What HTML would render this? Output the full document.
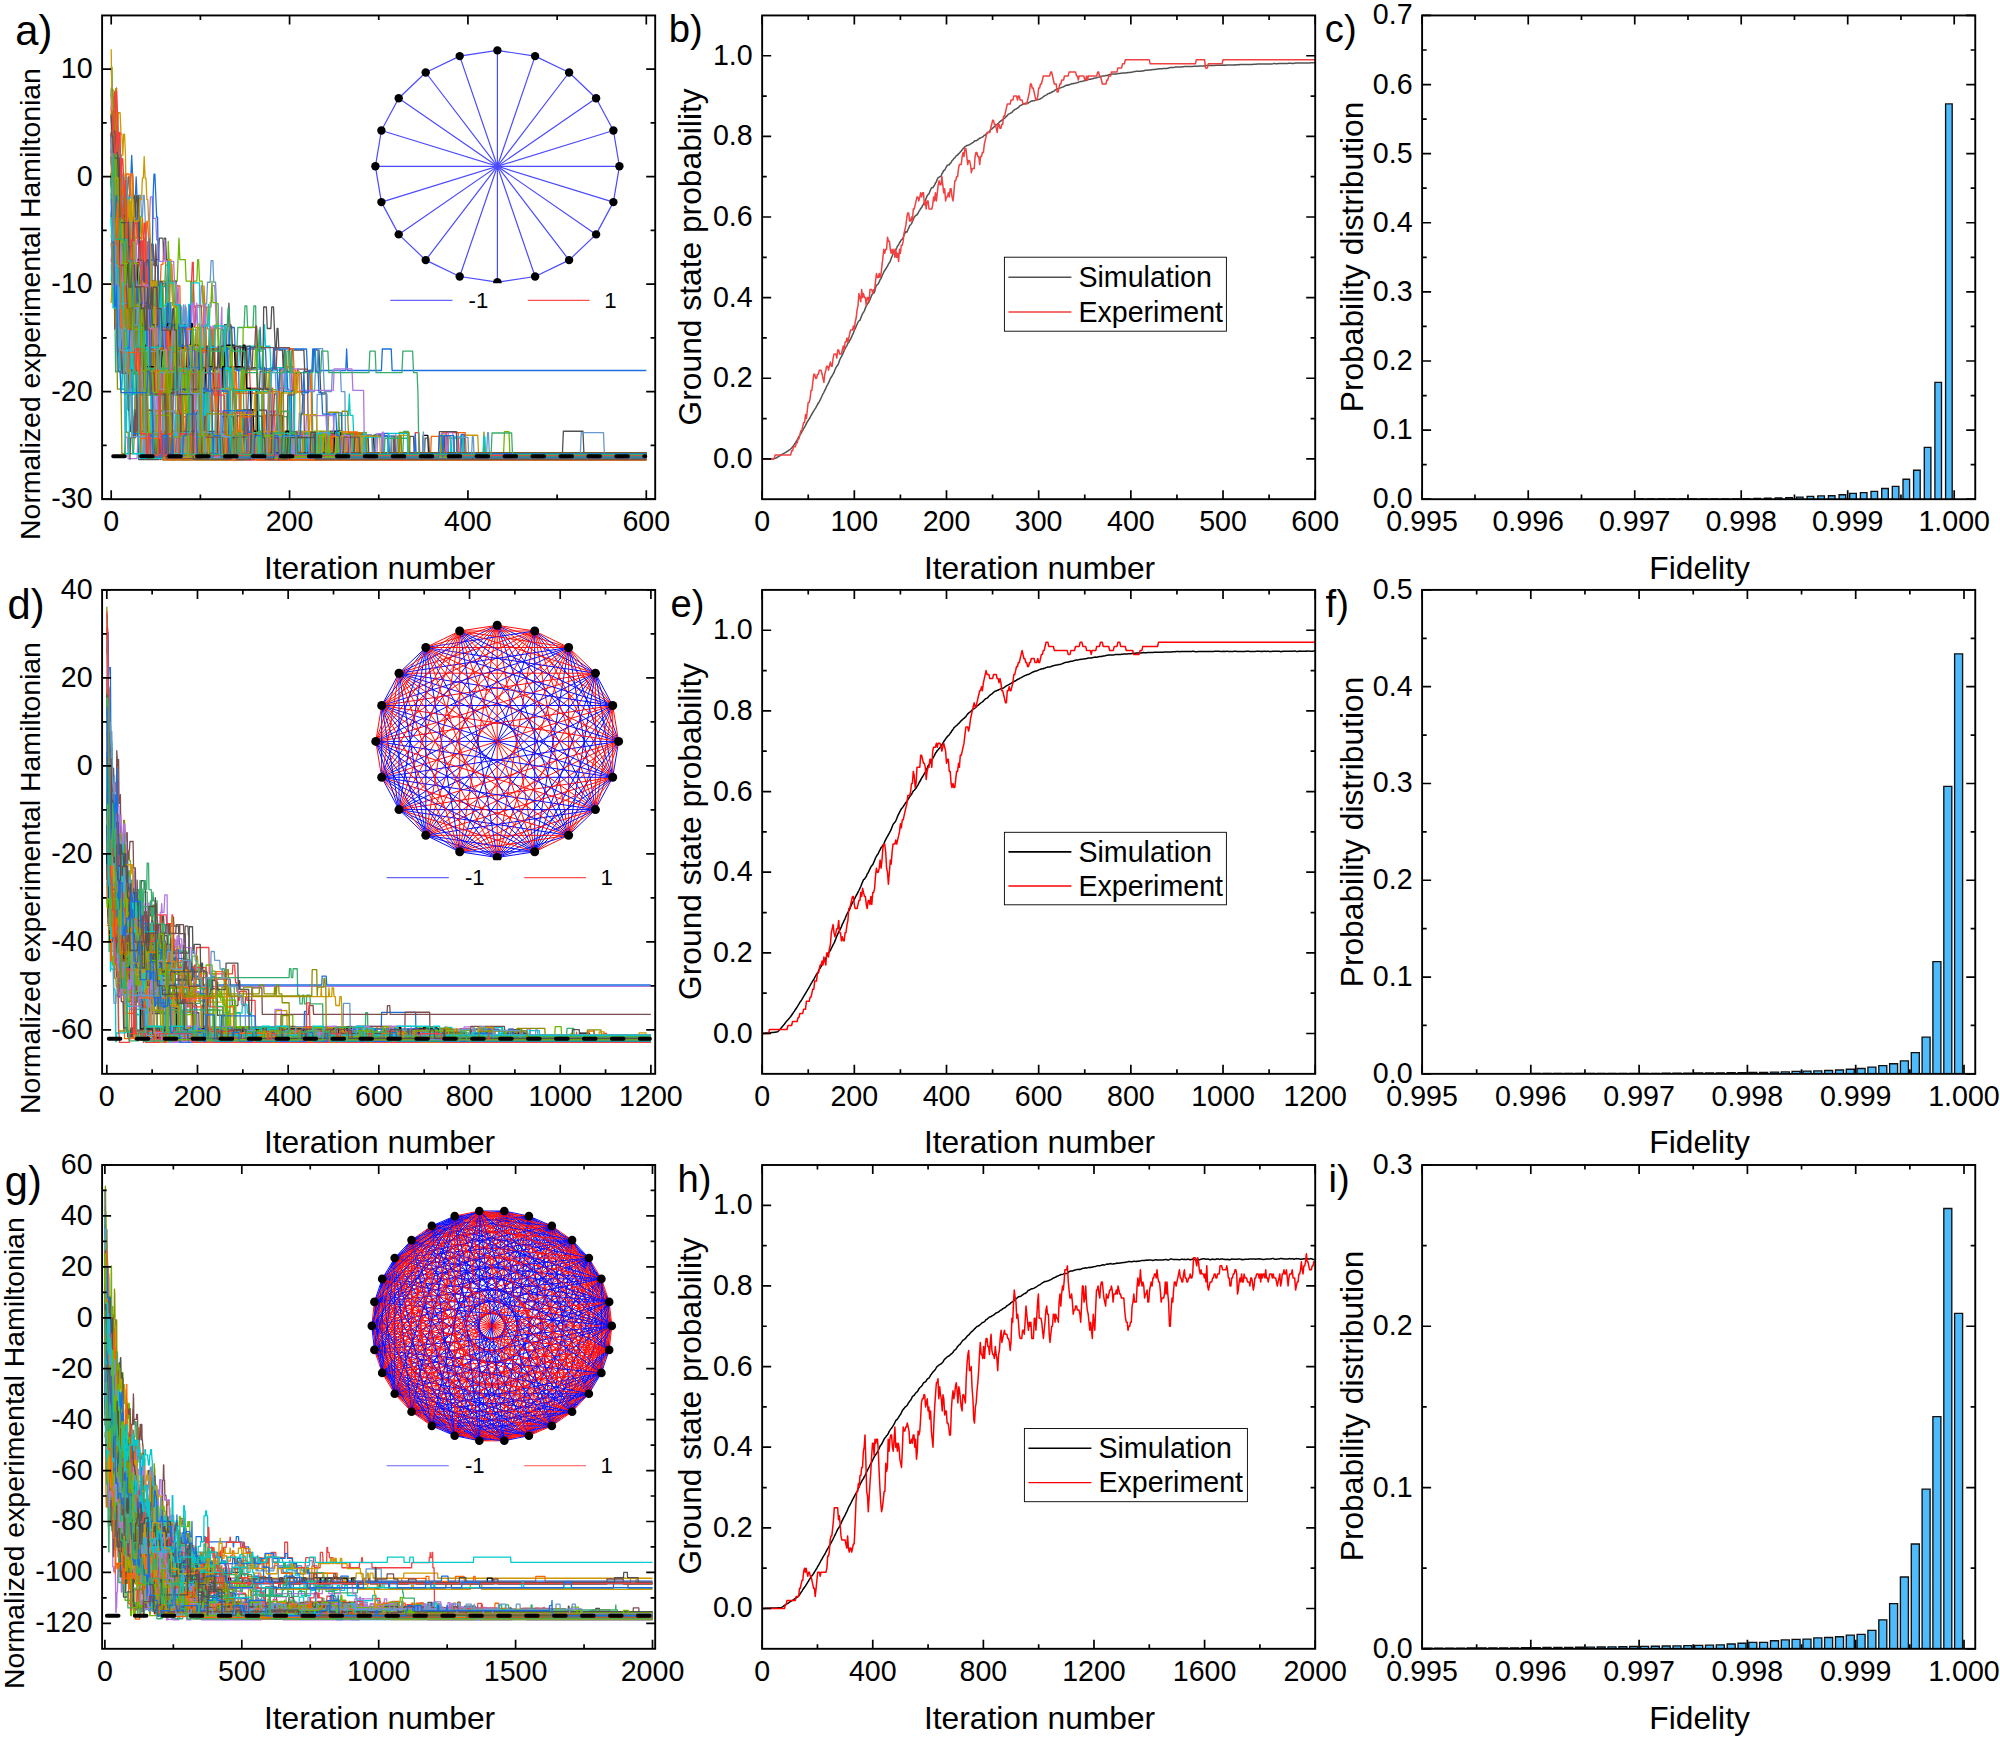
<!DOCTYPE html>
<html><head><meta charset="utf-8"><title>Figure</title>
<style>html,body{margin:0;padding:0;background:#fff}svg{display:block}text{font-family:"Liberation Sans", Arial, sans-serif;fill:#000}</style>
</head><body>
<svg width="2000" height="1739" viewBox="0 0 2000 1739">
<rect width="2000" height="1739" fill="#fff"/>
<clipPath id="cp1"><rect x="102.1" y="15.45" width="553.1" height="483.75"/></clipPath>
<g clip-path="url(#cp1)"><g transform="translate(111.2 176.7) scale(0.89183 -10.75000)" fill="none" stroke-width="1.3" stroke-linejoin="round">
<path vector-effect="non-scaling-stroke" stroke="#515151" d="M0 -3.99h2l1-2h1l1-2h1l1-2h1l1 2h3l1-2h1l1-6h1l1 2h2l1 2h4l1-2h3l1-2h3l1-2h2l1 2h3l1-2 1 2h3l1-2 1 2h1l1-2h2l1-2h1l1 2 1-6h14l1 2h32l1-2h12l1-2h71l1 6h1l1 2h3l1-2h7l1-6h41l1 2h4l1-2h21l1 2h18l1-2h6l1 2h8l1-2h295"/>
<path vector-effect="non-scaling-stroke" stroke="#F14040" d="M0 0.32l1-2h1l1-2 1-6h1l1 2h1l1 2 1 2h4l1 2h1l1 2 1-2 1-2h1l1 2 1-6h2l1 2h5l1 2 1-2h3l1-6h2l1-2h6l1-6h2l1-6h1l1 2h3l1-2 1 2h5l1-2h8l1 2h5l1 2 1-2h24l1-2h17l1 6h13l1 2h21l1-2h25l1-6h6l1 6h6l1 2h8l1-6 1-2h394"/>
<path vector-effect="non-scaling-stroke" stroke="#1A6FDF" d="M0 -4.25h4l1-2 1-2 1-2 1-2h1l1 2h4l1-2 1-2 1 2h3l1-2h3l1 2h8l1-2h1l1-2h3l1-2h4l1-2 1 2h2l1 2 1-2h1l1-6h3l1-2h38l1 2h10l1-2h6l1 2h5l1-2h14l1 2h3l1-2h45l1 2h21l1-2h71l1 2h1l1-2h320"/>
<path vector-effect="non-scaling-stroke" stroke="#37AD6B" d="M0 8.31l1-2 1-2 1 2 1-6 1-6 1-2h1l1-6h4l1 2h2l1-2h6l1-2 1-2h3l1-2h4l1 2h2l1 2 1-2h1l1-6h4l1 2h6l1-2h1l1-2h37l1 2h7l1-2h15l1 2h14l1-2h4l1 2h29l1-2h29l1 2h11l1-2h3l1 2h4l1-2h111l1 2h5l1-2h266"/>
<path vector-effect="non-scaling-stroke" stroke="#B177DE" d="M0 -4.13h3l1-2 1-2 1-6 1 2h5l1-2h3l1-6h40l1 2h7l1 2h5l1 2h1l1 2 1 2 1-2h3l1-2h3l1 2 1-2h5l1 2 1 2 1-2h7l1 2h1l1-2h9l1 2h3l1-2 1-2h5l1 2 1-6h6l1 2h1l1-2h3l1-2h31l1 2h1l1-6h2l1 2h2l1-2 1-2h18l1 2 1-2h114l1 2h9l1-2h276"/>
<path vector-effect="non-scaling-stroke" stroke="#CC9900" d="M0 7.95l1-2 1-2h1l1-2h1l1 2h1l1 2h2l1-2h1l1-2 1 2h1l1-2 1-6 1 2h1l1-2h1l1-2 1 2 1-2 1 2 1-2 1-2h3l1-2h3l1 2h2l1-2 1-2 1-2h1l1 2h2l1-2h1l1 2h1l1-6h1l1-2h10l1 2h10l1-2h1l1-6 1 2h1l1-2h4l1 2 1 6 1-2h2l1-2 1 2h1l1-2h6l1-2h8l1-2h12l1 2h4l1-2h5l1 2h12l1-2h30l1 2h1l1-2h6l1 2h32l1-2h16l1 2h40l1-2h119l1 2h16l1-2h188"/>
<path vector-effect="non-scaling-stroke" stroke="#00CBCC" d="M0 -9.77l1 2h1l1-2h3l1-2h2l1-2 1-6h1l1 2h2l1-6h1l1 6 1 2h5l1-2h27l1 2 1 2h7l1 2h1l1-2h1l1-2h13l1-2 1 2 1-2h26l1 2h2l1-2h31l1 2h7l1-2h2l1 2h9l1-2h4l1 2h1l1 2 1-2h5l1-2h15l1-2h4l1-6h4l1 2h4l1-2h390"/>
<path vector-effect="non-scaling-stroke" stroke="#000000" d="M0 1.94l1-2 1 2h2l1-6h3l1 2 1-2h1l1 2 1-2 1-2h1l1 2 1-2 1-2h1l1 2 1-6h2l1 2h1l1-2 1-2 1 2h1l1-2h2l1 2 1-2 1 2 1-2h7l1 2h3l1 2h7l1-2h1l1-2h3l1-6h15l1 2 1-6h9l1 2h11l1 2h4l1-6h41l1 2h6l1-2h8l1 6 1-6h5l1 2h6l1-2h17l1 2h7l1-2h16l1 2h8l1-2h12l1 2h6l1-2h43l1 2h11l1-2h43l1 2h5l1-2h244"/>
<path vector-effect="non-scaling-stroke" stroke="#8E8E00" d="M0 -3.97h1l1-2 1-2h6l1 2h1l1 2 1-2 1-2 1-6h1l1 2h7l1-2 1-2h5l1 2h3l1-2 1-6h1l1-2h7l1-2h32l1 6h2l1 2h6l1-6h2l1-2h1l1 2h4l1 2h3l1 2h4l1-2h3l1 2h1l1 6 1-6h14l1 2h4l1 2h4l1-2h8l1-2h2l1 2h10l1 2h2l1-2h3l1-6h3l1-2h31l1 2h11l1-2h1l1 2h10l1-2h38l1 2 1-2h328"/>
<path vector-effect="non-scaling-stroke" stroke="#FB6501" d="M0 1.67l1-2h3l1-6 1-2 1-2 1 2 1-2 1-2h11l1-2 1-2h3l1-2h1l1-2h7l1 2h4l1 2h2l1 2 1-2h1l1-2h7l1-2h13l1 2h1l1-2h7l1-6h2l1 2 1 2h7l1-2h2l1-2h51l1 2h28l1-2h30l1 2h17l1-2h33l1 2h6l1-2h334"/>
<path vector-effect="non-scaling-stroke" stroke="#6699CC" d="M0 6.18h1l1-6 1-6 1-6 1-2h1l1-2h1l1-2 1 2 1-2h2l1 2h1l1 2h7l1-2h1l1-2 1 2 1-2h5l1 2h7l1-2h8l1 2h1l1-2h1l1-2h3l1 2h4l1 2h5l1 2h3l1-2 1-2h19l1-2 1 2 1 2h3l1 2h4l1 2h1l1 2h3l1 2h2l1-2h2l1-2h2l1-6h5l1-2h2l1-6h10l1 2h5l1-2h2l1 2h8l1-2h57l1 2h4l1-2h199l1 2h1l1-2h176"/>
<path vector-effect="non-scaling-stroke" stroke="#6FB802" d="M0 6.03h1l1-2 1-2 1-2h2l1 2 1 2 1-2h2l1-2 1-2 1-2h1l1-2 1-6h2l1-2h3l1-2h3l1-2h9l1 2h2l1 2 1-2h6l1-2 1 2h22l1 2h1l1 2 1-2 1 2h1l1-2h5l1-2h1l1-2h1l1-6h7l1-2h22l1 2h15l1 2h4l1 2h4l1-6h47l1 2h12l1-2h29l1 2h27l1-2h10l1 2h2l1-2h321"/>
<path vector-effect="non-scaling-stroke" stroke="#515151" d="M0 -8.12h4l1-2h1l1-2h2l1-2 1-2h1l1 2h1l1 2h3l1 2h4l1-2h3l1 2h6l1-2h1l1 2 1-2h5l1-2h10l1-2 1 2 1-2h2l1 2 1 2h2l1-6 1 2 1 2h2l1-2h2l1-2h9l1 2h5l1-2h2l1 2h10l1-2 1 2h18l1-2h1l1 2 1-2h3l1-2h1l1-6h7l1 2h8l1-2h14l1 6h3l1 2h3l1 6h3l1-2h4l1 2h2l1-2 1-2h1l1 2h1l1-2h4l1-2 1 2h1l1-2h6l1 2h13l1-2h9l1 2h6l1-2 1-2h6l1-6h44l1 2h23l1-2h289"/>
<path vector-effect="non-scaling-stroke" stroke="#F14040" d="M0 6.20l1 2 1-2 1-2 1 2 1-6 1-2 1-2h1l1-2h1l1 2h3l1-6h2l1 2 1 2 1 2 1-2 1-2h1l1-2h1l1-2h3l1 2h2l1-2h5l1 2h5l1-6h5l1 2h9l1 2 1 2h2l1-2h1l1-2h2l1-2h4l1-2h4l1 2 1-2 1 2h2l1-2h2l1-2 1 2h12l1-2h14l1 2h8l1-2h11l1-2h3l1-2h10l1 2h2l1-2 1 2 1-2h24l1 2h2l1-2h14l1-2h4l1 2h19l1-2h114l1 2h4l1-2h254"/>
<path vector-effect="non-scaling-stroke" stroke="#1A6FDF" d="M0 5.86l1-2 1 2 1-2h1l1-2h1l1-2h1l1-2h1l1-2 1-6h1l1 2 1-2h2l1-2h3l1-6h3l1 2 1 2h3l1 2 1-2h1l1 2 1-6h1l1-6h7l1-2h121l1 2 1-2h128l1 2h20l1-2h282"/>
<path vector-effect="non-scaling-stroke" stroke="#37AD6B" d="M0 -2.03h3l1-2 1 2h1l1 2 1-2h2l1-2h2l1-2h2l1-2h3l1-6h3l1-2h1l1-2h10l1-2h1l1-2h8l1-2h5l1-2h25l1 2h5l1-2h3l1 2h7l1-2h10l1 2h8l1-2h5l1 2h3l1 2 1 6h11l1 2h7l1 2h2l1-2h6l1 2h2l1-6h1l1-2h12l1-6h27l1 6h15l1 2h3l1-6h3l1-2h370"/>
<path vector-effect="non-scaling-stroke" stroke="#B177DE" d="M0 5.74h1l1-6 1 2h1l1-2h1l1 2 1 2 1-6 1-6h1l1-2h1l1-2h1l1-2 1-2h5l1-2h9l1 2h1l1-2h2l1-2h4l1 2h8l1-6h2l1-2 1 2h5l1-2h65l1 2h3l1-2h74l1 2h4l1-2h52l1 2h1l1-2h333"/>
<path vector-effect="non-scaling-stroke" stroke="#CC9900" d="M0 3.93l1-2 1-6 1-2h1l1-2h1l1-2h3l1 2h4l1-2h2l1 2h4l1-2 1-2h1l1-2 1 2h5l1 2h1l1 2h1l1-2h3l1-2h1l1-2h2l1-2h5l1 2h1l1-2h1l1-2h3l1-2h5l1-6h49l1 2h8l1-2h27l1 2h10l1-2h13l1 2h13l1-2h5l1 2h23l1-2h100l1 2h9l1-2h266"/>
<path vector-effect="non-scaling-stroke" stroke="#00CBCC" d="M0 -4.21l1 2 1-2h3l1 2 1-6 1-2h1l1 2 1 2 1-2 1 2h2l1-6h6l1-2 1-6h3l1 2h6l1 2h1l1-2h1l1-2h6l1 2 1-6h2l1-2h5l1 2 1-2h12l1 2h18l1-2h44l1 2h10l1-2h39l1 2h5l1 6h9l1-2 1-6h43l1 2h8l1 2h11l1 2 1-2h3l1-2 1-2h327"/>
<path vector-effect="non-scaling-stroke" stroke="#7D4E4E" d="M0 -0.17l1-2 1-2 1 2h1l1-2 1-2h1l1-6h1l1-2h2l1 2h1l1 6 1-2h3l1-2h1l1 2h2l1-2h1l1-2h1l1-2h10l1-2h3l1-2 1 2h5l1-2h3l1-2h7l1-6h3l1 6h8l1-6h28l1 2h8l1-2h70l1 2h18l1-2h15l1 2h8l1-2h371"/>
<path vector-effect="non-scaling-stroke" stroke="#8E8E00" d="M0 2.18l1 2 1-2 1-2 1 2 1-2 1 2 1-2 1-2h2l1-2 1 2 1 2 1-2 1-2h1l1-2 1-6 1-6h3l1-6h3l1 6h5l1-2h2l1-6h29l1 2h31l1-2h38l1 2h4l1-2h111l1 2h4l1 2h6l1-2h20l1-2h313"/>
<path vector-effect="non-scaling-stroke" stroke="#FB6501" d="M0 -0.15l1-2h1l1-2h2l1 2h1l1-2 1-2h1l1-2 1 2h1l1 2 1 2 1-2h4l1-6h5l1-2h5l1 2 1 2 1 2 1-2 1 2h2l1 2h1l1-2 1-2h6l1-2h5l1 2h2l1 2h1l1-2 1-2h1l1-2h1l1 2 1 2h1l1-2 1-2h2l1 2h4l1-6h18l1 2h2l1-2h3l1 6 1-2h2l1-2h2l1-6h8l1 2h1l1-2 1 2h2l1-2h6l1 2h7l1-2h28l1-2h3l1-2 1-2h68l1 2h20l1-2h6l1 2h2l1-2h83l1 2h21l1-2h219"/>
<path vector-effect="non-scaling-stroke" stroke="#6699CC" d="M0 -0.01l1-2 1-2h2l1 2 1-2 1 2 1-2h1l1-2 1 2 1 2h2l1-2h1l1 2h3l1-2 1-2 1-2h1l1-2h1l1-2h1l1 2 1-2h8l1-6h1l1-6h32l1-2h16l1 2 1-2h18l1 2 1-2h1l1 2 1-2h2l1 2h1l1-2h48l1 2h16l1-2h45l1 2h19l1-2h139l1 2h3l1-2h204"/>
<path vector-effect="non-scaling-stroke" stroke="#6FB802" d="M0 0.34l1-2h2l1-6h1l1-2h1l1-6h1l1 6h2l1 2h1l1 2 1-2h3l1 2 1-2h2l1 2h6l1 2 1-2 1 2 1-2 1-6 1-2 1-2 1-2h4l1-2h3l1 2 1 2 1-2h5l1 2h4l1-2 1 2h3l1 2h4l1-2h5l1-2h3l1 2 1 2h2l1-2h1l1-2h3l1 2h7l1-2h16l1-2h3l1 2h7l1-2h5l1-6h62l1 2h3l1-2h27l1 2h17l1-2h13l1 2 1-2h339"/>
<path vector-effect="non-scaling-stroke" stroke="#515151" d="M0 -3.68h2l1 2 1 2 1 2 1-2 1-2h3l1-2h1l1-2h1l1-2h1l1-2 1-6 1-6h1l1-2h1l1 2h1l1-2h1l1 2 1-2h12l1-2h16l1 6h13l1 2h7l1-6h24l1-2h36l1 2h5l1 2h17l1-2h4l1-2h46l1 2 1-2h26l1 2h4l1-2h255l1 2h22l1-2h70"/>
<path vector-effect="non-scaling-stroke" stroke="#F14040" d="M0 0.16h1l1-2h1l1 2 1-2h1l1 2h1l1-6 1-2 1 2h1l1 2 1-2h1l1-2h6l1-2h1l1-2h4l1-2h2l1 2h2l1 2h1l1-2 1-2 1 2h1l1 2h1l1 2 1-2h4l1-2h1l1-2h4l1-6h3l1-2h11l1-2h5l1-2h2l1 2h5l1-2h50l1 2h4l1-2h29l1 2h1l1 2h7l1-2h1l1-2 1 2 1-2h4l1 2h5l1-2h2l1 2h1l1-2h396"/>
<path vector-effect="non-scaling-stroke" stroke="#1A6FDF" d="M0 -9.97h1l1 2h1l1-2h3l1-2h1l1 2 1-2 1 2h4l1 2 1-2h2l1 2 1 2h1l1-2h1l1 2 1-2 1-2 1 2h1l1-6 1 2h2l1 2h2l1-2h1l1-2h2l1 2h2l1 2h6l1-2h4l1-2h1l1-2 1 2h6l1-2 1-2h1l1 2 1 2 1-2h3l1 2h7l1-2h4l1-2h13l1-6h7l1-2h3l1 2h11l1-2h101l1 2h6l1-2h6l1 2h5l1 2h8l1-2h9l1-2h123l1 2h3l1-2h203"/>
<path vector-effect="non-scaling-stroke" stroke="#37AD6B" d="M0 -8.16l1-2h1l1-2h1l1-6h5l1 2h1l1-2h14l1 2h3l1 2 1 2h1l1-2h2l1-2h10l1 2h5l1 2 1-2h2l1-6 1 2h4l1-2h1l1-2h1l1-2h3l1 2h2l1-2h10l1-2 1 2h4l1-2h27l1 2h15l1-2h29l1 2h8l1 2h11l1-2h9l1-2h24l1 2h10l1-2h45l1 2h5l1-2h28l1 2h6l1-2h278"/>
<path vector-effect="non-scaling-stroke" stroke="#B177DE" d="M0 1.76l1-2 1-2h1l1-2 1 2 1 2 1-2h2l1-2h2l1-2h3l1-2 1 2h1l1-6h4l1 2 1-2 1-2 1-6h2l1 2h17l1-2 1 2h8l1-2h15l1 2h26l1-6h2l1-2h22l1 2h5l1 2h5l1-2h8l1-2h41l1 2h6l1-2h402"/>
<path vector-effect="non-scaling-stroke" stroke="#CC9900" d="M0 -1.67h4l1-2 1-6h2l1 2 1-2h2l1-2h4l1-2h8l1 2 1 2 1-2h3l1-2h1l1-2h3l1-6h9l1-2h5l1-2h14l1 2 1-2h31l1 2h12l1-2h91l1 2h6l1-2h385"/>
<path vector-effect="non-scaling-stroke" stroke="#00CBCC" d="M0 -1.99l1-2 1-2 1-2h1l1 6 1-2h1l1 6 1 2 1-6h2l1 2 1-6 1 2h1l1-2h2l1-6 1-2h2l1-2h2l1-2h1l1-2h1l1-6h2l1 2 1-2h14l1 2h26l1-2h33l1 6h9l1 2h2l1-2 1 2h8l1-6h10l1 2h2l1-2h19l1-2 1 6h8l1 2 1-2 1 2h14l1-2 1 2 1-2h8l1-6h5l1 2h12l1-2h375"/>
<path vector-effect="non-scaling-stroke" stroke="#7D4E4E" d="M0 -0.27l1-2h2l1 2 1-2 1-2h1l1-2h3l1 2h2l1-6h2l1 2 1 2 1-2 1-2h3l1-2h2l1-2h3l1 2h2l1 2h1l1-2h3l1 2h2l1 2 1 2h2l1-2h1l1 2 1-2h1l1-6h8l1-2 1-2h1l1-2h3l1-6 1 2h13l1-2h47l1 2h13l1-2h21l1 2h31l1-2h1l1 2h1l1-2h7l1 2 1-2h387"/>
<path vector-effect="non-scaling-stroke" stroke="#8E8E00" d="M0 -1.91l1-2h2l1-2 1 2 1 2h1l1-6h1l1-6h4l1 2 1 2h1l1-2 1-6h1l1-2h3l1 2h2l1-2h1l1 2h1l1 2h3l1 6h1l1 2 1-2 1 2 1-6h4l1 2 1-2h3l1-2h1l1-2h4l1-2h2l1 2 1-2h5l1 2 1-2h3l1 2h9l1-2h14l1 2h7l1 2 1-6h1l1-2h10l1-2h33l1 2h9l1-2h5l1 6h1l1 2h2l1-2h2l1-6h22l1 2h42l1 2h11l1-2h27l1-2h86l1 2h4l1-2h224"/>
<path vector-effect="non-scaling-stroke" stroke="#FB6501" d="M0 -1.81h1l1-2h1l1-2h1l1-2 1 2 1-2h3l1 2h1l1-2h2l1-2 1-2 1-2h4l1-2h1l1-2h5l1-6h6l1-2 1 2 1-2h21l1 2 1-2h23l1 2h1l1 2h2l1 2h16l1-2h21l1 2h6l1-2h11l1-2h4l1-2h33l1 2h4l1-2h83l1 2h5l1-2h85l1 2h26l1-2h202"/>
<path vector-effect="non-scaling-stroke" stroke="#6699CC" d="M0 0.08l1-2h3l1-2 1 2h2l1 2h1l1 2 1-2 1-6h2l1-6h4l1-2h2l1-2h3l1-6h1l1-2h7l1-2h6l1 6h1l1 2 1 6h3l1-2h5l1 2 1-2h2l1-6h5l1 2h2l1 2 1 2h2l1 2h2l1-2h2l1 2 1-2 1 2 1-2h2l1 2 1-2 1-2h1l1-2h2l1-2h27l1 2h1l1 2 1 2h3l1-2h2l1 2 1-2h16l1-2h19l1-6h16l1-2h24l1 2h4l1-2h79l1 2h6l1-2h296"/>
<path vector-effect="non-scaling-stroke" stroke="#6FB802" d="M0 0.29l1-2 1-2h1l1-2 1-2h1l1-6 1 2h4l1-2h1l1 2 1-6h3l1-2h1l1 6h3l1 2h4l1 2h2l1 2h2l1 2h2l1-2h4l1-2h2l1-2h2l1 2 1-2h2l1-2h8l1 2h7l1 2h2l1 2 1 2 1-2h6l1-2h5l1-2h1l1 2h4l1 2h1l1-2h3l1-2h1l1-2h5l1 2h1l1 2 1-2h4l1-2h1l1-6h5l1-6h9l1 2h5l1-2h1l1 2 1-2h9l1 2h5l1-2h278l1 2h5l1-2h153"/>
<path vector-effect="non-scaling-stroke" stroke="#515151" d="M0 7.68l1-2 1-2h2l1-6h1l1 2 1-2 1-6 1-2h1l1-2h1l1-2 1-2h3l1-2 1-2h3l1 2h5l1-6 1-2h22l1 2 1-2 1 2h1l1-2h1l1 2h8l1-2h20l1 2 1 6h6l1 2h3l1-2 1-6h11l1-2h4l1 2h3l1 2h13l1-2h2l1-2h39l1 2h1l1-2h83l1 2h5l1-2h78l1 2h4l1-2h243"/>
<path vector-effect="non-scaling-stroke" stroke="#F14040" d="M0 -7.98l1 2h1l1-2h1l1 2h3l1-2 1 2 1-2h4l1-2h7l1-2h2l1 2h1l1 2h3l1 2h2l1-2h1l1-6h1l1-2h1l1 2h1l1-2h11l1 2h4l1 2 1-2 1-2h3l1-2h2l1-2h5l1 2h5l1 2h3l1 2h2l1 2 1 2 1 2h1l1-6h1l1 2h6l1-2h3l1-2h4l1 2h1l1-2h7l1-2h1l1-6 1 2h33l1-2h7l1-2h41l1 2h7l1-2h33l1 2h6l1-2h343"/>
<path vector-effect="non-scaling-stroke" stroke="#1A6FDF" d="M0 -0.03l1-2 1-6 1 2h4l1-2h1l1 2h1l1-2h1l1 2 1 2h1l1 2h1l1 2h1l1-2 1 2 1 2 1-2 1-2h2l1 2 1-2h1l1-6 1-6 1-2 1-2 1 2h9l1-2h10l1 2h5l1 2h2l1-2 1-2h7l1 2h2l1 2 1-2 1 2h4l1-2h7l1-2h17l1 2h22l1 2h5l1-2 1-2h10l1 2h15l1 2 1-2h5l1-2h7l1 2h37l1-2h5l1 2h6l1-2h30l1 2 1-2h38l1 2h10l1-2h285"/>
<path vector-effect="non-scaling-stroke" stroke="#37AD6B" d="M0 -0.31l1-2h1l1 2 1-6 1 2h1l1-2 1-2h1l1 2 1 2 1 2h4l1 2 1-2 1-2 1 2h2l1-2 1-2h1l1-2 1-6h5l1 2h1l1-6h5l1 6h10l1-6 1-2h22l1 2 1-2h2l1-6 1 2 1-2h45l1 2h9l1-2h19l1 2h4l1-2h1l1 2h9l1-2h14l1 2h1l1 2h5l1-2h3l1-2 1 2h11l1-2h162l1 2h16l1-2h205"/>
<path vector-effect="non-scaling-stroke" stroke="#B177DE" d="M0 -3.90h1l1-2h4l1 2 1-2 1 2 1-2h2l1-2h2l1-2 1 2 1-2h2l1-2 1 2h5l1-2h1l1-6h1l1-2h1l1 2h5l1-6h9l1-2h30l1 2h4l1-2h36l1 2h9l1-2h31l1 2h5l1-2h127l1 2h20l1-2h280"/>
<path vector-effect="non-scaling-stroke" stroke="#CC9900" d="M0 -11.75l1 2 1-2h1l1 2 1-2h2l1-2h8l1-2h11l1-2 1 2 1-2h2l1-2h1l1 2 1-6h3l1 2h1l1-2h18l1-2h16l1 2h17l1 2h14l1 2 1-6h32l1 2 1-2h1l1 2h3l1-2h11l1 2h23l1-2h46l1 2h2l1-2h361"/>
<path vector-effect="non-scaling-stroke" stroke="#00CBCC" d="M0 8.07l1-2h1l1-6h2l1-2 1-2h1l1 2h4l1-2 1 2h1l1 2 1-2 1-2 1 2 1-2h1l1-6 1 2h1l1-2h4l1-2 1-2h4l1-2h1l1 6 1-6h6l1-2 1-2 1 2h2l1 6h1l1-6h9l1-6h10l1-2h19l1 6h2l1 2 1-2 1-6h9l1 6 1 2h6l1-6h14l1-2h86l1 2 1-2h15l1 2 1-2h11l1 2h2l1-2h18l1 2 1-2h327"/>
<path vector-effect="non-scaling-stroke" stroke="#7D4E4E" d="M0 -6.17l1-2h2l1-6 1 2h1l1 2 1 6h2l1-2h2l1-2h1l1 2h2l1-6h3l1 2h3l1-2 1-6 1-6h4l1-2h4l1 2h1l1-2h1l1 2h6l1-2h4l1 2h2l1-2h12l1 2 1-2h14l1 2 1 6h14l1-6h2l1-2h16l1 2h7l1-2 1 2h7l1-2h1l1 2h17l1-2h5l1 2 1-2h29l1 2h21l1-2h97l1 2h1l1-2h281"/>
<path vector-effect="non-scaling-stroke" stroke="#8E8E00" d="M0 -7.76h1l1-2 1-2h1l1-2h1l1-6h4l1-6h3l1 2h3l1-2h5l1 2h8l1 2h26l1-2h4l1-2h19l1 6h2l1-2h3l1-2h10l1-2h24l1 2h13l1-2 1 2h4l1-2h12l1 2h5l1-2h5l1 2h23l1-2h218l1 2 1-2h181"/>
<path vector-effect="non-scaling-stroke" stroke="#FB6501" d="M0 0.01l1-2h1l1 2 1-2 1-2 1-2h1l1-2 1-2h1l1-6 1-2h7l1 2 1 2h1l1-2h7l1 2h1l1-2 1-2h4l1-2h1l1-6h38l1 2 1-2h22l1 2h6l1-2h26l1 2h7l1 6h5l1-6h3l1-2h7l1 2h12l1 6h1l1-2h10l1 2h8l1 2h5l1-2h2l1-2h15l1 2 1-6h14l1-2h360"/>
<path vector-effect="non-scaling-stroke" stroke="#6699CC" d="M0 4.01l1-2 1-2 1-6h4l1-6h5l1 2h2l1 2h1l1-6h1l1 2 1 2h3l1 2 1-2h2l1-2h5l1-2h2l1-2 1 2h1l1 6h2l1-2 1-2 1-6 1-2h5l1 2h4l1-6h2l1-2h1l1 2h6l1-2h12l1 2 1-2h3l1 2h19l1 6h20l1-2h2l1-6h1l1 2h9l1-2h26l1 2h11l1-2h24l1 2h1l1 2h5l1 2h11l1 2h2l1 2h5l1-2 1-2h8l1 2h9l1-2h4l1-6h20l1 2h8l1-2h307"/>
<path vector-effect="non-scaling-stroke" stroke="#6FB802" d="M0 10.18h1l1-6h1l1 2 1 2 1-6 1-6h1l1-2 1-2h1l1-2h7l1 2h1l1-6 1-2h3l1-2h1l1 2h6l1 2h2l1 2h3l1-2h1l1 2h1l1-2h1l1-2 1-2h3l1 6 1 2 1-2h2l1-2h1l1 2h4l1-2 1-2h1l1-2h9l1 2 1-2h6l1 2h7l1-2h16l1 2h3l1 2h3l1-2h3l1-2h1l1 2 1-2h1l1 2h4l1-2h1l1-2h9l1 2h15l1 2h8l1-2h1l1-2h4l1 2 1-2h6l1-6h4l1 2h2l1-2h39l1 2h16l1-2h349"/>
<path vector-effect="non-scaling-stroke" stroke="#515151" d="M0 -0.25l1-2h1l1-2h1l1-2h6l1-6 1-6h5l1 2h1l1 2 1 2 1-2h4l1-2 1-2h1l1-2h9l1-6h4l1 2h4l1-2h79l1 2h9l1 2h7l1-2h3l1-2h43l1 2h24l1-2h13l1 2h3l1-2h360"/>
<path vector-effect="non-scaling-stroke" stroke="#F14040" d="M0 -3.78h1l1-2 1-2h16l1 2 1-2 1-6h6l1-6h33l1 2h2l1 6 1-2 1-6h10l1-6h21l1 2h21l1 2 1-2h5l1-2h142l1 2h3l1-2h98l1 2h13l1-2h210"/>
<path vector-effect="non-scaling-stroke" stroke="#1A6FDF" d="M0 -1.87l1 2 1 2 1-2 1-2 1 2 1-2 1 2 1-2 1-2h1l1-2 1 2 1-6h2l1-2 1-2h2l1 2 1-2h2l1 2 1 2 1-2h3l1-2 1-2 1-2 1 2h2l1 2 1-2h7l1-2h14l1 2 1-2h93l1 2h11l1-2h15l1 2 1-2h2l1-2h1l1 2h8l1-2h4l1-6h17l1 2h3l1-2h1l1 2h7l1-2h70l1 2h5l1-2h288"/>
<path vector-effect="non-scaling-stroke" stroke="#37AD6B" d="M0 2.20h1l1-2h1l1-2 1-2 1 2 1-2 1-2 1-2h1l1 2h1l1-6h5l1-2h5l1-6h11l1-6h8l1 6 1 2 1-2h1l1-6h9l1 2h3l1-2h19l1 2h4l1 2h6l1 6 1-2 1-6h3l1 6h1l1-2h2l1-2 1 2h7l1 2h4l1 2h5l1-2h8l1-2h1l1 2h10l1-6h18l1-2h20l1 2 1 2h10l1-2h3l1-2h395"/>
<path vector-effect="non-scaling-stroke" stroke="#B177DE" d="M0 -2.22l1-6 1-2h1l1 2 1 2 1-6 1-2h1l1 2h2l1-2 1-2 1-2h1l1-6h2l1-2h10l1 2h6l1-2h1l1 6h6l1 2h2l1-6h7l1-2h10l1 2h24l1-2h31l1 2h7l1-2h10l1 2h8l1-2h5l1 2 1-2h7l1 2h1l1-2h46l1 2h1l1 2h22l1-2 1 2h6l1-2 1-2h349"/>
<path vector-effect="non-scaling-stroke" stroke="#CC9900" d="M0 2.21h3l1-2h2l1-2 1-2 1-2 1 2h2l1-2 1 2h3l1-2 1 2h3l1 2 1 2 1-6h1l1-6h3l1-6h2l1-6h7l1-2 1 2h8l1 2h23l1-2h5l1-2h1l1 2h4l1-2h10l1 2 1-2h139l1 2h2l1-2h356"/>
<path vector-effect="non-scaling-stroke" stroke="#00CBCC" d="M0 -0.22l1-2 1-2 1-6h3l1-2h2l1-2h8l1-6h10l1 2h1l1-2h1l1 2h4l1 6 1-6h4l1-6 1 6h11l1 2h1l1-2h6l1 2h1l1-2h15l1-2h19l1-6 1 6 1-6h28l1 2h4l1-2h130l1 2h4l1-2 1 2h25l1-2h76l1 2 1-2h218"/>
<path vector-effect="non-scaling-stroke" stroke="#7D4E4E" d="M0 3.71l1-2 1-6h3l1-6h1l1-6h3l1-2h7l1-2 1-6 1 2h3l1 2 1-2 1 2 1 6 1 6h1l1-6h7l1-2h10l1-2h12l1-6h39l1 2 1 2h1l1-2h3l1-2h50l1 2h7l1-2h27l1 6h7l1 2h7l1-2h2l1-6h383"/>
<path vector-effect="non-scaling-stroke" stroke="#8E8E00" d="M0 2.25l1-6h1l1 2h1l1-6h10l1-2h1l1-2h5l1-2h9l1 2 1-2h4l1 2 1 2 1 2h2l1-6h2l1-6h9l1-2h1l1 2h9l1 6h2l1-6h12l1-6h9l1 2h2l1-2h3l1 2h7l1-2h79l1 2h2l1-2h39l1 2h3l1-2h362"/>
<path vector-effect="non-scaling-stroke" stroke="#FB6501" d="M0 6.25l1-2 1-2 1 2 1 2h1l1 2 1-6h1l1-2h2l1-2h1l1 2 1-2h1l1 2h3l1-2 1 2h2l1-2h1l1-2h1l1-2h5l1 2 1-2h1l1-2h2l1-2h3l1-2h1l1-2h4l1 2h1l1 2h3l1-2 1-2h2l1-6h2l1 2 1-2h16l1-2h15l1 2h12l1-2h3l1 2h2l1-2 1 2 1-6h15l1 2h22l1 2h2l1 2h2l1-2h5l1-2h8l1-2h65l1 2 1-2h2l1 2h25l1-2h323"/>
<path vector-effect="non-scaling-stroke" stroke="#6699CC" d="M0 10.26l1-2 1-2 1-2 1-2 1-2 1-2 1-2h1l1-2 1 2 1-2 1 2 1-6 1-2h1l1 2 1-2h1l1 2 1 2 1 2 1 2h1l1-2 1 2h1l1 2 1-2h1l1 2h3l1-2h1l1 2h1l1-2 1-2 1-2 1-2h1l1 2h3l1-6h4l1 2h3l1 2h5l1-2h5l1-2 1-2h2l1-6 1-2 1-2 1 2h8l1-2h7l1 2h13l1-2h69l1 2h3l1-2h11l1 2h1l1-2h155l1 2 1-2h249"/>
<path vector-effect="non-scaling-stroke" stroke="#6FB802" d="M0 -4.02l1 2 1 2h2l1-2 1 2h2l1-6h1l1 2 1-2h1l1-2 1-6h6l1 2h2l1 2h1l1 2h9l1-2h3l1-2h13l1-2 1-2h9l1 2h1l1-2h9l1-6h3l1 2h10l1 2 1 2 1 2h6l1-2h3l1-2h7l1 2h13l1-2h5l1 2h1l1-2 1-2h10l1 6h15l1-6h5l1-6h25l1 2h6l1-2h29l1 2h3l1-2h363"/>
<path vector-effect="non-scaling-stroke" stroke="#515151" d="M0 3.84l1-2h3l1-2h1l1-6 1 2h1l1 2 1-2h2l1 2 1-2 1-2 1-2 1-6h2l1 2h1l1 6 1-2 1-2h1l1-2h4l1-2h2l1 2h5l1-2h4l1-2h2l1-2h2l1-2h8l1-6h3l1 6h4l1 2h5l1-2h1l1-6h12l1 6 1 2h8l1-6 1-2h45l1 2h1l1-2h12l1 2h3l1-2h35l1 2h20l1-2h4l1 2h3l1-2h8l1 2h1l1-2h28l1 2h11l1-2h49l1 2h4l1-2h33l1 2h3l1-2h222"/>
<path vector-effect="non-scaling-stroke" stroke="#F14040" d="M0 5.65h1l1-2 1 2 1 2 1-2 1-2h1l1-2 1-2 1-2 1-2 1-2h1l1 2 1-2 1 6 1-2 1-6h3l1-2h3l1-2 1 2 1-6h3l1-2 1 2h2l1-2h10l1-2h5l1 2h4l1-6h3l1-2h10l1 2h5l1-2 1 2 1 2h6l1-2h36l1-2h5l1 2h6l1-2h22l1 2h2l1-2h40l1 2h3l1-2h33l1 2h11l1-2h345"/>
<path vector-effect="non-scaling-stroke" stroke="#1A6FDF" d="M0 0.10l1-2 1-6h1l1 2 1-2h2l1-2 1-2 1-2 1 6h1l1-6h5l1 2h1l1-6h2l1-6h17l1-2h1l1 2h1l1-2h13l1 2h5l1 6h1l1-2h2l1 2h1l1-2h1l1 2h3l1-2h8l1-2h10l1 2 1 2h1l1 2h6l1-2h19l1 2h1l1-2h12l1-6h7l1 2h1l1 2h2l1-6h8l1 2h8l1 2h1l1-2h2l1-2h14l1 2h2l1-2h402"/>
<path vector-effect="non-scaling-stroke" stroke="#37AD6B" d="M0 4.15l1-2 1 2 1-6 1-6 1 2h3l1-2h2l1-2h2l1-2 1-2h1l1-2h6l1 2 1 2h2l1-2h6l1-2h4l1 2 1-2h7l1 2h1l1-2h1l1-2h3l1 2h5l1-2h1l1-2h7l1 2h16l1-2h10l1-6h5l1 2h5l1-2h40l1 2 1-2h28l1 2 1 2h13l1-2h3l1-2h13l1 2h33l1-2h348"/>
<path vector-effect="non-scaling-stroke" stroke="#B177DE" d="M0 6.23l1 2 1-6 1-2 1 2 1-2 1-2h2l1-2h1l1-2 1-2 1-2h2l1 2h1l1-6h1l1-2 1 2 1-2 1-2 1 2h4l1 2h1l1-2 1-2h11l1 6h3l1-2h4l1-6h32l1 2h3l1 6h2l1-2h2l1 2 1-2 1-6h2l1-6h1l1 2h4l1-2h195l1 2h1l1-2h71l1 2h5l1-2h216"/>
<path vector-effect="non-scaling-stroke" stroke="#CC9900" d="M0 11.85l1-6 1-2 1-2 1-2h1l1-6h3l1 2 1-2h5l1-2h1l1 2 1-2 1-2 1-2 1-2h1l1-2h4l1-2h1l1-2h1l1-6h72l1 2h4l1-2h55l1 2h10l1-2h1l1 2h1l1-2h47l1 2h14l1-2h23l1 2h10l1-2h319"/>
<path vector-effect="non-scaling-stroke" stroke="#00CBCC" d="M0 -4.20l1-2 1-6h6l1 2h1l1-2h1l1-2h1l1-6h6l1 2h2l1-2h2l1 2h2l1-6 1-2h25l1 2h13l1 2h4l1-2h1l1-2h17l1 2h3l1-2h11l1 2h7l1-2h2l1 2 1-2h7l1 2h11l1-2h37l1 2h4l1-2h41l1 2h1l1-2h19l1 2h1l1-2h130l1 2h9l1-2h22l1 2h1l1-2h180"/>
<path vector-effect="non-scaling-stroke" stroke="#7D4E4E" d="M0 4.10l1-6h1l1-2 1 2 1-2 1-2 1-2h1l1-2h4l1-2h5l1 2h3l1 2h2l1-6h5l1 2h1l1-2 1 2h2l1-2h1l1 2h8l1-2h2l1 2h4l1 2h3l1-2 1-2h2l1-2 1 2h6l1-2 1-2h2l1 2h1l1 2h9l1-2h15l1 2 1-6h19l1 2 1 2h1l1 2h5l1-2h3l1-2h1l1 2h10l1-2h5l1 2h2l1 2h1l1-2h18l1-2h2l1 2h14l1-2h1l1-2h5l1 2h11l1-6h1l1-2h4l1 2 1-2h14l1 2h5l1-2h350"/>
<path vector-effect="non-scaling-stroke" stroke="#8E8E00" d="M0 0.21l1-2 1-2h3l1-2h2l1-2h3l1-2h1l1 2h6l1 2h1l1-6h1l1-2h2l1-2 1 2h1l1 2 1-2h3l1-2h4l1-2h4l1 6h2l1-2 1-2h4l1 2 1-2h6l1-2h4l1-2h5l1-6h1l1 2 1 2h11l1-2h2l1-2h40l1 6h28l1-6h91l1 2h3l1-2h63l1 2h11l1-2h265"/>
<path vector-effect="non-scaling-stroke" stroke="#000000" d="M0 -1.68h4l1-2h12l1-6h6l1 2 1-2h3l1 2 1-2 1-2h1l1-2h1l1-2h2l1-2h10l1 2h4l1-2h1l1 2h1l1-2 1 2h2l1 2h4l1-2h3l1-2 1 2h1l1 2 1-2 1-2h2l1 2h1l1-2h3l1 2h3l1 2h1l1-2h6l1-2 1-2h5l1 2h8l1-2h9l1 2h2l1 2h10l1-2h8l1 2h2l1-2 1-2h4l1-2h2l1-2h2l1-2h32l1 2h3l1-2h50l1 2h6l1-2h342"/>
<path vector-effect="non-scaling-stroke" stroke="#6699CC" d="M0 -2.24h1l1-2 1 2h1l1-2 1-6h3l1-2 1 2 1 2 1 2 1-2 1-6 1 2h2l1-2 1-2h3l1 2h1l1 2h6l1-2 1-2h18l1 2h2l1 2h3l1-2h1l1-2 1 2h6l1-2h7l1-2h2l1 2h9l1 2h4l1-2h7l1-2h6l1-2 1 2h4l1-2 1 2h5l1-6h15l1-2h90l1 6h11l1-6h144l1 2h12l1-2h199"/>
<path vector-effect="non-scaling-stroke" stroke="#6FB802" d="M0 1.99h1l1-6 1-2h1l1-2h2l1 2h1l1-2 1-2h1l1-2h2l1-2 1 2h1l1-2 1 2h10l1-2h16l1 2h9l1 2 1-2h4l1 6 1-2h2l1-2 1-2h2l1-2h2l1-2h2l1 2 1-2 1-2 1-2h6l1-6h35l1 2h11l1-2h95l1 2h8l1-2h359"/>
<path vector-effect="non-scaling-stroke" stroke="#515151" d="M0 0.28h2l1-2 1-2h1l1-2 1 2h1l1-2 1-2h4l1-2h8l1-2 1 2h1l1-2h4l1 2h3l1-2h7l1 2h5l1 2h3l1 2h4l1-2 1 2h1l1-2h1l1-2h9l1-2 1-6h2l1-6h14l1-2h16l1 2h6l1-2h1l1 2 1 2 1 2h6l1 2h7l1-2h3l1-2h17l1 2h5l1-2h10l1-2 1-2h191l1 2h19l1-2h212"/>
<path vector-effect="non-scaling-stroke" stroke="#F14040" d="M0 3.95l1-2 1 2 1 2 1 2 1-2 1 2 1-2 1-2 1-6h1l1-2 1-2 1 2h5l1-2h3l1 2 1-2h2l1-2h5l1 2h1l1-2 1 2 1-2h3l1 2h1l1-6h7l1-6h16l1 2h1l1-2h6l1-2 1-2h3l1-2h8l1-2h2l1 2 1 6h5l1-2 1-6h86l1 2h2l1-2h2l1 2h3l1-2h42l1 2h1l1-2h1l1 2h7l1-2h346"/>
<path vector-effect="non-scaling-stroke" stroke="#1A6FDF" d="M0 -5.94h1l1 2h2l1-2h2l1-6h2l1-2 1-2h8l1 2 1 2h2l1 6h1l1 2h2l1 2h1l1-6h2l1-2h1l1 2 1-2h1l1-6 1 2h1l1 2 1-2 1-2h3l1 2h11l1-2h1l1 2h10l1 2h3l1-2h9l1 2 1-2 1-2h4l1-2h9l1-2h26l1-6h13l1 2h5l1-2h4l1 2h3l1-2h40l1 2h1l1-2h136l1 2 1-2h258"/>
<path vector-effect="non-scaling-stroke" stroke="#37AD6B" d="M0 -0.33l1-2h1l1 2h1l1-2 1-2h2l1-2 1-6h2l1-2h4l1 2h5l1 2 1-2h1l1-6h4l1-2h1l1 2 1 2h1l1-2h1l1-2h18l1-6h85l1 2 1-2h4l1 2h17l1-2h8l1 2 1-2h6l1 2h8l1-2h4l1 2 1-2h26l1 2h1l1-2h77l1 2h25l1-2h267"/>
<path vector-effect="non-scaling-stroke" stroke="#B177DE" d="M0 2.12l1 2 1-6 1-2 1-6 1-2 1 2h3l1-2 1-2h1l1-2 1 2h7l1 2 1 2 1 2h3l1 2 1-2h4l1-2h2l1-2h2l1 2h2l1 6 1 2h2l1-2h3l1-2h2l1-2h5l1 2 1-2h9l1-2h2l1-2 1-2h11l1-2h14l1 2h2l1 2 1-2h5l1-2h1l1 2h1l1-2h4l1-2h1l1-2 1-6h21l1 2h1l1-2h5l1 2h1l1-2h18l1 2 1 2h5l1-2 1-2h1l1 2h6l1 6h3l1-2h5l1 2h8l1-2h38l1 2h20l1-2h12l1-6h85l1 2h5l1-2h224"/>
<path vector-effect="non-scaling-stroke" stroke="#CC9900" d="M0 -5.71l1 2h6l1-2h1l1-2 1 6 1-2h2l1-6h1l1-2 1 2h1l1 2h1l1-2 1 6h3l1-2 1-6h5l1 2h1l1-2h1l1 2h2l1-2h2l1 2h1l1-2 1 2h1l1-2 1 2 1-2h1l1 2h10l1 2h3l1-2 1-2h1l1-6h10l1 2h3l1-2 1 2h4l1-2h2l1 2h1l1 2h2l1-6h3l1 2h5l1-2h3l1 2h6l1-2h14l1 2h1l1-2h1l1-2h5l1-2h1l1-2h23l1 2h15l1-2h27l1 2h8l1-2h12l1 2h2l1-2h14l1 2h5l1-2h338"/>
<path vector-effect="non-scaling-stroke" stroke="#00CBCC" d="M0 -1.77h1l1-6h1l1-2h3l1-6h1l1-2 1-2h4l1-6h4l1 6h2l1-6h15l1 2h1l1-2h74l1 6h10l1 2h4l1-2 1-6h85l1 2h2l1-2h20l1 2h1l1-2h5l1 2h4l1-2h25l1 2h1l1-2h315"/>
<path vector-effect="non-scaling-stroke" stroke="#7D4E4E" d="M0 -7.73h2l1-2h2l1 2h3l1 2h1l1 2h2l1-2 1 2h2l1-2 1-2 1-2 1 2h1l1-2h2l1 2 1-2h1l1-2 1-6h1l1 2h2l1-2 1-2h3l1-2h5l1-2h1l1-2h18l1 2h1l1 6h3l1 2h5l1-2h5l1-2h3l1 2h2l1-6h2l1-2h108l1 2h3l1-2h391"/>
<path vector-effect="non-scaling-stroke" stroke="#8E8E00" d="M0 8.11h2l1-2 1-2 1-2 1-2 1-2 1-2h2l1-2h3l1-6 1-2h8l1 2h5l1-6 1 2h1l1 2 1 2 1-2h1l1-6 1-6h1l1 2h10l1-2 1 2h8l1 6h1l1-6h5l1-2h17l1 2h9l1-2h2l1 2h7l1-2h89l1 2h6l1-2h394"/>
<path vector-effect="non-scaling-stroke" stroke="#FB6501" d="M0 3.82l1-2 1-2 1-2 1-2 1-2 1-2h2l1-2 1 2h2l1-2 1-2h1l1 2h1l1-2 1-2h19l1 2h2l1-2h6l1-6 1 2h4l1 2h1l1 2 1-2 1 2h3l1-2 1 2 1-2h2l1 2 1-2h14l1 2h8l1-2h2l1-2 1 2h8l1 2 1-2h6l1 2h2l1-6 1-6h18l1 2h1l1 6h1l1-2h3l1-6h28l1 2h3l1 2h13l1-2h4l1-2h34l1 2h2l1-2h10l1 2h11l1-2h342"/>
<path vector-effect="non-scaling-stroke" stroke="#6699CC" d="M0 0.19l1-2 1 6 1-2 1-6 1-2 1-6h11l1 2h1l1 2h1l1-6h7l1 2h1l1-6h2l1-2h2l1-6h9l1 2h10l1 2h11l1-2h3l1-2h5l1 2h8l1 6h7l1-6h18l1-2h37l1 2h11l1-2h25l1 2h1l1-2h38l1 2h9l1-2h282l1 2h25l1-2h47"/>
<path vector-effect="non-scaling-stroke" stroke="#6FB802" d="M0 1.80h1l1 2 1-2 1-2 1-2 1-2h1l1-2 1 2h1l1-2h1l1 2 1 2h2l1-2h2l1-6 1-2 1-2 1 2 1-2h12l1-2h2l1-2 1-2 1-6h5l1 2h2l1 2h15l1-2h13l1 6h3l1-6h5l1-2h74l1 2 1-2h2l1 2h10l1-2h15l1 2h6l1-2h49l1 2 1-2h345"/>
<path vector-effect="non-scaling-stroke" stroke="#515151" d="M0 2.23l1 2 1-2h1l1 2 1-2h2l1-2 1-6 1-2h2l1 2h2l1-2 1 2 1 2h1l1-2 1-2h2l1-2 1 6 1 2 1-2 1 2h1l1-2 1 2 1-6h4l1-2h2l1 2h2l1-2 1-2h1l1-2h6l1 2h1l1 2h2l1-6h1l1-2h4l1-2h33l1 2h7l1 2h2l1-2h3l1 2h1l1-2h3l1 2 1-2h1l1 2h3l1 2h4l1 2 1-2h1l1-2h10l1-2h5l1 2h4l1-2h6l1-2h7l1 2 1-2h6l1-6h43l1 2h5l1-2h370"/>
<path vector-effect="non-scaling-stroke" stroke="#F14040" d="M0 5.69l1-6h2l1-2 1-2 1 2 1-2 1-2 1 6h2l1 2h1l1-2 1-2 1-2h3l1-2h5l1 2h3l1-2h1l1-2h1l1-2 1 2 1 2 1 2h1l1-6 1 2 1-2h4l1-2 1 2h3l1-2 1 2 1-2 1-2h8l1-2 1-2h4l1 2h11l1-2h13l1 2h11l1-2h7l1-2h4l1 2h1l1-2h5l1-6h33l1 2 1-2h437"/>
<path vector-effect="non-scaling-stroke" stroke="#1A6FDF" d="M0 -3.77l1 2 1 2 1-2h1l1-2 1 2 1-2h3l1-2h3l1-2h1l1-2h4l1 2 1-2h1l1-2h3l1 2h1l1-2h11l1 6 1-2h2l1 6 1 2h1l1-2 1-2h1l1-6 1-6h3l1 2h4l1 2h1l1-2 1 2 1-2h8l1-2 1 2 1-2h3l1 2h1l1-2h2l1-2h3l1 2h2l1-2h4l1 2 1-2 1-2h8l1 2h1l1-2h1l1-6h7l1 2h3l1 2h27l1-2h2l1-2h443"/>
<path vector-effect="non-scaling-stroke" stroke="#37AD6B" d="M0 1.77l1-2 1-6 1-2h3l1-2h1l1 2 1-2 1-2h1l1-2h1l1-6h2l1 2h7l1 2h10l1 2 1 2h11l1 2h3l1-2h2l1 2h3l1 2h4l1-6h3l1-2h7l1-2h17l1 2h5l1-2h6l1 2 1 2h1l1-2h10l1 2h3l1-2h1l1 2h1l1 2h1l1-2h1l1-2h15l1-2h12l1 2h1l1 2 1-2h3l1-2h23l1 2 1-2 1 2h2l1-2h1l1 2 1-2h23l1 2h2l1-2h5l1 2h7l1-2h45l1 2h6l1-2h29l1 2h11l1-2h4l1-2 1-6h255"/>
<path vector-effect="non-scaling-stroke" stroke="#B177DE" d="M0 -4.09h1l1-6 1 2h1l1-2h4l1 2 1 2 1-2 1-2h6l1 2h1l1 2h4l1-2 1-2h5l1-2h2l1 2h4l1-6h1l1 2h4l1-2h5l1 2h4l1-2h2l1-2h4l1 2 1 2h2l1-2h1l1-2h3l1 2h4l1-2h5l1-2h5l1-6h28l1 2h16l1-2h21l1 2h1l1-2h36l1 2 1-2h1l1 2h16l1-2h36l1 2h8l1-2h332"/>
<path vector-effect="non-scaling-stroke" stroke="#CC9900" d="M0 -0.13l1 2 1-2 1-6 1 6h4l1-2h2l1-2 1-2h2l1-2 1 2 1 2 1 2 1-2 1 2 1-2h2l1 2 1-2h5l1 2h2l1 2h1l1 2 1-2h1l1-2h1l1-2h1l1-2 1-6h4l1-2 1-6h8l1 2 1 2 1-2h3l1-6h4l1-2h15l1 2h5l1-2h16l1 2h14l1-2h3l1 2h1l1 2h9l1-2h3l1 2h15l1 2h26l1-2h1l1 2h15l1 2 1-2h1l1 2h2l1-6 1 2h8l1-2 1 2h7l1-2 1-2h19l1 2h8l1-2h20l1 2h19l1-2h298"/>
<path vector-effect="non-scaling-stroke" stroke="#00CBCC" d="M0 -3.87l1-2 1-2h3l1-2 1 2h1l1-2 1-2h2l1 2 1-6h3l1-2h4l1 2 1-2h2l1 2h3l1 2h3l1-2h6l1-2 1 2h12l1 6 1-2 1-2h2l1 2h1l1 2 1 2h1l1-2h4l1-2h5l1-2h9l1 2h2l1 2h9l1-6h4l1 2h3l1 2 1-2 1-2h5l1 2h10l1-2 1-2h6l1-2h29l1-6h17l1 2h17l1-2h28l1 2h4l1-2h74l1 2h21l1-2h267"/>
<path vector-effect="non-scaling-stroke" stroke="#7D4E4E" d="M0 1.78h1l1-6 1-2h5l1-2 1-2 1 2h5l1-2 1-2h3l1-2 1 2h2l1 2h11l1-2h2l1-2h2l1-6h1l1 2h2l1-2h12l1-6h39l1 2h23l1-2h10l1 2h12l1 2h2l1-2 1-2h25l1 2 1 2h1l1 2h3l1-2h5l1-2h13l1-2h53l1 2h17l1-2h321"/>
<path vector-effect="non-scaling-stroke" stroke="#8E8E00" d="M0 -6.07h1l1-2 1-2h1l1 2h2l1 6 1 2h2l1-2h4l1-6h2l1-6h2l1 6h2l1-2 1-2h5l1-2 1-2h3l1-2h4l1-2h19l1 2h2l1-2 1 2h11l1-2h7l1 2h3l1-2h6l1 2h1l1-6h6l1 2h21l1-2h6l1-2h1l1 2h15l1-2h2l1 2h18l1-2h14l1 6h2l1-6h129l1 2h1l1-2h274"/>
<path vector-effect="non-scaling-stroke" stroke="#FB6501" d="M0 -6.35h5l1 2 1 2 1-6h2l1-6 1 2 1-2 1-2h3l1-2h1l1 2h10l1-2h1l1-6h24l1-2h83l1 2h1l1 2h14l1-2h2l1-2h15l1 2h10l1-2h411"/>
<path vector-effect="non-scaling-stroke" stroke="#6699CC" d="M0 3.83l1-2 1-6 1-2h1l1-2 1-2h2l1-6h1l1 2h1l1-2h3l1-2h1l1-2h2l1 2 1-6h19l1-2h2l1 2h8l1 6 1 2h4l1-2h11l1-2h3l1 2h1l1-2h21l1 2h1l1-6h2l1-2h15l1 2 1 2 1-2h11l1-2h39l1 6h2l1 2h5l1-2h1l1-2 1-2h17l1-2h198l1 2h1l1-2h193"/>
<path vector-effect="non-scaling-stroke" stroke="#6FB802" d="M0 5.94l1-2h1l1-2h1l1-2h2l1-2h1l1-2h1l1-2 1-2h2l1-2 1 2h3l1-2 1 2 1-2 1 2 1 2 1-2h4l1-2 1-2h2l1-6h2l1-2h4l1 2h3l1-2h6l1 2h4l1 2 1-2h3l1-2h3l1 2h4l1 6h1l1-6h4l1 2h2l1-2h1l1-2h2l1 2h1l1 2 1 2h1l1-2h5l1 2 1-2 1-6 1-2h1l1-2h10l1 2h8l1-2h39l1 2h4l1-2h3l1 2h20l1-2h39l1 2h6l1-2h2l1 2 1-2h124l1 2h2l1-2h227"/>
<path vector-effect="non-scaling-stroke" stroke="#515151" d="M0 5.72l1-2h1l1-2h6l1-6h9l1-6h2l1 2h3l1-2h6l1-2h3l1-2h1l1 2 1 2 1-2h2l1 2 1-2 1 2h4l1-2h4l1-2h11l1 2h1l1-2h2l1-6h17l1-6h42l1 2h5l1-2h15l1 2 1 2h11l1-2h2l1-2h9l1 2h4l1-2h6l1 2 1-2h1l1 2h1l1-2 1 2h27l1-2h371"/>
<path vector-effect="non-scaling-stroke" stroke="#F14040" d="M0 6.09h1l1-2h1l1-2h1l1 2h1l1-2 1 2h1l1-6 1-2h1l1 2h3l1-6h3l1 2h1l1-2 1-2 1-6 1-2h1l1 2h2l1-2 1-6h6l1-2h1l1 2h1l1-2h9l1 6h1l1-6 1 2h1l1-2h4l1 2h4l1-2h7l1 2h12l1-2h63l1 2h6l1-2h21l1 2 1-2h416"/>
<path vector-effect="non-scaling-stroke" stroke="#1A6FDF" d="M0 -6.08h3l1-6h1l1 2 1-6 1-2h2l1-2h29l1 2h2l1-2h2l1-6h10l1 2h5l1-2h4l1 2 1-2h10l1 2h3l1 2h10l1-2 1-2h17l1 2h7l1-2h37l1 2h8l1-2h13l1 2h3l1-2h3l1 2h20l1 2h1l1 2 1 2 1-2h4l1 2h4l1 2h1l1-2h3l1-2h3l1-2h15l1-2h3l1-2h110l1 2h3l1-2 1 2h11l1-2h215"/>
<path vector-effect="non-scaling-stroke" stroke="#37AD6B" d="M0 -1.84l1 2h1l1 2 1-6 1-2h4l1 2 1-2h3l1-2 1 2h2l1-2h4l1-2h1l1-6h12l1-2h11l1 2h2l1-2h11l1 2h3l1-2h1l1-2h3l1 2h9l1-2h1l1-6h47l1 6h3l1-6h2l1 2h2l1-2h12l1 2h9l1-2h12l1 2h12l1-2h4l1 2h7l1-2h218l1 2h22l1-2h150"/>
</g></g>
<path d="M113.2 456.2H645.3" stroke="#000" stroke-width="4" stroke-dasharray="11.6 16.35" stroke-linecap="round" fill="none"/>
<clipPath id="cp2"><rect x="102.1" y="589.9" width="553.1" height="483.95"/></clipPath>
<g clip-path="url(#cp2)"><g transform="translate(106.8 765.88) scale(0.45342 -4.39955)" fill="none" stroke-width="1.3" stroke-linejoin="round">
<path vector-effect="non-scaling-stroke" stroke="#515151" d="M0 25.59l1 6 1-6 1-6 1-2h1l1-14h1l1-2h1l1-10h2l1-14h1l1-18 1 6h1l1-6h1l1 2h3l1-14h4l1 6h7l1 6h2l1 2h1l1 10h2l1-2h2l1-6h1l1-2 1 2h1l1-2h12l1 2h1l1-2h6l1 2h1l1-2h4l1-2 1 2h9l1-2h1l1-2h11l1 6h3l1-6 1 2h9l1-2h9l1 2h3l1 2h3l1 2h4l1 2h2l1-2h10l1-2 1-2h1l1-2h6l1 2h1l1 2h1l1 2h6l1-2h1l1-6 1-6h8l1-2h3l1-2h2l1-6h10l1 6h8l1-6h10l1-2h18l1 2h13l1-2h50l1 2h61l1-2h132l1 2h37l1-2h73l1 2h86l1-2h12l1 2h61l1-2h417"/>
<path vector-effect="non-scaling-stroke" stroke="#F14040" d="M0 31.66l1-18 1 2 1-6 1-6 1-2 1-2 1-6h1l1-10 1-6h1l1 2h1l1 6 1-6h2l1-2 1 6h2l1-2h1l1-10h7l1 6h1l1-2h1l1 2h3l1-2h2l1-10h1l1 2 1-2h2l1 2h1l1 2h4l1 2 1 2h3l1 2 1-6 1-6h2l1-6h11l1-6h8l1-6 1 2h3l1-2h7l1 6h20l1-2h1l1 2h2l1-2h27l1-10h11l1-2h26l1 2h9l1-2h111l1 2h2l1-2h74l1 2h7l1-2h37l1 2h69l1-2h33l1 2h8l1-2h51l1 2h41l1-2h111l1 2h15l1-2h62l1 2 1-2h69l1 2 1-2h291"/>
<path vector-effect="non-scaling-stroke" stroke="#1A6FDF" d="M0 6.53h1l1 2 1-6 1-14 1 2 1-10 1 2 1 6 1 6 1-6 1-10h1l1 2 1-6h2l1 6 1 6h1l1-2 1-10 1-6h3l1-2h1l1 2 1 2 1-10 1-10h5l1 2h3l1-2 1 2 1-6h18l1 2 1 2h7l1-2h43l1 2h6l1-2h14l1 2h1l1-2h33l1-2h8l1 2h8l1 2h2l1-6 1-6h27l1 2h1l1-2h26l1 2h15l1-2h59l1 2h27l1-2h45l1 2h30l1-2h181l1 2h2l1-2h21l1 2h8l1-2h551"/>
<path vector-effect="non-scaling-stroke" stroke="#37AD6B" d="M0 -12.69h2l1-6h6l1-2h4l1-2 1 2 1-6 1-2 1 2 1 6h2l1-2 1 2 1-2 1-10h5l1 6h3l1-2 1-2h1l1-2h6l1-2h1l1-10h1l1 2h4l1 2 1 2h3l1-2h18l1 6 1 6h9l1-6 1 2 1-2 1 2h2l1 2 1-2 1 2h3l1 2 1-2h8l1-10h7l1 2h3l1 2h1l1-6 1-2h3l1-2h6l1 2h1l1-2h5l1-6 1 2 1-2h1l1-2 1-6h3l1-2h72l1 2h37l1-2h80l1 2h10l1-2h180l1 2h9l1-2h165l1 2h40l1-2h6l1 2h35l1-2h401"/>
<path vector-effect="non-scaling-stroke" stroke="#B177DE" d="M0 -13.83h1l1-10 1-6h1l1 2h2l1-2h1l1 6h1l1-6h1l1-2 1-2 1 2 1-2h2l1 2h2l1-10h10l1-2 1 6h5l1-2h1l1 6 1-2 1-10h9l1-2h22l1 2h8l1-2h2l1 10 1-10h3l1-2h1l1-2h1l1-2 1 2h1l1-2 1 6h1l1 2 1-2h2l1-2h3l1 2 1 6 1 2h3l1-2h4l1 2 1-2h18l1-6h3l1-2h17l1 2h3l1-6h6l1-6h1l1-2h116l1 2h5l1-2h3l1 2h13l1-2h43l1 2h125l1-2h24l1 2h15l1-2h190l1 2h18l1-2h185l1 2h7l1-2h265"/>
<path vector-effect="non-scaling-stroke" stroke="#CC9900" d="M0 -7.61h2l1 2 1 2 1-14h6l1-6 1-6h3l1-2h3l1-2 1-10 1-2h1l1-6h8l1 6 1 6h5l1-6h1l1 2 1-2h3l1 2h4l1-2h3l1-6h2l1 2 1 2h1l1 2 1-2h2l1-2h11l1-6 1-6h12l1 2h8l1-2h6l1 2h5l1-2h13l1 2 1-2h35l1 2h70l1-2h66l1 2h28l1-2h39l1 6h24l1-6h59l1 2h7l1-2h104l1 2h12l1-2h616"/>
<path vector-effect="non-scaling-stroke" stroke="#00CBCC" d="M0 3.47l1-2 1-10h2l1 10h1l1 2 1-6h1l1 6 1 2 1-2 1-10h1l1-6h2l1-14h2l1 6h1l1-2 1-2h2l1 2h3l1-2h4l1-6 1 2h4l1-10h2l1 2h3l1 2h1l1-6h3l1 2h2l1-18h29l1 2h3l1-2 1-6h11l1 2h16l1-2h7l1 2 1-2h18l1 2h7l1-2h225l1 2 1-2h1l1 2h1l1-2h54l1 2h7l1-2h93l1 2h5l1-2h648"/>
<path vector-effect="non-scaling-stroke" stroke="#000000" d="M0 -8.76l1-2 1-2h3l1-2h1l1-2 1 2 1 10h2l1-10 1-14h3l1-6h1l1-2h1l1 6h2l1-6h3l1 2 1 2h3l1 6h3l1 2h2l1-6 1-14h21l1 6h2l1 2h2l1-2h9l1-6h4l1-10h12l1 2h25l1 2h1l1-2h6l1-10h17l1 2h3l1 6h6l1-6h65l1-2 1 2 1-2h28l1 2h2l1-2h50l1 2h3l1-2h16l1 2h10l1-2h99l1 2h8l1-2h7l1 2h10l1-2h40l1 2h60l1-2h294l1 2h58l1-2h113l1 2h21l1-2h135"/>
<path vector-effect="non-scaling-stroke" stroke="#8E8E00" d="M0 -0.38h1l1-6h1l1-2 1-10h1l1 10 1-2 1-6h1l1-6 1 6h2l1-2h1l1-6h1l1-2h9l1 6h3l1-2h3l1 10h2l1-10h3l1-18h23l1 6h2l1-10h1l1-2h2l1 2h3l1-2h6l1-2h2l1 2h31l1 2h5l1-2h7l1-2h23l1-2h11l1-2h6l1 2h9l1-6h2l1-6h19l1 6h23l1-6h26l1 6h18l1-6h71l1 2h35l1-2h10l1 2h6l1-2h61l1 2h43l1-2h205l1 2 1-2h479"/>
<path vector-effect="non-scaling-stroke" stroke="#FB6501" d="M0 -9.73l1-6h1l1 14h1l1 6 1-6 1-2 1-2h1l1-2 1 2 1-6 1 2 1 2 1-2 1-2h1l1-6 1 6 1-2h1l1-2 1-6 1 2h2l1-6h1l1-6 1-2h5l1-2 1 2h1l1 2 1-2h1l1-2h6l1-2h6l1-2h13l1 6h3l1-2h1l1-6h1l1 2h6l1-2h15l1 2 1-6h6l1 2h7l1-2 1 2h5l1-2 1 2h10l1-6h4l1-6h2l1-6 1 2h12l1-2h11l1 6h22l1-6h250l1 2h17l1-2h738"/>
<path vector-effect="non-scaling-stroke" stroke="#6699CC" d="M0 2.11l1-10 1-2h2l1-2 1 10 1-10h1l1-2h4l1-10h1l1-2h3l1-2 1-10h7l1-6h1l1 6h3l1 2h1l1 2h2l1 2h1l1-2 1 10h7l1-6h2l1-6h7l1 2 1-2h3l1-2 1-6h12l1-6 1-6h27l1-6h9l1 2h25l1-2h9l1 2h25l1-2h23l1 2h27l1-2h23l1 2h39l1-2h143l1 2h21l1-2h51l1 2h32l1-2h90l1 2h40l1-2h68l1 2h15l1-2h434"/>
<path vector-effect="non-scaling-stroke" stroke="#6FB802" d="M0 9.41h1l1-2 1-18h1l1 2 1-2 1 6 1-2h2l1-10h1l1-6h1l1-6 1-2h1l1 2h1l1 2h5l1 6h2l1-6h10l1-2h1l1-2h1l1-2 1-2h9l1-2h6l1-2h3l1 2h1l1-2h3l1-6h2l1-2h8l1-2h29l1-2h9l1 2h17l1-2h5l1 2h3l1-2h9l1 2h6l1-2h38l1 2h1l1-2 1 2h1l1-2h3l1-2 1-2h7l1 2h7l1 2h13l1-2h10l1-2h3l1-6 1-2 1 6h8l1-6h27l1 2h12l1-2h24l1 2h2l1-2h44l1 6h22l1-6h178l1 2h1l1-2h608"/>
<path vector-effect="non-scaling-stroke" stroke="#515151" d="M0 5.89l1-10h2l1-10h1l1 10h3l1-6 1-6 1-2h2l1-10h2l1-2h1l1-10h5l1 6h2l1 2 1 2 1-2 1 2h1l1 2 1 6 1 6h2l1-6h2l1-6h3l1-2h1l1 2h6l1-2h5l1 2h4l1-2h3l1-2h5l1 6h7l1-2h1l1-6h4l1 2h4l1-2h4l1-2h7l1-2h4l1 2h8l1 2h2l1-2h3l1-2h22l1 2h7l1-2h12l1-6 1-2h4l1-2h2l1-2 1-6h19l1-6h123l1 2h4l1-2h58l1 2h18l1-2h20l1 2h4l1-2h21l1 2h8l1-2h14l1 2h15l1-2h111l1 2h3l1-2h36l1 2h2l1-2h195l1 2h20l1-2h328"/>
<path vector-effect="non-scaling-stroke" stroke="#F14040" d="M0 2.29l1-2 1-2 1-2 1 2 1 2h2l1-2 1-2 1-6h1l1-10 1-2 1 6h1l1-2 1 2 1-14h2l1 2h1l1-6h1l1-2 1-6 1 2h11l1 2h1l1-2 1-2h7l1-10h5l1 2h4l1-2h3l1 2h3l1-2h13l1 2h1l1 2h3l1-6h2l1-6h7l1-2h27l1 2h2l1-2h124l1 2h30l1-2h60l1 2h23l1-2h39l1 2h15l1-2h45l1 2h4l1-2h11l1 2h1l1-2h126l1 2h3l1-2h576"/>
<path vector-effect="non-scaling-stroke" stroke="#B177DE" d="M0 -4.13h2l1-2 1 2h1l1-2 1 2h1l1-14h1l1 2h1l1-10h1l1-2h4l1-2h2l1 2h2l1-2h7l1 6h1l1-6h1l1 6h1l1-6h5l1-10h2l1 2h6l1-6 1-2h6l1 2 1-2h14l1 2 1-6h19l1 6h5l1 2h5l1-2h7l1-6h18l1 6h3l1-6h1l1 6h10l1-6h23l1 2h3l1-2h1015"/>
<path vector-effect="non-scaling-stroke" stroke="#37AD6B" d="M0 -9.77l1-2 1-14h1l1-6 1 2 1-6h1l1 6h3l1-6h3l1-2h1l1 2h3l1 2 1 2h7l1-2h1l1-2h4l1-2h5l1 2 1-2 1 6h3l1-6h4l1 2h1l1-6h6l1 2 1-6h5l1-6h3l1 6 1 2h3l1-2h5l1 6 1-2h5l1-2h7l1 6h2l1-6h12l1-2h3l1-6h2l1 6 1-2 1-2h1l1-2 1 2h7l1-2h85l1 2h6l1-2h2l1-2h1l1-6h9l1-2h68l1 2h71l1-2h125l1 2h102l1-2h585"/>
<path vector-effect="non-scaling-stroke" stroke="#B177DE" d="M0 -3.21l1 6 1-6h4l1-2h4l1 2 1-2h1l1-6h1l1 6h5l1 2h2l1-6h1l1-10 1-2 1-2h6l1-2 1-2h6l1-2h3l1-10h7l1 2h4l1 2 1-10h8l1 2h2l1-2h6l1 2h3l1-2h3l1 14h3l1-14 1-2h9l1-2h1l1 2h12l1 6h2l1 2 1-2h1l1-6 1-6h4l1 2h4l1-2h2l1-6 1-2h65l1 2h9l1-2h111l1 2h4l1-2h105l1 2h2l1-2h52l1 2h10l1-2h24l1 2h11l1-2h2l1 2h101l1-2h551"/>
<path vector-effect="non-scaling-stroke" stroke="#CC9900" d="M0 14.31l1-6 1 6h1l1-10 1-14 1 2 1-10h2l1 10h2l1-14h1l1 2 1 2h2l1-14h2l1 6 1-6h6l1-2h4l1-2 1 6h2l1-2h7l1 2h2l1-14h20l1 2h6l1-2h1l1 2h4l1 6h1l1-2 1-6h1l1 2h11l1 2h2l1 2h14l1-6h12l1 6 1-2h1l1-2h13l1 2h3l1-2h2l1 2 1-6h39l1-6h13l1-2h51l1-2h4l1-6h2l1 2h14l1-2h54l1 2h31l1-2h4l1 2h7l1-2h10l1 2 1-2h226l1 2 1-2h287l1 2 1-2h284"/>
<path vector-effect="non-scaling-stroke" stroke="#00CBCC" d="M0 -32.18h4l1-10h1l1 2h1l1-6h14l1-6h18l1-2h2l1-6h1l1-2h2l1 2h30l1-2h1l1 2h4l1-2h9l1 6h29l1-6h25l1 2h6l1-2h8l1 2h16l1-2h22l1 2h4l1-2h46l1 2h3l1-2h76l1 2h7l1-2h81l1 2h27l1-2h95l1 2h37l1-2h335l1 2h22l1-2h118l1 2h1l1-2h124"/>
<path vector-effect="non-scaling-stroke" stroke="#7D4E4E" d="M0 11.47h1l1-10h2l1-10h1l1-10 1 2h2l1 10h1l1-6 1 10 1 2 1-10h1l1-6h1l1 6h1l1 14 1-2h1l1-2 1 2 1-10h2l1 2 1-10 1-2 1-6h3l1-6h4l1-14h9l1-2h1l1 2h4l1 6h6l1 2h7l1-10 1 6h3l1-2 1-2h7l1-2h5l1 2h1l1-2h2l1-2h6l1-2h11l1-2h5l1-2h5l1 2h5l1-2h5l1 2h3l1-2h5l1-6 1-2h117l1 2h6l1-2h17l1 2h4l1-2h18l1 2h19l1-2h19l1 2h4l1-2h39l1 2h8l1-2h156l1 2h14l1-2h29l1 2h17l1-2h40l1 2h2l1-2h22l1 2 1-2h498"/>
<path vector-effect="non-scaling-stroke" stroke="#8E8E00" d="M0 -2.26l1-6 1-2 1-6h1l1-2 1-2h2l1-6h3l1-10h2l1-6 1-6h3l1-2h4l1-10h11l1 10h4l1-10h6l1 6h9l1-6h14l1 6 1 2h16l1-2h5l1 2h1l1 2h6l1-2h2l1-2 1-6h33l1-2h17l1 2h12l1-2h78l1 2h26l1-2h56l1 2h22l1-2h98l1 2h7l1-2h17l1 2h2l1-2h220l1 2h22l1-2h465"/>
<path vector-effect="non-scaling-stroke" stroke="#FB6501" d="M0 -3.98h2l1-14h1l1-2 1-2 1-2h1l1-2h3l1 2h8l1-10h1l1-10h2l1-2 1-2h10l1-14h17l1 2h1l1-2h23l1 6h11l1-6h32l1 2h13l1-2h1l1 2h22l1-2h80l1 2h17l1-2h56l1 2h33l1-2h54l1 2h12l1-2h153l1 2h10l1-2h32l1 2h18l1-2h62l1 2h15l1-2h129l1 2h14l1-2h334"/>
<path vector-effect="non-scaling-stroke" stroke="#6699CC" d="M0 8.67h3l1 2 1-14 1-10 1-6 1 6h1l1-6 1-2 1-2h7l1-14 1 6h1l1-6 1-2h2l1 2h3l1 2h2l1-6h6l1-2h6l1-2h1l1-10h30l1 6 1 2 1-6h3l1-6h6l1 6 1 2h4l1-2h3l1 2h4l1-2 1 2 1-2h19l1-6h30l1-2h36l1 2h4l1-2h2l1 2h7l1-2h8l1 2h18l1-2h1l1 2h48l1-2h171l1 2h8l1-2h725"/>
<path vector-effect="non-scaling-stroke" stroke="#6FB802" d="M0 12.47l1-2 1-2 1-6 1-2 1 2 1-6 1-6 1-2h1l1 2 1-2 1-2 1-2h1l1-2h2l1 2h6l1-2h1l1 2h5l1-6h4l1 2h11l1-2h2l1-18 1 2h2l1-2 1-2h4l1-6h8l1 2h2l1-2h31l1-2h11l1-2h12l1 2h3l1-2h35l1 2h2l1 2 1-6h5l1 2h4l1 2h7l1-2h7l1-2h10l1-2h41l1-6h14l1 2h11l1-2h8l1 2h27l1-2h78l1 2h5l1-2h33l1 2h12l1-2h177l1 2h6l1-2h44l1 2h25l1-2h99l1 2h3l1-2h388"/>
<path vector-effect="non-scaling-stroke" stroke="#515151" d="M0 -4.31l1-26 1-2 1-2h3l1 2 1 6 1 2 1-2 1-6h1l1 6 1-6 1-2h1l1 2h3l1 2h2l1 2h3l1 2h1l1 2h5l1-2 1-6 1-2 1 2h12l1 2h7l1-2h1l1 2h2l1-6h2l1-2 1 2 1-2h2l1 2h2l1 2 1-2h3l1 2h5l1-2h3l1-2h1l1-6 1 2h1l1-14h6l1 2h2l1-2h8l1 2 1-2h27l1 2h4l1-2h2l1-6h79l1 2h4l1-2h135l1 2h9l1-2h120l1 2h63l1-2h41l1 2h17l1-2h266l1 2h24l1-2h280"/>
<path vector-effect="non-scaling-stroke" stroke="#F14040" d="M0 2.72l1-18h2l1-2h3l1-2h2l1-2h1l1-2h1l1 6 1-10h7l1 2h2l1-2h4l1 2h2l1-14h5l1 2h8l1 6h2l1 2h1l1-6h5l1-2h11l1-10h1l1 10 1-10h97l1 2 1-2h17l1 2h2l1-2h1l1 6h27l1-6h51l1 2h4l1-2 1-2h2l1-2h2l1-2h2l1 2h15l1-2h18l1-6h8l1-2h68l1 2h11l1-2h14l1 2h51l1-2h54l1 2h3l1-2h51l1 2h10l1-2h222l1 2h13l1-2h356"/>
<path vector-effect="non-scaling-stroke" stroke="#1A6FDF" d="M0 13.95l1-2 1-6 1-2 1-18h3l1-6 1 2h5l1 10 1-2 1-6h4l1-6h3l1-2h6l1-2 1-10h3l1-6 1 2h2l1 6h3l1-6h7l1-2h1l1 2h2l1 2h1l1-2 1-2h5l1 2h3l1 2h2l1-2 1-10h3l1-6h10l1-6h29l1 2h13l1-2h10l1 2h9l1-2h88l1 2h36l1-2h10l1 2h19l1-2h53l1 2h2l1-2h33l1 2h5l1-2h73l1 2h34l1-2h30l1 2h2l1-2h52l1 6h75l1-6h518"/>
<path vector-effect="non-scaling-stroke" stroke="#37AD6B" d="M0 8.33l1-6 1-14h1l1 2 1-2 1-2h1l1-6h4l1-2 1 6h9l1-2 1-2h4l1-6 1-6h2l1-2h1l1-14h7l1 6 1 2 1 6h6l1 2h3l1-2h1l1-6h7l1-2h2l1 2h6l1-2h45l1-6h12l1 2h9l1 2h3l1-6h7l1-6h9l1-6h10l1 2h27l1-2h12l1 2h5l1-2h240l1 2h6l1-2h103l1 2h11l1-2h424l1 2h15l1-2h169"/>
<path vector-effect="non-scaling-stroke" stroke="#B177DE" d="M0 -16.67h2l1-2h2l1-6h2l1 6 1 2 1-6h2l1 6h2l1 6 1-10h1l1 2 1-2h1l1-2 1-10h11l1 2 1-10h3l1 6h10l1-2h11l1 2 1-2h9l1-6h14l1 2h4l1-2h14l1-2h6l1 2h5l1-2h2l1 2h12l1 2h6l1-2h3l1 2h4l1 2h3l1-2h4l1-2 1-2h5l1-2 1-6h17l1-2h6l1-6h43l1-2h20l1 2h29l1-2h152l1 2h27l1-2h30l1 2 1-2h6l1 2h9l1-2h152l1 2h34l1-2h121l1 2h19l1-2h348"/>
<path vector-effect="non-scaling-stroke" stroke="#CC9900" d="M0 -4.67l1-2 1-6h5l1 2 1-2 1-2h1l1-2h2l1 2 1-10h1l1-2h5l1 10h3l1 2 1-10 1-2h2l1-6h3l1-2h4l1-2 1 2h1l1 2h6l1-2 1-2 1-10h1l1 2h1l1-2h3l1-2h7l1-2h2l1 2h3l1-2h5l1-2h3l1-2h1l1 2 1-2h2l1-6h48l1-2h4l1 2h15l1-2h5l1 2h5l1-2h42l1 2h5l1-2h11l1 2h2l1-2h8l1 2h11l1-2h52l1 2h31l1-2h13l1 2h25l1-2h128l1 2h7l1-2h41l1 2h9l1-2h452l1 2h1l1-2h144l1 2h15l1-2h10"/>
<path vector-effect="non-scaling-stroke" stroke="#00CBCC" d="M0 -26.51l1-2h2l1 2 1-2h1l1 2 1-2 1-2 1-2h2l1 2 1-2h1l1 2 1-6h1l1-6h5l1 2 1-2h12l1-2h2l1 2 1 2h4l1-6 1 10h6l1-2h2l1-6h2l1-10 1-2h14l1 2h1l1 2h15l1 2h11l1-2 1 2h8l1 6 1-2h11l1-10h19l1-6h17l1 2h16l1-2h26l1 2 1 6h13l1-6h1l1-2h48l1 2h40l1-2h190l1 2h1l1-2h302l1 2h7l1-2h376"/>
<path vector-effect="non-scaling-stroke" stroke="#7D4E4E" d="M0 -9.35h1l1-6h4l1-2h1l1-2 1-6 1 2h4l1-2 1-2 1-2 1-6h2l1-6h2l1 6h3l1 6h1l1-6h1l1-2 1-2h14l1 2h2l1-6 1-2h5l1 2 1-10h12l1-2h1l1-6h5l1 2h15l1-2h5l1 2 1-2h128l1 2h8l1-2h76l1 2 1-2h9l1 2h7l1-2h110l1 2h11l1-2h13l1 2h7l1-2h39l1 2h10l1-2h18l1 2h22l1-2h8l1 2 1-2h614"/>
<path vector-effect="non-scaling-stroke" stroke="#8E8E00" d="M0 -5.69h2l1-10h1l1-2h2l1-6h2l1-2h3l1 2h1l1 2h1l1-2h1l1 2 1-18h1l1-2h3l1-6h5l1-2h3l1-2h8l1-2h4l1 6h7l1 2h3l1-2h1l1 2 1-2h1l1-6h10l1-2h2l1-6h8l1 2h10l1-2h41l1 2h8l1-2h2l1 2h36l1-2h20l1 2h11l1-2h34l1 2h19l1-2h5l1 2h55l1-2h24l1 2h48l1-2h68l1 2h23l1-2h124l1 2h1l1-2h94l1 2h25l1-2h441"/>
<path vector-effect="non-scaling-stroke" stroke="#FB6501" d="M0 -11.41h1l1-2h1l1 2h3l1 2 1-2h1l1-14h1l1-2h1l1-2h4l1 2h1l1-2 1 2 1 2 1-2 1-2h1l1 2h1l1-2h3l1 6 1 2h1l1 2h2l1-2 1-2 1-6h3l1-2h1l1-2 1-2h1l1 2 1-2h2l1 2h1l1-2 1 2 1-2h2l1-2h21l1 2h6l1-2h8l1-6h1l1-2h2l1-2 1-2h10l1-2 1-2 1-6h6l1-2h41l1 2h4l1-2h34l1 2h36l1-2h17l1 2h9l1-2h5l1 2h9l1-2h22l1 2h12l1-2h56l1 2h33l1-2h32l1 2h38l1-2h46l1 2h24l1-2h266l1 2h27l1-2h345"/>
<path vector-effect="non-scaling-stroke" stroke="#6699CC" d="M0 8.25h1l1-14 1-10h6l1-10 1-6h1l1 6h1l1-6h14l1-6 1-6h2l1-2h6l1-2h13l1-6h27l1-6h42l1-2h71l1 2h49l1-2h57l1 2h19l1-2h37l1 2h5l1-2h48l1 2h47l1-2h39l1 2h29l1-2h110l1 2h17l1-2h112l1 2h21l1-2h8l1 2h23l1-2h366"/>
<path vector-effect="non-scaling-stroke" stroke="#6FB802" d="M0 -18.16h1l1-6 1-6h1l1-10h1l1-2h7l1 10 1 2h6l1-6h3l1 2h5l1-2h6l1 2 1 2h2l1 2h2l1 6h1l1-2 1-6h5l1 2h2l1 2h2l1-2h2l1 2h6l1-6h1l1-2h14l1-2h2l1 6h9l1-2h6l1-6h9l1 6h1l1-2h1l1-10 1 2h2l1-2h1l1 2 1-2h5l1 2h4l1-2h2l1-2 1-2h2l1-10h12l1-2h6l1 2h24l1-2h20l1 2h34l1-2h9l1 14h4l1-2h2l1-10h45l1-2h31l1 2h16l1-2h13l1 2h10l1-2h72l1 2h4l1-2h20l1 2h10l1-2h1l1 2h5l1-2h39l1 2h26l1-2h6l1 2h4l1-2h94l1 2h5l1-2h94l1 2h24l1-2h395"/>
<path vector-effect="non-scaling-stroke" stroke="#515151" d="M0 -7.97h1l1-6 1-6h3l1-2 1-2h1l1-10 1 2h2l1 2h5l1 6 1 14h2l1-2 1-6 1-6 1 2h4l1 2h7l1-2h5l1 2 1-10h6l1-2h2l1 2 1 2h3l1-14h1l1-6h10l1 6h2l1-10h4l1-2h11l1-2h76l1-6h14l1 2h26l1-2h4l1 2h41l1-2h6l1 2h44l1-2h107l1 2h6l1-2h13l1 2h15l1-2h239l1 2h13l1-2h91l1 2h21l1-2h66l1 2h17l1-2h115l1 2h15l1-2h157"/>
<path vector-effect="non-scaling-stroke" stroke="#F14040" d="M0 20.16l1-14 1-10h2l1-10 1 2 1 2h1l1-2h4l1 2h1l1 6h1l1-2 1 2h1l1-2 1-14 1-14h1l1 2 1-2h1l1-2h4l1-6h15l1 6h4l1-6 1-10h6l1 2 1-2h2l1 2 1-2h20l1 2 1 2h1l1-2h1l1-2 1 6h1l1-6h13l1 2h1l1-2h11l1-2h1l1-6h18l1-2h36l1 2h49l1-2h4l1 2h2l1-2h28l1 2h79l1-2h62l1 2h6l1-2h108l1 2h2l1-2h239l1 2h31l1-2h85l1 2h8l1-2h302"/>
<path vector-effect="non-scaling-stroke" stroke="#000000" d="M0 2.62h3l1 6 1-6 1-10 1-2h1l1 2h1l1-2h1l1-6 1-6h2l1-6 1 2h2l1-10 1 6h3l1-6h3l1 10h2l1-10h2l1-2h7l1 2h2l1-6h1l1 2h2l1-2 1 2h1l1-2 1 2h2l1 6h3l1-6 1 6h1l1-6h3l1-2 1-2 1-2h20l1 2h2l1-10h2l1-6h53l1-2h138l1 2h46l1-2h1l1 2h2l1-2h53l1 2h19l1-2h81l1 2h39l1-2h105l1 2h2l1-2h49l1 2h29l1-2h471"/>
<path vector-effect="non-scaling-stroke" stroke="#37AD6B" d="M0 1.89h1l1-6h1l1-10 1-6h1l1-6 1-2h5l1 2 1 2 1 2 1-2h1l1 2h3l1 2 1 2 1 2h1l1-2 1-6h3l1 6h1l1 2 1-6 1 6h3l1-2 1-10h1l1-6h6l1 2h3l1 6h6l1 2h2l1-6h4l1 2h2l1-2h6l1-2h2l1 6h3l1-2h2l1 6h3l1-6h5l1-2 1-10h12l1 2h9l1 2h5l1-2h1l1 2h9l1-6h35l1-2h9l1-2h4l1-2h62l1 2h4l1-2h142l1 2h3l1-2h3l1 2h9l1-6h4l1-2h5l1 2h3l1-2h4l1 2h7l1-2h27l1-6h2l1-2h26l1 2h22l1-2h40l1 6h4l1-6h2l1 2h12l1-2h249l1 2h50l1-2h307"/>
<path vector-effect="non-scaling-stroke" stroke="#B177DE" d="M0 12.67h1l1-2h1l1-10h1l1-22h3l1-2h5l1 2 1-2h4l1 6 1 6h1l1-2 1-2h1l1-2h3l1-2h3l1-10 1 2 1-2 1-2h2l1 2 1 2h5l1-2 1 2 1-6h1l1 2 1 2 1 2 1-2h3l1 6 1-2 1-6h3l1-2 1-2h2l1-2h3l1 6 1 2 1-2h6l1-6h13l1-2h4l1-2h1l1-2h1l1 10 1-10h1l1 2h7l1 6 1 2h2l1 2 1-2h4l1 2 1 2h5l1-10h2l1-2h10l1 2h2l1-2h4l1 2h9l1-2h3l1 2h1l1-2h14l1-6h3l1-2h3l1-2 1-2h1l1 2h6l1-2h16l1-6h22l1-2h7l1 2h63l1-2h53l1 6h14l1-6h360l1 2h2l1-2h37l1 2h19l1-2h392"/>
<path vector-effect="non-scaling-stroke" stroke="#1A6FDF" d="M0 -3.81h4l1-2 1-10 1-6h2l1-6 1 2 1 2h3l1 2 1-2 1-2h2l1 2 1-2h1l1 2 1 6 1-2 1-10h3l1 10h2l1-6h3l1-6h2l1 10h3l1-6h7l1-6h1l1-6 1 2h4l1-6h7l1-2h25l1 2h3l1 10h1l1 2h4l1-10h2l1-2h5l1 2h8l1-6h10l1-2h16l1 6h6l1-6h15l1 2h3l1-2h5l1 2h9l1-2h35l1 2h8l1-2h234l1 2h9l1-2h715"/>
<path vector-effect="non-scaling-stroke" stroke="#00CBCC" d="M0 -7.44l1 2 1-2 1 2 1-2 1-6 1-6h1l1-2h1l1-2 1-2h6l1 2h3l1 2h1l1-6 1-2h2l1-2 1-10h8l1 2h3l1-2h1l1 2 1-2h21l1 6h8l1-6h6l1 2h1l1-2h1l1-2h3l1-6h6l1-6 1-6h8l1 2h33l1 6h23l1-6h24l1-2 1 2h95l1-2h15l1 2h26l1-2h21l1 2h2l1-2h5l1 2h46l1-2h50l1 2h7l1-2h158l1 2h2l1-2h113l1 2h17l1-2h72l1 2h38l1-2h326"/>
<path vector-effect="non-scaling-stroke" stroke="#7D4E4E" d="M0 2.00h1l1-10h2l1-2 1-10h1l1-14 1 2h5l1-10h5l1-6 1 6h9l1 6h2l1-2h6l1 2h4l1 2h5l1 2h2l1-2h6l1 2h3l1 6 1-10h1l1 2h1l1-6 1-6h2l1 2h5l1 6h2l1-2 1 6h3l1-6h4l1-2h3l1 2h8l1-10h3l1-6h8l1 6h7l1-6h16l1-6h117l1 2h12l1-2h60l1 2h8l1-2h176l1 2h5l1-2h40l1 2h14l1-2h71l1 6h54l1-6h487"/>
<path vector-effect="non-scaling-stroke" stroke="#8E8E00" d="M0 4.33l1-18h2l1-6h1l1-2 1-2h3l1-2h1l1-6 1-2h3l1-6h3l1-2h11l1 2h4l1 2h3l1 2h1l1-2 1-10h39l1 6h9l1 2h2l1 6h2l1 2h4l1-2 1-2 1-6h10l1 2 1-2h5l1-6h17l1 2h3l1 2h5l1-2h4l1-2h6l1-2 1 2h6l1-2h4l1 2h3l1-2h2l1 2h1l1 2h13l1-2 1-2h2l1-2 1 2h23l1-2h2l1-2h1l1-6h16l1-2h85l1 2h46l1-2h126l1 2 1-2h64l1 2h29l1-2h96l1 2h42l1-2h154l1 2h8l1-2 1 2h51l1-2h233"/>
<path vector-effect="non-scaling-stroke" stroke="#FB6501" d="M0 -36.27h4l1 2h1l1-2h8l1 14h1l1-14 1-2h5l1 2 1 2h1l1-2h5l1 2 1 2 1-6 1-18h24l1-6h1l1 2h2l1-2h2l1 2h3l1 6h6l1-6h11l1-2h22l1 2h44l1 6 1 10h7l1-10h3l1-6h18l1-2h116l1 2h9l1-2h29l1 2h16l1-2h365l1 2h17l1-2h14l1 2h10l1-2h285l1 2h12l1-2h124"/>
<path vector-effect="non-scaling-stroke" stroke="#6699CC" d="M0 4.04h1l1-10 1-2h2l1-6 1 2h1l1-10h3l1 2 1 2h2l1 2h2l1-2 1-2h1l1-2h2l1 2 1-2h1l1-2 1-10h6l1-2h11l1-2h7l1-2 1 2h2l1 2h1l1 2 1 6 1-6h2l1-2 1-2h5l1-2h1l1-10h4l1-6h55l1 6h1l1-2h11l1-2h4l1-6h30l1-2h3l1 2h4l1-2h32l1 2h18l1-2h19l1 2h3l1-2h21l1 2h20l1-2h24l1 2h37l1-2h138l1 2h3l1 6h14l1-6h7l1-2h231l1 2h36l1-2h386"/>
<path vector-effect="non-scaling-stroke" stroke="#7D4E4E" d="M0 -2.48l1-6h2l1 6 1-6 1-10 1-6 1-10h2l1-2h2l1 2 1 2h2l1-2h4l1-6 1 2h4l1-2h2l1 2h3l1-2h3l1 2 1-2h8l1-6h8l1 2h4l1 2h5l1-2h4l1 2h4l1-2 1-2 1-2h25l1 2h1l1-2 1 6h4l1 2 1 2h3l1-2h2l1-2h3l1 2h4l1-2h7l1-6h7l1 2h9l1-2h13l1 2h10l1 2h3l1-2h6l1-2h18l1 2h4l1-2h53l1-2 1-2h2l1-2h12l1 2h10l1-2h4l1 2h6l1-2 1-2h5l1 6h22l1-6h102l1 2h9l1-2h162l1 2h5l1-2h575"/>
<path vector-effect="non-scaling-stroke" stroke="#515151" d="M0 -22.68h4l1-2h2l1-6h4l1-2h2l1 2 1-2h7l1 2 1-6h1l1 2 1-2h1l1 6 1 10h1l1-6h1l1-6 1-2h2l1-2 1 6h2l1 2 1 2h3l1-10h1l1-2 1 2h3l1-2h2l1 2 1-2h25l1 2h4l1-2h12l1 2h6l1-2h1l1-10h4l1 2 1-2h70l1 2h14l1-2h7l1-2h12l1 2h7l1-2h9l1-6h19l1-6h75l1 2h39l1-2h10l1 2h27l1-2h221l1 2h7l1-2h90l1 2h49l1-2h33l1 2h18l1-2h357"/>
<path vector-effect="non-scaling-stroke" stroke="#F14040" d="M0 3.22h1l1-6 1-2h1l1-2 1-2 1-6h5l1-6h3l1-2 1 2h1l1-2 1 2h2l1 2h2l1-10 1-10h10l1-10h14l1-6 1-6h101l1-2h16l1 10h3l1-2h3l1 2h4l1-2h36l1 2h4l1-2h27l1-6h8l1-2h85l1 2h8l1-2h92l1 2h37l1-2h4l1 2h8l1-2h588l1 2h7l1-2h97"/>
<path vector-effect="non-scaling-stroke" stroke="#1A6FDF" d="M0 34.34h1l1-6 1 2 1-10 1 2h3l1-18 1-10 1-2h1l1 2 1-2 1-2 1 6 1-10h5l1-2h1l1-6 1 2h2l1 2 1-2 1-2h3l1-2h1l1 2 1 2h1l1-14h2l1-6h11l1-6h1l1 2h5l1-10h2l1 2h4l1-2h2l1 6h8l1-6 1-6h82l1-2h73l1 2h44l1-2h51l1 2h35l1-2h64l1 2h13l1-2h74l1 2h8l1-2h54l1 2 1-2h41l1 2h9l1-2h31l1 2h18l1-2h504"/>
<path vector-effect="non-scaling-stroke" stroke="#37AD6B" d="M0 -0.07l1-2 1-2 1 2h1l1-2h3l1-10 1-6h1l1-2 1 2 1-6 1-2h1l1-6 1-2h4l1 6h6l1-2h4l1 6h4l1 6h1l1-10h1l1-6h7l1-2h9l1 10h1l1-14 1 2h4l1 6 1-2h1l1 10h1l1-6h2l1-6 1-10 1 6h4l1-18h35l1-2h8l1 2h11l1-2h8l1 6h42l1-6h67l1 6h9l1 6h9l1-6h12l1-6h3l1 2h3l1-2h350l1 2h59l1-2h124l1 2h8l1-2h352"/>
<path vector-effect="non-scaling-stroke" stroke="#B177DE" d="M0 -19.32l1-2h9l1 2h6l1-2 1-2 1 2h2l1-2h1l1-6h5l1-6h3l1-6h12l1 6h3l1-6h1l1 6h9l1-6h4l1-6h8l1 2 1 2h3l1 2 1 2h1l1-2 1-2h2l1 2h2l1 2 1-2h1l1-10h7l1-2h5l1 2h22l1-10 1 2h1l1-2h26l1 2h14l1-2h36l1 2h9l1-2h23l1 2h31l1-2h45l1 2h94l1-2h66l1 2h36l1-2h43l1 2h8l1-2 1 2h1l1-2h24l1 2h18l1-2h199l1 2h25l1-2h348"/>
<path vector-effect="non-scaling-stroke" stroke="#CC9900" d="M0 -17.43l1-2h3l1-10h3l1-2h1l1 6h1l1-6h2l1-2 1-6h9l1 2h1l1 2h13l1 2h10l1-2h12l1 2h3l1-10h1l1-2h9l1-6h3l1 2h2l1-6h2l1 2h8l1-2h1l1-6h20l1 2h1l1-2h37l1 2h21l1 6h20l1-6h17l1-2h14l1 2h87l1-2h31l1 2h22l1-2h4l1 2h2l1-2h97l1 2h22l1-2 1 2h6l1-2h2l1 2h10l1-2h212l1 2h5l1-2h64l1 2h3l1-2h377"/>
<path vector-effect="non-scaling-stroke" stroke="#00CBCC" d="M0 19.80h2l1-18 1-14 1-6 1-2h2l1-2h4l1 2 1-2 1 6 1-2 1-2 1-2 1-2 1 6h1l1-10h1l1-2h1l1-6h2l1-2h5l1-2h1l1 2h1l1 2h1l1-2h20l1-2 1-6h5l1-6h17l1-2h32l1-2h4l1-6h18l1 2h42l1-2h38l1 2h18l1-2h35l1 6h16l1 2h10l1-2h9l1-6h2l1 2h13l1-2h58l1 2h55l1-2h250l1 2h8l1-2h488"/>
<path vector-effect="non-scaling-stroke" stroke="#7D4E4E" d="M0 4.81h1l1-2 1-6h1l1-6h1l1-2 1 2h1l1-10h1l1 14h2l1-2 1-6h7l1 2h2l1-10h3l1 2 1-2 1 2h1l1-6h2l1 2h4l1 2 1 6h1l1-6h2l1 2h1l1 2h7l1-6h4l1-10h2l1-2h13l1 2 1-2 1 2h5l1-2h2l1-2h6l1 2h2l1-2h2l1 2h1l1 2 1 2h1l1-2 1-2h1l1-6h13l1-2h10l1-2h2l1 6h1l1-2h5l1-10 1-2h6l1-6h2l1-2h10l1 2h14l1-2h26l1 2h6l1-2h163l1 2h32l1-2h133l1 2h77l1-2h173l1 2h74l1-2h322"/>
<path vector-effect="non-scaling-stroke" stroke="#8E8E00" d="M0 36.16l1-6 1-10h1l1-10 1-14 1-2 1 2 1-2 1-6 1-2h2l1-18h4l1-2h7l1 6 1-10 1 6 1 2 1 2h3l1 10h3l1-2h3l1 2 1-10h2l1-6h4l1-2h2l1 2h2l1 2h2l1-2 1-2h3l1-2h3l1 2h7l1-2h7l1-2h9l1 2 1 2 1-2h4l1-2h2l1-6h6l1-6h4l1 6h3l1 2 1-2h10l1-6h1l1 6 1-6h200l1 2h9l1-2h27l1 2h4l1-2h6l1-2h15l1-6h20l1-2h81l1 2h11l1-2h77l1 2 1-2h114l1 2h60l1-2h50l1 2h23l1-2h352"/>
<path vector-effect="non-scaling-stroke" stroke="#FB6501" d="M0 2.45l1-2 1 6 1-2 1-2 1-10h2l1-2 1-6 1-2h2l1-2h2l1-2 1 2 1 2 1-2 1-2h1l1-2h3l1-2h6l1-2h1l1-6 1-2h6l1-2h9l1-2 1-2h3l1-2h7l1-10h5l1-2h11l1 2 1-2 1 6h12l1-6h26l1 2h8l1-2h23l1-6h35l1 2h4l1-2h85l1 2h3l1-2h52l1 2h16l1-2h70l1 2h21l1-2h389l1 2h10l1-2h346"/>
<path vector-effect="non-scaling-stroke" stroke="#6699CC" d="M0 15.84h1l1 2 1-2 1-2 1-6 1-10h2l1 2 1-6h3l1-10h1l1-2h2l1-6h1l1 2h4l1-10 1-2h2l1-2h4l1-6h4l1 2h5l1-2h3l1 2 1-2 1-6h2l1-2h4l1-6h4l1-6h36l1 2h1l1-2 1 2h14l1-2h24l1 2h26l1 6h3l1-6h15l1-2h69l1 6h1l1-6h8l1 2h9l1-2h11l1 2h11l1-2h52l1 2h20l1-2h24l1 2h8l1-2h76l1 2h10l1-2h60l1 2h13l1-2h73l1 2h5l1-2h198l1 2h30l1-2h28l1 2h10l1-2h272"/>
<path vector-effect="non-scaling-stroke" stroke="#6FB802" d="M0 3.48l1-6 1 6 1-10h1l1 2h4l1-6h1l1-2h1l1-6h2l1-2 1-2 1-2h1l1-2h3l1-2h5l1-2h1l1-2 1-6h1l1-2h1l1 2h1l1-2 1 2h5l1-2h4l1 2h2l1-2h2l1-2 1-2h13l1 2h3l1 2h3l1-6h6l1 2h10l1-2h5l1 2h2l1-2 1-2 1-2 1-2 1 6h3l1 6h2l1-10h42l1-10 1-2h11l1 6h20l1-6h57l1 2h17l1 6h12l1-6h11l1-2h97l1 2h10l1-2h29l1 2h2l1-2h54l1 2h16l1-2h54l1 2h30l1-2h41l1 2h32l1-2h205l1 2h2l1-2h319"/>
<path vector-effect="non-scaling-stroke" stroke="#515151" d="M0 -10.56l1-6 1-10h2l1 2h1l1-6h6l1 2h19l1-2h3l1-2h2l1-2 1-2 1 6 1-6h1l1-6h1l1 2h1l1 6h6l1-6h5l1 2 1-2h2l1-2h15l1 2h2l1 2h4l1-2h14l1-2h16l1 2h2l1 2h7l1-2h7l1-2h39l1 6h7l1-6h2l1 2h13l1-6 1-2h4l1-6 1-6h47l1-2h115l1 2h6l1-2h129l1 2h21l1-2h283l1 2h17l1-2h361"/>
<path vector-effect="non-scaling-stroke" stroke="#F14040" d="M0 1.46h1l1-2 1 6 1-2 1-2 1-6 1-6 1-2 1-10h1l1 2h3l1-14h2l1-2h4l1-2h1l1-2h9l1 2h1l1-6h1l1-6h2l1 6h4l1-6h2l1-2h10l1-2 1 2h11l1-2h11l1-6h18l1-2h10l1 2h2l1-2h2l1 2h20l1-2h61l1 2h17l1-2h18l1 2h22l1-2h9l1 2h2l1-2h87l1 2h11l1-2h110l1 2h23l1-2h6l1 2h12l1-2h502l1 2 1-2h163"/>
<path vector-effect="non-scaling-stroke" stroke="#1A6FDF" d="M0 -1.82l1-6 1-2 1-14 1-6 1-6 1 2h1l1 2 1 6h3l1 6 1-6h2l1-6h5l1-2h1l1-2h1l1 2h2l1-6 1-6h30l1 2 1-2 1 2h6l1 2h3l1 6h2l1 2h2l1-2h6l1-6h5l1-2h3l1 2h1l1-2h2l1 2h3l1 2h7l1-2h8l1 2h1l1 2h1l1-2h1l1-2 1-2h3l1 2h2l1-2h1l1 2h4l1-2h7l1 2h5l1-2h14l1-2h17l1-2h12l1-2h1l1-2h8l1-2h1l1-6h7l1-2h138l1 2h22l1-2h47l1 6h4l1-6h101l1 2h19l1-2h21l1 2h57l1-2h19l1 2h20l1-2h147l1 2h32l1-2h20l1 2h10l1-2h303"/>
<path vector-effect="non-scaling-stroke" stroke="#37AD6B" d="M0 -10.66h2l1-2h2l1 2 1-6 1-6h2l1-6h4l1-6 1-2h2l1 6h5l1-2h1l1 6h4l1-2 1-2h1l1 2h5l1-2h6l1-2h3l1-2h1l1-6h3l1-2h2l1 2h5l1-2h12l1 2 1-2h13l1-2h8l1 6 1-6h15l1 2h1l1-2 1-2h4l1 2h1l1-2h7l1 2h2l1-2h12l1 2h7l1-2h2l1-6h2l1 2h6l1-2h18l1 6h9l1-2 1-2h14l1 2 1-6 1 6h3l1-2h1l1 2h1l1 2h7l1-2h1l1-6h14l1-6h26l1-2h28l1 2h32l1-2h30l1 2h4l1-2h51l1 2h19l1-2h37l1 2h7l1-2h700"/>
<path vector-effect="non-scaling-stroke" stroke="#B177DE" d="M0 17.18l1-10 1-14 1-14h1l1-2 1 2h2l1 2 1-2h8l1-2h4l1-6 1 2 1 2h1l1-2h2l1-6 1 6 1-2h3l1-2 1-6 1 2h2l1-2 1 2h5l1-6h4l1-2 1 2h3l1-10 1-2h3l1-2h1l1 2h7l1 2 1 2h3l1 2h5l1-2h7l1-6h3l1-6h7l1-2h138l1 2 1-2h10l1 2h11l1-2h8l1 2h7l1-2h48l1 2h81l1-2h6l1 2h93l1-2h71l1 2h36l1-2h574"/>
<path vector-effect="non-scaling-stroke" stroke="#CC9900" d="M0 -13.43l1 2 1 10 1-6h4l1-6 1-2 1-2h1l1-2 1-2 1-2 1-2 1-6h6l1 2 1-2h8l1-6 1 2h3l1-2 1-2h7l1 2h3l1-2 1 6h1l1-6h2l1-2h5l1-6h17l1 6h3l1-2h5l1 2 1-6h6l1-14h23l1 10h2l1-2h14l1-6h5l1 6 1 2 1-10h4l1 2h5l1-2h9l1 2h2l1-2h59l1 2h23l1-2h115l1 2h22l1-2h15l1 2h33l1-2h50l1 2h18l1-2h98l1 2h27l1-2h175l1 2h32l1-2h348"/>
<path vector-effect="non-scaling-stroke" stroke="#00CBCC" d="M0 5.32h1l1-2 1-10h1l1-2 1-18 1-6 1-14 1 2h5l1-6h3l1-2 1-10h1l1 2h20l1 6 1 2h2l1-2h25l1-6h7l1-2h8l1 2h22l1-2h27l1 2h19l1-2h51l1 2h40l1-2h78l1 2h2l1-2h2l1 2h6l1-2h112l1 2h22l1-2h58l1 2h45l1-2h14l1 2h4l1-2h32l1 2 1-2h25l1 2h23l1-2h113l1 2h16l1-2h4l1 2h7l1-2h28l1 2h3l1-2h332"/>
<path vector-effect="non-scaling-stroke" stroke="#7D4E4E" d="M0 -6.08l1-2h4l1-2h1l1-2 1-14 1 10h1l1-2h1l1 6h3l1 2 1-6 1-10h1l1-10h3l1-10 1 6h6l1-6h2l1 2h2l1-6 1 2h1l1 2 1 2h5l1-6h7l1 2h2l1-2h4l1-10h12l1-2h11l1 2h76l1-2h125l1 2h7l1-2h50l1 2h40l1-2h78l1 2h1l1-2h18l1 2h23l1-2h118l1 2h13l1-2h549"/>
<path vector-effect="non-scaling-stroke" stroke="#8E8E00" d="M0 3.98l1-6 1-6 1-14h1l1-2 1 6h2l1-6 1 6 1 2 1-10h4l1-2h2l1-2h1l1-6h6l1 6h2l1 2h2l1-2h2l1 2 1-2h3l1-6h9l1-2h23l1 2h1l1-2 1 2h2l1-6h3l1 2h5l1-2h3l1 6h1l1-6h1l1-2h3l1 2h2l1-6h2l1-2 1-6h20l1-6h3l1 2h5l1 6h27l1-6h5l1-2h65l1 2h52l1-2h19l1 2h18l1-2h1l1 2h1l1-2h55l1 2h47l1-2h15l1 2h23l1-2h17l1 2h8l1-2h59l1 2h17l1-2h38l1 2h7l1-2h424l1 2h30l1-2h109"/>
<path vector-effect="non-scaling-stroke" stroke="#000000" d="M0 -19.80l1-6h1l1-10h2l1-2 1-2h12l1-2 1 2h1l1 2 1-2h1l1 2h4l1-2 1-2h5l1-2h11l1-2h24l1-14h27l1-2h14l1 2h8l1-2h35l1 2h8l1-2h37l1 2h5l1-2h71l1 2h5l1-2h2l1 2h2l1-2h28l1 2h19l1-2h31l1 2h52l1-2h74l1 2h1l1-2h12l1 2h7l1-2h156l1 2h43l1-2h467"/>
<path vector-effect="non-scaling-stroke" stroke="#6699CC" d="M0 0.01l1-2h1l1-10h2l1-14h2l1 2h2l1-2 1 2 1-6 1-22 1-2h4l1 2h1l1 2h3l1-2h6l1 6 1-6h5l1-2 1 2h3l1 2h2l1-2h41l1 6h16l1-2h1l1-2h7l1 2h4l1-2 1-6h10l1-6h18l1 2h9l1-2h3l1 2h8l1-2h29l1 2h52l1-2h4l1 2h8l1-2h16l1 2h2l1-2h24l1 2h7l1-2h139l1 2h12l1-2h183l1 2h1l1-2h279l1 2h4l1-2h249"/>
<path vector-effect="non-scaling-stroke" stroke="#6FB802" d="M0 6.74h1l1-14h2l1-2 1-14 1-14 1 2h1l1-6 1-2h1l1-2 1 2h3l1-2h6l1-6 1 2h15l1 2h2l1-6h5l1 2h11l1-2h2l1 2h5l1 2h1l1 2h6l1-2h5l1-2 1-2 1 2 1 2h14l1-2 1 6h6l1-2h1l1-2h2l1 2 1 2 1-2h11l1 2h13l1-2 1-2h2l1 2h11l1 2h6l1 2h1l1-2h2l1-2h4l1-2h1l1 2h2l1 2h4l1 2h11l1-2h3l1-2h13l1 2h13l1-2h7l1-2h4l1-2h4l1-2h33l1-6h42l1-2h9l1 2h9l1-2h37l1 2h18l1-2h116l1 2h4l1-2h82l1 2h29l1-2h348l1 2h13l1-2h197"/>
<path vector-effect="non-scaling-stroke" stroke="#515151" d="M0 8.43l1-6h1l1-10h1l1-6 1-2h1l1-2 1-10 1 6h1l1-18h1l1 6h4l1-6h1l1-2 1-2h6l1 6h1l1-10 1-6h4l1-6h8l1-2h6l1 2 1-2h2l1 2h5l1 6h3l1 2h9l1-2h2l1-6h22l1-2h7l1 2h23l1-2h5l1 2h30l1-2h113l1 2h17l1-2h48l1 2h13l1-2h3l1 2h13l1-2h91l1 2h4l1-2h200l1 2 1-2h516"/>
<path vector-effect="non-scaling-stroke" stroke="#F14040" d="M0 -1.87l1-2h2l1-10 1-10h1l1-2h1l1-2h2l1-2h1l1 6h2l1-2h1l1-2 1-6h4l1 2h1l1-2h7l1 2h3l1-2h2l1 2h2l1-6h2l1 2 1-2h3l1 2h19l1-2h2l1-2h29l1 6h12l1-2 1 2h11l1-2h6l1-2 1 2h3l1 2h1l1-2h1l1-6h6l1-2h2l1-2h61l1-14h28l1-2h169l1 2h2l1-2h6l1 2h11l1 6h6l1-6h23l1-2h728"/>
<path vector-effect="non-scaling-stroke" stroke="#1A6FDF" d="M0 4.20h1l1-14h1l1-2h1l1-2 1 6 1 2h1l1 2 1-6 1 2h1l1-2h2l1-2h1l1-2 1-26h7l1-6h19l1 2h3l1-2h7l1 6h2l1-6h7l1 2h3l1-2h17l1 2h2l1-2h7l1 2h9l1-2h4l1 2 1 2h2l1-2h3l1-2h3l1-14h16l1-2h53l1 2h3l1-2h9l1 2h8l1-2h56l1 2h12l1-2h67l1 2h26l1-2h276l1 2h17l1-2h38l1 2h4l1-2h471"/>
<path vector-effect="non-scaling-stroke" stroke="#37AD6B" d="M0 6.01l1-10h1l1 6h1l1-6h1l1-2 1-2h1l1-2h1l1-6h1l1-6h3l1-2h3l1-2h3l1-2h5l1 2h1l1-2h5l1-6h2l1 2h9l1 6h1l1-6h9l1-2h2l1 2h2l1-2h1l1 2h3l1 2 1 2 1-6h1l1 2h17l1-2h2l1 2 1-2h1l1-2 1 2 1-2h17l1-2h11l1-10h2l1-6h66l1 2h11l1-10h29l1 2h22l1-2h81l1 2h25l1-2h235l1 2h17l1-2h2l1 2h9l1-2h27l1 2h2l1-2h28l1 2h23l1-2h469"/>
<path vector-effect="non-scaling-stroke" stroke="#B177DE" d="M0 12.79l1-10h1l1-6h2l1-2h1l1-14h2l1-2h2l1 2h2l1 2h2l1 2 1 2h2l1 2h1l1-2 1-2h1l1 2h1l1 2 1-2 1-2h1l1-2 1-2 1 6 1-2h1l1 2 1-2 1-2h1l1-6 1-6h12l1-2h1l1-2h6l1-2h1l1-6h8l1 2h2l1-6h13l1 2h1l1-2h8l1-6h1l1 2 1-2h5l1 2h4l1-2 1-2 1-2h22l1-6h25l1 2h28l1-2h48l1 2h22l1-2h120l1 2h3l1-2h84l1 2h26l1-2h43l1 2h25l1-2h44l1 2h5l1-2h1l1 2h39l1-2h528"/>
<path vector-effect="non-scaling-stroke" stroke="#CC9900" d="M0 15.54h3l1-2 1-10 1-10 1-2h2l1-14h2l1-2h3l1-2h4l1-2h4l1 2h2l1 6h4l1-2h2l1-2h4l1 2h9l1-2h1l1 2h2l1-10h1l1 2h3l1-14h2l1-2h6l1 2 1-2h4l1-2h2l1 2h1l1-2h4l1-2h1l1 2h3l1-2 1 2h20l1 2h22l1 2h2l1 10 1-10h5l1-2h32l1-2 1-2h5l1-2h281l1 2 1-2h15l1 2 1-2h5l1 2h3l1-2h3l1-2h8l1 2h3l1-2 1-6h15l1-2h25l1 2h15l1-2h508l1 2h11l1-2h102"/>
<path vector-effect="non-scaling-stroke" stroke="#00CBCC" d="M0 10.32h1l1-2h1l1 6 1-6 1-10 1-14 1-6h1l1-6h1l1-6h3l1 2 1 2h14l1 6h2l1 6 1-6 1-14h7l1-2h2l1 2h4l1-2h9l1 10h2l1-10h4l1 2h2l1 2h6l1-6h1l1 2h1l1 2h13l1 2h1l1-2h8l1-2h1l1-2 1-6h7l1-6h9l1-2 1-6h22l1 2h10l1-2h19l1 2h5l1-2h42l1 2h11l1-2h60l1 2h33l1-2h12l1 2h23l1-2h36l1 2h1l1-2h160l1 2h8l1-2h282l1 2 1-2h328"/>
<path vector-effect="non-scaling-stroke" stroke="#7D4E4E" d="M0 -15.91l1 2h1l1 10 1-10 1-10h7l1-2h2l1 2h2l1 2h2l1-2h1l1 6h1l1-6 1 6h3l1-14h1l1-2 1 6 1-2h3l1-2h1l1-2h4l1 2h11l1 2 1 2 1-10 1-6h4l1-2h5l1 2h12l1-2 1 2h3l1-6h4l1 2 1-2h1l1-2 1-2h34l1 2h19l1-2h2l1 2h5l1-2h3l1 2h1l1-2h2l1 2 1-2h16l1-6h3l1-2h44l1 2h8l1-2h93l1 2h5l1-2h25l1 2h161l1-2h127l1 2h1l1-2h5l1 2h41l1-2h486"/>
<path vector-effect="non-scaling-stroke" stroke="#8E8E00" d="M0 15.22l1-2h3l1-10 1-10h1l1-14h1l1-6 1 2h3l1-14h2l1 2h8l1-2 1 2h4l1-6h7l1-6h3l1 2h12l1 2h2l1 6 1-2 1-2h1l1 2h6l1-2h2l1 6 1-2h3l1-2h3l1-2h5l1-6h6l1-2h11l1 6h3l1-6 1-2h2l1-2h7l1-6h1l1-2h5l1 2h3l1 6h11l1 2h5l1-2h2l1-6h65l1-2h33l1 2h53l1-2h40l1 2h10l1-2h19l1 6h18l1-6 1 2h38l1-2h13l1 2h6l1-2h13l1 2 1-2h156l1 2h27l1-2h93l1 2 1-2h14l1 2h9l1-2h239l1 2h2l1-2h173"/>
<path vector-effect="non-scaling-stroke" stroke="#FB6501" d="M0 -22.35h1l1-10h1l1-6h4l1-6h1l1 6 1 22h3l1 2h1l1 2h1l1-14h1l1-6h2l1 10 1-6h2l1-2h1l1-10 1 2 1 2h1l1-6h3l1 2h4l1 6 1-6 1-2h4l1 2h1l1 2h3l1 2h5l1-6h14l1 2h2l1 2h2l1-2h1l1 2 1-2h4l1-2h17l1 2 1-2 1-2h10l1-2h10l1 2 1 2h1l1-2h5l1-2 1 2 1-6h35l1-2h11l1-2 1 2h1l1 6h6l1-2h3l1 2h1l1-2h1l1-2h8l1-6h6l1-6h3l1 2h25l1-2h4l1 2h21l1-2h130l1 2h17l1-2h218l1 2h2l1-2h20l1 2h6l1-2h517"/>
<path vector-effect="non-scaling-stroke" stroke="#6699CC" d="M0 28.73h1l1-6 1-30 1 10 1 2 1-2 1-2h2l1-14 1-10h2l1 2 1-6 1 6h1l1 2 1-2 1 2 1 2h1l1 2 1-2h1l1-6h3l1-2 1 2h2l1-2h1l1-6h2l1 2 1 6 1-2h1l1-2h6l1 2h1l1-2h3l1-2h3l1-6 1-2h1l1-6h3l1 2h7l1-14h10l1-6h229l1 2h61l1-2h38l1 2h14l1-2h22l1 2h6l1-2h15l1 2h2l1-2h60l1 2h26l1-2h253l1 2h10l1-2h366"/>
<path vector-effect="non-scaling-stroke" stroke="#6FB802" d="M0 14.48l1 2 1-10h2l1-6h1l1-10 1-10h3l1-6h2l1 2h1l1-6 1 2h3l1-2 1-2h1l1-2h2l1-6h4l1-6h14l1 10h2l1-6h1l1-6h6l1-2h2l1 2 1-2h5l1 6h1l1-2h27l1-10h18l1-6h103l1 6h11l1-6h24l1 2h3l1-2h23l1 2h9l1-2h6l1 2h6l1-2h78l1 2h3l1-2h61l1 2h19l1-2h723"/>
<path vector-effect="non-scaling-stroke" stroke="#515151" d="M0 15.17l1 2 1-2h1l1 2 1-14h4l1 2 1-22 1-2h6l1 2h1l1-2 1 6h3l1-6 1-2 1-2h3l1-2h2l1 2h2l1 2 1-2h6l1-6 1 2 1-6h1l1 2 1-2 1 6h1l1-6 1-2h3l1 2 1-2 1 6h4l1-2h3l1-10h1l1-2 1 2h5l1-2h2l1-2h13l1 2h3l1-2h2l1 2h4l1-2h13l1-2h5l1 2h14l1-2h26l1 6 1-6h13l1 2h2l1-2h20l1 2h2l1-2h9l1-6h5l1 2h4l1 2h7l1-2h1l1 2 1-2h18l1 6h26l1-6h1l1 2h1l1-2h19l1-10h8l1-2h154l1 2h94l1-2h4l1 2h27l1-2h6l1 2h14l1-2h572"/>
<path vector-effect="non-scaling-stroke" stroke="#F14040" d="M0 -0.35l1-6 1-10h2l1 2 1-2h4l1-2h1l1-2h4l1 2 1 6 1-2h2l1-10 1-2 1 6h2l1-2h3l1-10h9l1-14h19l1-14h13l1-2h33l1 2h14l1-2h5l1 2h40l1-2h12l1 2 1-2h10l1 2h13l1-2h16l1 2h55l1-2h57l1 2h44l1-2h95l1 2h3l1-2h36l1 2h12l1-2h78l1 2h29l1-2h35l1 2h46l1-2h471"/>
<path vector-effect="non-scaling-stroke" stroke="#1A6FDF" d="M0 3.17l1-10 1-10 1-10h7l1-2h12l1-10 1 2h1l1-2h5l1 2 1-2h5l1 2h4l1 2h6l1-2 1 6 1 2h1l1-2h7l1 2 1-2h9l1-6h11l1-10h6l1 2 1-2h2l1-2h1l1 2h6l1-2h9l1-2 1-2h6l1-2h4l1 2h2l1-2h25l1-6h1l1-2h54l1 2h27l1-2h8l1 6h74l1-6h56l1 2h3l1-2h86l1 2h4l1-2h128l1 2h13l1-2h187l1 2h37l1-2h350"/>
<path vector-effect="non-scaling-stroke" stroke="#37AD6B" d="M0 0.56l1-10h1l1-10h2l1-6 1-6h2l1-2h4l1-2h2l1-6h1l1-2h3l1 6h6l1-6 1-2h11l1 2h6l1-2h10l1-6h2l1-10h18l1 2h39l1-2h12l1 6h19l1-6h9l1 6h82l1-6h2l1 2h30l1-2h35l1 2h56l1-2h126l1 2h59l1-2h141l1 2h16l1-2h477"/>
<path vector-effect="non-scaling-stroke" stroke="#B177DE" d="M0 5.34h1l1-14h1l1 6 1-6h1l1-6h1l1-6h2l1-18h6l1-6h4l1 2h1l1-10h5l1 2h3l1 6h3l1-6h4l1-2h1l1 2 1 2h1l1-2h2l1 2h2l1 10 1-10 1-6h12l1 2h18l1-2h6l1 6h1l1-2h4l1-10h16l1-2h10l1 2h34l1-2h9l1 2h6l1-2h18l1 2h31l1-2h28l1 2h4l1-2h30l1 2h10l1-2h43l1 2h5l1-2h107l1 2h7l1-2h158l1 2h2l1-2h561"/>
<path vector-effect="non-scaling-stroke" stroke="#CC9900" d="M0 15.25h1l1-18 1-2 1-2 1-6h2l1-6 1-6h2l1-2h1l1-2 1 6 1-6 1 2h1l1 2h1l1-6h6l1-2h9l1-6h5l1 10 1 2 1-2 1-2h4l1-2 1-6h2l1-6h10l1 2h2l1-2h11l1 2h3l1 2 1-2h1l1-2h2l1-2h3l1 2h7l1-10 1-6h1l1-2h27l1 10 1-2h9l1 2h2l1-2h10l1-6h52l1-2h14l1 2h13l1-2h83l1 2h25l1-2h17l1 2h35l1-2h208l1 2h39l1-2h545"/>
<path vector-effect="non-scaling-stroke" stroke="#00CBCC" d="M0 0.82l1-6h1l1-18 1-2 1-2h1l1-10h1l1-2h2l1 14 1-2h7l1 2h4l1 2h3l1-2h3l1-14 1 6h2l1-6h2l1 2h4l1 6h9l1-2 1 2h1l1-6h1l1-2h1l1 2h1l1-2h2l1-2h8l1-10h2l1 2 1 2h4l1-6h3l1-6h32l1-2h19l1 2h30l1-2h18l1 2h2l1-2h145l1 2h17l1-2h12l1 2h27l1-2h52l1 2h24l1-2h71l1 2h17l1-2h70l1 2h71l1-2h8l1 2h13l1-2h465"/>
<path vector-effect="non-scaling-stroke" stroke="#7D4E4E" d="M0 1.91l1-2h2l1-6h1l1-14 1 6h1l1-6 1-2 1-6h7l1-10 1-2h1l1 2 1-2h7l1-2 1 2h1l1 2 1-2h1l1-2h3l1 6h3l1-6 1 2h1l1 2h13l1-2h5l1 2 1-2h8l1 6h2l1-6h13l1 2h13l1 2h9l1-2h6l1-2 1 2h3l1 2h4l1-2 1 2h1l1-2h21l1 2h8l1-2 1-2h2l1-6h1l1 2h3l1-6h42l1-10 1-2h16l1 2h1l1-2h8l1 2h2l1-2h12l1 2h28l1-2h89l1 2h12l1-2h81l1 2h5l1-2h44l1 2h7l1-2h659"/>
<path vector-effect="non-scaling-stroke" stroke="#8E8E00" d="M0 1.69h1l1-10 1 6 1 6 1-14 1-6h1l1 2 1-2 1-6 1-14 1 6h2l1-2h2l1 6 1-10h3l1 2h2l1-2h2l1-6h3l1-6h5l1-2h3l1 10h6l1-2h2l1 2h4l1-2h8l1 2 1 2h6l1-2h1l1-2h6l1-2h1l1-2h5l1 2h5l1-2h26l1 6h4l1-6h4l1-6h10l1 2h22l1-2h84l1 2h6l1 2h3l1 2h3l1-6h32l1 2h19l1-2h47l1 2h2l1-2h79l1 6h10l1-6 1 2h13l1 2h2l1-2h1l1-10h5l1-2h67l1 2h27l1-2h235l1 2h104l1-2h273"/>
<path vector-effect="non-scaling-stroke" stroke="#FB6501" d="M0 17.23h2l1-2 1-18h2l1-14 1 2 1-2h1l1-10 1-2 1-10h1l1 2h2l1 2 1-2 1-2 1 2 1 2h3l1-6 1-2h3l1 6 1 6h2l1 2h2l1-2h8l1 2 1-2h2l1-6h2l1 2h10l1-2h3l1-2h6l1-14h10l1 2h1l1-2h71l1 2h4l1-2h74l1 6h17l1-2h4l1-6h15l1-6h83l1-2h58l1 2h20l1-2h162l1 2h10l1-2h582"/>
<path vector-effect="non-scaling-stroke" stroke="#6699CC" d="M0 7.81l1 2h2l1-2 1 10 1-10h1l1 2 1-2 1-6 1 6 1-6 1-6h1l1-2 1 2 1 2 1-6 1-6 1-10h2l1-2h4l1-6h1l1-6h26l1-14h13l1 2h5l1-2h34l1 6h1l1 2h11l1-2h2l1 2h4l1 2h6l1-2h1l1-2h24l1 2h13l1-2h2l1 2h2l1 2h6l1-2h2l1-2h4l1-2h5l1-2h9l1 2h10l1 6h7l1-2h11l1-2h4l1-2h13l1-2h20l1-2h6l1-2h8l1-6h21l1-2h65l1 2h5l1-2h161l1 2h7l1-2h127l1 2h6l1-2h147l1 2h58l1-2h288"/>
<path vector-effect="non-scaling-stroke" stroke="#6FB802" d="M0 -30.23l1-2 1 2h3l1-2h4l1 2 1-2 1 2h12l1-6h4l1 6h4l1-2h3l1 2h2l1 2h1l1-2 1-6h5l1 2h1l1-2h3l1 2 1-2h6l1-2h4l1-6h13l1 2h6l1-2h16l1-2h2l1 6h3l1 2h9l1-6h3l1-6h2l1-10h7l1-2h48l1 2h4l1-2h1l1 2h20l1-2h22l1 10h14l1-2h7l1-6 1-2h61l1 2h2l1-2h15l1 2h3l1-2h9l1 2h22l1-2h173l1 2h18l1-2h10l1 2 1-2h90l1 2h86l1-2h434"/>
<path vector-effect="non-scaling-stroke" stroke="#515151" d="M0 16.04h1l1-10 1-10 1 2h1l1 6 1-14h1l1 2h4l1-2 1-6 1-6h1l1 2h2l1 2 1-6h1l1-2h2l1-2 1 2h2l1 6 1 2 1-2h3l1-2h2l1 2h2l1-6h1l1-2 1-2h3l1-2 1-10h17l1 2h8l1-6h5l1 6h1l1 2h1l1-2 1-2h3l1 10h13l1 2 1-6 1-10h1l1-2 1-2h10l1-2h14l1 2h15l1-2h1l1-2h14l1-6h7l1-2h100l1 2h27l1-2h122l1 2h6l1-2h186l1 2h23l1-2h63l1 2h9l1-2h20l1 2h1l1-2h454"/>
<path vector-effect="non-scaling-stroke" stroke="#F14040" d="M0 35.16l1-6 1 2 1-14h1l1-14h1l1-14 1-14h1l1-2h2l1-6h4l1-10 1-2h2l1-2h3l1-14h1l1-2h22l1 2h7l1 6h3l1-6h17l1-2 1 2h3l1-2h17l1 2 1-2h10l1 2h9l1-2h4l1 2h57l1-2h9l1 2h1l1-2h154l1 2 1-2h6l1 2h7l1-2h118l1 2h15l1-2h2l1 2h5l1-2h61l1 2h6l1-2h105l1 2h47l1-2h102l1 2 1-2h357"/>
<path vector-effect="non-scaling-stroke" stroke="#1A6FDF" d="M0 11.40l1 2 1-22h1l1 6 1-2 1-2h1l1-10 1 2h6l1 6 1-6 1 2 1 6 1-2h1l1-2 1 10 1-14 1-2 1-14h1l1-2 1 6h5l1-6 1-6h2l1 2 1-2h1l1 2h1l1 2h6l1-2h1l1 6 1-2h1l1-2 1 2 1-2 1-6h1l1-2h1l1-2h5l1 2h1l1 2h1l1 2 1-10h13l1 2h6l1-2h1l1 6 1-2h4l1-2 1-6h1l1-2h1l1 2h4l1-2h1l1 2h4l1-2h14l1 2h2l1-2h2l1-6h72l1-2h4l1 6h18l1-6h38l1 2h14l1-2h29l1 2h7l1-2h110l1 2h13l1-2h31l1 2h5l1-2h135l1 2h9l1-2h561"/>
<path vector-effect="non-scaling-stroke" stroke="#37AD6B" d="M0 15.51l1-2 1 2 1-2 1-10 1-10 1-6 1-10h3l1 6 1-2 1 10 1-2h1l1-10h1l1 6h1l1-14 1 2 1-6h1l1 2h1l1-2 1-2 1-10h1l1-6h5l1 2 1-2h2l1 6 1-6h3l1-10h3l1-2h21l1 2h8l1-2h47l1 2h9l1-2h10l1 2h44l1-2 1 2h4l1-2h9l1 2h10l1-2h4l1 2h4l1-2h77l1 2h16l1-2h56l1 2h17l1-2h23l1 2h20l1-2h30l1 2h14l1-2h37l1 2 1-2h28l1 2h6l1-2h21l1 2h28l1-2h161l1 2h13l1-2h406"/>
</g></g>
<path d="M108.8 1038.65H649.9" stroke="#000" stroke-width="4" stroke-dasharray="11.6 16.35" stroke-linecap="round" fill="none"/>
<clipPath id="cp3"><rect x="102.1" y="1165" width="553.1" height="483.8"/></clipPath>
<g clip-path="url(#cp3)"><g transform="translate(104.9 1317.78) scale(0.27380 -2.54632)" fill="none" stroke-width="1.3" stroke-linejoin="round">
<path vector-effect="non-scaling-stroke" stroke="#515151" d="M0 15.59l1-2h2l1-10 1-2h1l1 6 1 2 1-2 1-6h2l1-14 1-10h1l1-6h3l1 2 1-2 1-6 1 2h1l1-2h1l1 2h1l1 2 1 6 1 2 1-2 1-2 1-6h3l1 6h1l1-2h1l1-10h2l1 2h1l1 2 1-6 1-10h1l1-2h5l1 2h1l1 6h1l1-2 1-2h1l1-2 1 2h5l1 6 1-2 1-2 1-2h5l1-6h2l1 6 1-18h3l1-14h1l1-2h3l1 6h3l1 6h2l1-2h2l1-14 1 6h14l1-6 1-2h6l1-10 1 6h11l1-6 1-6h10l1 2 1-6 1 2 1 2h4l1 10h17l1 2h5l1 2h2l1-6h5l1 6h5l1-2h5l1-2 1-2 1 2h6l1-2h7l1 2h1l1 2h4l1-2h8l1 2 1-2h16l1 2h10l1-14h8l1 2h6l1 2h4l1-2h3l1 2 1-2h3l1 2h7l1-2h2l1 10h5l1-10h19l1-6h8l1-2 1 2h7l1-2h16l1-6h19l1 2h2l1 2h6l1-2h87l1 2h11l1 2h6l1-6h62l1 6h1l1-6h16l1 6h13l1-2h11l1-2h2l1-2h24l1 2h8l1-2h435l1 2h14l1-2h113l1 6h4l1-6h778"/>
<path vector-effect="non-scaling-stroke" stroke="#F14040" d="M0 -1.89l1-6h1l1-2 1-10 1 6h2l1-2 1 2 1-2h1l1-14 1 6h1l1-6h2l1-2h1l1 2h1l1-10 1-10h4l1 6h1l1-6h4l1-14 1-6 1-18 1 2 1 2h8l1-10 1 6h2l1 2h1l1 2h2l1-6h5l1-2h1l1 2 1 6h2l1-2 1 6 1 10h3l1 2h2l1-14h3l1-6 1-10 1-2h1l1 6h15l1-6h15l1 10h20l1 2 1-14h7l1 2h9l1 6h7l1-2h6l1 2 1 2h1l1 2h25l1 2h2l1-2h1l1-2h1l1-2h1l1 2 1-10 1 2h5l1-2h10l1-2h18l1-10h7l1-2h13l1 2h1l1-2h7l1 2h25l1-2h20l1 2h50l1-2h1l1 2h19l1-2h15l1 2h16l1-2h32l1 2h6l1-2h1l1 2h3l1-2h1l1 2h7l1-2h23l1 2h2l1-2h8l1 2h25l1-2h14l1 2h4l1-2h40l1 2h2l1-2h16l1 2 1-2h83l1 2h2l1-2h40l1 2h27l1-2h4l1 2h7l1-2h26l1 2h3l1-2h16l1-2h1149"/>
<path vector-effect="non-scaling-stroke" stroke="#1A6FDF" d="M0 0.02l1-14 1-2 1-14 1-6h2l1 6h1l1 2 1-2h2l1-14 1-2h2l1-6 1 6 1 6h2l1-2 1-6h1l1-10h3l1 10h2l1 2h1l1-6h2l1 6h3l1 14 1-6h1l1 2 1-6h1l1 2h1l1-6h4l1-22h1l1 2h3l1 2h1l1-2 1 2 1 2 1 2h1l1-2h3l1-10h5l1-2h3l1 6h3l1-2 1-6h9l1 2h7l1-2h2l1 2h1l1 2h1l1-2 1-2h1l1-2h8l1-2h5l1 6h1l1 2 1 10 1-10h1l1-2 1 2h1l1-2 1-6 1 2 1-2h4l1 6 1-10h11l1 6h6l1-6 1-10h31l1 2h2l1 2h1l1-2h1l1-2h6l1 2h3l1 2 1 2h2l1-6h5l1-2h14l1-2h42l1 2 1-2 1 2h2l1 2h3l1-2h2l1-2h10l1 6h1l1-2h3l1 2h4l1-2h6l1 2h6l1 6h19l1-2h9l1 2h3l1-2h8l1 2h1l1-2h90l1-2h1l1 2h8l1 2h8l1-2h12l1-2h23l1-2h1l1-2h8l1-2h5l1 2h1l1-2h47l1 2h5l1-2h1l1 2h10l1-2h19l1-2h18l1-2h33l1-2h3l1-10h13l1-2h35l1 2h8l1-2h1l1 2h16l1-2h26l1 2h1l1-2h71l1 2h4l1-2h6l1 2h6l1-2h27l1 2h1l1-2h142l1 2h9l1-2h120l1 2h2l1-2h27l1-2h778"/>
<path vector-effect="non-scaling-stroke" stroke="#37AD6B" d="M0 29.28l1-22h1l1-14 1 2h1l1-2 1-10h1l1 14 1 2 1-2h1l1 2h2l1-18h1l1-18 1-2h5l1 2h1l1-2h1l1-18 1 6 1-6h2l1 6 1 10h1l1 2 1-30 1-18h6l1 10h16l1-6h1l1-6 1 2h3l1 2h1l1-6 1 2h1l1-10h22l1-6 1-2h30l1-6h3l1-2h4l1 2h1l1-2h3l1 2h4l1-2 1 2h5l1-2h23l1 2h1l1 2 1 2h4l1 2h1l1-2h13l1-6h12l1 2h3l1 2h9l1 6h1l1 2h6l1 2h14l1-6h2l1 2h6l1-2h27l1-10h63l1 6h26l1-6h41l1 2h10l1 2h3l1 2h8l1 2h8l1-2h2l1 2h54l1-2h16l1-2h10l1-2h1l1 2h2l1 6 1-6h3l1-2h79l1 2h69l1-2h4l1 2h7l1-2h13l1-2h48l1 2h11l1-2h440l1 2h1l1-2h763"/>
<path vector-effect="non-scaling-stroke" stroke="#B177DE" d="M0 23.62h1l1-6 1-2h2l1-6 1-10h2l1-6h5l1-14 1-2h1l1 2 1-2 1-10h1l1 2 1-2h1l1-22h1l1-6h2l1-6h1l1 10h2l1 2 1-2 1-26h3l1 2 1-2h1l1-2h7l1 2h2l1-2h1l1-6 1 2h5l1 2h6l1-2h4l1 2h4l1-2h9l1 6h1l1-2 1-2h4l1-2h6l1-2h9l1-6h19l1 10 1 2h2l1 2h10l1 2h13l1-6h2l1-2h2l1-14h3l1-2h8l1-10h11l1-2h37l1 2h8l1-2h16l1 2h5l1-2h19l1 10h34l1-2h1l1 2h5l1 6 1-14 1-2h49l1 2h6l1-2h24l1 2h20l1-2h10l1 2h2l1 2h1l1-6h64l1 6h21l1-6h209l1 2h11l1 2h6l1-2h39l1 2h24l1 2h3l1 2h12l1-2h63l1 2h83l1-2h23l1 2h8l1-2h6l1-6h258l1 2h19l1-2h684"/>
<path vector-effect="non-scaling-stroke" stroke="#CC9900" d="M0 14.77l1-6 1-14 1-10 1 2h1l1 2 1 2 1-22 1 10 1-6h2l1 2 1-10 1-6 1 6 1-6 1-10 1-2h1l1 6h3l1 6h1l1-6 1 10 1-6h5l1 6h1l1-2h1l1 2 1-10 1-10 1-2 1 2h2l1 2h3l1 6h2l1-10h6l1 22 1-2 1 2 1-6h3l1-10h2l1-2 1 6h2l1 2 1-10 1 6h3l1 2h4l1 2 1 2h2l1-6h4l1 6h1l1 2 1-10h6l1 2 1-6 1-2 1 2h7l1 6h3l1 2h3l1 6 1-10 1-2 1 2h3l1-2h1l1 2 1-2 1 2h6l1-2h5l1-10h5l1-2h10l1 2h2l1-2h8l1-2 1-2h7l1 6 1-18h13l1 2h4l1 6h9l1-6 1-2 1-6h1l1-2 1 2h2l1 6h3l1-6h3l1-2h5l1-10h6l1-2h3l1 2h4l1-6h11l1 2h3l1-10 1 2h3l1-2h7l1 2h25l1-2h10l1 2h7l1-2h4l1 2h3l1-2h1l1 2h5l1-2h19l1-2h4l1 2h11l1-2h5l1 2h14l1-2h148l1 2h9l1-2h295l1 2h4l1 2h13l1-2h21l1-2h1102"/>
<path vector-effect="non-scaling-stroke" stroke="#00CBCC" d="M0 -27.07h1l1-2h3l1-2h1l1-14h1l1 2h4l1-2 1 2 1 2 1-2h2l1-2 1-2 1 2h3l1 6h1l1 2 1-2h1l1 2 1 6h1l1 2 1-6 1 2h2l1-2 1-2h5l1-10 1 10h1l1-18 1-2h1l1 6 1 2 1-2h7l1-2h8l1-6h4l1-6h5l1-10h3l1-6 1 2h1l1-6h14l1 2h10l1 10 1-2h6l1-6h6l1-2h5l1 6h1l1-2h3l1-2h2l1 2h4l1 2h11l1-2 1-6h30l1 2h1l1-2h1l1-2h20l1 2h4l1-6h4l1-2h12l1 2h6l1-10h8l1-2h9l1-2h4l1-2h18l1-2h17l1 6 1 2h14l1-2 1-6h73l1 2h14l1-2h63l1 6h9l1 2 1 6 1 2h12l1-2h1l1-6h3l1-2h14l1-2h3l1-2h1l1-2h21l1 2h13l1-2h9l1 2h5l1-2h24l1 6h3l1-6h34l1 2h3l1 2h5l1 2h2l1 2 1 2 1-2 1 2 1 2h4l1-2h4l1 2h3l1-2h15l1-2h15l1-6h5l1-2h33l1 2h17l1 2h16l1 2h11l1-2h16l1 2h2l1-2h2l1-2h26l1 2h7l1-2h18l1 2h5l1 2h3l1-6h34l1-2h56l1 2h12l1-2h13l1-2h20l1-2h27l1-2h8l1 2h86l1-2h68l1 2h11l1-2h34l1 2h76l1-2h657"/>
<path vector-effect="non-scaling-stroke" stroke="#000000" d="M0 -8.16h2l1 2h2l1-18h1l1-2 1 2h1l1-6 1-10h1l1 2h2l1 2h1l1-6 1-2h1l1-18 1 6h3l1-2h1l1-2h1l1-14h6l1 10 1 2h1l1-2 1 10h2l1-10 1-2 1-6h1l1 2h2l1-6h1l1 2h4l1-2h2l1 6h7l1 14 1-14 1-6h2l1-2 1-2h1l1 2h1l1 6h1l1 2 1 2h1l1-2 1 6h4l1-2h4l1-2h1l1-2h3l1-6h3l1 2h4l1 2h9l1-14 1-6h10l1 2h10l1-10h26l1 2h1l1 6h4l1-6h2l1-18h22l1 2h25l1-2 1 6h26l1 6 1-6h1l1-2h4l1 2h39l1-2h16l1-6h134l1 2h10l1-2h399l1 2h33l1-2h150l1 2h28l1-2h3l1 2h10l1-2h42l1 2h40l1 2h8l1-2h32l1 2h7l1-2h12l1-2h429l1 2 1-2h324"/>
<path vector-effect="non-scaling-stroke" stroke="#8E8E00" d="M0 -2.20l1-6h1l1 2 1-2 1-10 1 2 1 10h1l1-2h1l1-6 1-6 1 2h1l1-6 1-14 1 26h2l1-10 1-22h1l1-2 1-2h1l1-2h4l1-2h2l1 2h2l1 2h1l1-2h1l1 2h1l1-2 1-6h3l1-10 1 2h3l1-2h1l1 2h12l1-6h6l1-6h1l1-6 1-6h9l1-6h11l1-6h1l1 6h7l1 2h7l1-2h4l1 14 1-2 1 6h4l1-6 1-6 1-2h2l1 18h2l1-2h1l1 2h2l1-2h10l1-2h1l1-10h5l1-2h4l1-2 1 2 1-2h11l1 2h1l1-2h5l1-2h8l1-14 1-6h9l1 18h1l1 2h5l1-14h11l1 6h2l1-2h3l1-6h20l1 6h9l1 2 1-2h9l1 10h5l1-10 1-6h33l1-6h2l1 2h3l1-2h1l1 2h14l1-2h3l1 2 1-2h45l1 2h39l1-2h1l1 2 1-2 1-2h685l1 2h28l1-2h175l1 2h15l1-2h244l1 2h92l1-2h317"/>
<path vector-effect="non-scaling-stroke" stroke="#FB6501" d="M0 31.69h2l1-6 1-2 1-10h1l1-18 1-6h2l1-2 1 10h1l1 2 1-6 1 2 1-2h1l1 6h2l1-2 1-2h1l1-22h1l1 2 1-6 1-10 1-2 1-10h3l1 2h1l1 2h3l1 2h1l1 2h1l1-2h6l1-10h1l1 2h6l1-30 1-10 1-10h8l1 10h6l1-10h4l1 2h2l1-10h23l1-6h16l1 6h3l1 6 1-2h4l1 2h4l1 2h2l1 2h10l1-2h5l1-10 1-2h2l1 2h1l1 2h12l1 2h1l1-6h16l1 2 1-2h6l1 2 1-2 1 2h22l1-2h2l1 10h15l1 6h8l1-6h2l1-2h22l1 2h16l1-2h10l1 2h9l1-10h5l1 2h3l1-2h61l1 2 1 2h51l1 2h3l1-2h7l1-2h21l1-2h8l1 2h8l1-2h7l1 2h2l1-2h16l1 2h59l1-2h31l1 2h8l1-2h99l1 2h4l1-2h94l1 2h1l1-2h49l1 2h8l1-2h27l1 2h4l1-2h25l1 2h24l1-2 1 2h3l1-2h9l1 2h4l1-2h8l1 2h10l1-2h30l1 2 1-2h440l1 2h8l1-2h28l1-2h472"/>
<path vector-effect="non-scaling-stroke" stroke="#6699CC" d="M0 36.63l1-6 1 2h1l1 2 1-2h1l1 2h1l1-10 1-6 1-10 1-10h1l1 2 1-18 1 2 1-2h1l1-2h2l1 6h2l1-22h13l1-14h9l1-2 1 6 1 6h1l1 2 1-2h1l1 2h4l1-6h4l1-6 1-6h24l1 6h2l1 2 1-6h1l1-2h1l1 2h1l1 2h4l1 2h7l1-10 1 2h1l1-2h1l1-26h25l1-6h2l1-6h22l1-2h12l1 6h14l1-2h5l1 6h5l1-2h3l1 2h5l1-2h1l1-2h3l1-6h4l1 2h7l1 6h8l1 10h4l1-10h8l1-2 1 2 1-2h20l1-2 1 2h10l1-2h4l1-2h7l1 10h1l1-10h4l1-2h14l1 2h1l1 2h6l1 2h6l1-2h9l1-2h11l1-2h22l1 2h2l1 6h2l1-2h27l1-2h7l1-2h1l1 2h1l1-2 1-2h32l1 2h21l1 2h22l1-2h31l1-2h4l1 6h1l1-6h14l1 2h1l1-2h41l1 2h55l1 2h2l1-2h7l1-2h18l1 2h14l1-2h18l1 2h9l1 2h9l1-2h16l1-2 1-6h54l1-10h45l1 2 1-2h154l1 2h12l1-2h28l1 2h8l1 2h5l1-6h111l1 2h12l1 2h9l1-2h46l1 2h4l1-2h58l1 2h14l1-2h21l1-2h627"/>
<path vector-effect="non-scaling-stroke" stroke="#6FB802" d="M0 -46.94l1 2h1l1-6 1 2 1-10 1-6h1l1 6 1 6h2l1-18h1l1 2h4l1-10h3l1 2 1 2 1 2 1-10h2l1 6h1l1 6h3l1-14h2l1-2 1-2h3l1 2h3l1 6h1l1-6h2l1-10h4l1-2h13l1-2 1 2 1-6 1-6h19l1-6h3l1 2 1 2h1l1 2h3l1-6h4l1 10h5l1 2 1 2h15l1-2h12l1 6h1l1-6h12l1-6h2l1-6h26l1 2h5l1 2h2l1-2 1 2h4l1 2h1l1-2h1l1-2h50l1 2h40l1-2h20l1 2h5l1-2h1l1 2h9l1-2h14l1 2h9l1-2h10l1 2h3l1-2h26l1 2h24l1-2h39l1 2h11l1-2h1l1 2h13l1-2h25l1 2h16l1-2h35l1 2h11l1-2h9l1-2h53l1 6h2l1-2h5l1-2h23l1 2h19l1-2h24l1 2h9l1-2h14l1-2h22l1 2h22l1-2h38l1 6h17l1 2h3l1-2h14l1-6h1119"/>
<path vector-effect="non-scaling-stroke" stroke="#515151" d="M0 4.76l1-10h5l1 6h2l1 10h1l1-10 1-2 1-2 1-6h1l1-2 1-2h4l1 2h1l1-14h4l1 6h1l1-10h1l1-2 1-6 1-10h2l1-10h3l1-2 1 10h2l1-2h1l1 6h3l1-18 1-10h2l1-6 1-2 1 6 1 2h2l1-2 1 2 1-2h1l1 2h1l1-14h12l1-6h5l1-2h10l1-6h5l1 6h3l1-6h3l1-2h9l1-2h2l1-2 1 2h2l1-10h12l1 2h5l1 6h18l1 6h2l1-6h2l1-6 1-2h4l1 2h2l1 2h10l1-6h3l1 6h11l1-6h3l1 6 1 2h1l1-2h14l1-6h86l1 6h1l1-2h11l1-2h2l1-2h22l1 2h11l1-2h48l1 2h1l1 2h10l1-2h26l1-2h71l1 2h4l1 2h20l1-2h3l1 2h24l1-2h29l1 2 1-2h13l1 2h29l1-2h7l1-2h82l1 2h6l1 2 1-2h24l1 2h14l1-2h82l1 2h2l1-2h34l1 2h4l1-2h30l1 2h2l1-2h15l1-2h12l1 2h18l1-2h241l1 2h12l1 2h7l1-2h41l1 2h38l1-2h339l1 2h2l1-2h16l1-2h287"/>
<path vector-effect="non-scaling-stroke" stroke="#F14040" d="M0 23.30l1 2h1l1-2 1-10 1 18 1-2 1-14 1 2 1-6h1l1-2 1 10 1-2h1l1-22 1-34 1-2h1l1 2h1l1-2h1l1-18 1-6 1-2h6l1 2 1 14 1-6h2l1-6h5l1-10h2l1-2h2l1 2 1-2h1l1 2h2l1-10 1 2h1l1-2h1l1 2h1l1-10h3l1-6h19l1 6 1-6 1-2h4l1-6 1-10h2l1 2h13l1-2h4l1 2 1 6h4l1-6h2l1 6h16l1 2h7l1 6h1l1-6h3l1-2h23l1 18h8l1-10h11l1-14 1-2h7l1 2h27l1 6 1 2h1l1-10h10l1 2h4l1-2h13l1 2h13l1-2h16l1 6h17l1-6h1l1 2h7l1-2 1 2h6l1-2h97l1 2h1l1-2h35l1 2h40l1-2 1 2h3l1-2h2l1 2h10l1-2h37l1 2h6l1-2h92l1 2h6l1-2h24l1 2h2l1-2h76l1 2h10l1-2h33l1 2h12l1-2h12l1 2h4l1-2h23l1 2h18l1-2h2l1 2h46l1-2h35l1 2h10l1-2h38l1 2h13l1-2h49l1 2h21l1-2h13l1 2h5l1-2h229l1 2h3l1-2h11l1-2h388l1 2h63l1-2h156"/>
<path vector-effect="non-scaling-stroke" stroke="#1A6FDF" d="M0 -42.19l1 2 1 2 1 6 1 2 1-2 1-2 1-2 1-2 1 6 1-2h1l1 26h3l1-26 1 2h3l1-2 1 6h1l1-18h1l1 10 1-18h2l1 10 1-10h4l1 2h1l1 2h4l1 2h1l1 2h2l1-2h1l1-6h1l1-18h3l1 2h1l1-2 1-2h12l1 2h5l1-2h10l1 2h6l1 2h5l1 2 1-2 1-2h2l1 6 1-14h3l1-2h3l1 2h2l1 6 1-6h4l1-14h14l1-10h2l1-2h9l1 2h5l1 10h5l1 2h6l1-2h3l1-10h11l1-10h16l1 2h2l1-2h40l1 2h3l1-2h28l1 2h5l1-2h27l1 10h16l1-2 1 2h1l1-2h29l1-2h22l1 2h7l1 6h1l1-2h1l1-2h3l1 2h3l1-10h9l1-2h1l1-2h58l1 2h11l1-2h79l1 2h21l1 2h19l1-2h4l1-2h551l1 2h21l1 2h8l1-2h4l1-2h191l1 2h63l1-2h537"/>
<path vector-effect="non-scaling-stroke" stroke="#37AD6B" d="M0 2.55h2l1 10 1-30h1l1-10 1-6h1l1-10 1-2 1 10 1 2h2l1-2 1-2h1l1 10 1-2 1-6h2l1-10 1-14 1-2h2l1-2h1l1-2h5l1-14h1l1 2 1 2h6l1 6h12l1 2h2l1 2 1 10 1 2h7l1-22h4l1-10h8l1-10h1l1-2h6l1 6h1l1-6h4l1 2h4l1-2h2l1 2 1-6h12l1 10h8l1-2h2l1-6h4l1-2h18l1 2 1-6h15l1-2h21l1 2h10l1-2h5l1 2h9l1 2h5l1-2h40l1 2h11l1-2h49l1-2h68l1 2h1l1 2h19l1 2h2l1 2h6l1-2h3l1-6h15l1-6h35l1 2h3l1-2h11l1 2h1l1-2h14l1 2h40l1-2h69l1 2h17l1-2h84l1 2h18l1-2h35l1 2h14l1-2h36l1 2h2l1-2h4l1 2h10l1-2h6l1-2h23l1 2h22l1-2h1081"/>
<path vector-effect="non-scaling-stroke" stroke="#B177DE" d="M0 20.27h3l1-22 1-18h1l1-2h3l1-10 1-6h1l1-18 1 10 1-2h4l1-18 1-2h1l1-2h1l1-14h2l1-14h2l1-2 1 2h1l1-2h3l1-6 1-10h1l1 2h1l1 6h2l1 10h1l1-2h2l1 2h7l1-10h3l1 6h4l1-2h7l1 18 1 14h2l1-6 1 2h5l1-2h7l1-6h8l1-2h9l1-10h3l1-2h12l1 2h6l1 2h2l1 2 1 2 1 2h25l1 2h8l1-2h4l1-6h2l1 2h8l1-2h10l1 6 1 6h3l1-2 1-2h1l1-2h3l1 2h8l1-2h4l1-2h7l1-6h9l1-6h2l1 2h32l1-2h7l1-2 1-2h19l1-6h18l1 2h32l1-6h214l1 2h8l1-2h22l1 2h11l1-2h23l1 2h7l1-2h16l1 2h10l1-2h275l1 2h29l1-2h385l1 2h15l1-2h84l1 2h2l1-2h118l1 2h4l1-2h40l1-2h352"/>
<path vector-effect="non-scaling-stroke" stroke="#CC9900" d="M0 -6.49h1l1-2 1-10h1l1-14h1l1 6 1 6h1l1-2 1 2h2l1 2h1l1-2h1l1-10 1 6h4l1-14h1l1 2 1-2 1-6 1-2h1l1 6 1-2h1l1-6 1-14h1l1-6h3l1 2h7l1 2 1-2 1-10h3l1 2h5l1-10 1-2h4l1 6h6l1 14 1-2h1l1-2h1l1-6h9l1-10h3l1 2h5l1-2h10l1-6h20l1 2h4l1 2h11l1-6h2l1 2h9l1 6h5l1-6h3l1-2h6l1-10h5l1 10 1 2 1-2h2l1-2h1l1 10h4l1 2h6l1 2h2l1 2h1l1-2h4l1-10h5l1-2 1 2 1-2h23l1-6h1l1-10h1l1-6h49l1 2h2l1 2h1l1 2h15l1-6h95l1 2h3l1 2h15l1 2h14l1-6h57l1 6h15l1 6h14l1-2h9l1 2 1-6h12l1-6h285l1 2h13l1-2h1136"/>
<path vector-effect="non-scaling-stroke" stroke="#FB6501" d="M0 -20.33l1-18 1-6 1-10 1-14 1-6h1l1 2h1l1 2 1-2 1-2h6l1 2 1-2 1 2 1 10h2l1-2h3l1-2 1-6h5l1-2h8l1 2h2l1 2h3l1 2 1-10h1l1 2h5l1-2h1l1 2 1-2h1l1 6 1 6 1 2h1l1-2h2l1-2 1 2h1l1 2h4l1 6 1-10h13l1-6h2l1 2h8l1 2h5l1-6h1l1-2h1l1 2h2l1-10h5l1 2h4l1 2h7l1-2 1-6h3l1-6 1 2h4l1 2h1l1 6h2l1 2h4l1-10 1-2h10l1-2h7l1 2h18l1-2h30l1 2h3l1 2h2l1-2h1l1-2h15l1-2h10l1-2h2l1 2h18l1 6h2l1-6h12l1-2h4l1 6h17l1 2h17l1-2h4l1-6h2l1 10h15l1 6h8l1-6h14l1 2h6l1-6 1-6h21l1-2h50l1 2h5l1 2h4l1 2h9l1 2h10l1-2h56l1 2h12l1 2h2l1-2h20l1-2h20l1 2h9l1-2h13l1-2h36l1-2h21l1-2h21l1 2h20l1 2h101l1-2h12l1-2h221l1 2h88l1-2h746l1 2h20l1-2h59"/>
<path vector-effect="non-scaling-stroke" stroke="#7D4E4E" d="M0 -17.70l1-18 1 2h6l1 2 1 2 1 2 1-14 1-2 1 2 1-10h4l1-6 1-10 1-10h1l1 18 1 10h5l1 6 1-6 1 6h4l1-2h1l1 2h1l1-6 1-6h1l1 2h3l1 2h4l1-2h1l1 6h7l1 10h1l1-10h1l1 2h3l1 2h2l1 2h1l1 2 1-6 1-6h2l1-2 1-2h2l1 2 1 2h3l1-6 1-10 1-10h4l1 6h2l1 2h7l1 10 1 6 1-6h1l1-2h2l1 10h1l1-14 1-10h2l1 2 1-14 1-2h1l1-2 1 2 1-2h8l1 14h6l1-14h5l1-6h3l1-6h6l1-6h13l1 6 1 2h5l1-2h12l1 2 1-2h3l1 2h3l1-2h4l1-6h14l1-6h5l1 2h5l1 6h2l1 6h6l1-2h24l1-6h4l1-2 1 2h8l1-2h3l1-2h1l1-2h6l1 2h1l1-2h2l1 2 1-2h21l1 2h33l1-2h5l1 6h12l1-2h3l1-2h9l1 2h14l1-2h35l1-2h54l1 2h16l1-2h2l1-2h341l1 2h33l1 2h1l1-2h26l1 2h29l1-2h156l1 2h17l1-2h60l1 2h15l1-2h41l1 2 1-2h2l1 2h4l1-2h6l1 2h23l1 2h8l1-6h702"/>
<path vector-effect="non-scaling-stroke" stroke="#CC9900" d="M0 -22.69l1-10 1-10 1 2 1 2 1 6 1 2 1-10h3l1-10 1 2h1l1-14h2l1 2h2l1 2 1 6h1l1 2h1l1-18 1-2h1l1-2h5l1-18h2l1 10h12l1 2 1-2h5l1-2h2l1-6h3l1 2h3l1-6h1l1 2h7l1-10h1l1 2 1-2h1l1 2h1l1 6h1l1-6h9l1-2h10l1 2h2l1 6h7l1 2h6l1-2h3l1 2h3l1-10h2l1 6 1-6h17l1 2 1-2h1l1 2h11l1-2h4l1 10h2l1-2h8l1 6 1-2h9l1 2 1 6h1l1-2h29l1-10h10l1-2h4l1 2h2l1-2h1l1 2h7l1 2h1l1-2h3l1-2h4l1-2h13l1 2h9l1-2h3l1 6h4l1-6h2l1 2h6l1-6h18l1 2h5l1-2h3l1 2h2l1 2h45l1-2h10l1-2h73l1 6h3l1-2h23l1 6h24l1-2h2l1-2h7l1-2h37l1 2h7l1 2h10l1-2h1l1-10h12l1-2h112l1 2 1-2h11l1 2h2l1-2h7l1 2h16l1-2h95l1 2h9l1 2h12l1-2h38l1-2h68l1 2 1-2h124l1 2h5l1-2h207l1 2h41l1-2h623"/>
<path vector-effect="non-scaling-stroke" stroke="#FB6501" d="M0 6.61l1 2 1-6 1-2 1-6 1 2h2l1 2 1-6 1-18h2l1 10h3l1-2h1l1-2h4l1-14h1l1 2h2l1-2h1l1-10h1l1-14h3l1 10 1 10h3l1-10 1-2h5l1 2h3l1-6h3l1-6 1-2 1-18h9l1 6h7l1 2h3l1-10h3l1-2h5l1-2h5l1 2 1 2 1 18h4l1-6 1 2h1l1 2 1 2 1-2 1 2h2l1 10h2l1 10h8l1-6h2l1-6 1 2h1l1-2h8l1 2 1-14h1l1-6h1l1-6h2l1 6 1-10h4l1-2h2l1 6h16l1-6h1l1-18h7l1 10h5l1 2h3l1-2h1l1-10h1l1-2h11l1 2h1l1-2h25l1-6h2l1 6h2l1-6h9l1-2h23l1 2h6l1-2h17l1 2h5l1-2h25l1 2h2l1-2 1-2h37l1 6h9l1 2h28l1-2h11l1 2h12l1-6h31l1 2h21l1-2h235l1 2h9l1-2h4l1 2h12l1-2h77l1 2h3l1-2h6l1 2h28l1-2h15l1 2h1l1-2h105l1 2h3l1-2h4l1-2h990"/>
<path vector-effect="non-scaling-stroke" stroke="#6699CC" d="M0 10.31l1-6h2l1 6 1-2h2l1 6 1-18h1l1 2 1-18 1-6 1 2h1l1-10 1-6 1-2h1l1 2h1l1-6h1l1 6h1l1-6 1 6 1 6 1 2h2l1-22 1-6 1 2h5l1-6h6l1-2h2l1 2h2l1-6 1-14h2l1-6h10l1 6 1 6h2l1-2h9l1-6h23l1-6h6l1-6h1l1 2 1 10h1l1-2h12l1 2h2l1-2h2l1-10h17l1-2h12l1-2h15l1-10h11l1-2h4l1-2h11l1 2 1 2h9l1 2h3l1-6h4l1 2h8l1-2h29l1 2h7l1-2h10l1 2h2l1 6h5l1-6h11l1-2h133l1 2h20l1-2h6l1 2h5l1-2h43l1 2h5l1-2h3l1-2h327l1 2h13l1 2h2l1-2h45l1-2h26l1 2h1l1-2h29l1 2h25l1 2 1-2h42l1-2h23l1 2h64l1-2h857"/>
<path vector-effect="non-scaling-stroke" stroke="#6FB802" d="M0 0.37l1 2 1-10h2l1 2h1l1-2h2l1-2 1 6 1-2h1l1 14h1l1-2 1 2 1-6h1l1 6h2l1 10 1 2 1-22h1l1 2 1 2 1 2 1-18 1-6 1-6h2l1-10h3l1 14 1-2 1-10h2l1-2h2l1 2 1-2h4l1-2 1-2 1 14h3l1-2h3l1 6 1-2h1l1 2 1-10h3l1-2h3l1 2h4l1-2h1l1-6h3l1 6h3l1-10 1-2h1l1 10 1-22h1l1-2h8l1-2h4l1 2h3l1 2h1l1-6h3l1-10h16l1-2h4l1-10 1 2h1l1 6h16l1-10h16l1 6h2l1-6h1l1 2h6l1-2h6l1-2h7l1-2h7l1-2h6l1-2h5l1-2h1l1-2h3l1-6h2l1 6h7l1-6h7l1 6h18l1-14h3l1-2h11l1 6h11l1-2h15l1-2 1-2h4l1 2h3l1 6h22l1 2h3l1-2h16l1 2h45l1-2h4l1 2h1l1-2h14l1 2h5l1-2h5l1 2h1l1-6h5l1-6h89l1 2h19l1-2h469l1 6h20l1-2h6l1-2h9l1-2h518l1 2h79l1-2h14l1 2h14l1 2h25l1-2h1l1-2h268"/>
<path vector-effect="non-scaling-stroke" stroke="#515151" d="M0 12.33h1l1-2 1-14 1-10h1l1 2h1l1-2 1-14h1l1-14h2l1 2h1l1-10 1-14h3l1 10h4l1 10 1 2h4l1-2h1l1-6 1-14 1-14h4l1-10h16l1-14h4l1 2h4l1-10h13l1 2h19l1 6h2l1-10h2l1-2h18l1 2h7l1-2h6l1 10 1 6h4l1-6 1 10h2l1-10h3l1 6h9l1-6h14l1-2h9l1-6 1-2h37l1 2h17l1-2h24l1 2h1l1 2h18l1-2 1-2h4l1 2h6l1-2h15l1 2h8l1-2h2l1-2h31l1 2h22l1-2h163l1 6h4l1-2h16l1-2h6l1 2h3l1 6h39l1-6h4l1-2h37l1 2h31l1-2h62l1 2h3l1-2h13l1 2 1-2h2l1 2h5l1-2h16l1 2h14l1-2h16l1 2h1l1-2h53l1 2h17l1-2h12l1-2h155l1 2h9l1-2h905"/>
<path vector-effect="non-scaling-stroke" stroke="#F14040" d="M0 1.29h2l1 2 1 2 1-2 1-10 1-6 1-2 1 10 1-2h1l1-6h2l1 6 1 2 1-2 1-2 1-2 1 2 1 6h2l1-2 1 2 1-6h3l1-6 1 2h1l1-18h1l1-2h1l1 6h3l1 2h2l1-2 1-10h1l1-2 1-10 1-2 1-6h2l1-2 1 6h5l1-6h1l1 6h5l1 6h5l1 2 1-2 1-2 1-10 1-14h1l1-2h4l1-6h1l1 10 1-10h12l1-6h12l1 2h2l1-2h8l1-6h3l1-2h3l1-6h4l1-2 1 2 1-2h1l1-2h23l1-2h1l1-2 1 6h6l1 10h21l1-2h12l1-14h12l1 2h11l1 2h1l1 2h5l1 2h7l1 2h3l1 10h8l1-2h4l1-2h2l1-6 1-14h2l1 6h2l1-6h13l1-2h4l1 2 1-2h7l1 2h21l1-2h2l1 2 1-2h39l1-2h52l1 6h8l1 2h20l1-2h3l1-6h25l1 2h19l1 2h2l1-2h30l1 2h4l1-2h62l1 2h4l1 2h13l1-6h197l1 2h25l1-2h6l1 2h16l1-2h5l1 2h10l1-2h226l1 2h58l1 2h3l1-2h9l1-2h806"/>
<path vector-effect="non-scaling-stroke" stroke="#1A6FDF" d="M0 2.90l1 2 1-6 1 6 1-6h1l1-10 1 6h1l1-2 1 2 1-2 1 10 1-6 1-10 1 2 1-14 1-6 1-6 1-10h1l1 2 1-10h3l1-22h11l1-2h6l1-10h19l1-2h9l1-6 1 2h7l1 2 1 6h1l1-6 1-2 1 18 1 6h2l1-2 1-2h5l1-6 1-14 1 2h6l1 2h20l1 2 1-2h5l1 2h8l1 6h3l1 2h1l1 2h4l1-2h4l1-2h9l1-6h2l1-2h13l1-2h2l1 10h5l1-2 1-2h4l1-2h12l1 2h7l1-6h11l1 2 1-2h1l1 2 1 6h1l1-6h5l1-6h44l1 2h3l1-2h2l1-2 1-2h6l1 2h12l1 2 1-2h11l1-10h17l1-2h10l1 2h49l1-2h47l1-6h45l1 2h2l1 2h4l1-2h7l1 2h37l1 2h23l1-6h16l1 2h18l1 2h2l1-2h19l1-2h288l1 2h14l1-2h29l1 2h27l1-2h763l1 2h15l1-2h213"/>
<path vector-effect="non-scaling-stroke" stroke="#37AD6B" d="M0 -8.07l1-18 1 10 1 2 1 10h1l1 2 1-10h1l1-10h1l1-14h1l1-2 1 2 1-10h1l1-10 1 6h1l1-2h5l1 2h1l1-10h2l1 6h3l1 10 1-2 1 2 1-6 1-6h1l1 6 1-2h2l1-2h1l1 6h2l1 2 1-10h9l1-2h2l1-2h7l1-2h5l1-2h2l1-2h4l1-6 1-10h3l1-6 1 6h3l1 2h3l1-2h3l1-6h5l1-10h6l1 2h6l1-2h1l1 10h1l1-10h2l1-6h6l1 6 1-6h65l1 2h19l1 6h5l1-6h44l1-2h30l1 2h9l1 6h11l1 6h4l1-2h41l1 2h3l1-2h8l1 2h2l1-2h9l1-6h8l1 2h2l1 2h4l1-2h29l1 2h29l1-2h10l1-2h16l1 2h1l1-2h10l1 6h10l1-6h16l1 2h2l1 2h14l1-2h15l1-2h7l1 2h1l1 2h22l1-2h15l1 2h17l1-2h3l1-2h3l1 2h2l1-2h27l1 2h3l1-2h33l1-2h10l1 2h7l1-2h54l1-2 1-2h7l1 2h6l1-2h15l1-2h5l1-2h84l1 2h77l1 2h4l1-2h6l1 2h6l1-2h67l1-2h2l1-2h39l1-6h869"/>
<path vector-effect="non-scaling-stroke" stroke="#B177DE" d="M0 11.40l1 6h2l1 2h2l1-22h2l1-2h2l1-10 1-6h1l1-2h2l1-2 1-14 1 6 1-2h1l1-10 1-14 1-10h2l1 2 1-2h2l1 2h3l1 6 1-6 1 6h2l1-6 1 6h1l1 2h3l1-2 1 2 1 14 1-2 1-2 1-2 1-22 1-6 1-2h1l1 18h5l1-6h4l1 2h1l1-2 1-6h4l1-2h2l1-6h6l1 10h2l1-6h1l1 2h1l1 2h2l1-22 1 2h7l1 14 1-18h9l1 6h2l1 6h3l1-2h9l1 2h5l1-2 1-6h6l1-2h6l1-6h3l1 6h2l1 6h3l1-6h12l1 2h7l1-2h9l1 2h5l1-2h16l1-6h1l1-2h1l1-14h4l1 6 1 2h4l1-2 1-2h9l1-2 1-2h22l1 6h27l1-6h15l1 2h9l1 2h10l1 2h16l1-6h218l1 2h12l1 2h4l1-2h26l1 2h8l1-2h23l1-2h279l1 2h3l1 2h22l1-2h76l1 2h3l1-2h61l1 2h18l1 2 1-2h12l1-2h45l1-2h283l1 2h1l1-2h22l1 2h51l1-2h460"/>
<path vector-effect="non-scaling-stroke" stroke="#CC9900" d="M0 1.70l1-26 1-10 1 18h4l1-2 1-6h1l1-2h2l1 6h3l1-2h1l1-2h1l1 2h1l1-2 1-2h2l1 10 1 2h2l1-6 1 14h1l1 2h1l1-2 1-2 1-10 1-6 1 6 1-14h2l1 2 1 2 1 2 1 2 1-2 1 6 1-2 1 2h5l1-6 1 2h1l1-2 1-6 1 2h2l1 2h1l1 2h2l1-6 1 6 1-2h1l1-6 1-14h7l1-2h1l1-6h1l1 2h3l1 2 1 2h4l1 2 1-2h10l1 2h1l1-2 1-6h2l1-2 1-6h17l1-2h14l1-2h1l1-10h1l1-2h9l1-6h6l1 6h4l1 6 1 2h1l1 2h1l1-2 1 6h5l1-14h1l1-2h7l1 2h1l1-2h3l1-2h5l1-2h6l1-2h14l1 6h1l1 2h6l1-2h2l1-6h3l1 2h3l1-6h19l1 2 1 6h3l1-10 1-2h2l1-6h1l1 2h19l1-2h146l1 2h3l1-2h41l1 2h2l1-2h46l1 2h23l1-2h105l1 2h48l1-2h35l1 2 1-2h33l1 2h16l1-2h104l1 2h21l1-2h17l1 2h4l1-2h5l1 2h10l1-2h111l1 2h123l1-2h784"/>
<path vector-effect="non-scaling-stroke" stroke="#00CBCC" d="M0 40.57l1-22h1l1-18 1-14 1-10 1 2h2l1-6 1 10h1l1 2h1l1-18 1-2h3l1-6h1l1 6h6l1-2 1-6h2l1 2 1-2h1l1 22 1 6 1-2h1l1-6h5l1 10h1l1-26h1l1 2 1-10h1l1-10h1l1 10h3l1-2h1l1 2h4l1 2h1l1 2 1-6h1l1 2 1-2h1l1-2 1-18 1 14h1l1-2 1-10 1-2 1 6 1-2h6l1-2h4l1-2h1l1-2h1l1-6 1-6 1-2 1 2h3l1 6 1 14h3l1-10h1l1 2h4l1 6h3l1-2 1-14 1 2h2l1-6h3l1 2 1 2h4l1 2 1-6h3l1 6h2l1-10h11l1 2h1l1-2 1 2h2l1 2 1 6 1-2h2l1 2h2l1 6h2l1-2h3l1 2 1 2h1l1-10 1 2h8l1 2 1-10h5l1 2h4l1-2h9l1-6h26l1-6h33l1 2h3l1-2h1l1 6h5l1-6h2l1 2h7l1 6h1l1-2h9l1-2h4l1 2h4l1-6h3l1 2h3l1-2h15l1 2h3l1-2h10l1-2h18l1-2h1l1 2h2l1-2h3l1 2h4l1 6h4l1-6h12l1-2h1l1-6h20l1-6h5l1 2h17l1-2h15l1 2h14l1-2h2l1 2h4l1-2h31l1 2h30l1 6h22l1-6h22l1-2h5l1 2h30l1-2h86l1 2h2l1-2h70l1 2h22l1-2h4l1-2h1172"/>
<path vector-effect="non-scaling-stroke" stroke="#7D4E4E" d="M0 7.61l1-10h2l1 6 1-10 1-2 1-14 1-6h1l1-6h1l1 10 1-10h3l1 6h2l1 2 1 2 1-2h8l1-14h4l1-6h2l1-2h7l1-10h5l1-2 1-22h3l1-2h1l1 2h1l1 2h4l1-2h3l1 2h1l1-2 1 2h4l1 2h4l1-2 1-2h3l1 6h2l1 6h1l1 2h2l1-2h6l1-2h2l1-2h1l1-2h1l1-6h2l1 6h5l1 2 1 2 1-6h2l1-2 1-2 1-2h1l1-2h18l1 2h1l1 2h5l1-6h8l1-2h2l1 2h2l1-6h13l1 6 1 2h1l1 2h2l1-2h5l1-10h9l1 6h8l1-2h4l1-2 1-2h6l1 2h3l1-6h11l1 2 1-2h1l1-6h6l1-2h28l1 6h3l1-2h14l1 2h1l1-2 1 6h18l1-2h1l1 2h7l1-6h11l1 2h2l1-2h5l1-2 1 6h4l1-6h12l1-6h3l1-2h1l1-2h36l1 2h2l1-2h1l1 2h56l1-2h2l1 2h17l1-2h4l1 2h4l1-2h4l1 2h8l1-2h84l1 2h9l1-2h3l1 2h11l1-2h69l1 2h40l1-2 1 2h9l1-2h12l1 2h8l1-2h3l1 2h14l1-2h28l1 2 1-2h205l1 2h54l1-2h21l1 2 1-2h49l1 2h17l1-2h3l1 2h13l1-2h14l1-2h786"/>
<path vector-effect="non-scaling-stroke" stroke="#8E8E00" d="M0 -4.45l1-6 1 6h1l1 2 1-6h2l1-6 1-18h1l1 2h2l1 6 1 6h1l1 6 1-2 1-22h1l1-10 1-18h1l1-2h2l1 2 1-2h2l1-2h3l1-2h1l1-2 1 6 1-2 1-2h2l1-6h3l1 6 1-10h1l1 2h3l1-14h3l1 6h3l1 2h3l1 10h3l1-10h7l1-10h7l1 2h4l1-2 1 2 1-2h4l1 6h1l1-10h9l1-6h11l1-2 1-6 1-2 1 2h5l1-2h1l1 2h16l1-2h13l1 2h12l1-2h17l1 2h12l1-2h13l1 2h35l1-2h28l1 2h9l1-2h18l1 2h1l1-2h42l1 2h8l1-2h13l1 2h2l1-2h20l1 2h8l1-2 1 2 1-2h24l1 2h6l1 2h3l1-2h27l1-2h20l1-2h52l1 2h1l1-2h12l1 2h7l1 2 1-2h15l1 2 1-2h20l1 2h12l1-2h21l1 2 1-2h9l1 2h21l1-2h10l1 2h1l1-2h14l1 2h13l1-2h1l1 2h36l1-2h97l1 2h15l1-2h285l1 2h1l1-2h56l1-2h773"/>
<path vector-effect="non-scaling-stroke" stroke="#FB6501" d="M0 20.47l1-2 1 6 1-18 1 18 1-6 1-2 1-22 1-2 1-10 1-18h1l1 10h2l1-6 1-6 1 2 1 2h2l1 2h2l1-10 1 2h2l1-2 1-14h1l1 2h1l1-6 1-6h1l1-2h3l1-6 1-2h7l1 6 1 10h3l1 6h2l1-2h4l1-10h1l1 2 1 2h2l1 2h2l1-2h1l1-6h6l1-6h1l1-6h1l1-2h4l1-2h2l1 2h2l1-2h5l1-6 1 2h4l1-2h1l1 6 1-2h3l1 2 1-2h27l1 2h7l1 2 1-2h9l1-6h11l1 2h8l1 2h2l1-2h13l1 2h4l1 14h6l1-2 1-6h11l1 6h5l1 2h3l1-2 1-6h10l1-14h19l1 2h20l1 2h37l1-6h86l1 2h8l1 2h8l1-2h14l1-2h12l1 2h6l1 2h5l1-2h3l1-2h11l1-2h13l1 2h3l1 2h6l1-2h9l1-6h63l1-2h168l1 6h10l1-6h69l1 2h10l1-2h324l1 2h10l1-2h96l1 2h31l1-2h33l1 2h5l1-2h220l1 2h33l1-2h392"/>
<path vector-effect="non-scaling-stroke" stroke="#6699CC" d="M0 -2.00l1 2 1 2 1-2 1-2 1 14 1-6 1 6h2l1 2 1 6 1-14h1l1 10 1-26 1-10h5l1-14 1-10h1l1-18h1l1-2h7l1-6h3l1-2h6l1-2h6l1-10h3l1-6h5l1-2 1-14h1l1 6 1-2h1l1-2h10l1 2 1 2h1l1 2h11l1 6h13l1-2h5l1 10 1-10h5l1-2 1 2h12l1 2h2l1-2h3l1-10h4l1 10h5l1-2h3l1 14h7l1-14h5l1 2h5l1-2 1-10h1l1 6h10l1-14h4l1 6h10l1-6 1 2h9l1 10h1l1-2h5l1-6h19l1-2h18l1-6h7l1 2h33l1-2h6l1 6h2l1 2h5l1 2h2l1-2h3l1 2h9l1-2h3l1-2h4l1-2h6l1 2h11l1-6 1 2h14l1 2h2l1-2h9l1-2h76l1 2h7l1 2h15l1 2h11l1-2h11l1-2h18l1 10h11l1-2h1l1 2h16l1-10h14l1 2h2l1-2h16l1 2h6l1-2h4l1 2h15l1-2h36l1 2h5l1-2h11l1 2h27l1 2h16l1-6h698l1 2h11l1-2h553"/>
<path vector-effect="non-scaling-stroke" stroke="#6FB802" d="M0 43.44h1l1-2h1l1-6 1-14 1-18h1l1-10 1 6 1-18 1 2 1 6h10l1-14 1-10 1-6 1 18 1-2 1-2h3l1-10h2l1-22h1l1 10h3l1 2 1-10 1 2 1-6h1l1-2 1-14h2l1 2h2l1 14 1-2h6l1 2h1l1-10h1l1-10h2l1 6h4l1 6 1-2h3l1-2h1l1-2h1l1-2h1l1 2 1-6 1 6h1l1 6 1-6h1l1-6h2l1-2h1l1 2h3l1-2h5l1 10h3l1-10 1-10h6l1-2 1 2h1l1-2h1l1 2h12l1-2h14l1 2 1 2 1 2h3l1 2h4l1-2h3l1 2h20l1 2 1 2h7l1 2 1-6h2l1 6 1-6h1l1-2h2l1-2h1l1 2h1l1 10h4l1-6h1l1-2h8l1 2h1l1 6h9l1-10h6l1-10h19l1-6h20l1-10h24l1 2h15l1-2h8l1 2h2l1-2h9l1-2h69l1 2 1-2h16l1 2h44l1 2 1-2h4l1 2h7l1-2h100l1 2h10l1-2h9l1 2h8l1-2 1-2h59l1 2h2l1-2h30l1 2 1 2h17l1-2h2l1-2h317l1 2h43l1-2h20l1 2h11l1 2h22l1-2h83l1-2h754"/>
<path vector-effect="non-scaling-stroke" stroke="#515151" d="M0 2.31l1-2 1 2 1-14 1 2 1 2 1-26h1l1 10 1-10 1-2 1 2h1l1 2 1-10h1l1-6 1 10 1 2h1l1 2 1-2 1-6h1l1 6h1l1-6 1-10 1 10 1-2h1l1-6h2l1 2 1 2 1 18h1l1 2 1 6h4l1-2 1-10h2l1 6h2l1 6 1 2 1-2h1l1 2h1l1 2h1l1-6 1-2h1l1 2h1l1-2h2l1-18h1l1-10 1-6 1 6 1-6h1l1-14 1-6h1l1-2h2l1-6h15l1 2h6l1-2h7l1-2h1l1-2h5l1 2h11l1-6h9l1-10h23l1-2h4l1-2 1-6h12l1-2h2l1 2h58l1-2h19l1 2 1-2 1 2h12l1-2h3l1 2h20l1-2h14l1 10h30l1 6h16l1-6h8l1-2h21l1-6h13l1-2h150l1 2 1-2h13l1 2h5l1-2h16l1-2h190l1 2h22l1-2h61l1 2h1l1-2h131l1 2h77l1-2h53l1 2h6l1-2h693l1 2h34l1-2h119"/>
<path vector-effect="non-scaling-stroke" stroke="#F14040" d="M0 9.82l1 2 1-2h1l1-6 1-10 1-6 1 6 1 10h1l1-10h1l1-2 1 2 1-2 1-2 1-6 1-14 1 2h1l1-2 1-6h6l1-6h10l1 2h5l1 2 1-2 1 2h3l1-10h2l1 6 1-6 1-2h1l1 2 1-2h2l1-2h1l1 2h1l1-2h1l1-6 1 2 1 2 1-2h3l1-2h6l1 6h1l1-2h6l1 10h1l1-2h2l1 2h4l1-2h2l1 2 1-2h1l1-2h3l1-10 1 2 1-18h3l1-2h1l1-2h3l1 10h3l1-10 1-6 1-2h2l1 2 1-2h4l1 6h3l1-2h3l1 2h1l1-2h2l1 6 1-6h27l1-18 1 2h9l1-2h9l1-6 1 6h10l1 6h2l1-10h1l1-2h7l1 2h1l1 2h4l1-2h3l1 2h11l1 2h4l1-2h8l1 2h3l1 2h1l1 2h2l1-6h16l1 2h13l1 2 1-2h3l1 2h2l1-2h33l1 2h23l1-2h16l1 2h5l1-2h21l1 2h1l1 2h3l1-6h1l1-2h4l1 2h5l1-2h3l1-2h16l1-2h9l1-2h25l1 2h23l1-2 1-2h4l1-2h31l1 2h3l1 2h4l1-2h2l1-2h59l1 2h35l1-2h91l1 2h4l1-2 1 2h1l1-2h31l1 2h8l1-2h7l1 2h3l1-2h15l1 2h21l1-2h20l1-2h114l1 6h17l1-6h88l1 2h25l1-2h880"/>
<path vector-effect="non-scaling-stroke" stroke="#000000" d="M0 -4.24l1 2 1-2h1l1 2h2l1-6 1-2 1 2 1-10 1-14 1-6h3l1-14h2l1-2h3l1-2h4l1-6h1l1 6 1-2h1l1-2h5l1 2h1l1-6 1 2h1l1-2 1-2h3l1 2h4l1-6h8l1-6h1l1-2h1l1 14h2l1-10h9l1 6h2l1 2h1l1 10h9l1 6 1-2h1l1-2 1-6h3l1-2h3l1-10h5l1 2 1-2h2l1 6h3l1-2h3l1-10h7l1-6h19l1 2h1l1-2h11l1-2h3l1 2h2l1-6h3l1 2h1l1 2h12l1-2 1-6h1l1-2 1 2 1-10h74l1 2h4l1-2h41l1 2h33l1 2h3l1 2 1-2 1 2h12l1 2 1 2h9l1-6h3l1-2h2l1-2h59l1 2h8l1-2h15l1 2h27l1-2h133l1 2h12l1-2h69l1 2h14l1-2h49l1 2h2l1-2h16l1 2h79l1-2h14l1 2h6l1-2h488l1 2h17l1-2h585"/>
<path vector-effect="non-scaling-stroke" stroke="#37AD6B" d="M0 6.04l1-14 1-10 1-26 1-10 1 10 1 2 1-10 1-2h1l1-18h1l1-10h1l1-10h1l1 14h3l1 14h1l1 6h1l1-2 1-2 1-2h1l1 10h1l1 2h1l1-6h1l1-6h6l1-10 1-6 1-10h7l1-14h14l1 2h3l1-6h13l1-6h15l1 2h13l1-2h4l1-2h2l1 2h7l1-2h2l1 2h10l1-2 1 2h3l1 2h3l1 10h9l1-2h8l1 6h1l1-2h13l1-2 1-2h16l1-6h11l1-6h11l1 2h35l1 2h4l1-2h5l1-2 1 2h37l1-2h3l1 2h13l1-2h3l1 2h3l1-2h18l1 2h4l1-2 1 2 1-2h28l1-2h150l1 2h18l1-2h262l1 2h6l1-2h137l1 2h92l1 2h22l1-2h47l1 2h3l1-2h39l1 2 1-2h151l1 2h9l1-2h7l1-2h150l1 2h10l1-2h479l1 2h3l1-2"/>
<path vector-effect="non-scaling-stroke" stroke="#B177DE" d="M0 -25.88h1l1-2 1-10 1-14h4l1 10 1-6 1 2h2l1 2 1-2h1l1-2 1-2h5l1-6 1 2 1-2 1 2h1l1-6 1-6 1 2h1l1 6 1 6h1l1-2h1l1-2h3l1-6 1 6h2l1 6 1-6h8l1 2 1-2h7l1 2 1 6 1 2 1-2 1-2h2l1-10h1l1 6h2l1-2h3l1-10h2l1 10h1l1 2 1-2h3l1 6h1l1-6h1l1-6 1 2h3l1-2 1 2 1-6h4l1 2h3l1 2 1 2h1l1-2 1-10h8l1 2h1l1-2h3l1 2h1l1-14h2l1-10h9l1 2h24l1-2h5l1 6h11l1-2h3l1-2h3l1-2h2l1 2 1 10h5l1-10h8l1-2h6l1 2 1 6h1l1-18h13l1 14h3l1-14h1l1-10h11l1 2h17l1-2h3l1 6h8l1 6h6l1-6h2l1-2h5l1-2 1 6h10l1-6h2l1-2h4l1 2h2l1 2h14l1 2h25l1-2h46l1-2h19l1-2h21l1 2 1-2h103l1 2h46l1-2h32l1 2h14l1-2h41l1 2h3l1-2h8l1-2h285l1 2h20l1 2 1-2h19l1 2h13l1-2h96l1 2h10l1-2h90l1 2h8l1-2 1-2h42l1 2h127l1-2h566"/>
<path vector-effect="non-scaling-stroke" stroke="#CC9900" d="M0 -14.46l1 2h1l1 6h1l1 2 1-10h2l1-2h1l1 6h1l1-6h1l1-14h3l1-2 1 2h1l1 2 1-6h1l1 2h1l1-10 1 6h1l1-14 1 6h1l1-10 1-6 1 2h2l1-6h1l1-2h2l1-2h4l1-22h4l1 2h1l1-2h3l1-2h1l1-2h3l1 14h4l1 6h6l1-6h13l1-6 1 6h3l1-2h5l1 6 1 2h4l1 2h20l1-2h4l1-2h10l1-10 1-2h3l1-2h9l1-10h9l1 2 1 10h5l1 6h3l1-6 1-2h5l1-2h1l1-2h1l1 2 1-2h3l1-10h1l1 6h9l1 6h2l1-2h2l1 2 1-2 1-10h3l1-2h12l1-6h11l1-2h15l1 2h6l1-2h3l1 2h3l1-2h33l1 2h3l1-2h45l1 2h5l1-2h23l1 2h4l1-2h2l1 2h9l1-2h7l1 2 1-2h101l1 2h13l1-2h1l1 2h15l1-2h4l1 2h6l1-2h26l1 2h3l1 2h6l1-2 1-2h21l1 2h4l1-2h31l1 2h13l1-2h15l1 2h1l1-2h12l1 2h1l1-2h26l1-2h101l1 2h3l1 2h7l1-2h39l1 2h1l1-2h4l1 2h9l1-2h64l1 2h28l1-2h17l1-2h74l1 2h19l1-2h382l1 2h44l1-2h458"/>
<path vector-effect="non-scaling-stroke" stroke="#00CBCC" d="M0 -6.38l1-6 1-2 1 2 1 2 1 6 1-2 1-2 1 6 1-14 1-2 1-6h1l1-6h1l1 6h1l1 6 1 10 1-10 1 2 1-6 1-2 1-10 1 10 1-10 1-18h4l1-18h4l1-2 1 2h1l1 2h3l1-2h1l1-14h6l1-2h3l1 2 1 10h5l1-6h6l1-2h4l1 2h3l1-2h5l1 2h5l1 6h1l1-6h2l1 6h7l1-14h3l1 6h1l1-2h5l1 2 1-6h4l1-6 1 6 1-14h12l1-6h1l1 6h2l1-2h4l1-10h12l1 2h8l1 6 1 2h11l1-10h22l1 10h10l1-10h35l1 2h8l1 6h9l1-6h1l1-2h3l1 2h5l1-2h13l1 2h7l1-2h18l1 2h2l1-2h7l1 2h9l1-2h85l1 2h11l1-2h7l1 2h17l1-2h99l1 2h18l1-2h30l1 2h1l1-2h1l1 2h6l1-2h22l1 2h8l1-2h43l1 2 1-2h12l1-2h711l1 2h47l1-2h520"/>
<path vector-effect="non-scaling-stroke" stroke="#7D4E4E" d="M0 10.09l1-18h1l1-10 1-2 1 10 1-6 1 6h1l1 6 1-2 1 2 1-10 1-6 1-2h1l1 2h1l1-6h3l1-2h1l1-10h3l1 10 1 2 1 2h1l1-6 1 2h1l1 2 1-2 1 2h1l1-2 1-6 1-6h2l1-10h2l1-6h1l1 6h3l1-6h2l1 10h1l1-2 1 2 1 6h2l1-2 1-10h3l1 2h6l1 10h2l1 2h1l1 2 1 2 1-2h3l1-2h2l1 2h2l1-2h1l1-6 1-6 1 2h1l1 6h3l1 6h1l1 6 1-2 1-10h1l1 2h7l1 2h3l1-6 1-6h2l1 2h2l1 2 1 2 1 2h2l1-6 1 6h2l1-6h1l1-2h1l1-6h2l1-18h2l1 2h9l1 6h3l1 6h3l1-14h2l1 2h10l1-2h2l1 2h1l1-2h1l1-2 1 2h1l1-10h11l1-2 1-6h1l1-2 1-2 1-10 1-6h8l1-2h16l1 2h23l1-2h27l1 2h8l1 6h2l1-6 1-2h26l1 2h19l1-2h5l1 2h6l1 6h6l1-6h6l1-2h1l1 2h23l1-2h4l1 2h1l1-2h9l1 2h4l1-2h39l1 2h11l1-2h107l1 2h1l1-2h9l1 2h4l1-2h72l1 2h2l1 2h16l1-6h54l1 2h69l1 2h32l1-2h10l1-2h1071l1 2h20l1-2h49"/>
<path vector-effect="non-scaling-stroke" stroke="#8E8E00" d="M0 0.76l1 10 1-6 1-10h1l1-2h2l1 2h1l1-10 1 2 1-6 1-2 1-10 1-2 1 10h3l1 10 1-2h4l1 2h1l1 2 1-6 1 2h2l1 14 1-14h3l1-6 1-6 1-14 1-18h1l1 18h4l1 10h3l1-6 1 6h3l1-2 1-10 1-6h1l1-2 1-14 1-2h3l1 2 1-2h5l1-6h1l1-2 1 2h1l1 2h5l1 6h4l1-6 1 10h2l1-2h4l1-2 1-10h2l1 2h11l1-2 1 2h12l1 2h16l1-2h3l1 2h2l1-6 1 6h8l1 2h1l1 2h3l1 2 1-2 1 2 1-6 1-2h1l1 6h1l1 2h1l1-2 1 10 1-2h1l1-6 1-18h8l1-10h1l1-2h2l1-6h7l1-2h8l1 6h1l1-6h9l1-6h52l1 2h4l1 6h30l1-2h3l1 6h16l1-2h8l1-2h4l1-2h5l1-2h4l1-2h2l1-10h56l1 2 1 2h1l1-2h15l1 2h70l1-2h2l1 2h5l1-2h12l1 2h1l1-2h7l1 2h2l1-2h4l1-2h273l1 2h56l1-2h1117"/>
<path vector-effect="non-scaling-stroke" stroke="#FB6501" d="M0 -8.12l1-10h1l1 2 1 2h1l1-2 1 2 1-2 1-10h3l1 6h1l1 6 1-10 1-2 1 14h1l1-2h2l1 6h1l1-14 1 2 1-6h1l1-2h3l1-2h1l1-10h2l1 18 1 2h1l1-6h1l1 2h1l1-10h1l1 6h2l1-2h1l1-6h2l1-2 1-18 1 6 1-2h2l1-2h2l1 2h8l1 6h1l1 10 1-2h1l1 2h1l1 10 1-14h2l1-6h3l1-6 1-14h4l1 10h1l1 10 1 2h5l1-2h2l1-6 1-10h2l1 2h1l1-2h2l1-10h3l1-10h4l1 14 1-2h2l1-10h1l1-2 1 2h3l1-10h1l1 2h1l1-2h1l1-2h6l1-2 1 2h3l1-2h8l1-18h10l1-2h1l1 14 1-14h2l1 2h10l1-2h6l1 2 1-2h9l1 2h46l1-2 1 2h2l1-2h24l1 2h11l1-2h36l1 10h6l1 10h7l1 2h1l1-2h4l1-10h6l1 6h6l1-6h5l1-10h43l1 2h11l1-2h194l1 2h42l1-2h10l1 2h1l1-2h22l1 2h21l1-2 1 2h16l1-2h58l1 2h31l1-2h85l1 2h1l1-2h7l1 2h10l1-2h71l1 2h20l1-2h17l1 2h9l1-2h27l1 2h5l1-2h21l1 2h6l1-2h8l1 2h28l1-2h51l1 2 1-2h54l1 2h7l1-2h143l1 2h12l1-2h48l1-2h513"/>
<path vector-effect="non-scaling-stroke" stroke="#6699CC" d="M0 -1.71l1-14 1 6 1 2 1 18 1 6 1 2h1l1-6 1-22h2l1-10 1-2 1-2h1l1-2h2l1-2h1l1-14h2l1-6h2l1-2 1-6h4l1-2 1-6h6l1-6 1 6h2l1-6h6l1-2 1 6h1l1-6 1 6 1-6h7l1-10h8l1 6h1l1-10h5l1-2h3l1-2h1l1 2h1l1-2h5l1 6h9l1 2h10l1-2h1l1 2h1l1-2h8l1 2h2l1-2h18l1 2h1l1-2h2l1-2h14l1 2h3l1 2h2l1 2h6l1 14 1-2h1l1 2 1-2h2l1-10h2l1-6h6l1-2h3l1 10h4l1-2 1-6h5l1 6h4l1-2h6l1-2h2l1-6h2l1-2h8l1 2h10l1-10h3l1 2h3l1-2h4l1 2 1-10h2l1-6h7l1-2h7l1 6h12l1-6h24l1 2h6l1-2h9l1 2h17l1-2h7l1 2h2l1-2h22l1 2h5l1 2h1l1-6h12l1 2h17l1-2h6l1 2h1l1 2h10l1-2h37l1-2h156l1 2h4l1-2h63l1 2h12l1 2h8l1 2h6l1-6h22l1 2h18l1-2h139l1 6h2l1-2h24l1-2h8l1-2h23l1 2h26l1-2h149l1 2h6l1-2h127l1 2h59l1-2h636"/>
<path vector-effect="non-scaling-stroke" stroke="#6FB802" d="M0 19.65l1 2 1-6 1-10 1-18 1-10h1l1-2 1 6h1l1-2h2l1 2h1l1 2 1-6h1l1 2 1-10h1l1 6 1-2 1-2h8l1-10 1-2h2l1 6h1l1 6h1l1-6 1 6 1 2 1 10 1-6 1-2h1l1 6h4l1-2h2l1-22h3l1 6 1-2 1-14h4l1-18 1 2h1l1-6h8l1-6h1l1-10h3l1 6h3l1 2h1l1-2 1 2h4l1-2h3l1-6h5l1 6h1l1 2h14l1 10h1l1-6h1l1 2h4l1 2 1-10 1-2h1l1 2h2l1-2h4l1 6h1l1 2 1-2h4l1-2 1-6h4l1 2h2l1 2h3l1 2h1l1 14h7l1-6h3l1-2h6l1 2h1l1 6 1 2 1-2h1l1-6 1-2 1-6 1-2h4l1 2h2l1 6h1l1-6 1-6h9l1 2h1l1-2h8l1 2h8l1-2h1l1-6 1 2h9l1 2h1l1-6h9l1 2h7l1-6h4l1-6h13l1-6h13l1-2h22l1-2h1l1 2h10l1-2h14l1 2h1l1-2 1-2h14l1 2h32l1 2h3l1-2h1l1 2h4l1-2h23l1 2 1-2h74l1 2h5l1-2h10l1 2 1-2h8l1 2h10l1-2 1-2h35l1 2h6l1 2h2l1-2h36l1 2h25l1-2h9l1-2h90l1 2h50l1-2h986l1 2h164l1-2h33"/>
<path vector-effect="non-scaling-stroke" stroke="#515151" d="M0 24.19l1-6h1l1 2 1-6 1-2 1-2 1-14h1l1-22h1l1-10 1-2h1l1 6 1 6h2l1-10h3l1 2h2l1 2 1-2 1 18h1l1-6h1l1 2 1-2h1l1-2 1 14 1 2h1l1 2 1 2 1-14 1-6 1-14 1-14 1-6h1l1-14h1l1-6h11l1-14 1 2h3l1 2 1-10h9l1-10 1 6h4l1-2h5l1 6h5l1 2h1l1-2 1 2h5l1-2h2l1-6h4l1 2h6l1 10h1l1-2h11l1-2h2l1-6h4l1-2h8l1 6h7l1-6h7l1-2 1-6h10l1-2h11l1-2h10l1 2h12l1 2 1-2h1l1-2h59l1 10h7l1-10h7l1 6h2l1 2h21l1-2h10l1 2h33l1-2h44l1 2h17l1-2h2l1 2h13l1 2h10l1-2h14l1-2h6l1-6h9l1 2h58l1 2h7l1-2h3l1 2h8l1-2h47l1-2h34l1 2h9l1-2h89l1 2h14l1-2h32l1 2h8l1-2h163l1 2h67l1-2h123l1 2h18l1 2h14l1-2h46l1-2h758"/>
<path vector-effect="non-scaling-stroke" stroke="#F14040" d="M0 0.64l1-14 1-2 1-2 1-10 1-2h2l1 2h1l1-6 1 6 1-6h3l1 6 1-10 1 6 1 2 1-6h1l1-2 1 2h1l1 10h1l1 6h1l1 2h2l1 2h3l1-2h1l1-6h2l1-6 1 6 1-2 1-6h2l1 10 1-2 1-10h2l1-6 1-10h3l1-2 1 2h2l1-2 1 2h2l1 2 1-2 1-2 1-2h1l1 2h2l1 2 1-10h4l1-14h2l1 10h2l1-14h4l1 14h2l1-2h1l1-18h2l1 18h4l1-6 1-6 1-2h9l1 2h1l1 2h6l1 6h7l1 10h3l1-6h1l1-14 1-6h1l1-2h9l1-2h1l1-6h11l1 2 1-2 1 2h3l1 2h6l1-6h28l1 2h4l1 2h4l1-2h12l1 6h4l1-2h8l1 6h12l1 2h8l1-2h7l1 6h9l1-2h3l1 2 1-2h5l1-6h3l1-2h2l1-6 1-2 1 2h7l1-2h26l1-6h1l1 2h8l1-2h1l1 2h7l1-2h15l1 6 1-6h18l1 2h9l1 2h4l1 2 1-2h14l1 2 1-10h1l1 2h9l1-2h10l1 2h24l1-2h25l1 2h29l1-2h4l1-6h21l1-2h8l1 2h6l1-2h6l1 2 1-2h12l1-2h125l1 2h14l1 2h10l1-2h1l1-2h25l1 6h34l1 2h16l1-2h12l1-6h75l1 6h24l1-2h3l1-2h19l1 2 1-2h8l1-2h537l1 2h5l1-2h480"/>
<path vector-effect="non-scaling-stroke" stroke="#1A6FDF" d="M0 -33.07l1 2 1 2h1l1-6 1-2 1-10 1-10 1 6 1-2h1l1-2h1l1-10h1l1 2 1-2h2l1 2h1l1 2 1 22h2l1-2h3l1 6 1-2 1-2 1-2h1l1 18 1 2h1l1-2h7l1-14 1-2h2l1-6h1l1 6h5l1-2h2l1 10h1l1 2 1-2 1-18h1l1-6h1l1 2 1-2 1 2h8l1-2h4l1 2h3l1-6 1-6 1 14 1-14h2l1 2h1l1-2h1l1 6 1 2h1l1-6 1 6h1l1 2h1l1-6 1-2h5l1 2h1l1-2h1l1-6h8l1-2h3l1 2h1l1-2h4l1-6 1 6 1-18 1-6h8l1-6h11l1-14h3l1 2h3l1 6h16l1-6h4l1-2h19l1 2h12l1-2h34l1 2 1-2h2l1 6h3l1-2h6l1-2 1-2h2l1 2h12l1-2h18l1 2 1-2h5l1 2h1l1 2h26l1-2h25l1-2h34l1 2h9l1-2h27l1 2h4l1-2h99l1 2h8l1-2h9l1 2h1l1-2h2l1 2h23l1-2h3l1 2h22l1-2h66l1 2h13l1-2h81l1 2h24l1 2h20l1-6h5l1 6h1l1-6h1158"/>
<path vector-effect="non-scaling-stroke" stroke="#37AD6B" d="M0 -4.20l1 2 1 10h2l1 2 1-10 1-22h2l1-14h1l1-6h2l1-18h3l1-10 1-6h6l1-2h13l1-2h2l1 10 1 2h3l1 6 1 10 1 2h3l1-6 1 2 1-10h1l1 2h2l1-2h6l1-14h3l1-6h10l1-2h8l1-14h3l1-6h27l1 6h13l1-6h2l1 6h8l1 2h3l1-2h4l1 2 1-2h2l1 2h1l1-10h4l1 2h2l1 2h7l1-2h3l1-2h3l1-10h14l1 6h2l1-6h1l1 2h2l1 2h7l1-2h23l1-2h39l1 6h5l1-2h2l1-2h2l1 2h6l1-2h29l1 2h5l1-2h5l1-2h5l1 6h13l1-6h2l1 2h6l1 2h21l1-2h4l1-2h12l1 2h2l1 2h3l1-2 1 2h1l1-2h19l1 2h24l1-2h10l1 2 1-2h35l1 2h11l1-2h7l1 2h5l1-2h24l1 2h27l1-2h6l1 2h6l1-2h17l1 2 1-2h5l1 2h28l1-2h18l1 2h2l1-2h6l1 2 1-2h32l1 2h1l1-2h42l1 2h12l1-2h5l1 6h7l1-6h9l1 2h10l1-2h208l1 2h3l1-2h15l1-2h270l1 2h10l1-2h667"/>
<path vector-effect="non-scaling-stroke" stroke="#B177DE" d="M0 3.67l1 2 1-2 1-14 1-6h1l1 14 1-6 1-10 1 2 1 6 1-2 1 6 1-18 1-10h1l1-22 1 2h3l1-6 1-6h1l1 2 1-2h3l1-2 1-2h5l1-6h7l1 6h1l1 2h10l1 6h1l1 2h5l1 2h1l1 2h1l1-2h3l1 2h2l1 2h3l1-6 1 2 1-6h2l1-2h1l1-2 1-10 1-6h2l1 2 1-10h3l1 6h1l1 2h4l1-2h6l1 2h5l1-2h7l1-14h1l1-2h5l1 2h3l1-2h5l1-10 1-2h11l1 6h1l1 2 1 2h2l1-2 1 2 1-2h21l1 2h10l1 6h8l1 2h9l1-10h6l1 2h8l1-2 1 2h10l1-2h15l1 2h6l1-2h38l1 2h1l1-2h5l1 2h12l1 2h5l1 2h8l1-2h4l1-2h26l1 2h48l1-6h30l1 2 1 2h7l1 2h10l1-6h25l1 2h60l1 6h1l1-2 1-2h21l1 2h14l1 2h2l1-6h18l1-2h171l1 2h22l1-2h41l1 2h6l1 2h36l1-2h1l1-2h10l1-2h27l1-2h4l1-2h2l1 2h1l1-2h127l1 2h8l1-2h6l1-2h149l1 2h8l1 2h2l1-2h5l1-2h733"/>
<path vector-effect="non-scaling-stroke" stroke="#CC9900" d="M0 -19.71l1-6h4l1 2h2l1-2 1 10h1l1-2 1 2 1-2h1l1-2h1l1-2 1-10h1l1 6 1 2h2l1 2h1l1 2h1l1 2 1-6h1l1 2 1-10h2l1 18 1 10h1l1 2 1-6 1-10 1-2h1l1-14h1l1-14 1-10h1l1-6h3l1-6h2l1-10h4l1-6h6l1 2h2l1-6h1l1-10h2l1 10h6l1-2h1l1 2h1l1-2h11l1 2h1l1-2h1l1-6 1-2h21l1 2h3l1 6h3l1-6h2l1-10h19l1-6h25l1 10h23l1 2h5l1 6 1 2h1l1-2h8l1-6h2l1-2h2l1 2h3l1-6h1l1 2h13l1-2h8l1-6h6l1-2h24l1 2h14l1-2h22l1 2h28l1-2h18l1 2h23l1-2h56l1 2h3l1-2h93l1 2h25l1-2h40l1 2h4l1-2h9l1 2h1l1 2h22l1-2h8l1-2h30l1 2h2l1-2h22l1-2h1270"/>
<path vector-effect="non-scaling-stroke" stroke="#00CBCC" d="M0 -37.74h2l1 2h1l1-6h2l1 2h5l1 2h2l1-18 1 6h2l1 2 1-2h1l1-2 1 2h1l1 2h5l1 6 1 2h1l1-10 1 6h1l1-2 1-10 1-10h4l1-2h3l1 2h1l1-2 1-6h2l1-6 1-2 1 2h1l1 2h4l1-2h2l1 6 1 6h9l1-6 1 10h8l1-2h2l1 2h5l1-10 1 2h5l1-2h11l1 2h14l1-2h3l1 2 1-10h3l1-2h9l1 6h9l1-2h3l1 6h8l1 2h2l1-10h11l1-6h21l1 6 1 2h4l1-2 1-6h10l1-2h17l1-6h3l1-2h2l1 2h3l1-2h22l1 2h2l1-2h4l1-6h6l1-10 1 2h24l1 6h3l1 2 1-2h12l1 2 1-2h14l1-6h22l1-2h35l1 2h5l1-2h25l1 2h6l1 6h11l1-6 1-2h8l1 2h12l1-2h38l1-2h60l1 2h3l1-2h116l1 6h16l1-6h26l1 2h16l1-2h22l1 2h10l1-2h80l1 2h8l1-2h1105"/>
<path vector-effect="non-scaling-stroke" stroke="#7D4E4E" d="M0 -13.76l1 2 1-22 1-2 1-6 1 6 1 2h1l1 6 1-2 1-18h1l1-2h2l1 2h1l1-18h2l1 10h1l1 10h1l1 6h1l1-2h3l1-14h1l1-6 1 2h2l1-2h1l1 2h1l1-2h8l1-10 1-10h3l1-6h3l1 2h8l1-10h1l1 2 1 6h2l1 2h1l1 2 1 6 1-10h14l1 10 1-2h2l1-2h2l1-2h1l1-6h6l1 2h3l1-2h12l1-14h1l1 14 1 2h4l1-10h2l1-2h2l1-6h10l1 10h5l1 6h6l1-2h10l1-2h3l1-2h2l1 6 1 6h2l1 2h2l1 2h14l1 2h7l1 14h2l1 6h1l1-6h2l1-6h4l1-2h2l1-10h3l1-2h5l1-2h1l1-14h16l1 2h5l1-2h8l1 2h8l1-2h1l1 2h18l1-2h2l1-6h2l1-2h13l1-2h15l1 2h4l1 2h1l1-2h10l1-2h8l1-2h9l1-2h2l1-2h15l1 2h18l1-2h5l1-2h36l1 6h68l1 2 1-2h11l1-6h60l1 2h20l1 2h1l1-2h85l1 2h30l1-2h46l1 2h4l1-2h67l1 2h11l1 2h25l1-2 1 2 1-6h159l1 2h1l1-2h111l1 2h19l1-2h300l1 2h7l1-2h247l1 2h19l1-2h231"/>
<path vector-effect="non-scaling-stroke" stroke="#8E8E00" d="M0 7.21l1-2 1-14 1 2h1l1-6h2l1 2h1l1 6 1-6 1 6 1 2h2l1-6 1-2h1l1 2h1l1-6h2l1 6 1-10h2l1-2 1-2 1 2h1l1 22h2l1 10 1-2 1-10h2l1-2 1 2 1-2 1 2 1-22h2l1-2 1-14h3l1-26h2l1-2h2l1 2h5l1 6 1 2 1-10 1 6 1-6h6l1-2h1l1 2h4l1-2h3l1-2 1-6 1-6h2l1 2h13l1 2h1l1 2h5l1-6h4l1 6h2l1 2h6l1-2 1-10h4l1-2h13l1 2 1-2h1l1 2h5l1-2h27l1 2h10l1-2h4l1 6 1 6h5l1-6h2l1 2h3l1-2 1-2h8l1 2h10l1 2 1 6 1-6h6l1-2h9l1-14 1 6h16l1 10h1l1 2h15l1-2h2l1-2h3l1-2h3l1-2h2l1 2h5l1-10h1l1-6h17l1-6h6l1 2 1-2h3l1 2h14l1 2h6l1 6h7l1 2 1-6h8l1-2h17l1 2h3l1-6h64l1-10h26l1 2h21l1-2h15l1 2h2l1 2h3l1-2h61l1-2h73l1 2h13l1 2h37l1-2h10l1 2h11l1-2h9l1 2h5l1-2h6l1 2h10l1-2h9l1 2h16l1-2h49l1 2h51l1-2h15l1 2 1-2h1l1-2h58l1 2h4l1-2h26l1 2h2l1 2h13l1-2h10l1 2h8l1-2h54l1 2h2l1-2h46l1-2h832"/>
<path vector-effect="non-scaling-stroke" stroke="#FB6501" d="M0 0.66l1-6 1 2 1-2h1l1 2h2l1-2h2l1-6h1l1-22 1-10 1-2h1l1-10 1-10h1l1 2h1l1 6h2l1-6 1-6h2l1 2h2l1-2h3l1-2 1-6h6l1 2h2l1 10h10l1 2 1 2h3l1 6h5l1-2 1-2 1-6h1l1-10h3l1 2h5l1 18 1 2h2l1-2h1l1 2 1-6h1l1 2h2l1-2 1-2h4l1 2h2l1 2h2l1 6 1-2 1-2 1-6 1-2h1l1-2h2l1-2h3l1 2h4l1-2h2l1-2h3l1-6 1 2 1-2h19l1 2 1 2h11l1 6 1 6h1l1-6h1l1-2h1l1-6h1l1-6h2l1-6h2l1-2 1-2 1 2 1-6 1 2h4l1-6h5l1 18 1-10h4l1-14h2l1 2h2l1-6h2l1-2h7l1-2h1l1-6h18l1 2h6l1-2h55l1 6h16l1-2h10l1-2h10l1-2h6l1 6h30l1-6h92l1 2h2l1 2h2l1-2 1 2h89l1 2h9l1-2h4l1-2h12l1-2h82l1 2h17l1 2h33l1-2h14l1-2h68l1 2h13l1-2h216l1 6h26l1-6h924"/>
<path vector-effect="non-scaling-stroke" stroke="#6699CC" d="M0 -10.62l1 10 1 6 1-6 1 2 1 2h1l1-14 1 6 1 2 1-6h1l1-2h1l1-2h1l1-2h1l1-14 1-6h1l1 2h1l1-10h1l1-6 1 2 1 2h1l1 6h2l1-2h8l1 2 1 10h2l1-6 1-14h1l1 6h2l1-14 1 6 1 2h1l1-14h1l1 6h1l1-18h6l1 18 1-2 1 2 1-6h1l1-14h1l1 14h3l1 2h3l1-2h1l1-6h8l1-6 1-2 1-2h10l1 6 1 2 1-10h8l1-10h2l1 2h17l1-2h5l1 2h4l1 14 1 2h4l1 6h6l1 2h1l1-10h4l1-2 1-10h3l1 2h1l1 2h1l1-6h5l1-2h2l1 2h3l1-2h22l1-2 1 10h5l1-10h8l1 2h7l1-2 1 6 1 2 1-2h2l1 2h2l1 2h2l1-6h1l1-2h6l1-2h8l1 2h4l1 2h2l1-2h2l1 2h5l1-10h16l1 2h5l1-2h25l1 2h9l1-2h7l1-6h95l1 6h17l1 2h26l1-2h6l1-6h99l1 6h13l1 6h3l1-2h16l1-10h319l1 6h55l1-6h990"/>
<path vector-effect="non-scaling-stroke" stroke="#6FB802" d="M0 19.97l1-18h1l1 2 1-6 1-2h2l1-10 1 2 1-10 1-2 1 2h1l1-2h3l1-6 1-6h1l1 2h1l1 2h2l1-2 1-6h2l1-2 1-2 1 10h2l1 6h2l1-2h1l1-2h1l1-2 1 2h1l1-2h2l1 6 1 2 1-6h2l1 2h3l1-14h1l1 2 1 6 1-10 1-2h1l1 2 1-2 1 2 1-2h2l1-2h3l1-6h1l1-2h2l1-2h4l1-6 1-2h3l1-2h9l1-6 1-6h19l1 6 1-6h2l1 2h19l1-2h14l1 2h4l1 10h2l1 2 1 2h6l1-6h11l1-6h5l1 6h2l1-6h11l1 6 1-6h2l1 2 1 2h3l1-2h3l1-6h5l1 2 1-2h8l1-2 1-10h12l1 6h20l1 10h3l1-2h3l1-2h22l1 2h1l1-2 1 2h4l1-10 1-6h2l1-2h32l1-2h8l1 2h17l1 6h4l1-6h42l1-2h4l1-10h14l1-2h1l1-6h17l1 6h31l1-6h34l1 6h13l1-6h104l1 2h3l1 2h6l1-2h6l1 2h7l1-2 1 2h10l1-2h95l1 2h2l1-2h6l1 2h8l1-2h17l1 2h42l1-2h79l1 2h11l1-2h48l1-2h238l1 2h72l1-2h88l1 2h25l1-2h569"/>
<path vector-effect="non-scaling-stroke" stroke="#515151" d="M0 9.91l1-2 1-6h2l1-14 1-6 1 6h1l1-6h1l1-2 1-10h1l1-10h1l1 10 1-10 1-10 1 2 1 18 1-10h3l1 2 1-6 1 10 1 6 1-6h1l1-2h1l1-6 1-10h2l1-2h2l1-30h4l1-2 1 2 1-6h7l1 2h8l1 2h7l1 2h5l1-6h1l1 2 1 14h1l1-14h7l1-6 1 2h7l1 2h2l1 2h8l1-6h5l1 6 1 2 1 2h1l1-2h4l1 6h3l1 6h10l1 2h2l1-6h6l1 2 1 2 1-10h2l1-2 1 6 1 2 1 2h1l1-6h2l1 6h2l1 2h2l1 6 1 2 1 2h9l1 2 1-18h2l1-2h6l1-2h10l1 2h8l1-6h11l1-2h5l1 6h3l1-6h4l1-6h5l1 2 1 2h3l1 2 1-2h7l1-2h4l1-6h6l1 2h6l1-2h7l1 2h16l1 2h3l1-2h4l1 2h7l1 2h8l1-2h1l1-2 1-6h1l1-2h2l1 2h16l1 2h1l1-10h12l1-2h1l1-2h5l1 2 1-2h10l1 2h3l1-2h34l1 2 1-2h19l1 2h37l1-2h69l1 2h6l1-2h4l1 2h12l1-2h14l1 2 1-2h35l1 2h1l1-2h46l1 2h4l1-2h114l1 2h3l1-2h23l1 2h11l1-2h4l1 2h5l1-2h12l1 2h16l1-2h10l1 2h3l1-2h59l1 2h3l1-2h5l1 2h4l1-2h70l1 2h3l1-2h81l1 2h1l1-2h109l1 2h8l1-2h29l1 2h4l1-2h60l1 2h12l1-2h113l1 2h8l1-2h42l1 2h73l1-2h189l1 2h13l1-2h9l1-2h183"/>
<path vector-effect="non-scaling-stroke" stroke="#F14040" d="M0 -10.16l1-2 1 2h1l1-6 1-2 1-18 1-6h2l1-10h2l1-2 1 2h2l1 6h5l1 10h1l1-2 1 6h1l1 6h4l1-10h2l1 2 1-2 1-2 1 2h2l1-10h3l1-6h1l1 14h4l1-14h2l1-2h1l1 2h2l1-2h5l1 6 1-14h1l1-6h7l1 2 1-6 1-2h6l1 6 1-2h15l1 2 1-14h14l1 10h14l1-10h2l1-2h8l1-2h7l1 2h4l1-6h2l1-6h11l1 2h9l1 2h1l1-2h3l1 2h14l1 6h9l1-2 1-6h13l1 2h4l1-2h27l1 2h12l1-2h34l1 2h8l1-2h54l1 2h18l1 2 1-2h4l1-2h9l1 2h4l1-2h3l1 2h2l1-2h1l1 2h2l1 2h3l1-2h2l1 2h8l1 2h12l1 2h1l1-2h36l1-2h9l1 2h3l1-2h5l1-2h19l1-2h35l1-2h6l1-2h11l1 2h6l1 2h8l1 2h17l1-2h31l1 6h10l1-6h16l1-2h12l1-2h33l1 2h1l1 2h28l1-2h1l1-2h21l1 6h8l1-2 1-2h13l1 6h2l1-2h5l1-2h13l1-2h31l1-2h26l1 2h2l1-2h33l1 2h7l1 2h2l1-2h34l1-2h144l1 2h63l1 2h2l1 2 1-2h5l1 2h2l1-6h4l1-6 1-10h157l1 2h14l1-2h14l1-2h125l1 2h41l1-2h20l1 2h52l1-2h366"/>
<path vector-effect="non-scaling-stroke" stroke="#1A6FDF" d="M0 49.86l1-18 1-2 1-10h1l1 6 1-18 1-10 1-18h1l1-10 1-6h1l1-14h1l1 10h1l1-2h1l1-2h1l1-14h1l1 6h5l1-2 1-6h2l1-2h1l1 2h2l1 14h1l1 2h2l1-2 1-6 1-2 1-2 1 10h1l1-6h6l1-10h1l1 10h1l1 6h2l1-6h1l1-6h1l1-6h2l1 2h2l1-2h9l1-6h1l1-14h1l1 6h2l1 2h6l1-6h1l1 2h2l1-14h6l1 2h2l1 18 1 2 1-2 1 14h3l1-2 1-14h3l1 2h3l1-6h5l1-6 1 6h3l1 2h3l1-10h6l1 6h2l1-18 1-14 1 2h5l1-2h10l1 2h5l1-2h15l1 2 1-2h5l1 2h4l1-2h11l1 2h6l1-2h4l1 2h7l1-2h3l1 2 1 2h6l1 10h7l1-2h1l1-2h11l1-2h9l1-2h10l1 2h17l1 2h6l1-2h1l1-2h2l1-2h9l1-6h64l1 6h18l1 2h21l1-2h26l1 2h10l1-2h40l1-6h23l1 2h7l1 2h25l1-2h37l1-2h60l1 2h45l1-2h31l1 2h10l1-2h1236"/>
<path vector-effect="non-scaling-stroke" stroke="#37AD6B" d="M0 -6.77l1-6 1 2 1 10 1-2 1-18h3l1 2h1l1 2 1-2h2l1 2h1l1-18h1l1 2 1-2 1 2h4l1 2 1-2h1l1-2 1 6 1-14h1l1 2 1-6 1-10h3l1 18h2l1-14h3l1 2 1-10h5l1 6 1 10 1 2 1 2h2l1-6 1 6h2l1-14h3l1 2h1l1-6 1-2h8l1 6h4l1 2 1-2h6l1-2h1l1 6h4l1-2h2l1-2h1l1 2h2l1 6h3l1 6h3l1-2h2l1-10h1l1-2 1-2 1 6h4l1-6 1 2 1-6 1 2h3l1-2 1-2h2l1-14h5l1-2h5l1-2h4l1-2h11l1 2h7l1 6h2l1-6h1l1-2h1l1 2h3l1 2h2l1 2h1l1-6 1-2h1l1 6h2l1-6 1 2h3l1 2 1-2 1-2h5l1-6h1l1-2 1-2 1-2h12l1 2h14l1-6h11l1 6 1-6h7l1 6h7l1-2h2l1 6h6l1-2h3l1-2h19l1-2h5l1-2h7l1-6h9l1-2h9l1-2h17l1-2h9l1 2h12l1-2h26l1-6h49l1 2h7l1-2h47l1 2h18l1-2h45l1 2h33l1 2h39l1-2h28l1 2h8l1-2h51l1 2h10l1-2h3l1 2h22l1-2h13l1 2h23l1-2h45l1 2h22l1-2h28l1 2h8l1-2h101l1 2h5l1-2h39l1 2 1-2h69l1 2h7l1-2h289l1 2h7l1-2h12l1 2h11l1-2h81l1 2h3l1-2h304l1 2 1-2h5l1-2h127"/>
<path vector-effect="non-scaling-stroke" stroke="#B177DE" d="M0 -15.57h1l1 2 1-6 1-2 1-6 1 2h2l1-2h4l1-2 1-10 1-2h1l1 2 1-6 1-6h1l1 6h2l1-2h2l1-2 1-2h3l1-2h4l1 10 1-2 1-6h11l1-2 1-2 1 6 1 6h1l1-6h4l1 2h2l1-2h2l1-2h1l1 2h5l1-2 1-10h1l1 2h2l1 2h2l1-6 1-10h4l1-6 1 6h1l1-2 1 14h3l1 6h1l1-2h3l1-6h4l1 2h1l1 2 1-2h1l1 10 1-10h4l1 2h2l1-2h6l1 2h4l1-2h3l1 2 1 2h2l1-6h3l1-2h5l1-6h1l1 2h1l1-2h2l1-10h13l1 2h2l1 6h5l1 2 1-2h4l1 2h4l1-2 1 6h1l1-2h1l1 6h5l1-6h11l1-2h17l1-6h1l1-2h3l1 2h3l1-2h4l1 2 1-6h5l1 2h5l1 2 1-6h12l1-6h6l1 6 1-6h3l1-2h5l1 2h1l1-2h2l1-10h4l1-2h11l1-6h16l1-2h62l1 2h1l1-2h35l1 2h24l1-2h35l1 2h4l1-2h5l1 2h1l1-2h33l1 2h6l1-2h1l1 2h7l1-2h6l1 2h2l1-2h44l1 2h2l1 2h43l1-6h126l1 2h6l1-2h104l1 2h13l1 2h4l1-2h130l1 2h5l1-2h141l1 2h27l1-2h7l1-2h56l1 2h19l1-2h687"/>
<path vector-effect="non-scaling-stroke" stroke="#CC9900" d="M0 14.00h2l1-18h1l1-6h1l1 2 1 10h1l1 6h1l1-14 1-14 1 2h1l1 10 1 6 1-14 1-10 1 6 1 2 1-2h2l1-6h5l1-10h5l1 2h4l1-6 1-2 1 2h3l1 10 1-10h2l1-6h2l1-2h4l1 2h2l1-2 1 2h5l1-6h1l1-2h1l1-10 1-2h3l1 10h2l1-10h1l1-6 1 2 1 10h1l1 2h7l1-10h6l1 6h6l1 6h1l1-2 1 2h3l1-2h1l1-10h2l1 6 1-6h5l1-2h4l1 2h12l1 2h2l1 2h1l1 2h2l1 2 1-2 1-2h1l1 2 1-2h3l1-2 1 2h2l1-14h7l1-2 1 6h3l1 6h3l1 2h4l1-6h3l1 2h12l1-6h5l1-2h9l1-10h14l1-10h14l1-2h4l1 6h6l1 2h9l1-2 1 6h13l1-6h8l1-2 1-18h1l1-2h36l1 2h7l1-2h12l1 2h2l1-2h16l1 2h9l1-2h10l1 2h6l1-2h15l1 2h6l1-2h11l1 2h3l1-2h6l1 2h4l1-2h25l1 2h14l1-2h87l1 2h7l1-2h97l1 2h5l1-2h22l1 2h15l1-2h45l1 2h4l1-2h21l1 2h19l1 2h23l1-6h1033l1 2h6l1-2h103"/>
<path vector-effect="non-scaling-stroke" stroke="#00CBCC" d="M0 -1.81l1-18 1-6 1 2 1-6h3l1-2h1l1-10h1l1 6h1l1-6h1l1-2 1-2h2l1-2 1-2 1 6h2l1 6h1l1-6h1l1 2h2l1-6h2l1 2h1l1-2h2l1-2 1-2 1 10 1-2h3l1-6h1l1-2 1-2h1l1-6h2l1 6h5l1-6h10l1-10h14l1 2h1l1-6h16l1 6h1l1-2h23l1 10h5l1 6h2l1-2 1-2h3l1 6h2l1-2h7l1-2h1l1-2h3l1 2 1 2h2l1 2h3l1-2 1-2h1l1-10h7l1-2h2l1-18h12l1 2 1-10h11l1 2h3l1 10h4l1 2 1 2h2l1-2h21l1 10h2l1-10h3l1-2h6l1 2h2l1-2h1l1 2 1-2h6l1-10h2l1 2h5l1 2h5l1 14h2l1-2h2l1-18 1 2h10l1 2h5l1-6h4l1 2h2l1-6h7l1 6 1 2h2l1-2h6l1-2h1l1 6h8l1 2h11l1 10h5l1 2h3l1-2h3l1-6h1l1-6h1l1-2h5l1-6h13l1 2h3l1-6h4l1-6h2l1-2h123l1-6h252l1 2h23l1-2h71l1 2h15l1 2h1l1-2h14l1-2h275l1 2h10l1 2h5l1-2h9l1-2h779"/>
<path vector-effect="non-scaling-stroke" stroke="#7D4E4E" d="M0 -24.13l1-14h1l1 14 1-6 1-14 1 10 1-6 1-2h2l1 6h4l1-6 1-2 1-6h1l1-2h1l1-2h5l1 2h5l1-14 1 6h2l1 6 1 6h1l1 6h1l1-6 1 10 1-10 1-14h2l1-2 1-10h4l1-2h3l1 2h1l1-2h3l1-10h2l1-2h8l1 10h7l1 10h5l1-10h2l1-6h2l1 18h4l1-18h1l1 10h1l1-2 1-6 1 2 1 10h2l1-10 1-10h14l1 6h1l1 2 1 10h12l1-10h1l1-2 1-6 1-2h1l1-2h12l1 6h3l1-6h4l1-10 1-2h7l1 2h13l1 6 1 2 1 2h1l1-6h5l1 2h5l1-2h4l1 2h1l1-2h4l1 2h6l1-2h5l1-6h44l1 2h50l1-2h7l1 2h15l1 2h15l1-2h23l1-2h44l1 2h1l1-2h49l1 2h48l1 2h3l1-2h9l1-2h78l1 2h5l1-2h284l1 2 1-2h77l1 2h34l1-2h205l1 2h19l1-2h591l1 2h52l1-2h89"/>
<path vector-effect="non-scaling-stroke" stroke="#1A6FDF" d="M0 -1.42l1-2h1l1-2 1-2 1-2h4l1-18 1 6 1 10h2l1-2 1 6 1-10 1-14 1-2h2l1-6 1 2h2l1-6 1 2h2l1 2h7l1 2 1-2h2l1 2h5l1-2 1-2 1 6h1l1 6h3l1-2 1-6h2l1-6h1l1-2 1-2 1 10h3l1-10h1l1-2 1-6 1-2h4l1 2h1l1 2 1-10h4l1 2h2l1-2h2l1-2h2l1-2 1-6 1 2h1l1-10h6l1-6h8l1 14 1 6 1 2 1-2h2l1-6h3l1-2h3l1-10h5l1-6h6l1 2h4l1-6h6l1-6h2l1 2 1 2h8l1-2h2l1 6h8l1 2h1l1-2h10l1-2h4l1-2h7l1 2 1 6h3l1 14 1-14h7l1 6h2l1-6h1l1-2h1l1 2h3l1-2h5l1 2h5l1 6h15l1 2 1-2h4l1 6 1-6h1l1-6 1-2h1l1-6h2l1 2h3l1 2h1l1-6h7l1-2h14l1-2h69l1 2h71l1-2h101l1 2h14l1-2h94l1 2h18l1-2h2l1 2h14l1-2h169l1 2h26l1-2h340l1 2h23l1-2h746"/>
<path vector-effect="non-scaling-stroke" stroke="#7D4E4E" d="M0 -22.58h1l1 2h1l1-2h1l1-2 1-2h2l1-2h4l1 6 1-6h1l1-10 1-2 1 2h2l1-14h2l1-2h1l1-6h4l1 6 1 6h3l1-2 1 2h1l1-6 1 2h1l1-14h1l1 2h3l1-6 1-14h1l1-2h7l1 2h1l1-6 1-2h1l1 6h4l1-6h7l1-2h2l1 6h5l1 2 1 2h2l1 2h2l1-2h5l1-2h11l1 6h16l1-2h2l1 6h6l1-2h9l1 2h2l1 2h3l1 2 1-2h2l1 2h3l1-2h1l1 2 1-10h15l1 2h8l1-2h9l1 2h2l1-2h2l1-2h9l1-2h17l1-2h1l1 6h5l1-2h10l1 2h1l1-6 1 6 1 2h2l1-2h1l1-2h1l1-2h3l1 2 1-2h1l1-2h2l1 2h3l1-2h13l1-2h2l1-2h2l1 2h2l1-2h7l1-6h8l1-2 1-2h68l1 2h71l1 2h38l1-2h19l1-2h6l1-2h4l1 2h30l1-2 1 2h86l1-2h63l1 2h45l1 2h10l1-2h4l1-2h29l1 2h1l1-2h13l1 2h10l1 2h7l1-2h24l1-2h72l1 2h7l1-2h11l1 2h6l1-2h26l1 2h34l1 2h23l1-2h15l1-2h37l1 2h27l1-2h282l1 2h15l1-2h397l1 2h59l1-2h106"/>
<path vector-effect="non-scaling-stroke" stroke="#6699CC" d="M0 23.36l1-6 1-2 1-2 1 2 1-6 1 2 1-10h1l1-2h1l1-10 1-30 1 14h1l1 6h2l1 6 1 2 1-10 1-6 1-2h1l1 6 1-2 1 6h2l1 10 1-14h2l1 6h1l1 2 1-2h1l1-6 1-14 1-2 1-2h1l1-6 1-10 1 2h2l1-2h1l1-10h8l1 6 1-10h2l1-2 1-10h1l1 2h2l1 14 1 2h1l1-2h3l1-2 1-6h3l1-2h2l1-2h1l1-2h7l1 10h1l1-6h1l1 10 1-2h2l1-6h2l1 6h1l1-6h4l1 6h6l1 6 1-2h1l1-2h1l1-2h1l1-6h4l1-2 1 6 1-6h6l1-2h2l1-2h3l1 6h1l1 2h2l1 2h1l1 6h8l1 6h2l1 2h4l1-2 1-2h1l1 2h1l1-2h2l1-6h1l1-10h12l1-2h6l1 6h1l1 2 1 2 1-10h1l1-2 1-2h16l1-2h5l1 2 1-2h3l1 2h9l1 2h4l1-6h1l1-2h10l1-6h22l1-10h9l1 2h12l1-2h10l1 2h2l1-2 1 2 1-2h6l1-6h7l1-2h18l1 2h6l1-2h5l1-2h8l1 2 1-2h64l1 2h28l1-2h18l1 2h13l1-2h13l1 6h17l1 2h12l1-2h9l1-6h5l1 2h6l1-2h179l1 2h41l1-2h25l1 2h6l1 2h4l1-2h9l1 2h6l1-2h147l1 2h42l1-2h16l1 2h1l1-2h11l1-2h351l1 2h13l1-2h557"/>
<path vector-effect="non-scaling-stroke" stroke="#6FB802" d="M0 22.60l1 10 1-14 1-26h1l1-2 1 2 1-2 1-14 1-10 1-6h3l1-2 1 2 1-22h2l1-10h3l1 6 1 2h2l1 6h1l1-10 1 6h2l1-6 1-6 1-2h2l1 2h1l1 26h19l1-18h8l1-10 1-2 1-6h1l1-6h11l1-6h4l1-2h1l1 2h2l1-2h7l1 2 1 6h11l1 2h4l1-2h2l1-6 1 6h7l1 14 1 2h2l1-2 1-2h1l1-2 1-2h5l1 2h8l1-14h20l1 10h3l1-6h1l1-14h2l1-2h7l1 2h5l1-2h7l1 2h5l1 6h3l1-6h8l1-10h51l1 2h2l1 2h16l1 2h13l1-2h28l1-2h10l1-2h3l1 2h5l1-2h1l1 2h16l1-2h2l1 2h19l1-2h13l1 2h2l1-2h1l1 2h5l1-2h15l1 2h8l1-2h108l1 2h4l1-2h28l1 2h29l1-2h10l1 2h24l1-2h15l1 2 1-2h1l1-2h287l1 2h6l1-2h198l1 2h3l1-2h819"/>
<path vector-effect="non-scaling-stroke" stroke="#515151" d="M0 -18.02l1 6h2l1 18 1 18h1l1-10 1-2 1-2 1-6h1l1-2h1l1-6h1l1 10h1l1 2h1l1-2 1-10h2l1-2h1l1 6h2l1-18 1-2 1-2 1-2h1l1-2h1l1-14 1-2 1 2 1 6 1-6h3l1-14h3l1-2 1 2h9l1-2 1-2h3l1-2h10l1 2 1 6h1l1-2h6l1 6 1-6h2l1 2h1l1 6 1-6h2l1 2h4l1-2h1l1 2 1-6 1-2h4l1-2h2l1-6h1l1-14h2l1-14h1l1 2h8l1-10h1l1 6 1 6 1 2h3l1-2h4l1 2h1l1 6h2l1-2h5l1 2h1l1 2h1l1-2h5l1-2h3l1-2h2l1 2h11l1 2h4l1-10h4l1-2h5l1 6h13l1 2h1l1 2h1l1 2h4l1-2h1l1-2h3l1 2h3l1 6 1-2h9l1-18 1 2 1-2h3l1 2h3l1 6h8l1-6h2l1-2h2l1 2h8l1-2 1-6h18l1 2 1-2h18l1 2h5l1-2h10l1 10h14l1-2h14l1-6h14l1-2h62l1 6h2l1-2h55l1-2h4l1-2h47l1 2h57l1-2h32l1 2h3l1-2h17l1 2h46l1-2h15l1 2h1l1-2h32l1 2h39l1-2h8l1 2h17l1-2h76l1 2h6l1-2h73l1 6h2l1-6h303l1 2h23l1-2h542l1 2h32l1 2h13l1-2h38l1-2h52"/>
<path vector-effect="non-scaling-stroke" stroke="#F14040" d="M0 -2.01l1-6 1-14 1 10 1-18 1-6 1-2h3l1 2 1 6h1l1-2h1l1 2 1 10h1l1 14h3l1-2h1l1-2 1-14 1 2h2l1 2 1 6 1-10 1-6h3l1-6h1l1-2h2l1-14 1-2h3l1 10h2l1-14h1l1 6h1l1-6h5l1-2h1l1-14h1l1-2 1 6h6l1 2 1-2h3l1 2h3l1-2h7l1 6h2l1 6h2l1 2 1 14 1-14h3l1-14 1 2h6l1-2h8l1 2 1-2 1 2h2l1-2 1-6 1 2h1l1 6h4l1-2h1l1-6h3l1 2h3l1-2h1l1-10h3l1-14h1l1 10h6l1 2h3l1-2h3l1-2h1l1 2 1 2h7l1-2h1l1 2h4l1-6 1 2h5l1-10h34l1-2h39l1 2h1l1 2h1l1-2h7l1-6h50l1 2h54l1-2h23l1 6h8l1-2h3l1-2h13l1 2h2l1-2h27l1 2h1l1-2h15l1 2h5l1 2h17l1-2h1l1 2h13l1-2 1-2h2l1 2h21l1-2h21l1-2h8l1-2h5l1-2h11l1-2h12l1-2h140l1 6h13l1 2h11l1-2h3l1 2h1l1-2h11l1-6h21l1 2h10l1 2h20l1-2h39l1-2h170l1 2h70l1-2h440l1 2h11l1-2h416"/>
<path vector-effect="non-scaling-stroke" stroke="#1A6FDF" d="M0 1.48l1-6 1-6h1l1 6 1-2h1l1-2 1-2 1 6h1l1 2 1-6 1-22h1l1-2 1 2h2l1-2 1 2 1-2 1-6h5l1-6h1l1-6h7l1-2h2l1-2 1 2 1-6h2l1-10h4l1-6 1-2 1 6h3l1-2h4l1 6h8l1-2 1-6h3l1 10h1l1 6 1 2h1l1 2h1l1-2h1l1 6h2l1-6h1l1 2 1-2h1l1-6h3l1-10h25l1-2h5l1 6 1 14h1l1-14 1-10h1l1 2h5l1 2h16l1-18h17l1 2h7l1 2h1l1-2 1 2 1 2 1 2h9l1-6h2l1 2h10l1-2h8l1 2h6l1-2h1l1 2h3l1-2h39l1 2 1 2h5l1 2h6l1 2 1-6h11l1 2h2l1-2h13l1-2h5l1-2h10l1-2h6l1-2h22l1 2h9l1-2h90l1 2h6l1-2h10l1 2h12l1-2h47l1 2h1l1-2h21l1 2h14l1 2h32l1-2h40l1 2h7l1-2h18l1-2h14l1-2 1-2h27l1 2h8l1-2 1 2h4l1-2h3l1-6h21l1-10h4l1 2h13l1-2h27l1 2h3l1-2h23l1-2h23l1 2h29l1-2h1100"/>
<path vector-effect="non-scaling-stroke" stroke="#37AD6B" d="M0 -19.44l1 2 1 2 1-10h1l1-18 1-22 1 2h1l1 2h1l1-10h1l1 2 1-2 1-10h5l1 2 1 6 1-2h1l1-6 1-2h5l1 6 1 14h4l1-18 1-10h1l1 10h1l1 14h5l1-14h8l1-6h8l1-14h2l1 10h4l1 2h4l1 2h6l1-2h5l1-2h11l1 6h6l1 6h4l1 2h5l1-2h1l1 2h10l1 2h3l1-2h9l1-2h2l1 2h1l1-2h2l1-6 1-2h30l1 10 1-10h2l1-6h10l1-2h1l1-2h11l1-2h2l1 2h3l1 2h6l1 2h6l1-2 1 2h6l1-2h16l1 2h2l1-6 1 2 1 14h3l1-6h41l1-10h7l1-2h2l1 2h5l1-6h28l1-2h10l1-2h81l1 6h6l1-2h3l1 2h7l1-2h1l1-2h5l1 6h7l1-2h3l1-2 1-2h7l1 2h37l1-2h22l1-2h103l1 2h13l1-2h24l1 2h23l1-2h5l1 6h32l1-2h11l1-2h1l1 2h23l1-2h30l1-2h4l1-2h15l1-2h3l1-2h14l1-2h1121"/>
<path vector-effect="non-scaling-stroke" stroke="#B177DE" d="M0 -10.41l1-6h1l1-6 1-6h2l1 2h1l1 10 1 6h4l1-2 1 2 1-10 1-2 1 2 1 2 1 2 1 2 1-10 1 2h1l1-6h2l1-10 1-10h1l1-2h7l1 14 1-6 1 6h3l1-6h1l1-2 1-2 1-6 1-14h6l1 2 1-2h5l1 10 1-14h2l1-6 1 2h7l1-6h9l1-2 1-2h1l1-2 1-2h4l1-2h4l1 6h6l1-2h17l1-6 1-2h2l1-10h10l1-6h7l1 6 1 10h4l1-10h10l1-2 1-2h6l1 2h14l1-2 1 2h8l1-6h27l1-2 1-2 1-2h23l1 2h3l1 10h6l1-2h3l1 2h3l1-10h19l1 10h2l1-2h5l1-6h4l1-2h13l1 2h24l1-2h2l1-2h148l1 2h35l1-2h81l1 2h2l1 2h16l1-2h15l1 2h5l1-2h18l1 2h18l1-2h176l1 2h5l1-2h4l1-2h105l1 2h10l1-2h248l1 2h17l1-2h732"/>
<path vector-effect="non-scaling-stroke" stroke="#CC9900" d="M0 1.96h1l1-10 1 10h3l1-10 1-10h3l1-2 1-14 1-10 1 2 1 2 1-6 1 6 1-14h1l1-2 1-6h4l1 10 1 6 1-6h1l1 6h2l1-10h1l1-10h1l1-6h2l1 2h7l1-2h3l1-2 1-2h1l1 6h17l1-2 1-14 1-10h3l1 2h2l1 2h2l1 2 1-6h1l1-2h16l1 2h2l1-2h2l1-6h4l1-2h3l1 6h5l1-6h8l1-2h1l1 2h1l1-2 1 10h1l1 10 1-6h3l1-6h17l1 6h3l1-6h1l1 2h1l1 6h5l1-10h8l1 2h1l1 2h1l1 10h3l1-6h6l1-6h16l1-6h2l1-6h25l1 2h2l1-2h3l1 2 1-2h3l1 2h1l1-2h3l1 2h7l1 6h21l1-6h1l1-2h15l1-6h16l1 6h12l1-6h307l1 2h16l1 2h5l1-2h38l1 2h8l1-2h5l1 2h3l1 2h14l1-6h207l1 2h1l1-2h1040"/>
<path vector-effect="non-scaling-stroke" stroke="#00CBCC" d="M0 10.03l1-2 1-6 1 6 1 2 1-6h1l1-14 1-14h1l1-2 1-6h7l1-22 1 2h1l1-2h1l1 6 1 10h4l1-10 1-2 1-2 1-6 1 2 1 2h3l1 2h3l1-2 1 2h1l1-2 1-14 1 2h1l1-10h5l1-6h5l1 6h2l1 2 1-10h3l1 6h2l1-2h7l1-6h2l1 6h2l1 10h4l1-2h5l1-2h6l1-2h6l1 14 1-2h4l1-6h7l1-2h6l1 2h1l1-2h2l1-14h2l1 6h12l1 10 1-2h5l1-6 1 6h1l1-6h1l1-6h2l1-6h2l1-2h1l1 6h2l1-6h5l1 2h6l1-2h25l1 2h8l1-2 1-6h7l1 6h7l1-2 1 2 1-2h6l1-2h5l1-6 1-2h21l1-2h24l1 2h18l1 2h2l1 2h4l1 2h8l1 2h1l1-2h6l1-2h9l1 2h5l1-2h98l1 2h25l1-2h6l1 2h20l1-2h11l1 2h8l1-2h3l1-2h16l1-2h9l1-2h160l1 2h31l1-2h155l1 2 1-2h280l1 2h2l1-2h317l1 2h6l1-2h470"/>
<path vector-effect="non-scaling-stroke" stroke="#7D4E4E" d="M0 -13.78l1 2 1-2 1 2 1-2h1l1-6 1 2 1 10 1-10 1-2h1l1-38h1l1-2h3l1-14h2l1 2h1l1-10 1 2h6l1-14h1l1 2 1 6h3l1 6h4l1 6 1-14 1-2h1l1 2h2l1-2 1-2h4l1-10 1 2h9l1 6h2l1-6h3l1-2h4l1 2h14l1-2h5l1-10h3l1-2h41l1 2h3l1-2h9l1 2h21l1-2h9l1 2h7l1-2 1 2h5l1-2h3l1 2h1l1-2h14l1 6 1 6 1 2h12l1-2h12l1-6 1 2h32l1-2h10l1-2h19l1 2h9l1 2h9l1 2 1 2h1l1 2h1l1-6h10l1-6h9l1-2h47l1 2h12l1-2h26l1 2h7l1-2h17l1 2h5l1-2h52l1 2h20l1-2h104l1 2 1-2h10l1 2h2l1-2h32l1 2h1l1-2 1 2h9l1-2h7l1 2h3l1-2h20l1 2h10l1-2h4l1 2h12l1-2h10l1 2 1-2h1l1 2h15l1-2h6l1-2h175l1 2h27l1-2h163l1 2h7l1-2h798"/>
<path vector-effect="non-scaling-stroke" stroke="#8E8E00" d="M0 49.73h1l1 2 1-10 1-10 1-2 1-10 1-2 1 2 1-2 1-10 1-6 1-2 1-6 1-10 1-2h2l1 2 1-2h3l1-2h7l1 6h1l1-6h1l1-2h1l1-10h2l1-22h3l1-6h3l1-2h2l1 2h3l1-2h1l1 2h1l1 10h1l1-6h4l1-10 1 2h1l1-2h1l1-10h6l1-2h1l1-2h3l1-2 1 2h5l1 2 1-2h5l1 2h3l1-2h3l1-2h1l1-10 1-2h1l1-2h1l1 2h1l1-6h14l1-6h25l1 14h5l1-6h1l1-2h2l1-6h11l1-2h6l1-6h6l1 6h2l1-6 1-2h1l1 2h26l1-2h3l1 2h5l1-2h25l1 2h13l1-2h11l1 2h3l1 6h5l1 2 1 2h6l1 2h2l1 2h7l1 2h5l1-2h8l1-6h4l1 2h28l1 2h7l1-2h4l1 2h22l1-2h25l1-6h1l1 6h18l1-6h17l1-2h19l1 2h9l1-2h14l1-6h659l1 2h1l1 2h7l1-2h39l1-2h130l1 2h35l1-2h611"/>
<path vector-effect="non-scaling-stroke" stroke="#FB6501" d="M0 20.31l1-10 1 6 1-6 1 2 1 6 1 6 1 2 1-10 1 6 1-2h1l1-18 1 2 1 2h2l1-18 1-10h3l1 6h1l1-14 1 6 1 10h2l1-2 1-2h1l1-2 1 14 1-6h4l1-26 1-10h5l1-10h1l1-2h4l1 2h2l1-18h19l1 2h2l1-18h5l1 6h8l1 2h2l1 2h9l1 10h4l1 2h2l1-18h1l1 6h4l1-6h10l1-2h1l1 2h2l1-6h3l1-6h6l1 6h16l1-2h6l1-2h3l1-2 1-2h1l1-2h4l1 2h7l1-14h7l1 10 1-2h8l1 6h6l1 6 1-6 1-2h11l1-2h4l1-2 1 2h3l1 6h19l1-6h11l1-2h23l1-2h8l1 2 1-2h2l1-6h11l1 10 1-2h5l1-2h4l1-2h7l1-6h61l1 6h3l1-6h107l1 2h4l1 2h6l1-2h3l1-2h12l1 2h2l1-2h1l1 2h3l1-2h181l1 6 1-6h155l1 2h22l1-2h423l1 2h34l1-2h228l1 2h172l1-2h222"/>
<path vector-effect="non-scaling-stroke" stroke="#6699CC" d="M0 34.98h1l1-14 1-22 1-2h1l1-6 1-6 1-14 1-2 1-6h4l1-2h1l1 6h1l1-14 1 2h1l1-2 1 6h1l1-6h1l1-10 1-2h5l1 10h2l1-2h3l1 2 1 2 1-10h6l1-10 1-6h3l1 2h5l1 2 1 2h4l1 2h1l1-2h2l1 10 1 2h1l1-6h1l1-10 1-6h5l1 2h6l1-2 1-2 1 2 1 2h7l1-6h6l1-10 1 2h10l1-10 1 6h3l1-6 1-2h2l1-10h26l1-2h4l1-2h33l1 6h5l1-6h35l1 2h4l1-2h4l1 2h10l1-2h8l1 2h6l1-2h28l1-2h105l1 6h24l1-2 1-2h7l1 2 1-2h10l1-2h55l1 2h19l1-2h34l1 2h20l1-2h22l1 2h34l1-2h317l1 2h57l1 2h3l1-2h57l1 2 1-2h12l1-2h36l1 2h15l1-2h849"/>
<path vector-effect="non-scaling-stroke" stroke="#6FB802" d="M0 -7.81l1-10 1-6h6l1-22 1-2h1l1 6 1-6 1-6 1-6h2l1 10 1-10h3l1-2h3l1 6 1-18h1l1 10h3l1-10 1-2h1l1 10h14l1-14h8l1-2h6l1 14h3l1-14 1-10h7l1-6h2l1-6h5l1-2 1 2h3l1 6h1l1-14h2l1-2h18l1 2h6l1-2h1l1 2h4l1-2h3l1 2h5l1 6 1-6h13l1-2h13l1 2h6l1-2h1l1 2h9l1-2h19l1 10 1 6 1-6 1-2h20l1 2h4l1-2h8l1 2 1 2 1-2h35l1-10h8l1 2h35l1-2h6l1 2h2l1-2h5l1 2h9l1-2 1 2 1-2h16l1 2h27l1-2h35l1 10h39l1-2h5l1 2h10l1-2h8l1 2h3l1-2h22l1-6h30l1-2h42l1 2h4l1-2h69l1 2h6l1-2h74l1 2h12l1-2h13l1 2h21l1-2h7l1 2h21l1-2h56l1 2h6l1-2h132l1 2h8l1-2h3l1 2h5l1-2h11l1 2h6l1 2h7l1-6h913"/>
<path vector-effect="non-scaling-stroke" stroke="#515151" d="M0 4.58l1 2h1l1 2 1-2 1-14 1-14h1l1-6 1-6 1 2 1-2 1-6 1-6h2l1 6h1l1 6 1-2h2l1-2h1l1-2h2l1-2h1l1 2 1 2h1l1 2h2l1 2 1-2 1-2 1-2 1-10 1 2 1 2 1-14h2l1-6 1 10 1-10h5l1-2h6l1 6h1l1-2h1l1 14 1 6 1-6h1l1 2 1-6h2l1 10h1l1-6h3l1-18h1l1-2h3l1-6h10l1-2 1-6h7l1 2h13l1 2h5l1-2h1l1-2h5l1 10h1l1-2h2l1-6h3l1-6h16l1-2h2l1 2 1-2h6l1 2h2l1-2h17l1 2h9l1-2h1l1 2h6l1-2h10l1 6h1l1-6h4l1 2h1l1-2 1 2h1l1-2h2l1-6h2l1-6h23l1 2h1l1-2h6l1 2h2l1 2 1 2h5l1-2h6l1 2h5l1-2h1l1-2h1l1-2h15l1 2h1l1-2h6l1 2h5l1-2h2l1 2h4l1 6 1-6h3l1-10 1-6h8l1 6 1 2h5l1-2h21l1 2h3l1 2h11l1-2h2l1 6h2l1-6h10l1-2h6l1-2h18l1-2h21l1-2h34l1 2h52l1-2h213l1 2h9l1-2h240l1 2h54l1-2h22l1 2h35l1-2h871"/>
<path vector-effect="non-scaling-stroke" stroke="#F14040" d="M0 -20.29h3l1-2h1l1-6 1-2h1l1 2h2l1-6 1-6 1-2 1-14h5l1 2h1l1 2h1l1 2 1 2 1 14 1 2h1l1 2 1-6h7l1 2 1-10 1-6h3l1-2 1 6h3l1-6h1l1-2 1 14h1l1-6 1-6 1-6h2l1-6 1-2 1 18 1-14h2l1 6h1l1-2 1-22h1l1 6h1l1-6h4l1-2h7l1-6h4l1 6h1l1-6h1l1 6h2l1-2 1 2h1l1-10h3l1 10h4l1 2h9l1-2 1 2h17l1 2h4l1 2 1 2 1-10 1-2h14l1 2h1l1-2h3l1 2 1-6 1 6 1-2h4l1 2h1l1-2h6l1-10h42l1 6h1l1-2h3l1 6h7l1-2h1l1 2h2l1-2h5l1-2h4l1 2h1l1-2 1-6h2l1 2h18l1 2h10l1-2h4l1-6h41l1 2h17l1 2h8l1 10h1l1-2h2l1 2 1-2h2l1 6h2l1-2 1-6h12l1-2 1-2h3l1-2h2l1 2 1-2h4l1-2h13l1-6h10l1 6h8l1 2h8l1-2h3l1-6h1545"/>
<path vector-effect="non-scaling-stroke" stroke="#1A6FDF" d="M0 26.03h1l1-18 1-6 1 6 1 2 1-6 1 6 1 10 1-6 1-6 1-2h1l1 2 1-2 1-2 1-2 1 6h1l1-10 1-6h1l1-26 1-6h2l1 14 1-6h1l1-18h3l1-10 1 2h1l1 2 1-2h13l1 2h1l1-6h2l1 2h3l1-6h4l1-2h3l1-2h2l1-2h6l1-2 1 2h1l1-2 1 6 1-6h5l1 6h3l1-14h2l1-6h2l1-2h2l1-2h1l1 2 1-6h2l1 6h4l1 2h4l1 6h4l1-2h13l1 2h3l1 2h2l1-2h10l1 2h5l1-2h7l1 2h6l1 6h3l1 6h3l1-2h3l1-2 1-2 1-6h14l1 2h4l1-2h18l1-2h8l1-2h2l1 2 1-6h11l1 2h1l1-10h3l1 2h8l1 2h11l1-6h13l1 14h14l1-2h6l1 6 1-14h11l1-2 1 6 1-2h1l1-2h6l1-2h9l1 2h1l1-2h50l1 2h21l1-2h14l1-2h1l1-6h12l1-2h82l1 2h39l1 6h19l1-6h15l1-2h46l1 2h10l1-2h5l1 2h19l1 2h18l1-2h20l1-2h182l1 2 1-2h20l1 2h91l1-2 1 2h29l1-2h103l1 2h18l1-2h112l1 2h64l1-2h307l1 2h26l1-2h296"/>
<path vector-effect="non-scaling-stroke" stroke="#37AD6B" d="M0 7.15l1-2 1 6 1-2 1-2 1-30 1-6h1l1-2 1-2h2l1-10h2l1 2h4l1 10 1-2 1 6h2l1-14h1l1-2 1-2h1l1 10 1-6h2l1-10h2l1 2 1 2 1-6 1-6h1l1-2h4l1-2 1-6h2l1-2 1 2h2l1-2h1l1-10h1l1-2h9l1-10h7l1 6 1-2h3l1 14 1 2 1-6h1l1 10 1 10 1 2h5l1-6h2l1-18h6l1-2h4l1 2 1-2h7l1-6h4l1 2 1 2 1-14h12l1-6h11l1 6h9l1 6h15l1-6h2l1 2h2l1 2h2l1-2 1-2h3l1 6h18l1-10h23l1 6h1l1 2h7l1-10h26l1 6h12l1 2h19l1 6 1-6h36l1 2h9l1 2h4l1-2 1 2h2l1-2h1l1 6h5l1-6h1l1 2h8l1 2h1l1-6h1l1-2h19l1 2h16l1-2h11l1-2h44l1-2h8l1 2h10l1 2h4l1-2h34l1-2h1l1-2h8l1-2h1l1-2h60l1 2h5l1-2h30l1 2h2l1 2h10l1 2h6l1-6h4l1-2h19l1-6h6l1 2h8l1-2h18l1 2h19l1-2h135l1 2h24l1-2h25l1 2h20l1-2h55l1 2h26l1-2h960"/>
<path vector-effect="non-scaling-stroke" stroke="#B177DE" d="M0 -14.30l1-18h2l1-6h1l1-6 1 6 1-14h2l1-2h2l1-14h1l1-6 1 2 1 2h1l1 2h6l1-2 1 2h1l1 2h6l1 2 1-2h1l1-6h4l1 6h1l1 2 1 2h1l1-2h1l1-18h5l1 2h5l1-2h2l1-2 1 2h3l1 2h1l1-2h4l1-6h3l1-6 1 2h8l1 6 1-6h2l1 2h3l1-6h4l1-6 1 2 1-2h4l1 2h1l1 2h4l1-6h2l1-2h7l1-6h11l1-2h15l1 6h4l1 6h3l1 2 1-2h1l1-6 1-6h22l1 2h1l1 6h1l1 14h1l1-2h1l1 2h4l1-2 1 6 1 2h4l1 2 1-2h3l1-10h5l1-2 1-2h6l1-2h14l1-10h12l1-2h12l1 2h7l1-2h20l1 2h45l1-2h54l1 2h19l1-2h86l1 2h9l1-2h49l1 2h12l1-2h17l1 2h9l1-2h13l1 2h19l1-2h31l1 2 1-2h3l1 2h5l1-2h41l1 2h16l1-2h89l1 2h19l1-2h13l1 2h8l1-2h27l1 2h4l1-2h53l1 2h12l1-2h19l1 2h10l1-2h26l1 2h16l1-2h108l1 2h3l1-2h95l1 2h14l1-2h4l1-2h95l1 2h33l1-2h281l1 2h40l1-2h261"/>
<path vector-effect="non-scaling-stroke" stroke="#CC9900" d="M0 25.48l1-6 1 2h1l1-14 1-34 1-2 1-14h2l1-2 1-18 1-2h1l1 6 1 6h2l1-6 1 2 1-10h4l1 2 1 10h1l1-2 1 2 1 10h1l1-6 1 2h1l1-10h1l1 2 1 2h2l1-10h8l1 6h1l1-6 1 2 1 10h3l1-10h4l1-14h4l1-2 1-2h1l1-6h18l1 6h5l1-14h1l1 2 1-6h3l1 6h7l1-2h25l1 2 1 6h2l1 2 1-2h1l1 6h3l1-6h1l1-6 1 2h7l1-2h7l1 6h6l1 6h4l1 6h2l1-6h13l1-2h4l1-2h17l1-6h18l1-2h5l1-6h24l1-2h57l1 2h43l1 2h2l1 2h6l1-6h15l1 6h5l1-2h11l1 2h1l1 6h3l1 2 1-2h6l1-6h6l1 2h2l1 2 1-2h16l1 2h1l1-2h28l1 2h11l1-2h34l1-6h5l1 2 1-2h47l1-2h39l1 2h51l1 2h3l1-2h27l1-2h17l1 2 1-2h1l1 2h44l1 2h43l1 2h4l1-2h7l1 2h4l1-2 1 2h2l1-2h13l1 2h5l1-2h18l1-2h48l1-2h9l1-2h4l1-2h10l1-2h24l1-2h2l1-6h8l1 2h21l1-6h5l1 2h19l1-2h312l1 2h12l1-2h629"/>
<path vector-effect="non-scaling-stroke" stroke="#00CBCC" d="M0 -10.39l1-10 1-2 1-22h1l1-2h1l1-10 1 2 1 2h8l1-2h3l1 2 1-2h2l1 6 1 10 1-18h2l1 22 1-6h1l1-2h3l1-6h2l1-10h1l1 14h2l1 6h3l1 10 1-14 1-10 1-2h2l1 2 1-2 1 10h1l1 2h9l1-2h1l1 2 1-10h6l1-6 1-14h3l1-2h10l1 10h9l1-2 1-14 1 6h4l1-2h8l1-10h10l1-6h1l1 2h2l1 2h3l1 2h1l1-2h4l1 2 1-6h8l1-2h3l1-2h1l1-2 1-10h5l1-6h4l1 2h10l1-2h17l1 2h14l1-2h13l1 6h12l1-2h13l1 2h15l1 6 1 2h2l1-2h2l1-10h1l1-2h46l1 2h8l1-2h24l1 2h24l1 2h14l1-6h179l1 2h3l1-2h124l1 2h2l1-2h46l1 2h48l1-2h29l1 2h30l1 2h34l1-2h2l1-2h1085"/>
<path vector-effect="non-scaling-stroke" stroke="#7D4E4E" d="M0 26.55h2l1-6 1-14 1 2 1-6 1-2h1l1-14 1 6h1l1-2 1 14 1 2 1-10 1-14 1 2 1-10 1-2 1-18 1 2 1-2h3l1 2h1l1 10 1 6 1 10h1l1-2 1 2 1-10 1-14h4l1-6 1 6 1-10h1l1 2 1-6h4l1 2 1-2h3l1 2h1l1 10 1-18h1l1-10h2l1-6h1l1 2h4l1-10h5l1-2h7l1-6h2l1 10 1 6 1-2h7l1-2h2l1 2 1-2 1-6 1-2h2l1 2h1l1-2h2l1 6h1l1-6h7l1-2h2l1 10 1-2h5l1-14h4l1 2h1l1-10h1l1-10 1-2 1 6h20l1 2h8l1-2h5l1 2h1l1 6h1l1-10h10l1-2h1l1 2h8l1-2h9l1 2h2l1 2h1l1 2h10l1-6h28l1 2 1-2h6l1 2h1l1-2h4l1 2h9l1-2h1l1 2h2l1-2h8l1 2h2l1-2 1 2h7l1-2h6l1 2h1l1-2h47l1 2h6l1-2h32l1 2h1l1-2h17l1 2h10l1-2h21l1 2h16l1-2h94l1 2h22l1-2h24l1 2h3l1-2h71l1 2h1l1-2h16l1-2h226l1 2h9l1-2h193l1 2h9l1 2h6l1-2h12l1-2h76l1 2h14l1 2h23l1-2h28l1-2h679"/>
<path vector-effect="non-scaling-stroke" stroke="#8E8E00" d="M0 25.30l1-18 1-10h2l1-6h2l1 10 1 2 1-10 1 2 1-2h1l1-10 1-2 1 2 1-10 1 2h1l1-2 1 18 1-6 1 2 1-10 1-2h2l1 6 1-6 1-2h3l1-18h5l1-2h1l1-6h1l1 6h1l1-6h2l1-2h1l1 2 1-14 1-6h2l1 6h4l1-6h3l1 2 1 14h7l1-2h1l1 2 1 2h1l1-2 1-2 1 2 1-2 1 2h2l1-14h3l1 6h3l1-2 1-10 1 6h1l1-2h2l1-2h5l1-2h4l1-2h4l1 2 1-10h1l1-10 1-2h3l1-6h1l1-2h15l1 2h8l1 6h5l1-6h3l1 6 1-6h19l1-2h2l1 2h8l1-2h2l1-6h4l1-2h2l1 2h11l1 6h2l1-2h5l1-2h8l1 2h10l1-2h26l1-6h50l1 2h4l1-2h44l1 2h30l1 2h37l1-2h16l1 2h2l1-2h24l1-2h158l1 2h13l1 2h1l1-2h4l1 2h1l1-2h16l1 2h1l1-2h6l1-2h1303"/>
<path vector-effect="non-scaling-stroke" stroke="#FB6501" d="M0 -6.42l1-14h3l1 6 1-2h1l1 22 1 2 1-2h1l1-14 1 2h1l1-2 1-14 1 2 1 2 1-22h1l1-22 1 14 1-14h2l1-6h5l1-18h5l1-14 1 10 1-6h3l1-2h1l1 2h5l1-2 1 2h11l1 6 1-14h3l1 6 1-2h1l1-2h8l1 2h4l1-6h3l1 6h7l1-2h1l1 2h6l1-2h6l1 10h5l1-10 1-2h18l1-2h8l1 2 1 6h4l1-2h2l1-2h5l1 2h2l1-2h3l1-6h16l1-6h9l1 2h22l1-2h40l1 2h6l1-2h4l1 6h28l1-6h2l1 2h4l1-2h18l1 2h1l1-2h37l1 2h23l1-2h9l1 2h56l1-2h51l1 2h10l1-2h52l1 2h21l1-2h81l1 2h14l1-2h18l1 2h11l1-2h14l1 2h3l1-2h3l1 2h1l1-2h40l1 2h13l1-2h3l1-2h48l1 2h11l1 2h18l1-2h14l1-2h1093"/>
<path vector-effect="non-scaling-stroke" stroke="#6699CC" d="M0 19.58l1 2h2l1-14 1-6 1-6h2l1-2 1 2h2l1 6 1-2h2l1-2 1-14 1-2 1 6 1-6 1 2h3l1 2 1-2 1-2 1-2h2l1-2h1l1 6h3l1-14 1-26h1l1-6 1-6 1-2h3l1 2h3l1 2h1l1 2 1 6h2l1-6 1-6h4l1 2 1-2h14l1-6h4l1-2h5l1 2 1-2 1-2 1 2h1l1 2h1l1-10h2l1 6 1-2h4l1-2h5l1 2h12l1-6h7l1-2 1-2h3l1 2h2l1-2h2l1 6h8l1-6h9l1 2h9l1 2h7l1 2h3l1-6h14l1-2h1l1-2h3l1-2h20l1-6h12l1-6h19l1-6h54l1 2h1l1-2h23l1 2h52l1-2h80l1 6h25l1-6h26l1 2h20l1 2h18l1 2 1-2h2l1-2h31l1 2h4l1-2h4l1 2h1l1-2h14l1 2h14l1-2h13l1 2h1l1-2h46l1 2h16l1-2h47l1 2h49l1-2h53l1 2h2l1-2h8l1 2h17l1-2h265l1 2h5l1-2h5l1 2 1-2h29l1 2h2l1-2h2l1 2h4l1-2h41l1 2h23l1-2h25l1 2h18l1-2h9l1 2 1-2h88l1 2h25l1-2h37l1 2h13l1-2h130l1 2h14l1-2h43l1 2h11l1-2h24l1-2h256"/>
<path vector-effect="non-scaling-stroke" stroke="#6FB802" d="M0 13.08l1 2 1 10 1-14 1-10h2l1 2 1-10 1-6 1-6h2l1-10h2l1-18 1-2 1-2 1 2 1 6 1-6h2l1 10 1 10 1 2 1 14h3l1-18h1l1-6h2l1 6h3l1-10h1l1-2h1l1 6h1l1-2h3l1-2h2l1 6 1-18 1-2h6l1 14h4l1-14 1 14 1-2h2l1-2h1l1-2h1l1 2h2l1-6h1l1 2h7l1 2h1l1-18 1-2h7l1 6 1-10 1-2 1-2h1l1-6h1l1-2h1l1-10 1-2h7l1-10h29l1 6h3l1-6h32l1-10h2l1 6h17l1 6 1-6h1l1-2h8l1-2h6l1-2h17l1 2h18l1 2h10l1 2 1-2h25l1-6h365l1 2h6l1 2h3l1-2h33l1 2h24l1-2h82l1 2h26l1-2h3l1-2h245l1 2h31l1-2h596l1 2h15l1-2h152l1 2h18l1-2h87"/>
<path vector-effect="non-scaling-stroke" stroke="#515151" d="M0 3.19h1l1 2 1-2 1 2 1-2 1-18h1l1-10h1l1 2h1l1 2h6l1-6 1-6h4l1-10 1-6h2l1 2 1-6h1l1-2 1 14h2l1-6h6l1 2 1 6 1 6 1-6 1 2h2l1-14 1-6h5l1-2h1l1 2 1-2h4l1-6 1-2h3l1 2h1l1-10h1l1-10 1 10 1-2h3l1 6h1l1-2 1-2 1-2h1l1 6 1-2h1l1-2h3l1-6 1 2h1l1-6h1l1-2h3l1 2h1l1-2 1 2 1-6h5l1 10h5l1 2h2l1 2 1 2 1-2h2l1-6 1-6h8l1 6 1 2h7l1 2h9l1 2h3l1-14 1-6h1l1-6h1l1-2h12l1-10h10l1 2h15l1 10h3l1-6h94l1 18h4l1 2h3l1-14h23l1 2h6l1-2 1-2h24l1-2h4l1-10h2l1 6h2l1 6h7l1-2h39l1-10h50l1 2h17l1-2h1l1 2 1-2h95l1 2h110l1-2h1293"/>
<path vector-effect="non-scaling-stroke" stroke="#00CBCC" d="M0 -16.03l1-2 1 2h2l1-2h2l1 14 1 10 1-6h4l1-14 1 6h2l1-2 1 2 1-2 1-2h2l1-6 1-10h2l1-14h1l1-2 1 2h3l1-2h1l1 2 1-2 1 2h3l1-2h1l1-6h4l1 2h1l1-2h1l1-2h3l1-2 1 2h4l1 2h1l1 6h2l1 2 1-6 1-2 1-10h2l1 10h1l1 2 1 6h2l1-14h1l1 2h2l1 2 1 2h10l1 6 1-2h3l1-6h2l1 2h2l1 2h2l1-2h2l1 2h3l1-6h1l1 6 1-6h2l1 2h2l1-10 1-2 1 2 1-10h5l1-2 1-2h4l1 10h6l1-2h1l1 2 1-10h2l1-2h1l1 6h2l1-6 1-2h2l1-6h1l1-2h4l1-2h1l1-2h2l1 2h14l1 6h12l1-6h6l1-2h17l1 2h10l1-2h9l1 2h1l1 2h3l1 2 1 2h4l1 2 1-14h11l1 2h40l1 2h2l1-2 1-2 1 2h8l1-2h7l1 2h13l1-2 1 2h7l1-2h2l1 2h10l1 2 1-2h8l1 2h21l1-2h9l1-2h28l1 2h66l1-2h20l1 2h1l1 2h2l1-2h20l1-2h26l1 2h47l1-2h109l1 2h21l1-2h262l1 2h60l1-2h20l1 2h12l1-2h219l1 2h135l1-2h517"/>
<path vector-effect="non-scaling-stroke" stroke="#1A6FDF" d="M0 -25.02h2l1 14 1-2 1-2h1l1 2 1-2 1-2h2l1-10 1-6h1l1-6h3l1 2 1-6 1 6h2l1 14 1-10 1-18h3l1 6h4l1-2 1 2 1-2 1-14 1-2 1-2h1l1 2h1l1-2h3l1-6h1l1 2h8l1-2h1l1-2h1l1 2 1-2h4l1-2 1 2 1 6 1 6h2l1-2h7l1-6h4l1-2h7l1 2 1-10h1l1-6h1l1-10h3l1-2h6l1 2h7l1-2h2l1 6h1l1-10 1 6h10l1-2h3l1-2h1l1-2 1 2 1-2h7l1-2 1-6 1 6h1l1 2 1-2 1 10h3l1-10 1 2 1-2h1l1-6h15l1-2h8l1-6h13l1 2h30l1 2h11l1 6h7l1-6h4l1-2h10l1 2h5l1-2h6l1 2h49l1-2h2l1 2h10l1-2h13l1 2h13l1 2h15l1 2h15l1-2h19l1-6h36l1 2h3l1 2h23l1-2 1 2h8l1-2h3l1 2h1l1-2h1l1-2h12l1 6h61l1-6h197l1 2h25l1 2h7l1-2h2l1 6h12l1-2h15l1 2 1-2h1l1-6h134l1 2h5l1-2h103l1 2h5l1 2h18l1-2h6l1 2h9l1-2h1l1 2h12l1-2h58l1 2h3l1-2h28l1 2h1l1-2h372l1 2h8l1 2 1-6h366"/>
<path vector-effect="non-scaling-stroke" stroke="#37AD6B" d="M0 -2.27h2l1-18 1-2 1-6 1 2 1-18h1l1 2h2l1-2h4l1 10h3l1-2 1-6h2l1-6 1-6 1 6h1l1 6 1-2h1l1 6 1-2 1-6 1 2h2l1 2 1 6h2l1-10h2l1-2h1l1 2h1l1-2 1-2 1-2h2l1-10h2l1-2 1 10 1-2h1l1 6 1-18h5l1-2 1 6h4l1-14h2l1 2 1-10h2l1-2h5l1 10h3l1-2 1 10h3l1-10 1 2 1-2h3l1-14h3l1 6h8l1-6 1-6h3l1 2h1l1-2h2l1 2h1l1-2h4l1 6h5l1-10 1 2h1l1-2h20l1 2h6l1-2h5l1 2h24l1-2h4l1-6h1l1-2h6l1 6h7l1-6h17l1 2h7l1 6h17l1 2h3l1-10h5l1-2h15l1-2h8l1-2h41l1 6h2l1-6h183l1 2h4l1-2h28l1 2h35l1 10h4l1-10h5l1-2h1389"/>
</g></g>
<path d="M106.9 1615.7H651.5" stroke="#000" stroke-width="4" stroke-dasharray="11.6 16.35" stroke-linecap="round" fill="none"/>
<clipPath id="cp4"><rect x="355.4" y="30.4" width="284.0" height="252.8"/></clipPath><g clip-path="url(#cp4)">
<g fill="none" stroke-width="1.2">
<path d="M497.4 50.4L535.1 56.1M497.4 50.4L497.4 282.2M497.4 50.4L459.7 56.1M497.4 50.4" stroke="#4a4aff"/>
<path d="M535.1 56.1L569.1 72.5M535.1 56.1L459.7 276.5M535.1 56.1" stroke="#4a4aff"/>
<path d="M569.1 72.5L596.1 98.2M569.1 72.5L425.7 260.1M569.1 72.5" stroke="#4a4aff"/>
<path d="M596.1 98.2L613.4 130.5M596.1 98.2L398.7 234.4M596.1 98.2" stroke="#4a4aff"/>
<path d="M613.4 130.5L619.4 166.3M613.4 130.5L381.4 202.1M613.4 130.5" stroke="#4a4aff"/>
<path d="M619.4 166.3L613.4 202.1M619.4 166.3L375.4 166.3M619.4 166.3" stroke="#4a4aff"/>
<path d="M613.4 202.1L596.1 234.4M613.4 202.1L381.4 130.5M613.4 202.1" stroke="#4a4aff"/>
<path d="M596.1 234.4L569.1 260.1M596.1 234.4L398.7 98.2M596.1 234.4" stroke="#4a4aff"/>
<path d="M569.1 260.1L535.1 276.5M569.1 260.1L425.7 72.5M569.1 260.1" stroke="#4a4aff"/>
<path d="M535.1 276.5L497.4 282.2M535.1 276.5L459.7 56.1M535.1 276.5" stroke="#4a4aff"/>
<path d="M497.4 282.2L459.7 276.5M497.4 282.2" stroke="#4a4aff"/>
<path d="M459.7 276.5L425.7 260.1M459.7 276.5" stroke="#4a4aff"/>
<path d="M425.7 260.1L398.7 234.4M425.7 260.1" stroke="#4a4aff"/>
<path d="M398.7 234.4L381.4 202.1M398.7 234.4" stroke="#4a4aff"/>
<path d="M381.4 202.1L375.4 166.3M381.4 202.1" stroke="#4a4aff"/>
<path d="M375.4 166.3L381.4 130.5M375.4 166.3" stroke="#4a4aff"/>
<path d="M381.4 130.5L398.7 98.2M381.4 130.5" stroke="#4a4aff"/>
<path d="M398.7 98.2L425.7 72.5M398.7 98.2" stroke="#4a4aff"/>
<path d="M425.7 72.5L459.7 56.1M425.7 72.5" stroke="#4a4aff"/>
</g>
<g fill="#000"><circle cx="497.4" cy="50.4" r="4.2"/><circle cx="535.1" cy="56.1" r="4.2"/><circle cx="569.1" cy="72.5" r="4.2"/><circle cx="596.1" cy="98.2" r="4.2"/><circle cx="613.4" cy="130.5" r="4.2"/><circle cx="619.4" cy="166.3" r="4.2"/><circle cx="613.4" cy="202.1" r="4.2"/><circle cx="596.1" cy="234.4" r="4.2"/><circle cx="569.1" cy="260.1" r="4.2"/><circle cx="535.1" cy="276.5" r="4.2"/><circle cx="497.4" cy="282.2" r="4.2"/><circle cx="459.7" cy="276.5" r="4.2"/><circle cx="425.7" cy="260.1" r="4.2"/><circle cx="398.7" cy="234.4" r="4.2"/><circle cx="381.4" cy="202.1" r="4.2"/><circle cx="375.4" cy="166.3" r="4.2"/><circle cx="381.4" cy="130.5" r="4.2"/><circle cx="398.7" cy="98.2" r="4.2"/><circle cx="425.7" cy="72.5" r="4.2"/><circle cx="459.7" cy="56.1" r="4.2"/></g>
</g>
<path d="M390.3 300.4H452.4" stroke="#6464ff" stroke-width="1.1"/>
<path d="M527.8 300.4H589.6" stroke="#ff5050" stroke-width="1.1"/>
<text x="478.4" y="307.8" font-size="22.2" text-anchor="middle">-1</text>
<text x="610.3" y="307.8" font-size="22.2" text-anchor="middle">1</text>
<clipPath id="cp5"><rect x="355.8" y="605.3" width="282.8" height="254.9"/></clipPath><g clip-path="url(#cp5)">
<g fill="none" stroke-width="1.0">
<path d="M497.2 625.3L534.7 631.0M497.2 625.3L568.6 647.5M497.2 625.3L612.7 705.5M497.2 625.3L618.6 741.4M497.2 625.3L534.7 851.8M497.2 625.3L497.2 857.5M497.2 625.3L459.7 851.8M497.2 625.3L425.8 835.3M497.2 625.3L399.0 809.6M497.2 625.3L375.8 741.4M497.2 625.3L381.7 705.5M497.2 625.3L425.8 647.5M497.2 625.3L459.7 631.0M497.2 625.3" stroke="#ff0c0c"/>
<path d="M497.2 625.3L595.4 673.2M497.2 625.3L612.7 777.3M497.2 625.3L595.4 809.6M497.2 625.3L568.6 835.3M497.2 625.3L381.7 777.3M497.2 625.3L399.0 673.2M497.2 625.3" stroke="#0c0cff"/>
<path d="M534.7 631.0L568.6 647.5M534.7 631.0L612.7 705.5M534.7 631.0L612.7 777.3M534.7 631.0L595.4 809.6M534.7 631.0L568.6 835.3M534.7 631.0L497.2 857.5M534.7 631.0L425.8 835.3M534.7 631.0L399.0 809.6M534.7 631.0L381.7 777.3M534.7 631.0L375.8 741.4M534.7 631.0L381.7 705.5M534.7 631.0L399.0 673.2M534.7 631.0L459.7 631.0M534.7 631.0" stroke="#ff0c0c"/>
<path d="M534.7 631.0L595.4 673.2M534.7 631.0L618.6 741.4M534.7 631.0L534.7 851.8M534.7 631.0L459.7 851.8M534.7 631.0L425.8 647.5M534.7 631.0" stroke="#0c0cff"/>
<path d="M568.6 647.5L595.4 673.2M568.6 647.5L612.7 705.5M568.6 647.5L618.6 741.4M568.6 647.5L568.6 835.3M568.6 647.5L497.2 857.5M568.6 647.5L459.7 851.8M568.6 647.5L399.0 809.6M568.6 647.5L381.7 777.3M568.6 647.5L425.8 647.5M568.6 647.5L459.7 631.0M568.6 647.5" stroke="#ff0c0c"/>
<path d="M568.6 647.5L612.7 777.3M568.6 647.5L595.4 809.6M568.6 647.5L534.7 851.8M568.6 647.5L425.8 835.3M568.6 647.5L375.8 741.4M568.6 647.5L381.7 705.5M568.6 647.5L399.0 673.2M568.6 647.5" stroke="#0c0cff"/>
<path d="M595.4 673.2L595.4 809.6M595.4 673.2L497.2 857.5M595.4 673.2L425.8 835.3M595.4 673.2L375.8 741.4M595.4 673.2L381.7 705.5M595.4 673.2L399.0 673.2M595.4 673.2L459.7 631.0M595.4 673.2" stroke="#ff0c0c"/>
<path d="M595.4 673.2L612.7 705.5M595.4 673.2L618.6 741.4M595.4 673.2L612.7 777.3M595.4 673.2L568.6 835.3M595.4 673.2L534.7 851.8M595.4 673.2L459.7 851.8M595.4 673.2L399.0 809.6M595.4 673.2L381.7 777.3M595.4 673.2L425.8 647.5M595.4 673.2" stroke="#0c0cff"/>
<path d="M612.7 705.5L618.6 741.4M612.7 705.5L612.7 777.3M612.7 705.5L595.4 809.6M612.7 705.5L568.6 835.3M612.7 705.5L459.7 851.8M612.7 705.5L425.8 835.3M612.7 705.5L381.7 777.3M612.7 705.5L375.8 741.4M612.7 705.5" stroke="#ff0c0c"/>
<path d="M612.7 705.5L534.7 851.8M612.7 705.5L497.2 857.5M612.7 705.5L399.0 809.6M612.7 705.5L381.7 705.5M612.7 705.5L399.0 673.2M612.7 705.5L425.8 647.5M612.7 705.5L459.7 631.0M612.7 705.5" stroke="#0c0cff"/>
<path d="M618.6 741.4L595.4 809.6M618.6 741.4L568.6 835.3M618.6 741.4L497.2 857.5M618.6 741.4L459.7 851.8M618.6 741.4L425.8 835.3M618.6 741.4L399.0 809.6M618.6 741.4L381.7 705.5M618.6 741.4L425.8 647.5M618.6 741.4" stroke="#ff0c0c"/>
<path d="M618.6 741.4L612.7 777.3M618.6 741.4L534.7 851.8M618.6 741.4L381.7 777.3M618.6 741.4L375.8 741.4M618.6 741.4L399.0 673.2M618.6 741.4L459.7 631.0M618.6 741.4" stroke="#0c0cff"/>
<path d="M612.7 777.3L568.6 835.3M612.7 777.3L459.7 851.8M612.7 777.3L425.8 835.3M612.7 777.3L399.0 809.6M612.7 777.3L425.8 647.5M612.7 777.3L459.7 631.0M612.7 777.3" stroke="#ff0c0c"/>
<path d="M612.7 777.3L595.4 809.6M612.7 777.3L534.7 851.8M612.7 777.3L497.2 857.5M612.7 777.3L381.7 777.3M612.7 777.3L375.8 741.4M612.7 777.3L381.7 705.5M612.7 777.3L399.0 673.2M612.7 777.3" stroke="#0c0cff"/>
<path d="M595.4 809.6L534.7 851.8M595.4 809.6L459.7 851.8M595.4 809.6L375.8 741.4M595.4 809.6L399.0 673.2M595.4 809.6" stroke="#ff0c0c"/>
<path d="M595.4 809.6L568.6 835.3M595.4 809.6L497.2 857.5M595.4 809.6L425.8 835.3M595.4 809.6L399.0 809.6M595.4 809.6L381.7 777.3M595.4 809.6L381.7 705.5M595.4 809.6L425.8 647.5M595.4 809.6L459.7 631.0M595.4 809.6" stroke="#0c0cff"/>
<path d="M568.6 835.3L534.7 851.8M568.6 835.3L459.7 851.8M568.6 835.3L425.8 835.3M568.6 835.3L381.7 777.3M568.6 835.3L381.7 705.5M568.6 835.3L425.8 647.5M568.6 835.3" stroke="#ff0c0c"/>
<path d="M568.6 835.3L497.2 857.5M568.6 835.3L399.0 809.6M568.6 835.3L375.8 741.4M568.6 835.3L399.0 673.2M568.6 835.3L459.7 631.0M568.6 835.3" stroke="#0c0cff"/>
<path d="M534.7 851.8L399.0 809.6M534.7 851.8L399.0 673.2M534.7 851.8L459.7 631.0M534.7 851.8" stroke="#ff0c0c"/>
<path d="M534.7 851.8L497.2 857.5M534.7 851.8L459.7 851.8M534.7 851.8L425.8 835.3M534.7 851.8L381.7 777.3M534.7 851.8L375.8 741.4M534.7 851.8L381.7 705.5M534.7 851.8L425.8 647.5M534.7 851.8" stroke="#0c0cff"/>
<path d="M497.2 857.5L375.8 741.4M497.2 857.5L399.0 673.2M497.2 857.5L425.8 647.5M497.2 857.5" stroke="#ff0c0c"/>
<path d="M497.2 857.5L459.7 851.8M497.2 857.5L425.8 835.3M497.2 857.5L399.0 809.6M497.2 857.5L381.7 777.3M497.2 857.5L381.7 705.5M497.2 857.5L459.7 631.0M497.2 857.5" stroke="#0c0cff"/>
<path d="M459.7 851.8L381.7 777.3M459.7 851.8L381.7 705.5M459.7 851.8L399.0 673.2M459.7 851.8L459.7 631.0M459.7 851.8" stroke="#ff0c0c"/>
<path d="M459.7 851.8L425.8 835.3M459.7 851.8L399.0 809.6M459.7 851.8L375.8 741.4M459.7 851.8L425.8 647.5M459.7 851.8" stroke="#0c0cff"/>
<path d="M425.8 835.3L381.7 777.3M425.8 835.3L459.7 631.0M425.8 835.3" stroke="#ff0c0c"/>
<path d="M425.8 835.3L399.0 809.6M425.8 835.3L375.8 741.4M425.8 835.3L381.7 705.5M425.8 835.3L399.0 673.2M425.8 835.3L425.8 647.5M425.8 835.3" stroke="#0c0cff"/>
<path d="M399.0 809.6L459.7 631.0M399.0 809.6" stroke="#ff0c0c"/>
<path d="M399.0 809.6L381.7 777.3M399.0 809.6L375.8 741.4M399.0 809.6L381.7 705.5M399.0 809.6L399.0 673.2M399.0 809.6L425.8 647.5M399.0 809.6" stroke="#0c0cff"/>
<path d="M381.7 777.3L375.8 741.4M381.7 777.3L399.0 673.2M381.7 777.3L459.7 631.0M381.7 777.3" stroke="#ff0c0c"/>
<path d="M381.7 777.3L381.7 705.5M381.7 777.3L425.8 647.5M381.7 777.3" stroke="#0c0cff"/>
<path d="M375.8 741.4L381.7 705.5M375.8 741.4L399.0 673.2M375.8 741.4L425.8 647.5M375.8 741.4L459.7 631.0M375.8 741.4" stroke="#ff0c0c"/>
<path d="M381.7 705.5L459.7 631.0M381.7 705.5" stroke="#ff0c0c"/>
<path d="M381.7 705.5L399.0 673.2M381.7 705.5L425.8 647.5M381.7 705.5" stroke="#0c0cff"/>
<path d="M399.0 673.2L459.7 631.0M399.0 673.2" stroke="#ff0c0c"/>
<path d="M399.0 673.2L425.8 647.5M399.0 673.2" stroke="#0c0cff"/>
<path d="M425.8 647.5L459.7 631.0M425.8 647.5" stroke="#ff0c0c"/>
</g>
<g fill="#000"><circle cx="497.2" cy="625.3" r="4.5"/><circle cx="534.7" cy="631.0" r="4.5"/><circle cx="568.6" cy="647.5" r="4.5"/><circle cx="595.4" cy="673.2" r="4.5"/><circle cx="612.7" cy="705.5" r="4.5"/><circle cx="618.6" cy="741.4" r="4.5"/><circle cx="612.7" cy="777.3" r="4.5"/><circle cx="595.4" cy="809.6" r="4.5"/><circle cx="568.6" cy="835.3" r="4.5"/><circle cx="534.7" cy="851.8" r="4.5"/><circle cx="497.2" cy="857.5" r="4.5"/><circle cx="459.7" cy="851.8" r="4.5"/><circle cx="425.8" cy="835.3" r="4.5"/><circle cx="399.0" cy="809.6" r="4.5"/><circle cx="381.7" cy="777.3" r="4.5"/><circle cx="375.8" cy="741.4" r="4.5"/><circle cx="381.7" cy="705.5" r="4.5"/><circle cx="399.0" cy="673.2" r="4.5"/><circle cx="425.8" cy="647.5" r="4.5"/><circle cx="459.7" cy="631.0" r="4.5"/></g>
</g>
<path d="M386.7 877.6H448.8" stroke="#6464ff" stroke-width="1.1"/>
<path d="M524.2 877.6H586.0" stroke="#ff5050" stroke-width="1.1"/>
<text x="474.8" y="885.0" font-size="22.2" text-anchor="middle">-1</text>
<text x="606.7" y="885.0" font-size="22.2" text-anchor="middle">1</text>
<g fill="none" stroke-width="1.0">
<path d="M504.3 1211.0L551.8 1225.9M504.3 1211.0L572.1 1240.1M504.3 1211.0L609.2 1349.9M504.3 1211.0L601.4 1372.9M504.3 1211.0L551.8 1425.9M504.3 1211.0L504.3 1440.8M504.3 1211.0L454.7 1435.7M504.3 1211.0L394.7 1393.8M504.3 1211.0L382.2 1372.9M504.3 1211.0L374.4 1301.9M504.3 1211.0L382.2 1278.9M504.3 1211.0L394.7 1258.0M504.3 1211.0L411.5 1240.1M504.3 1211.0" stroke="#ff0c0c"/>
<path d="M504.3 1211.0L528.9 1216.1M504.3 1211.0L588.9 1258.0M504.3 1211.0L601.4 1278.9M504.3 1211.0L609.2 1301.9M504.3 1211.0L611.8 1325.9M504.3 1211.0L588.9 1393.8M504.3 1211.0L572.1 1411.7M504.3 1211.0L528.9 1435.7M504.3 1211.0L479.3 1440.8M504.3 1211.0L431.8 1425.9M504.3 1211.0L411.5 1411.7M504.3 1211.0L374.4 1349.9M504.3 1211.0L371.8 1325.9M504.3 1211.0L431.8 1225.9M504.3 1211.0L454.7 1216.1M504.3 1211.0L479.3 1211.0M504.3 1211.0" stroke="#0c0cff"/>
<path d="M528.9 1216.1L609.2 1301.9M528.9 1216.1L609.2 1349.9M528.9 1216.1L601.4 1372.9M528.9 1216.1L572.1 1411.7M528.9 1216.1L528.9 1435.7M528.9 1216.1L431.8 1425.9M528.9 1216.1L411.5 1411.7M528.9 1216.1L394.7 1393.8M528.9 1216.1L371.8 1325.9M528.9 1216.1L394.7 1258.0M528.9 1216.1L454.7 1216.1M528.9 1216.1L479.3 1211.0M528.9 1216.1" stroke="#ff0c0c"/>
<path d="M528.9 1216.1L551.8 1225.9M528.9 1216.1L572.1 1240.1M528.9 1216.1L588.9 1258.0M528.9 1216.1L601.4 1278.9M528.9 1216.1L611.8 1325.9M528.9 1216.1L588.9 1393.8M528.9 1216.1L551.8 1425.9M528.9 1216.1L504.3 1440.8M528.9 1216.1L479.3 1440.8M528.9 1216.1L454.7 1435.7M528.9 1216.1L382.2 1372.9M528.9 1216.1L374.4 1349.9M528.9 1216.1L374.4 1301.9M528.9 1216.1L382.2 1278.9M528.9 1216.1L411.5 1240.1M528.9 1216.1L431.8 1225.9M528.9 1216.1" stroke="#0c0cff"/>
<path d="M551.8 1225.9L572.1 1240.1M551.8 1225.9L609.2 1301.9M551.8 1225.9L611.8 1325.9M551.8 1225.9L601.4 1372.9M551.8 1225.9L588.9 1393.8M551.8 1225.9L551.8 1425.9M551.8 1225.9L528.9 1435.7M551.8 1225.9L479.3 1440.8M551.8 1225.9L411.5 1411.7M551.8 1225.9L371.8 1325.9M551.8 1225.9L382.2 1278.9M551.8 1225.9L411.5 1240.1M551.8 1225.9L431.8 1225.9M551.8 1225.9L479.3 1211.0M551.8 1225.9" stroke="#ff0c0c"/>
<path d="M551.8 1225.9L588.9 1258.0M551.8 1225.9L601.4 1278.9M551.8 1225.9L609.2 1349.9M551.8 1225.9L572.1 1411.7M551.8 1225.9L504.3 1440.8M551.8 1225.9L454.7 1435.7M551.8 1225.9L431.8 1425.9M551.8 1225.9L394.7 1393.8M551.8 1225.9L382.2 1372.9M551.8 1225.9L374.4 1349.9M551.8 1225.9L374.4 1301.9M551.8 1225.9L394.7 1258.0M551.8 1225.9L454.7 1216.1M551.8 1225.9" stroke="#0c0cff"/>
<path d="M572.1 1240.1L611.8 1325.9M572.1 1240.1L609.2 1349.9M572.1 1240.1L601.4 1372.9M572.1 1240.1L588.9 1393.8M572.1 1240.1L572.1 1411.7M572.1 1240.1L528.9 1435.7M572.1 1240.1L504.3 1440.8M572.1 1240.1L454.7 1435.7M572.1 1240.1L411.5 1411.7M572.1 1240.1L371.8 1325.9M572.1 1240.1L431.8 1225.9M572.1 1240.1L479.3 1211.0M572.1 1240.1" stroke="#ff0c0c"/>
<path d="M572.1 1240.1L588.9 1258.0M572.1 1240.1L601.4 1278.9M572.1 1240.1L609.2 1301.9M572.1 1240.1L551.8 1425.9M572.1 1240.1L479.3 1440.8M572.1 1240.1L431.8 1425.9M572.1 1240.1L394.7 1393.8M572.1 1240.1L382.2 1372.9M572.1 1240.1L374.4 1349.9M572.1 1240.1L374.4 1301.9M572.1 1240.1L382.2 1278.9M572.1 1240.1L394.7 1258.0M572.1 1240.1L411.5 1240.1M572.1 1240.1L454.7 1216.1M572.1 1240.1" stroke="#0c0cff"/>
<path d="M588.9 1258.0L601.4 1278.9M588.9 1258.0L609.2 1349.9M588.9 1258.0L588.9 1393.8M588.9 1258.0L572.1 1411.7M588.9 1258.0L551.8 1425.9M588.9 1258.0L394.7 1393.8M588.9 1258.0L371.8 1325.9M588.9 1258.0L394.7 1258.0M588.9 1258.0L411.5 1240.1M588.9 1258.0L454.7 1216.1M588.9 1258.0L479.3 1211.0M588.9 1258.0" stroke="#ff0c0c"/>
<path d="M588.9 1258.0L609.2 1301.9M588.9 1258.0L611.8 1325.9M588.9 1258.0L601.4 1372.9M588.9 1258.0L528.9 1435.7M588.9 1258.0L504.3 1440.8M588.9 1258.0L479.3 1440.8M588.9 1258.0L454.7 1435.7M588.9 1258.0L431.8 1425.9M588.9 1258.0L411.5 1411.7M588.9 1258.0L382.2 1372.9M588.9 1258.0L374.4 1349.9M588.9 1258.0L374.4 1301.9M588.9 1258.0L382.2 1278.9M588.9 1258.0L431.8 1225.9M588.9 1258.0" stroke="#0c0cff"/>
<path d="M601.4 1278.9L609.2 1301.9M601.4 1278.9L611.8 1325.9M601.4 1278.9L588.9 1393.8M601.4 1278.9L572.1 1411.7M601.4 1278.9L528.9 1435.7M601.4 1278.9L479.3 1440.8M601.4 1278.9L411.5 1411.7M601.4 1278.9L394.7 1393.8M601.4 1278.9L382.2 1372.9M601.4 1278.9L374.4 1349.9M601.4 1278.9L411.5 1240.1M601.4 1278.9L454.7 1216.1M601.4 1278.9L479.3 1211.0M601.4 1278.9" stroke="#ff0c0c"/>
<path d="M601.4 1278.9L609.2 1349.9M601.4 1278.9L601.4 1372.9M601.4 1278.9L551.8 1425.9M601.4 1278.9L504.3 1440.8M601.4 1278.9L454.7 1435.7M601.4 1278.9L431.8 1425.9M601.4 1278.9L371.8 1325.9M601.4 1278.9L374.4 1301.9M601.4 1278.9L382.2 1278.9M601.4 1278.9L394.7 1258.0M601.4 1278.9L431.8 1225.9M601.4 1278.9" stroke="#0c0cff"/>
<path d="M609.2 1301.9L611.8 1325.9M609.2 1301.9L609.2 1349.9M609.2 1301.9L588.9 1393.8M609.2 1301.9L551.8 1425.9M609.2 1301.9L454.7 1435.7M609.2 1301.9L431.8 1425.9M609.2 1301.9L411.5 1411.7M609.2 1301.9L374.4 1349.9M609.2 1301.9L371.8 1325.9M609.2 1301.9L431.8 1225.9M609.2 1301.9L479.3 1211.0M609.2 1301.9" stroke="#ff0c0c"/>
<path d="M609.2 1301.9L601.4 1372.9M609.2 1301.9L572.1 1411.7M609.2 1301.9L528.9 1435.7M609.2 1301.9L504.3 1440.8M609.2 1301.9L479.3 1440.8M609.2 1301.9L394.7 1393.8M609.2 1301.9L382.2 1372.9M609.2 1301.9L374.4 1301.9M609.2 1301.9L382.2 1278.9M609.2 1301.9L394.7 1258.0M609.2 1301.9L411.5 1240.1M609.2 1301.9L454.7 1216.1M609.2 1301.9" stroke="#0c0cff"/>
<path d="M611.8 1325.9L609.2 1349.9M611.8 1325.9L601.4 1372.9M611.8 1325.9L588.9 1393.8M611.8 1325.9L551.8 1425.9M611.8 1325.9L504.3 1440.8M611.8 1325.9L479.3 1440.8M611.8 1325.9L454.7 1435.7M611.8 1325.9L411.5 1411.7M611.8 1325.9L371.8 1325.9M611.8 1325.9L431.8 1225.9M611.8 1325.9" stroke="#ff0c0c"/>
<path d="M611.8 1325.9L572.1 1411.7M611.8 1325.9L528.9 1435.7M611.8 1325.9L431.8 1425.9M611.8 1325.9L394.7 1393.8M611.8 1325.9L382.2 1372.9M611.8 1325.9L374.4 1349.9M611.8 1325.9L374.4 1301.9M611.8 1325.9L382.2 1278.9M611.8 1325.9L394.7 1258.0M611.8 1325.9L411.5 1240.1M611.8 1325.9L454.7 1216.1M611.8 1325.9L479.3 1211.0M611.8 1325.9" stroke="#0c0cff"/>
<path d="M609.2 1349.9L588.9 1393.8M609.2 1349.9L572.1 1411.7M609.2 1349.9L454.7 1435.7M609.2 1349.9L431.8 1425.9M609.2 1349.9L411.5 1411.7M609.2 1349.9L394.7 1393.8M609.2 1349.9L382.2 1372.9M609.2 1349.9L374.4 1349.9M609.2 1349.9L371.8 1325.9M609.2 1349.9L374.4 1301.9M609.2 1349.9L382.2 1278.9M609.2 1349.9L394.7 1258.0M609.2 1349.9L431.8 1225.9M609.2 1349.9" stroke="#ff0c0c"/>
<path d="M609.2 1349.9L601.4 1372.9M609.2 1349.9L551.8 1425.9M609.2 1349.9L528.9 1435.7M609.2 1349.9L504.3 1440.8M609.2 1349.9L479.3 1440.8M609.2 1349.9L411.5 1240.1M609.2 1349.9L454.7 1216.1M609.2 1349.9L479.3 1211.0M609.2 1349.9" stroke="#0c0cff"/>
<path d="M601.4 1372.9L504.3 1440.8M601.4 1372.9L394.7 1393.8M601.4 1372.9L382.2 1372.9M601.4 1372.9L371.8 1325.9M601.4 1372.9L374.4 1301.9M601.4 1372.9L382.2 1278.9M601.4 1372.9L394.7 1258.0M601.4 1372.9L431.8 1225.9M601.4 1372.9L479.3 1211.0M601.4 1372.9" stroke="#ff0c0c"/>
<path d="M601.4 1372.9L588.9 1393.8M601.4 1372.9L572.1 1411.7M601.4 1372.9L551.8 1425.9M601.4 1372.9L528.9 1435.7M601.4 1372.9L479.3 1440.8M601.4 1372.9L454.7 1435.7M601.4 1372.9L431.8 1425.9M601.4 1372.9L411.5 1411.7M601.4 1372.9L374.4 1349.9M601.4 1372.9L411.5 1240.1M601.4 1372.9L454.7 1216.1M601.4 1372.9" stroke="#0c0cff"/>
<path d="M588.9 1393.8L572.1 1411.7M588.9 1393.8L504.3 1440.8M588.9 1393.8L479.3 1440.8M588.9 1393.8L382.2 1372.9M588.9 1393.8L371.8 1325.9M588.9 1393.8L374.4 1301.9M588.9 1393.8L382.2 1278.9M588.9 1393.8L394.7 1258.0M588.9 1393.8L411.5 1240.1M588.9 1393.8L454.7 1216.1M588.9 1393.8L479.3 1211.0M588.9 1393.8" stroke="#ff0c0c"/>
<path d="M588.9 1393.8L551.8 1425.9M588.9 1393.8L528.9 1435.7M588.9 1393.8L454.7 1435.7M588.9 1393.8L431.8 1425.9M588.9 1393.8L411.5 1411.7M588.9 1393.8L394.7 1393.8M588.9 1393.8L374.4 1349.9M588.9 1393.8L431.8 1225.9M588.9 1393.8" stroke="#0c0cff"/>
<path d="M572.1 1411.7L551.8 1425.9M572.1 1411.7L528.9 1435.7M572.1 1411.7L504.3 1440.8M572.1 1411.7L479.3 1440.8M572.1 1411.7L411.5 1411.7M572.1 1411.7L374.4 1349.9M572.1 1411.7L371.8 1325.9M572.1 1411.7L374.4 1301.9M572.1 1411.7L411.5 1240.1M572.1 1411.7L479.3 1211.0M572.1 1411.7" stroke="#ff0c0c"/>
<path d="M572.1 1411.7L454.7 1435.7M572.1 1411.7L431.8 1425.9M572.1 1411.7L394.7 1393.8M572.1 1411.7L382.2 1372.9M572.1 1411.7L382.2 1278.9M572.1 1411.7L394.7 1258.0M572.1 1411.7L431.8 1225.9M572.1 1411.7L454.7 1216.1M572.1 1411.7" stroke="#0c0cff"/>
<path d="M551.8 1425.9L528.9 1435.7M551.8 1425.9L504.3 1440.8M551.8 1425.9L454.7 1435.7M551.8 1425.9L411.5 1411.7M551.8 1425.9L374.4 1349.9M551.8 1425.9L374.4 1301.9M551.8 1425.9L382.2 1278.9M551.8 1425.9L394.7 1258.0M551.8 1425.9L431.8 1225.9M551.8 1425.9" stroke="#ff0c0c"/>
<path d="M551.8 1425.9L479.3 1440.8M551.8 1425.9L431.8 1425.9M551.8 1425.9L394.7 1393.8M551.8 1425.9L382.2 1372.9M551.8 1425.9L371.8 1325.9M551.8 1425.9L411.5 1240.1M551.8 1425.9L454.7 1216.1M551.8 1425.9L479.3 1211.0M551.8 1425.9" stroke="#0c0cff"/>
<path d="M528.9 1435.7L479.3 1440.8M528.9 1435.7L454.7 1435.7M528.9 1435.7L431.8 1425.9M528.9 1435.7L374.4 1349.9M528.9 1435.7L374.4 1301.9M528.9 1435.7L382.2 1278.9M528.9 1435.7L394.7 1258.0M528.9 1435.7L411.5 1240.1M528.9 1435.7L454.7 1216.1M528.9 1435.7L479.3 1211.0M528.9 1435.7" stroke="#ff0c0c"/>
<path d="M528.9 1435.7L504.3 1440.8M528.9 1435.7L411.5 1411.7M528.9 1435.7L394.7 1393.8M528.9 1435.7L382.2 1372.9M528.9 1435.7L371.8 1325.9M528.9 1435.7L431.8 1225.9M528.9 1435.7" stroke="#0c0cff"/>
<path d="M504.3 1440.8L479.3 1440.8M504.3 1440.8L431.8 1425.9M504.3 1440.8L411.5 1411.7M504.3 1440.8L394.7 1393.8M504.3 1440.8L374.4 1349.9M504.3 1440.8L374.4 1301.9M504.3 1440.8L411.5 1240.1M504.3 1440.8" stroke="#ff0c0c"/>
<path d="M504.3 1440.8L454.7 1435.7M504.3 1440.8L382.2 1372.9M504.3 1440.8L371.8 1325.9M504.3 1440.8L382.2 1278.9M504.3 1440.8L394.7 1258.0M504.3 1440.8L431.8 1225.9M504.3 1440.8L454.7 1216.1M504.3 1440.8L479.3 1211.0M504.3 1440.8" stroke="#0c0cff"/>
<path d="M479.3 1440.8L431.8 1425.9M479.3 1440.8L411.5 1411.7M479.3 1440.8L394.7 1393.8M479.3 1440.8L374.4 1301.9M479.3 1440.8L394.7 1258.0M479.3 1440.8L431.8 1225.9M479.3 1440.8" stroke="#ff0c0c"/>
<path d="M479.3 1440.8L454.7 1435.7M479.3 1440.8L382.2 1372.9M479.3 1440.8L374.4 1349.9M479.3 1440.8L371.8 1325.9M479.3 1440.8L382.2 1278.9M479.3 1440.8L411.5 1240.1M479.3 1440.8L454.7 1216.1M479.3 1440.8L479.3 1211.0M479.3 1440.8" stroke="#0c0cff"/>
<path d="M454.7 1435.7L371.8 1325.9M454.7 1435.7L374.4 1301.9M454.7 1435.7L394.7 1258.0M454.7 1435.7L454.7 1216.1M454.7 1435.7L479.3 1211.0M454.7 1435.7" stroke="#ff0c0c"/>
<path d="M454.7 1435.7L431.8 1425.9M454.7 1435.7L411.5 1411.7M454.7 1435.7L394.7 1393.8M454.7 1435.7L382.2 1372.9M454.7 1435.7L374.4 1349.9M454.7 1435.7L382.2 1278.9M454.7 1435.7L411.5 1240.1M454.7 1435.7L431.8 1225.9M454.7 1435.7" stroke="#0c0cff"/>
<path d="M431.8 1425.9L411.5 1411.7M431.8 1425.9L394.7 1393.8M431.8 1425.9L382.2 1372.9M431.8 1425.9L374.4 1349.9M431.8 1425.9L382.2 1278.9M431.8 1425.9L411.5 1240.1M431.8 1425.9L431.8 1225.9M431.8 1425.9L454.7 1216.1M431.8 1425.9" stroke="#ff0c0c"/>
<path d="M431.8 1425.9L371.8 1325.9M431.8 1425.9L374.4 1301.9M431.8 1425.9L394.7 1258.0M431.8 1425.9L479.3 1211.0M431.8 1425.9" stroke="#0c0cff"/>
<path d="M411.5 1411.7L394.7 1393.8M411.5 1411.7L382.2 1372.9M411.5 1411.7L371.8 1325.9M411.5 1411.7L374.4 1301.9M411.5 1411.7L382.2 1278.9M411.5 1411.7L411.5 1240.1M411.5 1411.7L431.8 1225.9M411.5 1411.7L479.3 1211.0M411.5 1411.7" stroke="#ff0c0c"/>
<path d="M411.5 1411.7L374.4 1349.9M411.5 1411.7L394.7 1258.0M411.5 1411.7L454.7 1216.1M411.5 1411.7" stroke="#0c0cff"/>
<path d="M394.7 1393.8L382.2 1372.9M394.7 1393.8L374.4 1349.9M394.7 1393.8L411.5 1240.1M394.7 1393.8L431.8 1225.9M394.7 1393.8L479.3 1211.0M394.7 1393.8" stroke="#ff0c0c"/>
<path d="M394.7 1393.8L371.8 1325.9M394.7 1393.8L374.4 1301.9M394.7 1393.8L382.2 1278.9M394.7 1393.8L394.7 1258.0M394.7 1393.8L454.7 1216.1M394.7 1393.8" stroke="#0c0cff"/>
<path d="M382.2 1372.9L374.4 1349.9M382.2 1372.9L411.5 1240.1M382.2 1372.9L431.8 1225.9M382.2 1372.9L454.7 1216.1M382.2 1372.9L479.3 1211.0M382.2 1372.9" stroke="#ff0c0c"/>
<path d="M382.2 1372.9L371.8 1325.9M382.2 1372.9L374.4 1301.9M382.2 1372.9L382.2 1278.9M382.2 1372.9L394.7 1258.0M382.2 1372.9" stroke="#0c0cff"/>
<path d="M374.4 1349.9L374.4 1301.9M374.4 1349.9L411.5 1240.1M374.4 1349.9L431.8 1225.9M374.4 1349.9L479.3 1211.0M374.4 1349.9" stroke="#ff0c0c"/>
<path d="M374.4 1349.9L371.8 1325.9M374.4 1349.9L382.2 1278.9M374.4 1349.9L394.7 1258.0M374.4 1349.9L454.7 1216.1M374.4 1349.9" stroke="#0c0cff"/>
<path d="M371.8 1325.9L374.4 1301.9M371.8 1325.9L411.5 1240.1M371.8 1325.9L431.8 1225.9M371.8 1325.9" stroke="#ff0c0c"/>
<path d="M371.8 1325.9L382.2 1278.9M371.8 1325.9L394.7 1258.0M371.8 1325.9L454.7 1216.1M371.8 1325.9L479.3 1211.0M371.8 1325.9" stroke="#0c0cff"/>
<path d="M374.4 1301.9L411.5 1240.1M374.4 1301.9L431.8 1225.9M374.4 1301.9L479.3 1211.0M374.4 1301.9" stroke="#ff0c0c"/>
<path d="M374.4 1301.9L382.2 1278.9M374.4 1301.9L394.7 1258.0M374.4 1301.9L454.7 1216.1M374.4 1301.9" stroke="#0c0cff"/>
<path d="M382.2 1278.9L431.8 1225.9M382.2 1278.9L479.3 1211.0M382.2 1278.9" stroke="#ff0c0c"/>
<path d="M382.2 1278.9L394.7 1258.0M382.2 1278.9L411.5 1240.1M382.2 1278.9L454.7 1216.1M382.2 1278.9" stroke="#0c0cff"/>
<path d="M394.7 1258.0L411.5 1240.1M394.7 1258.0L431.8 1225.9M394.7 1258.0L454.7 1216.1M394.7 1258.0L479.3 1211.0M394.7 1258.0" stroke="#0c0cff"/>
<path d="M411.5 1240.1L431.8 1225.9M411.5 1240.1" stroke="#ff0c0c"/>
<path d="M411.5 1240.1L454.7 1216.1M411.5 1240.1L479.3 1211.0M411.5 1240.1" stroke="#0c0cff"/>
<path d="M431.8 1225.9L454.7 1216.1M431.8 1225.9L479.3 1211.0M431.8 1225.9" stroke="#0c0cff"/>
<path d="M454.7 1216.1L479.3 1211.0M454.7 1216.1" stroke="#ff0c0c"/>
</g>
<g fill="#000"><circle cx="504.3" cy="1211.0" r="4.3"/><circle cx="528.9" cy="1216.1" r="4.3"/><circle cx="551.8" cy="1225.9" r="4.3"/><circle cx="572.1" cy="1240.1" r="4.3"/><circle cx="588.9" cy="1258.0" r="4.3"/><circle cx="601.4" cy="1278.9" r="4.3"/><circle cx="609.2" cy="1301.9" r="4.3"/><circle cx="611.8" cy="1325.9" r="4.3"/><circle cx="609.2" cy="1349.9" r="4.3"/><circle cx="601.4" cy="1372.9" r="4.3"/><circle cx="588.9" cy="1393.8" r="4.3"/><circle cx="572.1" cy="1411.7" r="4.3"/><circle cx="551.8" cy="1425.9" r="4.3"/><circle cx="528.9" cy="1435.7" r="4.3"/><circle cx="504.3" cy="1440.8" r="4.3"/><circle cx="479.3" cy="1440.8" r="4.3"/><circle cx="454.7" cy="1435.7" r="4.3"/><circle cx="431.8" cy="1425.9" r="4.3"/><circle cx="411.5" cy="1411.7" r="4.3"/><circle cx="394.7" cy="1393.8" r="4.3"/><circle cx="382.2" cy="1372.9" r="4.3"/><circle cx="374.4" cy="1349.9" r="4.3"/><circle cx="371.8" cy="1325.9" r="4.3"/><circle cx="374.4" cy="1301.9" r="4.3"/><circle cx="382.2" cy="1278.9" r="4.3"/><circle cx="394.7" cy="1258.0" r="4.3"/><circle cx="411.5" cy="1240.1" r="4.3"/><circle cx="431.8" cy="1225.9" r="4.3"/><circle cx="454.7" cy="1216.1" r="4.3"/><circle cx="479.3" cy="1211.0" r="4.3"/></g>
<path d="M386.7 1465.7H448.8" stroke="#6464ff" stroke-width="1.1"/>
<path d="M524.2 1465.7H586.0" stroke="#ff5050" stroke-width="1.1"/>
<text x="474.8" y="1473.1" font-size="22.2" text-anchor="middle">-1</text>
<text x="606.7" y="1473.1" font-size="22.2" text-anchor="middle">1</text>
<rect x="102.1" y="15.45" width="553.1" height="483.75" fill="none" stroke="#000" stroke-width="1.9"/>
<rect x="102.1" y="589.9" width="553.1" height="483.95" fill="none" stroke="#000" stroke-width="1.9"/>
<rect x="102.1" y="1165" width="553.1" height="483.8" fill="none" stroke="#000" stroke-width="1.9"/>
<path d="M111.2 499.2v-9.0M111.2 15.45v9.0M289.57 499.2v-9.0M289.57 15.45v9.0M467.93 499.2v-9.0M467.93 15.45v9.0M646.3 499.2v-9.0M646.3 15.45v9.0M200.38 499.2v-4.6M200.38 15.45v4.6M378.75 499.2v-4.6M378.75 15.45v4.6M557.12 499.2v-4.6M557.12 15.45v4.6M102.1 69.2h9.0M655.2 69.2h-9.0M102.1 176.7h9.0M655.2 176.7h-9.0M102.1 284.2h9.0M655.2 284.2h-9.0M102.1 391.7h9.0M655.2 391.7h-9.0M102.1 499.2h9.0M655.2 499.2h-9.0M102.1 122.95h4.6M655.2 122.95h-4.6M102.1 230.45h4.6M655.2 230.45h-4.6M102.1 337.95h4.6M655.2 337.95h-4.6M102.1 445.45h4.6M655.2 445.45h-4.6" stroke="#000" stroke-width="1.7" fill="none"/>
<text x="111.2" y="531.2" font-size="28.6" text-anchor="middle">0</text>
<text x="289.57" y="531.2" font-size="28.6" text-anchor="middle">200</text>
<text x="467.93" y="531.2" font-size="28.6" text-anchor="middle">400</text>
<text x="646.3" y="531.2" font-size="28.6" text-anchor="middle">600</text>
<text x="92.6" y="78.2" font-size="28.6" text-anchor="end">10</text>
<text x="92.6" y="185.7" font-size="28.6" text-anchor="end">0</text>
<text x="92.6" y="293.2" font-size="28.6" text-anchor="end">-10</text>
<text x="92.6" y="400.7" font-size="28.6" text-anchor="end">-20</text>
<text x="92.6" y="508.2" font-size="28.6" text-anchor="end">-30</text>
<path d="M106.8 1073.85v-9.0M106.8 589.9v9.0M197.48 1073.85v-9.0M197.48 589.9v9.0M288.17 1073.85v-9.0M288.17 589.9v9.0M378.85 1073.85v-9.0M378.85 589.9v9.0M469.53 1073.85v-9.0M469.53 589.9v9.0M560.22 1073.85v-9.0M560.22 589.9v9.0M650.9 1073.85v-9.0M650.9 589.9v9.0M152.14 1073.85v-4.6M152.14 589.9v4.6M242.83 1073.85v-4.6M242.83 589.9v4.6M333.51 1073.85v-4.6M333.51 589.9v4.6M424.19 1073.85v-4.6M424.19 589.9v4.6M514.88 1073.85v-4.6M514.88 589.9v4.6M605.56 1073.85v-4.6M605.56 589.9v4.6M102.1 589.9h9.0M655.2 589.9h-9.0M102.1 677.89h9.0M655.2 677.89h-9.0M102.1 765.88h9.0M655.2 765.88h-9.0M102.1 853.87h9.0M655.2 853.87h-9.0M102.1 941.86h9.0M655.2 941.86h-9.0M102.1 1029.85h9.0M655.2 1029.85h-9.0M102.1 633.9h4.6M655.2 633.9h-4.6M102.1 721.89h4.6M655.2 721.89h-4.6M102.1 809.88h4.6M655.2 809.88h-4.6M102.1 897.87h4.6M655.2 897.87h-4.6M102.1 985.86h4.6M655.2 985.86h-4.6" stroke="#000" stroke-width="1.7" fill="none"/>
<text x="106.8" y="1105.85" font-size="28.6" text-anchor="middle">0</text>
<text x="197.48" y="1105.85" font-size="28.6" text-anchor="middle">200</text>
<text x="288.17" y="1105.85" font-size="28.6" text-anchor="middle">400</text>
<text x="378.85" y="1105.85" font-size="28.6" text-anchor="middle">600</text>
<text x="469.53" y="1105.85" font-size="28.6" text-anchor="middle">800</text>
<text x="560.22" y="1105.85" font-size="28.6" text-anchor="middle">1000</text>
<text x="650.9" y="1105.85" font-size="28.6" text-anchor="middle">1200</text>
<text x="92.6" y="598.9" font-size="28.6" text-anchor="end">40</text>
<text x="92.6" y="686.89" font-size="28.6" text-anchor="end">20</text>
<text x="92.6" y="774.88" font-size="28.6" text-anchor="end">0</text>
<text x="92.6" y="862.87" font-size="28.6" text-anchor="end">-20</text>
<text x="92.6" y="950.86" font-size="28.6" text-anchor="end">-40</text>
<text x="92.6" y="1038.85" font-size="28.6" text-anchor="end">-60</text>
<path d="M104.9 1648.8v-9.0M104.9 1165v9.0M241.8 1648.8v-9.0M241.8 1165v9.0M378.7 1648.8v-9.0M378.7 1165v9.0M515.6 1648.8v-9.0M515.6 1165v9.0M652.5 1648.8v-9.0M652.5 1165v9.0M173.35 1648.8v-4.6M173.35 1165v4.6M310.25 1648.8v-4.6M310.25 1165v4.6M447.15 1648.8v-4.6M447.15 1165v4.6M584.05 1648.8v-4.6M584.05 1165v4.6M102.1 1165h9.0M655.2 1165h-9.0M102.1 1215.93h9.0M655.2 1215.93h-9.0M102.1 1266.85h9.0M655.2 1266.85h-9.0M102.1 1317.78h9.0M655.2 1317.78h-9.0M102.1 1368.71h9.0M655.2 1368.71h-9.0M102.1 1419.63h9.0M655.2 1419.63h-9.0M102.1 1470.56h9.0M655.2 1470.56h-9.0M102.1 1521.48h9.0M655.2 1521.48h-9.0M102.1 1572.41h9.0M655.2 1572.41h-9.0M102.1 1623.34h9.0M655.2 1623.34h-9.0M102.1 1190.46h4.6M655.2 1190.46h-4.6M102.1 1241.39h4.6M655.2 1241.39h-4.6M102.1 1292.32h4.6M655.2 1292.32h-4.6M102.1 1343.24h4.6M655.2 1343.24h-4.6M102.1 1394.17h4.6M655.2 1394.17h-4.6M102.1 1445.09h4.6M655.2 1445.09h-4.6M102.1 1496.02h4.6M655.2 1496.02h-4.6M102.1 1546.95h4.6M655.2 1546.95h-4.6M102.1 1597.87h4.6M655.2 1597.87h-4.6" stroke="#000" stroke-width="1.7" fill="none"/>
<text x="104.9" y="1680.8" font-size="28.6" text-anchor="middle">0</text>
<text x="241.8" y="1680.8" font-size="28.6" text-anchor="middle">500</text>
<text x="378.7" y="1680.8" font-size="28.6" text-anchor="middle">1000</text>
<text x="515.6" y="1680.8" font-size="28.6" text-anchor="middle">1500</text>
<text x="652.5" y="1680.8" font-size="28.6" text-anchor="middle">2000</text>
<text x="92.6" y="1174" font-size="28.6" text-anchor="end">60</text>
<text x="92.6" y="1224.93" font-size="28.6" text-anchor="end">40</text>
<text x="92.6" y="1275.85" font-size="28.6" text-anchor="end">20</text>
<text x="92.6" y="1326.78" font-size="28.6" text-anchor="end">0</text>
<text x="92.6" y="1377.71" font-size="28.6" text-anchor="end">-20</text>
<text x="92.6" y="1428.63" font-size="28.6" text-anchor="end">-40</text>
<text x="92.6" y="1479.56" font-size="28.6" text-anchor="end">-60</text>
<text x="92.6" y="1530.48" font-size="28.6" text-anchor="end">-80</text>
<text x="92.6" y="1581.41" font-size="28.6" text-anchor="end">-100</text>
<text x="92.6" y="1632.34" font-size="28.6" text-anchor="end">-120</text>
<text x="379.55" y="578.8" font-size="31.75" text-anchor="middle">Iteration number</text>
<text x="379.55" y="1153.45" font-size="31.75" text-anchor="middle">Iteration number</text>
<text x="379.55" y="1729" font-size="31.75" text-anchor="middle">Iteration number</text>
<text transform="translate(39.5 304) rotate(-90)" font-size="28.4" text-anchor="middle">Normalized experimental Hamiltonian</text>
<text transform="translate(39.5 878) rotate(-90)" font-size="28.4" text-anchor="middle">Normalized experimental Hamiltonian</text>
<text transform="translate(23.5 1453.2) rotate(-90)" font-size="28.4" text-anchor="middle">Normalized experimental Hamiltonian</text>
<text x="15.3" y="45" font-size="41.7">a)</text>
<text x="7.6" y="619" font-size="41.6">d)</text>
<text x="4.8" y="1196" font-size="41.6">g)</text>
<polyline points="762.1,458.9 763.1,458.9 764.0,458.9 764.9,458.9 765.8,458.9 766.8,458.9 767.7,458.9 768.6,458.9 769.5,458.9 770.4,458.9 771.4,458.9 772.3,458.9 773.2,458.8 774.1,458.6 775.1,458.3 776.0,458.0 776.9,457.5 777.8,457.0 778.7,456.4 779.7,455.9 780.6,455.3 781.5,454.7 782.4,454.1 783.4,453.7 784.3,453.2 785.2,452.7 786.1,452.1 787.0,451.5 788.0,450.9 788.9,450.2 789.8,449.7 790.7,449.0 791.6,448.1 792.6,447.0 793.5,445.6 794.4,444.4 795.3,443.0 796.3,441.5 797.2,439.8 798.1,438.2 799.0,436.7 799.9,435.2 800.9,433.6 801.8,431.9 802.7,430.3 803.6,428.6 804.6,427.1 805.5,425.4 806.4,423.6 807.3,421.9 808.2,420.5 809.2,418.9 810.1,417.5 811.0,415.5 811.9,414.3 812.8,412.4 813.8,411.0 814.7,409.4 815.6,408.1 816.5,406.4 817.5,404.5 818.4,403.0 819.3,401.6 820.2,399.9 821.1,398.0 822.1,395.8 823.0,393.8 823.9,392.3 824.8,390.4 825.8,388.4 826.7,386.2 827.6,384.6 828.5,382.9 829.4,380.9 830.4,378.5 831.3,377.0 832.2,375.7 833.1,374.2 834.0,372.4 835.0,369.7 835.9,367.7 836.8,366.3 837.7,365.2 838.7,363.1 839.6,360.3 840.5,358.2 841.4,356.7 842.3,354.9 843.3,352.6 844.2,350.4 845.1,348.6 846.0,346.9 847.0,345.6 847.9,343.3 848.8,342.4 849.7,340.5 850.6,339.1 851.6,336.9 852.5,334.8 853.4,333.2 854.3,330.3 855.2,328.7 856.2,326.2 857.1,324.2 858.0,322.1 858.9,320.9 859.9,320.4 860.8,317.9 861.7,315.7 862.6,313.4 863.5,312.4 864.5,310.5 865.4,307.9 866.3,306.1 867.2,304.2 868.2,303.1 869.1,301.1 870.0,299.8 870.9,297.3 871.8,295.0 872.8,293.4 873.7,293.2 874.6,291.9 875.5,288.0 876.4,285.4 877.4,284.6 878.3,283.8 879.2,281.9 880.1,279.7 881.1,278.4 882.0,275.9 882.9,274.0 883.8,271.9 884.7,270.5 885.7,269.0 886.6,267.6 887.5,266.2 888.4,264.1 889.4,262.8 890.3,261.1 891.2,258.6 892.1,256.3 893.0,254.0 894.0,252.8 894.9,251.3 895.8,249.7 896.7,248.0 897.6,245.9 898.6,244.7 899.5,242.7 900.4,241.5 901.3,239.8 902.3,239.2 903.2,237.5 904.1,234.6 905.0,233.3 905.9,231.6 906.9,232.1 907.8,230.0 908.7,228.2 909.6,225.8 910.6,224.7 911.5,223.6 912.4,221.6 913.3,219.5 914.2,217.2 915.2,216.0 916.1,215.2 917.0,214.8 917.9,213.5 918.8,211.6 919.8,210.1 920.7,208.4 921.6,207.7 922.5,205.6 923.5,204.3 924.4,202.4 925.3,200.9 926.2,198.3 927.1,195.9 928.1,194.5 929.0,193.9 929.9,191.2 930.8,189.2 931.8,187.7 932.7,187.8 933.6,186.5 934.5,185.1 935.4,183.1 936.4,181.8 937.3,179.1 938.2,177.5 939.1,177.2 940.0,176.6 941.0,176.6 941.9,173.7 942.8,172.5 943.7,170.4 944.7,170.2 945.6,168.3 946.5,166.5 947.4,165.3 948.3,164.8 949.3,164.8 950.2,163.2 951.1,162.7 952.0,160.5 953.0,159.8 953.9,158.3 954.8,157.8 955.7,156.6 956.6,155.6 957.6,155.0 958.5,153.8 959.4,153.1 960.3,152.1 961.2,151.1 962.2,149.8 963.1,148.6 964.0,147.8 964.9,146.6 965.9,146.1 966.8,145.4 967.7,145.4 968.6,145.0 969.5,144.8 970.5,143.9 971.4,143.6 972.3,142.8 973.2,142.4 974.2,141.3 975.1,140.6 976.0,140.9 976.9,140.4 977.8,139.6 978.8,138.9 979.7,138.2 980.6,138.0 981.5,137.4 982.4,137.1 983.4,136.3 984.3,135.3 985.2,135.2 986.1,133.8 987.1,133.3 988.0,132.4 988.9,132.0 989.8,131.1 990.7,129.6 991.7,129.1 992.6,128.2 993.5,127.4 994.4,126.7 995.4,125.6 996.3,125.0 997.2,124.3 998.1,123.6 999.0,122.5 1000.0,121.5 1000.9,121.0 1001.8,120.1 1002.7,119.7 1003.6,118.9 1004.6,118.3 1005.5,117.4 1006.4,116.3 1007.3,115.6 1008.3,114.3 1009.2,113.9 1010.1,113.4 1011.0,112.9 1011.9,112.6 1012.9,110.9 1013.8,110.5 1014.7,109.4 1015.6,109.3 1016.6,108.5 1017.5,108.1 1018.4,107.4 1019.3,106.6 1020.2,105.6 1021.2,105.2 1022.1,104.7 1023.0,104.4 1023.9,103.8 1024.8,103.5 1025.8,103.2 1026.7,103.3 1027.6,103.1 1028.5,102.9 1029.5,102.1 1030.4,101.7 1031.3,101.1 1032.2,101.0 1033.1,100.7 1034.1,100.8 1035.0,100.4 1035.9,99.8 1036.8,99.4 1037.8,99.4 1038.7,99.5 1039.6,99.1 1040.5,98.8 1041.4,98.2 1042.4,97.7 1043.3,96.7 1044.2,96.2 1045.1,95.5 1046.0,95.1 1047.0,94.6 1047.9,93.8 1048.8,93.6 1049.7,93.1 1050.7,92.9 1051.6,92.2 1052.5,91.8 1053.4,91.2 1054.3,90.9 1055.3,89.8 1056.2,89.3 1057.1,88.7 1058.0,88.7 1059.0,88.3 1059.9,87.9 1060.8,87.7 1061.7,87.4 1062.6,87.1 1063.6,86.8 1064.5,86.2 1065.4,85.7 1066.3,85.3 1067.2,85.1 1068.2,85.2 1069.1,84.8 1070.0,84.6 1070.9,84.0 1071.9,83.6 1072.8,83.7 1073.7,83.4 1074.6,83.5 1075.5,82.9 1076.5,82.9 1077.4,82.6 1078.3,82.4 1079.2,81.9 1080.2,81.6 1081.1,81.5 1082.0,81.4 1082.9,81.1 1083.8,80.8 1084.8,80.7 1085.7,80.5 1086.6,80.2 1087.5,79.7 1088.4,79.6 1089.4,79.3 1090.3,79.3 1091.2,79.0 1092.1,78.9 1093.1,78.5 1094.0,78.2 1094.9,78.1 1095.8,77.9 1096.7,77.8 1097.7,77.4 1098.6,77.1 1099.5,77.0 1100.4,76.8 1101.4,76.6 1102.3,76.0 1103.2,76.0 1104.1,75.9 1105.0,75.8 1106.0,75.5 1106.9,75.4 1107.8,75.3 1108.7,74.8 1109.6,74.6 1110.6,74.5 1111.5,74.4 1112.4,74.1 1113.3,74.1 1114.3,73.9 1115.2,74.0 1116.1,73.9 1117.0,73.9 1117.9,73.6 1118.9,73.4 1119.8,73.4 1120.7,73.3 1121.6,73.2 1122.6,73.0 1123.5,73.0 1124.4,73.0 1125.3,73.0 1126.2,72.8 1127.2,72.7 1128.1,72.5 1129.0,72.4 1129.9,72.4 1130.8,72.2 1131.8,72.2 1132.7,71.9 1133.6,71.8 1134.5,71.6 1135.5,71.6 1136.4,71.3 1137.3,71.2 1138.2,71.2 1139.1,71.3 1140.1,71.3 1141.0,71.2 1141.9,70.9 1142.8,70.9 1143.8,70.7 1144.7,70.5 1145.6,70.3 1146.5,70.3 1147.4,70.2 1148.4,70.1 1149.3,70.0 1150.2,70.0 1151.1,69.8 1152.1,69.7 1153.0,69.6 1153.9,69.5 1154.8,69.4 1155.7,69.3 1156.7,69.2 1157.6,69.0 1158.5,69.0 1159.4,68.8 1160.3,68.8 1161.3,68.7 1162.2,68.7 1163.1,68.6 1164.0,68.5 1165.0,68.4 1165.9,68.4 1166.8,68.4 1167.7,68.2 1168.6,68.0 1169.6,67.8 1170.5,67.6 1171.4,67.5 1172.3,67.5 1173.3,67.5 1174.2,67.4 1175.1,67.1 1176.0,67.0 1176.9,67.0 1177.9,67.0 1178.8,67.0 1179.7,67.0 1180.6,67.0 1181.5,66.9 1182.5,66.7 1183.4,66.7 1184.3,66.5 1185.2,66.5 1186.2,66.5 1187.1,66.4 1188.0,66.4 1188.9,66.4 1189.8,66.4 1190.8,66.4 1191.7,66.4 1192.6,66.4 1193.5,66.3 1194.5,66.2 1195.4,66.2 1196.3,66.2 1197.2,66.3 1198.1,66.2 1199.1,66.1 1200.0,66.0 1200.9,65.9 1201.8,65.9 1202.7,65.9 1203.7,65.9 1204.6,65.8 1205.5,65.7 1206.4,65.6 1207.4,65.5 1208.3,65.5 1209.2,65.4 1210.1,65.4 1211.0,65.4 1212.0,65.5 1212.9,65.5 1213.8,65.5 1214.7,65.4 1215.7,65.3 1216.6,65.2 1217.5,65.3 1218.4,65.3 1219.3,65.3 1220.3,65.3 1221.2,65.3 1222.1,65.2 1223.0,65.1 1223.9,65.2 1224.9,65.1 1225.8,65.2 1226.7,65.1 1227.6,65.1 1228.6,65.0 1229.5,65.0 1230.4,64.9 1231.3,64.9 1232.2,65.0 1233.2,64.9 1234.1,64.9 1235.0,64.8 1235.9,64.9 1236.9,64.8 1237.8,64.7 1238.7,64.6 1239.6,64.7 1240.5,64.6 1241.5,64.6 1242.4,64.6 1243.3,64.6 1244.2,64.5 1245.1,64.4 1246.1,64.4 1247.0,64.5 1247.9,64.5 1248.8,64.5 1249.8,64.6 1250.7,64.6 1251.6,64.5 1252.5,64.4 1253.4,64.3 1254.4,64.3 1255.3,64.3 1256.2,64.2 1257.1,64.1 1258.1,64.0 1259.0,64.1 1259.9,64.1 1260.8,64.1 1261.7,64.1 1262.7,64.1 1263.6,64.0 1264.5,63.9 1265.4,64.0 1266.3,64.0 1267.3,63.9 1268.2,63.9 1269.1,63.9 1270.0,64.0 1271.0,64.0 1271.9,63.9 1272.8,63.8 1273.7,63.6 1274.6,63.6 1275.6,63.7 1276.5,63.7 1277.4,63.7 1278.3,63.6 1279.3,63.6 1280.2,63.5 1281.1,63.5 1282.0,63.5 1282.9,63.5 1283.9,63.4 1284.8,63.4 1285.7,63.4 1286.6,63.5 1287.5,63.4 1288.5,63.2 1289.4,63.2 1290.3,63.2 1291.2,63.3 1292.2,63.4 1293.1,63.4 1294.0,63.3 1294.9,63.2 1295.8,63.1 1296.8,63.1 1297.7,63.1 1298.6,63.1 1299.5,63.1 1300.5,63.0 1301.4,63.0 1302.3,63.1 1303.2,63.1 1304.1,63.1 1305.1,63.1 1306.0,63.0 1306.9,63.0 1307.8,62.9 1308.7,62.9 1309.7,62.9 1310.6,62.8 1311.5,62.7 1312.4,62.7 1313.4,62.7 1314.3,62.7 1315.2,62.8" fill="none" stroke="#515151" stroke-width="1.5" stroke-linejoin="round"/>
<polyline points="762.1,458.9 763.1,458.9 764.0,458.9 764.9,458.9 765.8,458.9 766.8,458.9 767.7,458.9 768.6,458.9 769.5,458.9 770.4,458.9 771.4,458.9 772.3,458.9 773.2,458.9 774.1,458.9 775.1,454.9 776.0,454.9 776.9,454.9 777.8,454.9 778.7,454.9 779.7,454.9 780.6,454.9 781.5,454.9 782.4,454.9 783.4,454.9 784.3,454.9 785.2,454.9 786.1,454.9 787.0,454.9 788.0,454.9 788.9,454.9 789.8,454.9 790.7,454.9 791.6,450.8 792.6,450.8 793.5,446.8 794.4,446.8 795.3,446.8 796.3,442.8 797.2,442.8 798.1,438.7 799.0,438.7 799.9,434.7 800.9,430.7 801.8,430.7 802.7,426.6 803.6,422.6 804.6,422.6 805.5,414.5 806.4,418.6 807.3,410.5 808.2,402.4 809.2,402.4 810.1,398.4 811.0,390.4 811.9,390.4 812.8,382.3 813.8,374.2 814.7,374.2 815.6,378.3 816.5,378.3 817.5,374.2 818.4,374.2 819.3,370.2 820.2,370.2 821.1,370.2 822.1,374.2 823.0,378.3 823.9,382.3 824.8,374.2 825.8,370.2 826.7,366.2 827.6,366.2 828.5,370.2 829.4,366.2 830.4,362.1 831.3,366.2 832.2,366.2 833.1,358.1 834.0,354.1 835.0,354.1 835.9,354.1 836.8,358.1 837.7,350.0 838.7,350.0 839.6,354.1 840.5,354.1 841.4,354.1 842.3,350.0 843.3,346.0 844.2,350.0 845.1,342.0 846.0,342.0 847.0,337.9 847.9,342.0 848.8,337.9 849.7,333.9 850.6,329.9 851.6,329.9 852.5,329.9 853.4,325.9 854.3,329.9 855.2,321.8 856.2,317.8 857.1,309.7 858.0,305.7 858.9,293.6 859.9,297.6 860.8,301.7 861.7,289.6 862.6,297.6 863.5,293.6 864.5,297.6 865.4,297.6 866.3,305.7 867.2,297.6 868.2,297.6 869.1,301.7 870.0,289.6 870.9,289.6 871.8,289.6 872.8,293.6 873.7,289.6 874.6,289.6 875.5,281.5 876.4,273.5 877.4,277.5 878.3,277.5 879.2,273.5 880.1,277.5 881.1,273.5 882.0,265.4 882.9,257.3 883.8,249.3 884.7,253.3 885.7,249.3 886.6,249.3 887.5,237.2 888.4,241.2 889.4,241.2 890.3,249.3 891.2,253.3 892.1,249.3 893.0,253.3 894.0,249.3 894.9,257.3 895.8,249.3 896.7,257.3 897.6,253.3 898.6,261.4 899.5,249.3 900.4,253.3 901.3,245.2 902.3,245.2 903.2,241.2 904.1,233.1 905.0,229.1 905.9,225.1 906.9,217.0 907.8,213.0 908.7,213.0 909.6,221.0 910.6,221.0 911.5,217.0 912.4,221.0 913.3,209.0 914.2,209.0 915.2,204.9 916.1,200.9 917.0,196.9 917.9,196.9 918.8,200.9 919.8,196.9 920.7,192.8 921.6,196.9 922.5,192.8 923.5,192.8 924.4,204.9 925.3,200.9 926.2,209.0 927.1,200.9 928.1,200.9 929.0,209.0 929.9,209.0 930.8,209.0 931.8,209.0 932.7,204.9 933.6,196.9 934.5,200.9 935.4,192.8 936.4,200.9 937.3,192.8 938.2,184.8 939.1,180.7 940.0,184.8 941.0,184.8 941.9,176.7 942.8,184.8 943.7,192.8 944.7,188.8 945.6,200.9 946.5,196.9 947.4,196.9 948.3,192.8 949.3,196.9 950.2,188.8 951.1,188.8 952.0,196.9 953.0,200.9 953.9,192.8 954.8,180.7 955.7,180.7 956.6,176.7 957.6,176.7 958.5,168.6 959.4,164.6 960.3,164.6 961.2,164.6 962.2,156.5 963.1,152.5 964.0,156.5 964.9,148.5 965.9,148.5 966.8,156.5 967.7,164.6 968.6,160.6 969.5,160.6 970.5,164.6 971.4,172.7 972.3,168.6 973.2,168.6 974.2,168.6 975.1,156.5 976.0,152.5 976.9,152.5 977.8,156.5 978.8,156.5 979.7,164.6 980.6,156.5 981.5,156.5 982.4,152.5 983.4,152.5 984.3,144.4 985.2,140.4 986.1,136.4 987.1,132.4 988.0,132.4 988.9,132.4 989.8,132.4 990.7,128.3 991.7,124.3 992.6,120.3 993.5,120.3 994.4,124.3 995.4,124.3 996.3,128.3 997.2,132.4 998.1,124.3 999.0,124.3 1000.0,128.3 1000.9,128.3 1001.8,124.3 1002.7,124.3 1003.6,116.2 1004.6,116.2 1005.5,112.2 1006.4,108.2 1007.3,104.1 1008.3,104.1 1009.2,104.1 1010.1,104.1 1011.0,100.1 1011.9,100.1 1012.9,100.1 1013.8,96.1 1014.7,96.1 1015.6,96.1 1016.6,96.1 1017.5,100.1 1018.4,96.1 1019.3,96.1 1020.2,100.1 1021.2,100.1 1022.1,100.1 1023.0,104.1 1023.9,104.1 1024.8,104.1 1025.8,104.1 1026.7,104.1 1027.6,100.1 1028.5,96.1 1029.5,92.0 1030.4,84.0 1031.3,84.0 1032.2,88.0 1033.1,88.0 1034.1,92.0 1035.0,96.1 1035.9,100.1 1036.8,100.1 1037.8,96.1 1038.7,88.0 1039.6,88.0 1040.5,84.0 1041.4,84.0 1042.4,80.0 1043.3,75.9 1044.2,75.9 1045.1,75.9 1046.0,75.9 1047.0,75.9 1047.9,75.9 1048.8,75.9 1049.7,75.9 1050.7,71.9 1051.6,71.9 1052.5,75.9 1053.4,80.0 1054.3,84.0 1055.3,84.0 1056.2,84.0 1057.1,92.0 1058.0,92.0 1059.0,88.0 1059.9,84.0 1060.8,84.0 1061.7,80.0 1062.6,80.0 1063.6,80.0 1064.5,75.9 1065.4,75.9 1066.3,75.9 1067.2,75.9 1068.2,75.9 1069.1,71.9 1070.0,71.9 1070.9,71.9 1071.9,71.9 1072.8,71.9 1073.7,71.9 1074.6,71.9 1075.5,71.9 1076.5,75.9 1077.4,75.9 1078.3,80.0 1079.2,75.9 1080.2,75.9 1081.1,75.9 1082.0,75.9 1082.9,75.9 1083.8,75.9 1084.8,80.0 1085.7,80.0 1086.6,75.9 1087.5,80.0 1088.4,75.9 1089.4,75.9 1090.3,75.9 1091.2,75.9 1092.1,75.9 1093.1,75.9 1094.0,75.9 1094.9,75.9 1095.8,75.9 1096.7,75.9 1097.7,71.9 1098.6,71.9 1099.5,75.9 1100.4,75.9 1101.4,80.0 1102.3,84.0 1103.2,84.0 1104.1,84.0 1105.0,84.0 1106.0,84.0 1106.9,80.0 1107.8,80.0 1108.7,75.9 1109.6,75.9 1110.6,75.9 1111.5,71.9 1112.4,71.9 1113.3,71.9 1114.3,71.9 1115.2,71.9 1116.1,71.9 1117.0,71.9 1117.9,67.9 1118.9,67.9 1119.8,67.9 1120.7,67.9 1121.6,67.9 1122.6,63.8 1123.5,63.8 1124.4,63.8 1125.3,59.8 1126.2,59.8 1127.2,59.8 1128.1,59.8 1129.0,59.8 1129.9,59.8 1130.8,59.8 1131.8,59.8 1132.7,59.8 1133.6,59.8 1134.5,59.8 1135.5,59.8 1136.4,59.8 1137.3,59.8 1138.2,59.8 1139.1,59.8 1140.1,59.8 1141.0,59.8 1141.9,59.8 1142.8,59.8 1143.8,59.8 1144.7,59.8 1145.6,59.8 1146.5,59.8 1147.4,59.8 1148.4,59.8 1149.3,59.8 1150.2,63.8 1151.1,63.8 1152.1,63.8 1153.0,63.8 1153.9,63.8 1154.8,63.8 1155.7,63.8 1156.7,63.8 1157.6,63.8 1158.5,63.8 1159.4,63.8 1160.3,63.8 1161.3,63.8 1162.2,63.8 1163.1,63.8 1164.0,63.8 1165.0,63.8 1165.9,63.8 1166.8,63.8 1167.7,63.8 1168.6,63.8 1169.6,63.8 1170.5,63.8 1171.4,63.8 1172.3,63.8 1173.3,63.8 1174.2,63.8 1175.1,63.8 1176.0,63.8 1176.9,63.8 1177.9,63.8 1178.8,63.8 1179.7,63.8 1180.6,63.8 1181.5,63.8 1182.5,63.8 1183.4,63.8 1184.3,63.8 1185.2,63.8 1186.2,63.8 1187.1,63.8 1188.0,63.8 1188.9,63.8 1189.8,63.8 1190.8,63.8 1191.7,63.8 1192.6,63.8 1193.5,63.8 1194.5,63.8 1195.4,63.8 1196.3,59.8 1197.2,59.8 1198.1,59.8 1199.1,59.8 1200.0,59.8 1200.9,59.8 1201.8,59.8 1202.7,59.8 1203.7,59.8 1204.6,59.8 1205.5,67.9 1206.4,67.9 1207.4,67.9 1208.3,63.8 1209.2,63.8 1210.1,63.8 1211.0,63.8 1212.0,63.8 1212.9,63.8 1213.8,63.8 1214.7,63.8 1215.7,63.8 1216.6,63.8 1217.5,63.8 1218.4,63.8 1219.3,63.8 1220.3,63.8 1221.2,63.8 1222.1,63.8 1223.0,59.8 1223.9,59.8 1224.9,59.8 1225.8,59.8 1226.7,59.8 1227.6,59.8 1228.6,59.8 1229.5,59.8 1230.4,59.8 1231.3,59.8 1232.2,59.8 1233.2,59.8 1234.1,59.8 1235.0,59.8 1235.9,59.8 1236.9,59.8 1237.8,59.8 1238.7,59.8 1239.6,59.8 1240.5,59.8 1241.5,59.8 1242.4,59.8 1243.3,59.8 1244.2,59.8 1245.1,59.8 1246.1,59.8 1247.0,59.8 1247.9,59.8 1248.8,59.8 1249.8,59.8 1250.7,59.8 1251.6,59.8 1252.5,59.8 1253.4,59.8 1254.4,59.8 1255.3,59.8 1256.2,59.8 1257.1,59.8 1258.1,59.8 1259.0,59.8 1259.9,59.8 1260.8,59.8 1261.7,59.8 1262.7,59.8 1263.6,59.8 1264.5,59.8 1265.4,59.8 1266.3,59.8 1267.3,59.8 1268.2,59.8 1269.1,59.8 1270.0,59.8 1271.0,59.8 1271.9,59.8 1272.8,59.8 1273.7,59.8 1274.6,59.8 1275.6,59.8 1276.5,59.8 1277.4,59.8 1278.3,59.8 1279.3,59.8 1280.2,59.8 1281.1,59.8 1282.0,59.8 1282.9,59.8 1283.9,59.8 1284.8,59.8 1285.7,59.8 1286.6,59.8 1287.5,59.8 1288.5,59.8 1289.4,59.8 1290.3,59.8 1291.2,59.8 1292.2,59.8 1293.1,59.8 1294.0,59.8 1294.9,59.8 1295.8,59.8 1296.8,59.8 1297.7,59.8 1298.6,59.8 1299.5,59.8 1300.5,59.8 1301.4,59.8 1302.3,59.8 1303.2,59.8 1304.1,59.8 1305.1,59.8 1306.0,59.8 1306.9,59.8 1307.8,59.8 1308.7,59.8 1309.7,59.8 1310.6,59.8 1311.5,59.8 1312.4,59.8 1313.4,59.8 1314.3,59.8 1315.2,59.8" fill="none" stroke="#F14040" stroke-width="1.5" stroke-linejoin="round"/>
<polyline points="762.1,1033.5 763.1,1033.4 764.0,1033.3 764.9,1033.2 765.8,1033.1 766.8,1033.0 767.7,1033.0 768.6,1032.9 769.5,1032.8 770.4,1032.7 771.4,1032.6 772.3,1032.5 773.2,1032.4 774.1,1032.3 775.1,1032.2 776.0,1032.1 776.9,1032.0 777.8,1031.6 778.7,1030.8 779.7,1029.7 780.6,1028.6 781.5,1027.5 782.4,1026.4 783.4,1025.3 784.3,1024.2 785.2,1023.0 786.1,1021.9 787.0,1020.8 788.0,1019.8 788.9,1018.7 789.8,1017.6 790.7,1016.5 791.6,1015.2 792.6,1013.8 793.5,1012.4 794.4,1011.2 795.3,1009.7 796.3,1008.3 797.2,1006.8 798.1,1005.4 799.0,1003.9 799.9,1002.3 800.9,1001.0 801.8,999.6 802.7,998.1 803.6,996.4 804.6,994.9 805.5,993.3 806.4,991.8 807.3,990.3 808.2,988.8 809.2,987.2 810.1,985.5 811.0,983.8 811.9,982.4 812.8,980.8 813.8,979.5 814.7,977.7 815.6,976.0 816.5,974.3 817.5,972.8 818.4,971.4 819.3,969.4 820.2,968.1 821.1,966.5 822.1,964.9 823.0,962.8 823.9,961.4 824.8,960.0 825.8,958.5 826.7,956.6 827.6,954.7 828.5,953.3 829.4,951.5 830.4,950.4 831.3,948.3 832.2,946.7 833.1,944.7 834.0,943.3 835.0,940.9 835.9,938.6 836.8,936.1 837.7,934.1 838.7,932.1 839.6,930.3 840.5,928.6 841.4,926.8 842.3,924.3 843.3,922.4 844.2,920.3 845.1,918.6 846.0,916.2 847.0,914.0 847.9,912.3 848.8,910.9 849.7,909.2 850.6,906.8 851.6,904.4 852.5,902.6 853.4,901.1 854.3,899.4 855.2,897.6 856.2,895.5 857.1,894.0 858.0,892.1 858.9,890.5 859.9,888.3 860.8,886.5 861.7,884.0 862.6,881.9 863.5,879.7 864.5,879.1 865.4,877.7 866.3,876.4 867.2,874.0 868.2,872.7 869.1,870.6 870.0,868.8 870.9,866.9 871.8,865.7 872.8,864.6 873.7,862.5 874.6,860.4 875.5,858.0 876.4,856.4 877.4,854.7 878.3,853.5 879.2,851.3 880.1,849.6 881.1,847.6 882.0,846.7 882.9,845.3 883.8,844.1 884.7,841.7 885.7,839.7 886.6,837.7 887.5,836.4 888.4,834.6 889.4,832.9 890.3,831.2 891.2,829.4 892.1,826.7 893.0,824.7 894.0,823.2 894.9,822.3 895.8,820.8 896.7,818.7 897.6,816.3 898.6,814.1 899.5,812.3 900.4,810.7 901.3,808.9 902.3,807.8 903.2,806.6 904.1,805.3 905.0,803.8 905.9,802.5 906.9,801.4 907.8,800.0 908.7,798.3 909.6,796.9 910.6,795.6 911.5,794.3 912.4,792.7 913.3,790.9 914.2,790.4 915.2,789.0 916.1,788.2 917.0,786.4 917.9,785.1 918.8,783.2 919.8,781.5 920.7,780.0 921.6,778.1 922.5,776.8 923.5,775.2 924.4,773.7 925.3,772.1 926.2,769.9 927.1,768.1 928.1,765.8 929.0,764.7 929.9,763.3 930.8,762.1 931.8,760.3 932.7,758.6 933.6,756.9 934.5,755.4 935.4,753.3 936.4,752.0 937.3,750.5 938.2,749.7 939.1,748.5 940.0,747.6 941.0,746.5 941.9,744.9 942.8,743.3 943.7,741.7 944.7,740.3 945.6,738.9 946.5,737.7 947.4,736.5 948.3,735.6 949.3,734.7 950.2,733.3 951.1,732.3 952.0,730.6 953.0,729.5 953.9,727.9 954.8,727.0 955.7,726.2 956.6,725.5 957.6,724.6 958.5,723.6 959.4,722.7 960.3,721.7 961.2,720.7 962.2,719.9 963.1,719.0 964.0,718.4 964.9,717.4 965.9,716.6 966.8,715.1 967.7,713.9 968.6,713.1 969.5,712.3 970.5,711.7 971.4,710.7 972.3,709.9 973.2,709.2 974.2,708.6 975.1,708.0 976.0,707.2 976.9,706.1 977.8,705.5 978.8,704.7 979.7,703.8 980.6,703.1 981.5,702.5 982.4,701.9 983.4,701.1 984.3,699.9 985.2,699.1 986.1,698.5 987.1,698.1 988.0,697.4 988.9,696.2 989.8,695.3 990.7,694.6 991.7,694.1 992.6,693.3 993.5,692.3 994.4,691.7 995.4,691.0 996.3,690.9 997.2,690.3 998.1,690.2 999.0,689.6 1000.0,689.2 1000.9,688.7 1001.8,688.6 1002.7,688.3 1003.6,687.8 1004.6,687.2 1005.5,686.5 1006.4,685.9 1007.3,685.4 1008.3,684.9 1009.2,684.4 1010.1,683.9 1011.0,683.4 1011.9,682.9 1012.9,682.2 1013.8,681.6 1014.7,681.2 1015.6,680.8 1016.6,680.0 1017.5,679.5 1018.4,679.0 1019.3,678.7 1020.2,678.0 1021.2,677.6 1022.1,677.1 1023.0,676.6 1023.9,676.1 1024.8,675.6 1025.8,675.3 1026.7,674.8 1027.6,674.6 1028.5,674.4 1029.5,674.0 1030.4,673.4 1031.3,672.9 1032.2,672.3 1033.1,672.1 1034.1,671.5 1035.0,671.3 1035.9,671.1 1036.8,670.8 1037.8,670.4 1038.7,669.9 1039.6,669.6 1040.5,669.3 1041.4,669.0 1042.4,668.8 1043.3,668.7 1044.2,668.3 1045.1,668.0 1046.0,667.6 1047.0,667.3 1047.9,667.0 1048.8,666.9 1049.7,667.0 1050.7,666.7 1051.6,666.3 1052.5,665.9 1053.4,665.7 1054.3,665.5 1055.3,665.3 1056.2,665.1 1057.1,664.9 1058.0,664.8 1059.0,664.6 1059.9,664.4 1060.8,664.2 1061.7,663.9 1062.6,663.5 1063.6,663.2 1064.5,662.7 1065.4,662.4 1066.3,662.2 1067.2,662.2 1068.2,662.0 1069.1,661.7 1070.0,661.5 1070.9,661.3 1071.9,661.3 1072.8,661.1 1073.7,660.8 1074.6,660.3 1075.5,660.2 1076.5,660.1 1077.4,660.0 1078.3,659.9 1079.2,659.6 1080.2,659.5 1081.1,659.3 1082.0,659.2 1082.9,659.1 1083.8,658.9 1084.8,658.8 1085.7,658.7 1086.6,658.5 1087.5,658.2 1088.4,658.1 1089.4,658.1 1090.3,658.0 1091.2,657.9 1092.1,657.7 1093.1,657.6 1094.0,657.3 1094.9,657.2 1095.8,657.1 1096.7,657.2 1097.7,657.1 1098.6,656.8 1099.5,656.6 1100.4,656.4 1101.4,656.5 1102.3,656.2 1103.2,656.0 1104.1,655.9 1105.0,655.8 1106.0,655.6 1106.9,655.3 1107.8,655.3 1108.7,655.1 1109.6,655.0 1110.6,654.9 1111.5,655.0 1112.4,655.0 1113.3,654.9 1114.3,654.8 1115.2,654.6 1116.1,654.6 1117.0,654.4 1117.9,654.4 1118.9,654.4 1119.8,654.5 1120.7,654.5 1121.6,654.3 1122.6,654.2 1123.5,654.1 1124.4,654.1 1125.3,654.1 1126.2,654.1 1127.2,653.9 1128.1,653.8 1129.0,653.7 1129.9,653.8 1130.8,653.8 1131.8,653.6 1132.7,653.4 1133.6,653.4 1134.5,653.3 1135.5,653.2 1136.4,653.0 1137.3,653.0 1138.2,653.0 1139.1,652.9 1140.1,652.9 1141.0,652.9 1141.9,652.8 1142.8,652.8 1143.8,652.6 1144.7,652.7 1145.6,652.7 1146.5,652.7 1147.4,652.6 1148.4,652.6 1149.3,652.5 1150.2,652.5 1151.1,652.5 1152.1,652.5 1153.0,652.4 1153.9,652.3 1154.8,652.3 1155.7,652.3 1156.7,652.3 1157.6,652.2 1158.5,652.3 1159.4,652.3 1160.3,652.3 1161.3,652.3 1162.2,652.2 1163.1,652.2 1164.0,652.1 1165.0,652.1 1165.9,652.0 1166.8,652.1 1167.7,652.0 1168.6,652.1 1169.6,652.0 1170.5,652.0 1171.4,651.9 1172.3,651.8 1173.3,651.8 1174.2,651.8 1175.1,651.7 1176.0,651.6 1176.9,651.6 1177.9,651.6 1178.8,651.6 1179.7,651.7 1180.6,651.6 1181.5,651.5 1182.5,651.4 1183.4,651.5 1184.3,651.5 1185.2,651.5 1186.2,651.6 1187.1,651.5 1188.0,651.5 1188.9,651.5 1189.8,651.6 1190.8,651.6 1191.7,651.5 1192.6,651.3 1193.5,651.3 1194.5,651.4 1195.4,651.7 1196.3,651.7 1197.2,651.7 1198.1,651.6 1199.1,651.6 1200.0,651.6 1200.9,651.6 1201.8,651.6 1202.7,651.6 1203.7,651.5 1204.6,651.5 1205.5,651.5 1206.4,651.6 1207.4,651.6 1208.3,651.6 1209.2,651.5 1210.1,651.6 1211.0,651.6 1212.0,651.5 1212.9,651.5 1213.8,651.4 1214.7,651.3 1215.7,651.3 1216.6,651.3 1217.5,651.3 1218.4,651.3 1219.3,651.3 1220.3,651.4 1221.2,651.5 1222.1,651.5 1223.0,651.3 1223.9,651.4 1224.9,651.3 1225.8,651.4 1226.7,651.3 1227.6,651.3 1228.6,651.4 1229.5,651.4 1230.4,651.5 1231.3,651.4 1232.2,651.5 1233.2,651.4 1234.1,651.3 1235.0,651.3 1235.9,651.3 1236.9,651.5 1237.8,651.4 1238.7,651.5 1239.6,651.5 1240.5,651.5 1241.5,651.4 1242.4,651.4 1243.3,651.4 1244.2,651.5 1245.1,651.5 1246.1,651.3 1247.0,651.3 1247.9,651.3 1248.8,651.3 1249.8,651.4 1250.7,651.4 1251.6,651.5 1252.5,651.4 1253.4,651.4 1254.4,651.4 1255.3,651.4 1256.2,651.3 1257.1,651.2 1258.1,651.3 1259.0,651.3 1259.9,651.3 1260.8,651.4 1261.7,651.3 1262.7,651.4 1263.6,651.2 1264.5,651.3 1265.4,651.3 1266.3,651.4 1267.3,651.3 1268.2,651.3 1269.1,651.4 1270.0,651.4 1271.0,651.5 1271.9,651.4 1272.8,651.3 1273.7,651.2 1274.6,651.2 1275.6,651.3 1276.5,651.3 1277.4,651.3 1278.3,651.2 1279.3,651.3 1280.2,651.5 1281.1,651.7 1282.0,651.5 1282.9,651.3 1283.9,651.3 1284.8,651.3 1285.7,651.3 1286.6,651.3 1287.5,651.3 1288.5,651.2 1289.4,651.2 1290.3,651.3 1291.2,651.3 1292.2,651.3 1293.1,651.2 1294.0,651.1 1294.9,651.1 1295.8,651.3 1296.8,651.4 1297.7,651.4 1298.6,651.2 1299.5,651.1 1300.5,651.2 1301.4,651.3 1302.3,651.3 1303.2,651.3 1304.1,651.2 1305.1,651.2 1306.0,651.1 1306.9,651.2 1307.8,651.1 1308.7,651.1 1309.7,651.2 1310.6,651.2 1311.5,651.2 1312.4,651.2 1313.4,651.1 1314.3,651.1 1315.2,651.2" fill="none" stroke="#000" stroke-width="1.5" stroke-linejoin="round"/>
<polyline points="762.1,1033.5 763.1,1033.5 764.0,1033.5 764.9,1033.5 765.8,1033.5 766.8,1033.5 767.7,1033.5 768.6,1033.5 769.5,1029.5 770.4,1029.5 771.4,1029.5 772.3,1029.5 773.2,1029.5 774.1,1029.5 775.1,1029.5 776.0,1029.5 776.9,1029.5 777.8,1029.5 778.7,1029.5 779.7,1029.5 780.6,1029.5 781.5,1029.5 782.4,1029.5 783.4,1029.5 784.3,1029.5 785.2,1029.5 786.1,1029.5 787.0,1029.5 788.0,1025.5 788.9,1025.5 789.8,1025.5 790.7,1025.5 791.6,1025.5 792.6,1021.4 793.5,1021.4 794.4,1021.4 795.3,1021.4 796.3,1021.4 797.2,1021.4 798.1,1017.4 799.0,1017.4 799.9,1013.4 800.9,1013.4 801.8,1013.4 802.7,1013.4 803.6,1009.3 804.6,1009.3 805.5,1009.3 806.4,1001.3 807.3,1001.3 808.2,1001.3 809.2,1001.3 810.1,997.2 811.0,997.2 811.9,993.2 812.8,989.2 813.8,989.2 814.7,981.1 815.6,981.1 816.5,981.1 817.5,973.0 818.4,973.0 819.3,969.0 820.2,965.0 821.1,965.0 822.1,960.9 823.0,965.0 823.9,956.9 824.8,960.9 825.8,965.0 826.7,952.9 827.6,952.9 828.5,956.9 829.4,948.8 830.4,944.8 831.3,932.7 832.2,928.7 833.1,924.6 834.0,932.7 835.0,936.7 835.9,932.7 836.8,928.7 837.7,928.7 838.7,920.6 839.6,932.7 840.5,932.7 841.4,940.8 842.3,936.7 843.3,940.8 844.2,940.8 845.1,932.7 846.0,932.7 847.0,924.6 847.9,920.6 848.8,908.5 849.7,908.5 850.6,904.5 851.6,900.4 852.5,896.4 853.4,896.4 854.3,904.5 855.2,908.5 856.2,908.5 857.1,908.5 858.0,904.5 858.9,900.4 859.9,900.4 860.8,892.4 861.7,896.4 862.6,888.3 863.5,892.4 864.5,896.4 865.4,896.4 866.3,904.5 867.2,908.5 868.2,900.4 869.1,900.4 870.0,904.5 870.9,896.4 871.8,904.5 872.8,892.4 873.7,892.4 874.6,888.3 875.5,876.2 876.4,868.2 877.4,872.2 878.3,872.2 879.2,868.2 880.1,860.1 881.1,868.2 882.0,860.1 882.9,848.0 883.8,844.0 884.7,844.0 885.7,852.0 886.6,868.2 887.5,872.2 888.4,884.3 889.4,872.2 890.3,860.1 891.2,864.1 892.1,852.0 893.0,844.0 894.0,844.0 894.9,844.0 895.8,839.9 896.7,844.0 897.6,839.9 898.6,835.9 899.5,831.9 900.4,823.8 901.3,827.8 902.3,819.8 903.2,819.8 904.1,815.7 905.0,811.7 905.9,807.7 906.9,803.6 907.8,795.6 908.7,795.6 909.6,795.6 910.6,791.5 911.5,783.5 912.4,783.5 913.3,771.4 914.2,775.4 915.2,787.5 916.1,783.5 917.0,767.3 917.9,767.3 918.8,767.3 919.8,767.3 920.7,755.2 921.6,755.2 922.5,759.3 923.5,763.3 924.4,763.3 925.3,767.3 926.2,779.4 927.1,771.4 928.1,767.3 929.0,767.3 929.9,759.3 930.8,759.3 931.8,767.3 932.7,751.2 933.6,747.2 934.5,747.2 935.4,747.2 936.4,743.2 937.3,747.2 938.2,743.2 939.1,743.2 940.0,743.2 941.0,747.2 941.9,751.2 942.8,747.2 943.7,743.2 944.7,747.2 945.6,751.2 946.5,763.3 947.4,759.3 948.3,759.3 949.3,771.4 950.2,771.4 951.1,783.5 952.0,787.5 953.0,783.5 953.9,787.5 954.8,787.5 955.7,779.4 956.6,771.4 957.6,771.4 958.5,763.3 959.4,767.3 960.3,755.2 961.2,755.2 962.2,751.2 963.1,747.2 964.0,743.2 964.9,735.1 965.9,727.0 966.8,727.0 967.7,727.0 968.6,731.1 969.5,727.0 970.5,719.0 971.4,714.9 972.3,710.9 973.2,706.9 974.2,702.8 975.1,706.9 976.0,706.9 976.9,702.8 977.8,698.8 978.8,694.8 979.7,690.7 980.6,690.7 981.5,686.7 982.4,690.7 983.4,682.7 984.3,678.6 985.2,674.6 986.1,670.6 987.1,674.6 988.0,674.6 988.9,674.6 989.8,678.6 990.7,678.6 991.7,678.6 992.6,678.6 993.5,674.6 994.4,674.6 995.4,674.6 996.3,674.6 997.2,678.6 998.1,678.6 999.0,682.7 1000.0,678.6 1000.9,682.7 1001.8,690.7 1002.7,690.7 1003.6,694.8 1004.6,698.8 1005.5,702.8 1006.4,702.8 1007.3,690.7 1008.3,690.7 1009.2,686.7 1010.1,690.7 1011.0,690.7 1011.9,686.7 1012.9,682.7 1013.8,674.6 1014.7,674.6 1015.6,670.6 1016.6,666.5 1017.5,666.5 1018.4,662.5 1019.3,662.5 1020.2,658.5 1021.2,654.4 1022.1,650.4 1023.0,654.4 1023.9,658.5 1024.8,658.5 1025.8,662.5 1026.7,662.5 1027.6,666.5 1028.5,666.5 1029.5,662.5 1030.4,662.5 1031.3,658.5 1032.2,658.5 1033.1,658.5 1034.1,658.5 1035.0,662.5 1035.9,662.5 1036.8,662.5 1037.8,658.5 1038.7,662.5 1039.6,662.5 1040.5,658.5 1041.4,654.4 1042.4,654.4 1043.3,650.4 1044.2,650.4 1045.1,646.4 1046.0,642.3 1047.0,642.3 1047.9,642.3 1048.8,646.4 1049.7,646.4 1050.7,646.4 1051.6,646.4 1052.5,646.4 1053.4,646.4 1054.3,650.4 1055.3,650.4 1056.2,650.4 1057.1,650.4 1058.0,650.4 1059.0,650.4 1059.9,650.4 1060.8,650.4 1061.7,650.4 1062.6,650.4 1063.6,650.4 1064.5,650.4 1065.4,650.4 1066.3,650.4 1067.2,650.4 1068.2,654.4 1069.1,654.4 1070.0,654.4 1070.9,650.4 1071.9,650.4 1072.8,650.4 1073.7,650.4 1074.6,650.4 1075.5,646.4 1076.5,646.4 1077.4,646.4 1078.3,646.4 1079.2,646.4 1080.2,642.3 1081.1,642.3 1082.0,642.3 1082.9,646.4 1083.8,646.4 1084.8,646.4 1085.7,646.4 1086.6,650.4 1087.5,650.4 1088.4,650.4 1089.4,650.4 1090.3,650.4 1091.2,654.4 1092.1,650.4 1093.1,650.4 1094.0,650.4 1094.9,650.4 1095.8,650.4 1096.7,646.4 1097.7,646.4 1098.6,646.4 1099.5,646.4 1100.4,642.3 1101.4,642.3 1102.3,642.3 1103.2,646.4 1104.1,646.4 1105.0,646.4 1106.0,646.4 1106.9,646.4 1107.8,646.4 1108.7,646.4 1109.6,650.4 1110.6,650.4 1111.5,650.4 1112.4,650.4 1113.3,650.4 1114.3,646.4 1115.2,646.4 1116.1,646.4 1117.0,646.4 1117.9,642.3 1118.9,642.3 1119.8,642.3 1120.7,646.4 1121.6,646.4 1122.6,646.4 1123.5,646.4 1124.4,646.4 1125.3,646.4 1126.2,650.4 1127.2,650.4 1128.1,650.4 1129.0,650.4 1129.9,650.4 1130.8,650.4 1131.8,650.4 1132.7,650.4 1133.6,654.4 1134.5,654.4 1135.5,654.4 1136.4,654.4 1137.3,654.4 1138.2,654.4 1139.1,654.4 1140.1,650.4 1141.0,650.4 1141.9,650.4 1142.8,646.4 1143.8,646.4 1144.7,646.4 1145.6,646.4 1146.5,646.4 1147.4,646.4 1148.4,646.4 1149.3,646.4 1150.2,646.4 1151.1,646.4 1152.1,646.4 1153.0,646.4 1153.9,646.4 1154.8,646.4 1155.7,646.4 1156.7,646.4 1157.6,646.4 1158.5,642.3 1159.4,642.3 1160.3,642.3 1161.3,642.3 1162.2,642.3 1163.1,642.3 1164.0,642.3 1165.0,642.3 1165.9,642.3 1166.8,642.3 1167.7,642.3 1168.6,642.3 1169.6,642.3 1170.5,642.3 1171.4,642.3 1172.3,642.3 1173.3,642.3 1174.2,642.3 1175.1,642.3 1176.0,642.3 1176.9,642.3 1177.9,642.3 1178.8,642.3 1179.7,642.3 1180.6,642.3 1181.5,642.3 1182.5,642.3 1183.4,642.3 1184.3,642.3 1185.2,642.3 1186.2,642.3 1187.1,642.3 1188.0,642.3 1188.9,642.3 1189.8,642.3 1190.8,642.3 1191.7,642.3 1192.6,642.3 1193.5,642.3 1194.5,642.3 1195.4,642.3 1196.3,642.3 1197.2,642.3 1198.1,642.3 1199.1,642.3 1200.0,642.3 1200.9,642.3 1201.8,642.3 1202.7,642.3 1203.7,642.3 1204.6,642.3 1205.5,642.3 1206.4,642.3 1207.4,642.3 1208.3,642.3 1209.2,642.3 1210.1,642.3 1211.0,642.3 1212.0,642.3 1212.9,642.3 1213.8,642.3 1214.7,642.3 1215.7,642.3 1216.6,642.3 1217.5,642.3 1218.4,642.3 1219.3,642.3 1220.3,642.3 1221.2,642.3 1222.1,642.3 1223.0,642.3 1223.9,642.3 1224.9,642.3 1225.8,642.3 1226.7,642.3 1227.6,642.3 1228.6,642.3 1229.5,642.3 1230.4,642.3 1231.3,642.3 1232.2,642.3 1233.2,642.3 1234.1,642.3 1235.0,642.3 1235.9,642.3 1236.9,642.3 1237.8,642.3 1238.7,642.3 1239.6,642.3 1240.5,642.3 1241.5,642.3 1242.4,642.3 1243.3,642.3 1244.2,642.3 1245.1,642.3 1246.1,642.3 1247.0,642.3 1247.9,642.3 1248.8,642.3 1249.8,642.3 1250.7,642.3 1251.6,642.3 1252.5,642.3 1253.4,642.3 1254.4,642.3 1255.3,642.3 1256.2,642.3 1257.1,642.3 1258.1,642.3 1259.0,642.3 1259.9,642.3 1260.8,642.3 1261.7,642.3 1262.7,642.3 1263.6,642.3 1264.5,642.3 1265.4,642.3 1266.3,642.3 1267.3,642.3 1268.2,642.3 1269.1,642.3 1270.0,642.3 1271.0,642.3 1271.9,642.3 1272.8,642.3 1273.7,642.3 1274.6,642.3 1275.6,642.3 1276.5,642.3 1277.4,642.3 1278.3,642.3 1279.3,642.3 1280.2,642.3 1281.1,642.3 1282.0,642.3 1282.9,642.3 1283.9,642.3 1284.8,642.3 1285.7,642.3 1286.6,642.3 1287.5,642.3 1288.5,642.3 1289.4,642.3 1290.3,642.3 1291.2,642.3 1292.2,642.3 1293.1,642.3 1294.0,642.3 1294.9,642.3 1295.8,642.3 1296.8,642.3 1297.7,642.3 1298.6,642.3 1299.5,642.3 1300.5,642.3 1301.4,642.3 1302.3,642.3 1303.2,642.3 1304.1,642.3 1305.1,642.3 1306.0,642.3 1306.9,642.3 1307.8,642.3 1308.7,642.3 1309.7,642.3 1310.6,642.3 1311.5,642.3 1312.4,642.3 1313.4,642.3 1314.3,642.3 1315.2,642.3" fill="none" stroke="#FF0000" stroke-width="1.5" stroke-linejoin="round"/>
<polyline points="762.1,1608.5 763.0,1608.4 763.8,1608.4 764.6,1608.4 765.5,1608.3 766.3,1608.3 767.1,1608.3 768.0,1608.2 768.8,1608.2 769.6,1608.2 770.4,1608.1 771.3,1608.1 772.1,1608.1 772.9,1608.0 773.8,1608.0 774.6,1608.0 775.4,1607.9 776.3,1607.9 777.1,1607.9 777.9,1607.8 778.7,1607.8 779.6,1607.7 780.4,1607.7 781.2,1607.5 782.1,1607.1 782.9,1606.6 783.7,1606.0 784.5,1605.5 785.4,1605.0 786.2,1604.4 787.0,1603.9 787.9,1603.3 788.7,1602.8 789.5,1602.2 790.4,1601.7 791.2,1601.2 792.0,1600.6 792.8,1600.1 793.7,1599.5 794.5,1598.9 795.3,1598.4 796.2,1597.8 797.0,1597.3 797.8,1596.8 798.7,1595.8 799.5,1594.8 800.3,1593.5 801.1,1592.3 802.0,1591.1 802.8,1589.7 803.6,1588.5 804.5,1587.2 805.3,1586.1 806.1,1584.8 806.9,1583.6 807.8,1582.2 808.6,1580.9 809.4,1579.4 810.3,1578.2 811.1,1576.9 811.9,1575.8 812.8,1574.7 813.6,1573.5 814.4,1572.2 815.2,1570.9 816.1,1569.4 816.9,1568.1 817.7,1566.5 818.6,1565.1 819.4,1563.6 820.2,1562.1 821.0,1560.5 821.9,1559.1 822.7,1557.6 823.5,1556.2 824.4,1554.8 825.2,1553.5 826.0,1551.8 826.9,1550.1 827.7,1548.6 828.5,1547.4 829.3,1545.8 830.2,1544.3 831.0,1542.8 831.8,1541.3 832.7,1539.8 833.5,1538.0 834.3,1536.5 835.2,1534.7 836.0,1533.0 836.8,1531.1 837.6,1529.5 838.5,1528.1 839.3,1527.0 840.1,1525.3 841.0,1523.5 841.8,1521.4 842.6,1519.8 843.4,1518.2 844.3,1516.7 845.1,1515.1 845.9,1513.3 846.8,1511.6 847.6,1509.8 848.4,1507.8 849.3,1506.0 850.1,1504.7 850.9,1503.1 851.7,1501.4 852.6,1499.7 853.4,1498.2 854.2,1496.6 855.1,1494.9 855.9,1493.5 856.7,1492.1 857.6,1490.3 858.4,1488.3 859.2,1486.4 860.0,1484.7 860.9,1482.9 861.7,1481.4 862.5,1479.8 863.4,1478.6 864.2,1476.9 865.0,1475.6 865.8,1473.9 866.7,1471.9 867.5,1470.2 868.3,1468.6 869.2,1467.0 870.0,1465.3 870.8,1463.5 871.7,1462.1 872.5,1460.5 873.3,1458.7 874.1,1457.2 875.0,1455.7 875.8,1454.5 876.6,1453.4 877.5,1452.0 878.3,1450.4 879.1,1448.5 879.9,1446.5 880.8,1445.2 881.6,1444.2 882.4,1442.6 883.3,1440.8 884.1,1439.2 884.9,1437.9 885.8,1436.9 886.6,1435.8 887.4,1434.9 888.2,1433.8 889.1,1431.6 889.9,1430.4 890.7,1429.0 891.6,1428.2 892.4,1426.8 893.2,1425.6 894.1,1424.2 894.9,1422.5 895.7,1420.8 896.5,1419.8 897.4,1419.1 898.2,1417.9 899.0,1416.6 899.9,1415.1 900.7,1414.3 901.5,1412.3 902.3,1410.7 903.2,1409.4 904.0,1408.6 904.8,1407.4 905.7,1406.7 906.5,1406.0 907.3,1405.3 908.2,1403.4 909.0,1402.2 909.8,1401.1 910.6,1400.2 911.5,1398.6 912.3,1396.8 913.1,1395.9 914.0,1395.5 914.8,1394.3 915.6,1393.3 916.5,1392.1 917.3,1391.8 918.1,1390.3 918.9,1388.8 919.8,1387.7 920.6,1387.0 921.4,1386.2 922.3,1385.2 923.1,1383.5 923.9,1382.6 924.7,1382.1 925.6,1381.8 926.4,1380.5 927.2,1379.2 928.1,1378.5 928.9,1378.1 929.7,1376.9 930.6,1375.1 931.4,1374.2 932.2,1373.0 933.0,1372.1 933.9,1371.1 934.7,1370.3 935.5,1369.1 936.4,1367.5 937.2,1366.4 938.0,1365.9 938.8,1365.2 939.7,1364.7 940.5,1364.0 941.3,1363.7 942.2,1362.8 943.0,1362.0 943.8,1360.2 944.7,1359.4 945.5,1358.3 946.3,1357.8 947.1,1357.0 948.0,1356.2 948.8,1356.2 949.6,1355.3 950.5,1354.6 951.3,1353.8 952.1,1353.3 953.0,1352.4 953.8,1351.0 954.6,1350.1 955.4,1349.6 956.3,1348.7 957.1,1347.3 957.9,1346.2 958.8,1345.2 959.6,1344.7 960.4,1343.9 961.2,1342.6 962.1,1341.4 962.9,1340.3 963.7,1339.8 964.6,1339.2 965.4,1338.6 966.2,1337.5 967.1,1336.3 967.9,1335.4 968.7,1335.0 969.5,1334.1 970.4,1333.1 971.2,1332.0 972.0,1331.4 972.9,1330.6 973.7,1329.8 974.5,1328.9 975.4,1328.1 976.2,1327.2 977.0,1326.5 977.8,1326.2 978.7,1325.8 979.5,1325.2 980.3,1324.5 981.2,1323.7 982.0,1322.9 982.8,1322.4 983.6,1322.2 984.5,1321.6 985.3,1320.7 986.1,1319.5 987.0,1319.4 987.8,1318.4 988.6,1317.8 989.5,1317.0 990.3,1316.9 991.1,1316.5 991.9,1316.0 992.8,1315.4 993.6,1315.1 994.4,1314.3 995.3,1313.7 996.1,1312.9 996.9,1312.6 997.7,1312.5 998.6,1311.9 999.4,1311.4 1000.2,1310.4 1001.1,1310.0 1001.9,1309.6 1002.7,1308.8 1003.6,1308.4 1004.4,1307.8 1005.2,1307.6 1006.0,1306.8 1006.9,1305.9 1007.7,1305.2 1008.5,1304.9 1009.4,1304.2 1010.2,1303.7 1011.0,1302.6 1011.9,1302.2 1012.7,1301.5 1013.5,1301.2 1014.3,1300.5 1015.2,1299.6 1016.0,1298.9 1016.8,1298.2 1017.7,1297.4 1018.5,1296.7 1019.3,1296.5 1020.1,1296.5 1021.0,1296.1 1021.8,1295.4 1022.6,1294.8 1023.5,1294.3 1024.3,1293.6 1025.1,1293.5 1026.0,1293.0 1026.8,1292.3 1027.6,1291.1 1028.4,1290.3 1029.3,1290.2 1030.1,1289.6 1030.9,1289.1 1031.8,1288.7 1032.6,1288.8 1033.4,1288.4 1034.3,1288.1 1035.1,1287.5 1035.9,1287.1 1036.7,1286.6 1037.6,1286.0 1038.4,1285.3 1039.2,1285.0 1040.1,1284.6 1040.9,1284.0 1041.7,1283.4 1042.5,1282.7 1043.4,1282.4 1044.2,1281.8 1045.0,1281.5 1045.9,1281.5 1046.7,1281.3 1047.5,1281.1 1048.4,1280.7 1049.2,1280.3 1050.0,1280.1 1050.8,1279.7 1051.7,1279.2 1052.5,1278.6 1053.3,1278.0 1054.2,1277.8 1055.0,1277.4 1055.8,1277.0 1056.6,1276.5 1057.5,1276.1 1058.3,1275.8 1059.1,1275.4 1060.0,1275.0 1060.8,1274.6 1061.6,1274.5 1062.5,1274.4 1063.3,1274.1 1064.1,1273.7 1064.9,1273.4 1065.8,1273.5 1066.6,1273.6 1067.4,1273.3 1068.3,1272.5 1069.1,1271.6 1069.9,1271.3 1070.8,1271.0 1071.6,1270.9 1072.4,1271.0 1073.2,1270.6 1074.1,1270.4 1074.9,1270.0 1075.7,1269.9 1076.6,1269.6 1077.4,1269.4 1078.2,1269.4 1079.0,1269.3 1079.9,1269.5 1080.7,1269.3 1081.5,1268.8 1082.4,1268.6 1083.2,1268.3 1084.0,1268.2 1084.9,1267.9 1085.7,1267.8 1086.5,1268.0 1087.3,1267.9 1088.2,1267.6 1089.0,1267.4 1089.8,1267.3 1090.7,1267.5 1091.5,1267.2 1092.3,1267.2 1093.2,1266.7 1094.0,1266.7 1094.8,1266.6 1095.6,1266.4 1096.5,1266.1 1097.3,1265.7 1098.1,1265.7 1099.0,1265.7 1099.8,1265.7 1100.6,1265.5 1101.4,1265.2 1102.3,1264.9 1103.1,1264.8 1103.9,1264.9 1104.8,1264.9 1105.6,1264.6 1106.4,1264.2 1107.3,1264.1 1108.1,1264.2 1108.9,1264.1 1109.7,1263.8 1110.6,1263.6 1111.4,1263.8 1112.2,1263.9 1113.1,1264.0 1113.9,1263.7 1114.7,1263.8 1115.5,1263.5 1116.4,1263.4 1117.2,1263.0 1118.0,1263.2 1118.9,1263.2 1119.7,1263.0 1120.5,1262.9 1121.4,1262.8 1122.2,1262.8 1123.0,1262.6 1123.8,1262.4 1124.7,1262.5 1125.5,1262.2 1126.3,1262.1 1127.2,1261.9 1128.0,1261.8 1128.8,1261.6 1129.7,1261.4 1130.5,1261.7 1131.3,1261.8 1132.1,1261.8 1133.0,1261.5 1133.8,1261.3 1134.6,1261.2 1135.5,1261.4 1136.3,1261.3 1137.1,1261.4 1137.9,1261.1 1138.8,1261.2 1139.6,1261.0 1140.4,1260.9 1141.3,1260.6 1142.1,1260.5 1142.9,1260.5 1143.8,1260.6 1144.6,1260.5 1145.4,1260.2 1146.2,1260.2 1147.1,1260.1 1147.9,1260.3 1148.7,1260.1 1149.6,1260.0 1150.4,1259.9 1151.2,1260.1 1152.1,1260.3 1152.9,1260.5 1153.7,1260.3 1154.5,1260.0 1155.4,1259.8 1156.2,1259.8 1157.0,1260.0 1157.9,1260.0 1158.7,1260.1 1159.5,1260.0 1160.3,1260.1 1161.2,1260.0 1162.0,1259.9 1162.8,1259.9 1163.7,1259.7 1164.5,1259.7 1165.3,1259.6 1166.2,1259.5 1167.0,1259.7 1167.8,1259.9 1168.6,1260.0 1169.5,1259.6 1170.3,1259.1 1171.1,1259.1 1172.0,1259.1 1172.8,1259.4 1173.6,1259.4 1174.4,1259.4 1175.3,1259.4 1176.1,1259.5 1176.9,1259.6 1177.8,1259.4 1178.6,1259.7 1179.4,1259.7 1180.3,1259.7 1181.1,1259.3 1181.9,1259.3 1182.7,1259.3 1183.6,1259.4 1184.4,1259.3 1185.2,1259.4 1186.1,1259.4 1186.9,1259.4 1187.7,1259.2 1188.6,1259.3 1189.4,1259.5 1190.2,1259.9 1191.0,1259.5 1191.9,1259.3 1192.7,1259.1 1193.5,1259.4 1194.4,1259.5 1195.2,1259.8 1196.0,1259.6 1196.8,1259.5 1197.7,1259.5 1198.5,1259.6 1199.3,1259.7 1200.2,1259.5 1201.0,1259.3 1201.8,1259.1 1202.7,1258.9 1203.5,1258.8 1204.3,1258.8 1205.1,1259.1 1206.0,1259.3 1206.8,1259.3 1207.6,1259.1 1208.5,1259.1 1209.3,1259.5 1210.1,1259.7 1211.0,1259.6 1211.8,1259.3 1212.6,1259.1 1213.4,1259.3 1214.3,1259.5 1215.1,1259.5 1215.9,1259.3 1216.8,1258.8 1217.6,1258.9 1218.4,1259.0 1219.2,1259.4 1220.1,1259.2 1220.9,1259.0 1221.7,1258.9 1222.6,1259.0 1223.4,1259.2 1224.2,1259.2 1225.1,1259.6 1225.9,1259.6 1226.7,1259.5 1227.5,1259.3 1228.4,1259.4 1229.2,1259.9 1230.0,1259.5 1230.9,1259.4 1231.7,1259.0 1232.5,1259.1 1233.3,1259.3 1234.2,1259.3 1235.0,1259.3 1235.8,1259.2 1236.7,1259.2 1237.5,1259.2 1238.3,1259.0 1239.2,1259.1 1240.0,1259.1 1240.8,1259.4 1241.6,1259.3 1242.5,1259.7 1243.3,1259.5 1244.1,1259.5 1245.0,1259.3 1245.8,1259.3 1246.6,1259.3 1247.5,1259.2 1248.3,1259.3 1249.1,1259.0 1249.9,1258.9 1250.8,1259.0 1251.6,1259.0 1252.4,1259.1 1253.3,1259.0 1254.1,1259.1 1254.9,1259.0 1255.7,1259.2 1256.6,1259.1 1257.4,1259.1 1258.2,1259.0 1259.1,1258.7 1259.9,1259.0 1260.7,1258.9 1261.6,1259.2 1262.4,1259.2 1263.2,1259.4 1264.0,1259.4 1264.9,1259.3 1265.7,1259.3 1266.5,1259.1 1267.4,1258.9 1268.2,1259.0 1269.0,1259.0 1269.8,1259.1 1270.7,1258.9 1271.5,1258.7 1272.3,1258.6 1273.2,1258.6 1274.0,1258.8 1274.8,1259.3 1275.7,1259.2 1276.5,1259.3 1277.3,1259.0 1278.1,1259.1 1279.0,1258.9 1279.8,1258.7 1280.6,1258.5 1281.5,1258.5 1282.3,1258.8 1283.1,1258.8 1284.0,1258.9 1284.8,1259.1 1285.6,1258.9 1286.4,1259.0 1287.3,1259.0 1288.1,1259.1 1288.9,1258.7 1289.8,1258.6 1290.6,1258.9 1291.4,1258.8 1292.2,1258.7 1293.1,1258.8 1293.9,1259.3 1294.7,1259.1 1295.6,1258.7 1296.4,1258.6 1297.2,1258.7 1298.1,1258.7 1298.9,1258.8 1299.7,1259.1 1300.5,1259.2 1301.4,1259.3 1302.2,1259.1 1303.0,1258.9 1303.9,1258.7 1304.7,1258.7 1305.5,1258.9 1306.4,1258.9 1307.2,1258.7 1308.0,1258.9 1308.8,1259.0 1309.7,1258.9 1310.5,1258.6 1311.3,1258.7 1312.2,1259.0 1313.0,1259.4 1313.8,1259.4 1314.6,1259.4" fill="none" stroke="#000" stroke-width="1.5" stroke-linejoin="round"/>
<polyline points="762.1,1608.5 763.0,1608.5 763.8,1608.5 764.6,1608.5 765.5,1608.5 766.3,1608.5 767.1,1608.5 768.0,1608.5 768.8,1608.5 769.6,1608.5 770.4,1608.5 771.3,1608.5 772.1,1608.5 772.9,1608.5 773.8,1608.5 774.6,1608.5 775.4,1608.5 776.3,1608.5 777.1,1608.5 777.9,1608.5 778.7,1608.5 779.6,1608.5 780.4,1608.5 781.2,1608.5 782.1,1608.5 782.9,1608.5 783.7,1608.5 784.5,1608.5 785.4,1604.5 786.2,1604.5 787.0,1600.4 787.9,1600.4 788.7,1600.4 789.5,1600.4 790.4,1600.4 791.2,1600.4 792.0,1600.4 792.8,1600.4 793.7,1600.4 794.5,1600.4 795.3,1600.4 796.2,1596.4 797.0,1596.4 797.8,1596.4 798.7,1596.4 799.5,1588.3 800.3,1588.3 801.1,1584.3 802.0,1580.3 802.8,1580.3 803.6,1572.2 804.5,1568.2 805.3,1572.2 806.1,1568.2 806.9,1572.2 807.8,1576.2 808.6,1572.2 809.4,1572.2 810.3,1576.2 811.1,1576.2 811.9,1580.3 812.8,1584.3 813.6,1588.3 814.4,1588.3 815.2,1596.4 816.1,1588.3 816.9,1580.3 817.7,1572.2 818.6,1572.2 819.4,1572.2 820.2,1576.2 821.0,1572.2 821.9,1572.2 822.7,1572.2 823.5,1572.2 824.4,1572.2 825.2,1572.2 826.0,1572.2 826.9,1568.2 827.7,1556.1 828.5,1556.1 829.3,1552.0 830.2,1539.9 831.0,1535.9 831.8,1535.9 832.7,1527.8 833.5,1519.8 834.3,1507.7 835.2,1507.7 836.0,1507.7 836.8,1507.7 837.6,1507.7 838.5,1519.8 839.3,1515.8 840.1,1523.8 841.0,1535.9 841.8,1539.9 842.6,1539.9 843.4,1539.9 844.3,1539.9 845.1,1539.9 845.9,1544.0 846.8,1548.0 847.6,1535.9 848.4,1548.0 849.3,1552.0 850.1,1548.0 850.9,1548.0 851.7,1552.0 852.6,1548.0 853.4,1544.0 854.2,1544.0 855.1,1523.8 855.9,1503.7 856.7,1491.6 857.6,1491.6 858.4,1483.5 859.2,1487.5 860.0,1475.4 860.9,1475.4 861.7,1467.4 862.5,1467.4 863.4,1451.2 864.2,1447.2 865.0,1435.1 865.8,1459.3 866.7,1491.6 867.5,1495.6 868.3,1511.7 869.2,1495.6 870.0,1483.5 870.8,1471.4 871.7,1455.3 872.5,1443.2 873.3,1443.2 874.1,1455.3 875.0,1439.2 875.8,1443.2 876.6,1439.2 877.5,1439.2 878.3,1451.2 879.1,1471.4 879.9,1487.5 880.8,1503.7 881.6,1511.7 882.4,1507.7 883.3,1499.6 884.1,1491.6 884.9,1491.6 885.8,1463.3 886.6,1471.4 887.4,1467.4 888.2,1439.2 889.1,1451.2 889.9,1439.2 890.7,1435.1 891.6,1435.1 892.4,1447.2 893.2,1451.2 894.1,1439.2 894.9,1427.1 895.7,1447.2 896.5,1443.2 897.4,1451.2 898.2,1443.2 899.0,1447.2 899.9,1459.3 900.7,1463.3 901.5,1467.4 902.3,1451.2 903.2,1427.1 904.0,1431.1 904.8,1431.1 905.7,1427.1 906.5,1427.1 907.3,1423.0 908.2,1427.1 909.0,1431.1 909.8,1443.2 910.6,1443.2 911.5,1439.2 912.3,1443.2 913.1,1435.1 914.0,1435.1 914.8,1447.2 915.6,1439.2 916.5,1459.3 917.3,1451.2 918.1,1431.1 918.9,1435.1 919.8,1431.1 920.6,1419.0 921.4,1402.9 922.3,1398.8 923.1,1398.8 923.9,1394.8 924.7,1394.8 925.6,1406.9 926.4,1402.9 927.2,1398.8 928.1,1410.9 928.9,1406.9 929.7,1419.0 930.6,1410.9 931.4,1431.1 932.2,1439.2 933.0,1447.2 933.9,1423.0 934.7,1406.9 935.5,1394.8 936.4,1382.7 937.2,1382.7 938.0,1378.7 938.8,1398.8 939.7,1386.7 940.5,1394.8 941.3,1398.8 942.2,1410.9 943.0,1394.8 943.8,1398.8 944.7,1415.0 945.5,1410.9 946.3,1410.9 947.1,1423.0 948.0,1423.0 948.8,1427.1 949.6,1435.1 950.5,1435.1 951.3,1410.9 952.1,1398.8 953.0,1390.8 953.8,1398.8 954.6,1394.8 955.4,1386.7 956.3,1382.7 957.1,1390.8 957.9,1402.9 958.8,1386.7 959.6,1390.8 960.4,1398.8 961.2,1406.9 962.1,1410.9 962.9,1394.8 963.7,1394.8 964.6,1398.8 965.4,1402.9 966.2,1378.7 967.1,1362.6 967.9,1354.5 968.7,1350.5 969.5,1370.6 970.4,1370.6 971.2,1366.6 972.0,1386.7 972.9,1398.8 973.7,1419.0 974.5,1423.0 975.4,1406.9 976.2,1402.9 977.0,1390.8 977.8,1382.7 978.7,1370.6 979.5,1354.5 980.3,1342.4 981.2,1354.5 982.0,1354.5 982.8,1358.5 983.6,1346.4 984.5,1358.5 985.3,1346.4 986.1,1338.4 987.0,1338.4 987.8,1346.4 988.6,1346.4 989.5,1354.5 990.3,1342.4 991.1,1334.3 991.9,1350.5 992.8,1354.5 993.6,1354.5 994.4,1358.5 995.3,1346.4 996.1,1354.5 996.9,1358.5 997.7,1370.6 998.6,1354.5 999.4,1350.5 1000.2,1338.4 1001.1,1330.3 1001.9,1342.4 1002.7,1338.4 1003.6,1334.3 1004.4,1330.3 1005.2,1334.3 1006.0,1334.3 1006.9,1334.3 1007.7,1338.4 1008.5,1338.4 1009.4,1342.4 1010.2,1350.5 1011.0,1342.4 1011.9,1318.2 1012.7,1322.2 1013.5,1302.1 1014.3,1290.0 1015.2,1298.0 1016.0,1302.1 1016.8,1318.2 1017.7,1314.2 1018.5,1322.2 1019.3,1334.3 1020.1,1338.4 1021.0,1338.4 1021.8,1338.4 1022.6,1330.3 1023.5,1330.3 1024.3,1334.3 1025.1,1322.2 1026.0,1306.1 1026.8,1314.2 1027.6,1322.2 1028.4,1330.3 1029.3,1322.2 1030.1,1326.3 1030.9,1322.2 1031.8,1338.4 1032.6,1338.4 1033.4,1338.4 1034.3,1318.2 1035.1,1318.2 1035.9,1330.3 1036.7,1318.2 1037.6,1302.1 1038.4,1294.0 1039.2,1318.2 1040.1,1318.2 1040.9,1318.2 1041.7,1322.2 1042.5,1330.3 1043.4,1338.4 1044.2,1330.3 1045.0,1322.2 1045.9,1310.1 1046.7,1306.1 1047.5,1314.2 1048.4,1314.2 1049.2,1334.3 1050.0,1342.4 1050.8,1334.3 1051.7,1326.3 1052.5,1326.3 1053.3,1314.2 1054.2,1314.2 1055.0,1322.2 1055.8,1314.2 1056.6,1318.2 1057.5,1318.2 1058.3,1322.2 1059.1,1302.1 1060.0,1294.0 1060.8,1306.1 1061.6,1294.0 1062.5,1286.0 1063.3,1290.0 1064.1,1281.9 1064.9,1269.8 1065.8,1269.8 1066.6,1269.8 1067.4,1265.8 1068.3,1281.9 1069.1,1290.0 1069.9,1298.0 1070.8,1298.0 1071.6,1294.0 1072.4,1302.1 1073.2,1314.2 1074.1,1310.1 1074.9,1310.1 1075.7,1306.1 1076.6,1306.1 1077.4,1310.1 1078.2,1310.1 1079.0,1310.1 1079.9,1314.2 1080.7,1322.2 1081.5,1306.1 1082.4,1286.0 1083.2,1286.0 1084.0,1302.1 1084.9,1298.0 1085.7,1286.0 1086.5,1302.1 1087.3,1310.1 1088.2,1314.2 1089.0,1322.2 1089.8,1330.3 1090.7,1322.2 1091.5,1330.3 1092.3,1338.4 1093.2,1314.2 1094.0,1322.2 1094.8,1330.3 1095.6,1310.1 1096.5,1290.0 1097.3,1290.0 1098.1,1286.0 1099.0,1294.0 1099.8,1298.0 1100.6,1286.0 1101.4,1281.9 1102.3,1281.9 1103.1,1290.0 1103.9,1298.0 1104.8,1302.1 1105.6,1306.1 1106.4,1294.0 1107.3,1298.0 1108.1,1298.0 1108.9,1294.0 1109.7,1290.0 1110.6,1290.0 1111.4,1286.0 1112.2,1290.0 1113.1,1302.1 1113.9,1294.0 1114.7,1294.0 1115.5,1294.0 1116.4,1290.0 1117.2,1294.0 1118.0,1286.0 1118.9,1290.0 1119.7,1294.0 1120.5,1294.0 1121.4,1298.0 1122.2,1298.0 1123.0,1298.0 1123.8,1298.0 1124.7,1310.1 1125.5,1318.2 1126.3,1322.2 1127.2,1322.2 1128.0,1330.3 1128.8,1326.3 1129.7,1326.3 1130.5,1322.2 1131.3,1322.2 1132.1,1306.1 1133.0,1302.1 1133.8,1294.0 1134.6,1302.1 1135.5,1302.1 1136.3,1302.1 1137.1,1286.0 1137.9,1277.9 1138.8,1286.0 1139.6,1281.9 1140.4,1269.8 1141.3,1281.9 1142.1,1286.0 1142.9,1281.9 1143.8,1286.0 1144.6,1298.0 1145.4,1294.0 1146.2,1294.0 1147.1,1290.0 1147.9,1302.1 1148.7,1302.1 1149.6,1290.0 1150.4,1286.0 1151.2,1281.9 1152.1,1286.0 1152.9,1277.9 1153.7,1277.9 1154.5,1273.9 1155.4,1273.9 1156.2,1277.9 1157.0,1269.8 1157.9,1277.9 1158.7,1281.9 1159.5,1281.9 1160.3,1290.0 1161.2,1302.1 1162.0,1298.0 1162.8,1298.0 1163.7,1298.0 1164.5,1294.0 1165.3,1281.9 1166.2,1294.0 1167.0,1281.9 1167.8,1294.0 1168.6,1302.1 1169.5,1326.3 1170.3,1326.3 1171.1,1310.1 1172.0,1298.0 1172.8,1302.1 1173.6,1290.0 1174.4,1281.9 1175.3,1281.9 1176.1,1286.0 1176.9,1281.9 1177.8,1277.9 1178.6,1273.9 1179.4,1269.8 1180.3,1277.9 1181.1,1277.9 1181.9,1281.9 1182.7,1281.9 1183.6,1273.9 1184.4,1269.8 1185.2,1277.9 1186.1,1277.9 1186.9,1281.9 1187.7,1281.9 1188.6,1277.9 1189.4,1277.9 1190.2,1273.9 1191.0,1277.9 1191.9,1277.9 1192.7,1273.9 1193.5,1257.7 1194.4,1257.7 1195.2,1257.7 1196.0,1261.8 1196.8,1265.8 1197.7,1257.7 1198.5,1261.8 1199.3,1269.8 1200.2,1273.9 1201.0,1269.8 1201.8,1273.9 1202.7,1273.9 1203.5,1273.9 1204.3,1277.9 1205.1,1273.9 1206.0,1281.9 1206.8,1265.8 1207.6,1286.0 1208.5,1290.0 1209.3,1286.0 1210.1,1281.9 1211.0,1281.9 1211.8,1281.9 1212.6,1277.9 1213.4,1277.9 1214.3,1273.9 1215.1,1273.9 1215.9,1277.9 1216.8,1277.9 1217.6,1273.9 1218.4,1273.9 1219.2,1273.9 1220.1,1265.8 1220.9,1265.8 1221.7,1265.8 1222.6,1269.8 1223.4,1269.8 1224.2,1269.8 1225.1,1269.8 1225.9,1269.8 1226.7,1265.8 1227.5,1269.8 1228.4,1277.9 1229.2,1277.9 1230.0,1286.0 1230.9,1286.0 1231.7,1277.9 1232.5,1277.9 1233.3,1273.9 1234.2,1273.9 1235.0,1269.8 1235.8,1269.8 1236.7,1273.9 1237.5,1294.0 1238.3,1290.0 1239.2,1281.9 1240.0,1277.9 1240.8,1281.9 1241.6,1273.9 1242.5,1281.9 1243.3,1281.9 1244.1,1273.9 1245.0,1277.9 1245.8,1277.9 1246.6,1277.9 1247.5,1281.9 1248.3,1281.9 1249.1,1281.9 1249.9,1286.0 1250.8,1277.9 1251.6,1277.9 1252.4,1281.9 1253.3,1290.0 1254.1,1286.0 1254.9,1277.9 1255.7,1277.9 1256.6,1273.9 1257.4,1273.9 1258.2,1273.9 1259.1,1277.9 1259.9,1273.9 1260.7,1281.9 1261.6,1273.9 1262.4,1277.9 1263.2,1273.9 1264.0,1273.9 1264.9,1277.9 1265.7,1269.8 1266.5,1277.9 1267.4,1277.9 1268.2,1281.9 1269.0,1277.9 1269.8,1273.9 1270.7,1273.9 1271.5,1273.9 1272.3,1277.9 1273.2,1273.9 1274.0,1277.9 1274.8,1277.9 1275.7,1277.9 1276.5,1281.9 1277.3,1286.0 1278.1,1281.9 1279.0,1277.9 1279.8,1273.9 1280.6,1286.0 1281.5,1281.9 1282.3,1273.9 1283.1,1273.9 1284.0,1269.8 1284.8,1273.9 1285.6,1273.9 1286.4,1269.8 1287.3,1277.9 1288.1,1286.0 1288.9,1277.9 1289.8,1273.9 1290.6,1273.9 1291.4,1273.9 1292.2,1269.8 1293.1,1277.9 1293.9,1277.9 1294.7,1277.9 1295.6,1290.0 1296.4,1286.0 1297.2,1281.9 1298.1,1281.9 1298.9,1273.9 1299.7,1273.9 1300.5,1269.8 1301.4,1261.8 1302.2,1269.8 1303.0,1273.9 1303.9,1265.8 1304.7,1265.8 1305.5,1261.8 1306.4,1253.7 1307.2,1261.8 1308.0,1261.8 1308.8,1265.8 1309.7,1269.8 1310.5,1269.8 1311.3,1269.8 1312.2,1265.8 1313.0,1265.8 1313.8,1261.8 1314.6,1261.8" fill="none" stroke="#FF0000" stroke-width="1.5" stroke-linejoin="round"/>
<rect x="1004.4" y="257.2" width="222" height="74" fill="#fff" stroke="#000" stroke-width="0.9"/>
<path d="M1008.4 277.18h63" stroke="#515151" stroke-width="1.6"/><path d="M1008.4 311.96h63" stroke="#F14040" stroke-width="1.4"/>
<text x="1078.4" y="286.98" font-size="28.6">Simulation</text>
<text x="1078.4" y="321.76" font-size="28.6">Experiment</text>
<rect x="1004.4" y="832.3" width="222" height="72.5" fill="#fff" stroke="#000" stroke-width="0.9"/>
<path d="M1008.4 851.88h63" stroke="#000" stroke-width="1.6"/><path d="M1008.4 885.95h63" stroke="#FF0000" stroke-width="1.4"/>
<text x="1078.4" y="861.67" font-size="28.6">Simulation</text>
<text x="1078.4" y="895.75" font-size="28.6">Experiment</text>
<rect x="1024.4" y="1428.5" width="223" height="73.2" fill="#fff" stroke="#000" stroke-width="0.9"/>
<path d="M1028.4 1448.26h63" stroke="#000" stroke-width="1.6"/><path d="M1028.4 1482.67h63" stroke="#FF0000" stroke-width="1.4"/>
<text x="1098.4" y="1458.06" font-size="28.6">Simulation</text>
<text x="1098.4" y="1492.47" font-size="28.6">Experiment</text>
<rect x="762.15" y="15.45" width="553.05" height="483.75" fill="none" stroke="#000" stroke-width="1.9"/>
<rect x="762.15" y="589.9" width="553.05" height="483.95" fill="none" stroke="#000" stroke-width="1.9"/>
<rect x="762.15" y="1165" width="553.05" height="483.8" fill="none" stroke="#000" stroke-width="1.9"/>
<path d="M762.15 499.2v-9.0M762.15 15.45v9.0M854.33 499.2v-9.0M854.33 15.45v9.0M946.5 499.2v-9.0M946.5 15.45v9.0M1038.67 499.2v-9.0M1038.67 15.45v9.0M1130.85 499.2v-9.0M1130.85 15.45v9.0M1223.03 499.2v-9.0M1223.03 15.45v9.0M1315.2 499.2v-9.0M1315.2 15.45v9.0M808.24 499.2v-4.6M808.24 15.45v4.6M900.41 499.2v-4.6M900.41 15.45v4.6M992.59 499.2v-4.6M992.59 15.45v4.6M1084.76 499.2v-4.6M1084.76 15.45v4.6M1176.94 499.2v-4.6M1176.94 15.45v4.6M1269.11 499.2v-4.6M1269.11 15.45v4.6M762.15 55.76h9.0M1315.2 55.76h-9.0M762.15 136.39h9.0M1315.2 136.39h-9.0M762.15 217.01h9.0M1315.2 217.01h-9.0M762.15 297.64h9.0M1315.2 297.64h-9.0M762.15 378.26h9.0M1315.2 378.26h-9.0M762.15 458.89h9.0M1315.2 458.89h-9.0M762.15 96.08h4.6M1315.2 96.08h-4.6M762.15 176.7h4.6M1315.2 176.7h-4.6M762.15 257.33h4.6M1315.2 257.33h-4.6M762.15 337.95h4.6M1315.2 337.95h-4.6M762.15 418.57h4.6M1315.2 418.57h-4.6" stroke="#000" stroke-width="1.7" fill="none"/>
<text x="762.15" y="531.2" font-size="28.6" text-anchor="middle">0</text>
<text x="854.33" y="531.2" font-size="28.6" text-anchor="middle">100</text>
<text x="946.5" y="531.2" font-size="28.6" text-anchor="middle">200</text>
<text x="1038.67" y="531.2" font-size="28.6" text-anchor="middle">300</text>
<text x="1130.85" y="531.2" font-size="28.6" text-anchor="middle">400</text>
<text x="1223.03" y="531.2" font-size="28.6" text-anchor="middle">500</text>
<text x="1315.2" y="531.2" font-size="28.6" text-anchor="middle">600</text>
<text x="752.65" y="64.76" font-size="28.6" text-anchor="end">1.0</text>
<text x="752.65" y="145.39" font-size="28.6" text-anchor="end">0.8</text>
<text x="752.65" y="226.01" font-size="28.6" text-anchor="end">0.6</text>
<text x="752.65" y="306.64" font-size="28.6" text-anchor="end">0.4</text>
<text x="752.65" y="387.26" font-size="28.6" text-anchor="end">0.2</text>
<text x="752.65" y="467.89" font-size="28.6" text-anchor="end">0.0</text>
<path d="M762.15 1073.85v-9.0M762.15 589.9v9.0M854.33 1073.85v-9.0M854.33 589.9v9.0M946.5 1073.85v-9.0M946.5 589.9v9.0M1038.67 1073.85v-9.0M1038.67 589.9v9.0M1130.85 1073.85v-9.0M1130.85 589.9v9.0M1223.03 1073.85v-9.0M1223.03 589.9v9.0M1315.2 1073.85v-9.0M1315.2 589.9v9.0M808.24 1073.85v-4.6M808.24 589.9v4.6M900.41 1073.85v-4.6M900.41 589.9v4.6M992.59 1073.85v-4.6M992.59 589.9v4.6M1084.76 1073.85v-4.6M1084.76 589.9v4.6M1176.94 1073.85v-4.6M1176.94 589.9v4.6M1269.11 1073.85v-4.6M1269.11 589.9v4.6M762.15 630.23h9.0M1315.2 630.23h-9.0M762.15 710.89h9.0M1315.2 710.89h-9.0M762.15 791.55h9.0M1315.2 791.55h-9.0M762.15 872.2h9.0M1315.2 872.2h-9.0M762.15 952.86h9.0M1315.2 952.86h-9.0M762.15 1033.52h9.0M1315.2 1033.52h-9.0M762.15 670.56h4.6M1315.2 670.56h-4.6M762.15 751.22h4.6M1315.2 751.22h-4.6M762.15 831.88h4.6M1315.2 831.88h-4.6M762.15 912.53h4.6M1315.2 912.53h-4.6M762.15 993.19h4.6M1315.2 993.19h-4.6" stroke="#000" stroke-width="1.7" fill="none"/>
<text x="762.15" y="1105.85" font-size="28.6" text-anchor="middle">0</text>
<text x="854.33" y="1105.85" font-size="28.6" text-anchor="middle">200</text>
<text x="946.5" y="1105.85" font-size="28.6" text-anchor="middle">400</text>
<text x="1038.67" y="1105.85" font-size="28.6" text-anchor="middle">600</text>
<text x="1130.85" y="1105.85" font-size="28.6" text-anchor="middle">800</text>
<text x="1223.03" y="1105.85" font-size="28.6" text-anchor="middle">1000</text>
<text x="1315.2" y="1105.85" font-size="28.6" text-anchor="middle">1200</text>
<text x="752.65" y="639.23" font-size="28.6" text-anchor="end">1.0</text>
<text x="752.65" y="719.89" font-size="28.6" text-anchor="end">0.8</text>
<text x="752.65" y="800.55" font-size="28.6" text-anchor="end">0.6</text>
<text x="752.65" y="881.2" font-size="28.6" text-anchor="end">0.4</text>
<text x="752.65" y="961.86" font-size="28.6" text-anchor="end">0.2</text>
<text x="752.65" y="1042.52" font-size="28.6" text-anchor="end">0.0</text>
<path d="M762.15 1648.8v-9.0M762.15 1165v9.0M872.76 1648.8v-9.0M872.76 1165v9.0M983.37 1648.8v-9.0M983.37 1165v9.0M1093.98 1648.8v-9.0M1093.98 1165v9.0M1204.59 1648.8v-9.0M1204.59 1165v9.0M1315.2 1648.8v-9.0M1315.2 1165v9.0M817.45 1648.8v-4.6M817.45 1165v4.6M928.07 1648.8v-4.6M928.07 1165v4.6M1038.67 1648.8v-4.6M1038.67 1165v4.6M1149.29 1648.8v-4.6M1149.29 1165v4.6M1259.89 1648.8v-4.6M1259.89 1165v4.6M762.15 1205.32h9.0M1315.2 1205.32h-9.0M762.15 1285.95h9.0M1315.2 1285.95h-9.0M762.15 1366.58h9.0M1315.2 1366.58h-9.0M762.15 1447.22h9.0M1315.2 1447.22h-9.0M762.15 1527.85h9.0M1315.2 1527.85h-9.0M762.15 1608.48h9.0M1315.2 1608.48h-9.0M762.15 1245.63h4.6M1315.2 1245.63h-4.6M762.15 1326.27h4.6M1315.2 1326.27h-4.6M762.15 1406.9h4.6M1315.2 1406.9h-4.6M762.15 1487.53h4.6M1315.2 1487.53h-4.6M762.15 1568.17h4.6M1315.2 1568.17h-4.6" stroke="#000" stroke-width="1.7" fill="none"/>
<text x="762.15" y="1680.8" font-size="28.6" text-anchor="middle">0</text>
<text x="872.76" y="1680.8" font-size="28.6" text-anchor="middle">400</text>
<text x="983.37" y="1680.8" font-size="28.6" text-anchor="middle">800</text>
<text x="1093.98" y="1680.8" font-size="28.6" text-anchor="middle">1200</text>
<text x="1204.59" y="1680.8" font-size="28.6" text-anchor="middle">1600</text>
<text x="1315.2" y="1680.8" font-size="28.6" text-anchor="middle">2000</text>
<text x="752.65" y="1214.32" font-size="28.6" text-anchor="end">1.0</text>
<text x="752.65" y="1294.95" font-size="28.6" text-anchor="end">0.8</text>
<text x="752.65" y="1375.58" font-size="28.6" text-anchor="end">0.6</text>
<text x="752.65" y="1456.22" font-size="28.6" text-anchor="end">0.4</text>
<text x="752.65" y="1536.85" font-size="28.6" text-anchor="end">0.2</text>
<text x="752.65" y="1617.48" font-size="28.6" text-anchor="end">0.0</text>
<text x="1039.58" y="578.8" font-size="31.75" text-anchor="middle">Iteration number</text>
<text transform="translate(701 256.9) rotate(-90)" font-size="31.75" text-anchor="middle">Ground state probability</text>
<text x="1039.58" y="1153.45" font-size="31.75" text-anchor="middle">Iteration number</text>
<text transform="translate(701 831.4) rotate(-90)" font-size="31.75" text-anchor="middle">Ground state probability</text>
<text x="1039.58" y="1729" font-size="31.75" text-anchor="middle">Iteration number</text>
<text transform="translate(701 1405.9) rotate(-90)" font-size="31.75" text-anchor="middle">Ground state probability</text>
<text x="668.75" y="42" font-size="38.2">b)</text>
<text x="670.5" y="617.3" font-size="38.2">e)</text>
<text x="677.5" y="1191.75" font-size="38.2">h)</text>
<path d="M1945.6 499.2V103.9H1952.2V499.2M1934.9 499.2V382.4H1941.5V499.2M1924.3 499.2V447.4H1930.9V499.2M1913.6 499.2V470.2H1920.2V499.2M1903.0 499.2V479.2H1909.6V499.2M1892.3 499.2V486.4H1898.9V499.2M1881.7 499.2V488.5H1888.3V499.2M1871.0 499.2V491.3H1877.6V499.2M1860.4 499.2V492.6H1867.0V499.2M1849.7 499.2V493.3H1856.3V499.2M1839.1 499.2V494.7H1845.7V499.2M1828.4 499.2V495.7H1835.0V499.2M1817.8 499.2V495.9H1824.4V499.2M1807.1 499.2V496.4H1813.7V499.2M1796.5 499.2V497.1H1803.1V499.2M1785.8 499.2V497.7H1792.4V499.2M1775.2 499.2V498.0H1781.8V499.2M1764.5 499.2V498.2H1771.1V499.2M1753.9 499.2V498.5H1760.5V499.2M1743.2 499.2V498.6H1749.8V499.2M1732.6 499.2V498.8H1739.2V499.2M1721.9 499.2V498.8H1728.5V499.2M1711.3 499.2V498.8H1717.9V499.2M1700.7 499.2V498.8H1707.3V499.2M1690.0 499.2V498.8H1696.6V499.2M1679.4 499.2V498.8H1686.0V499.2M1668.7 499.2V498.8H1675.3V499.2M1658.1 499.2V498.8H1664.7V499.2M1647.4 499.2V498.8H1654.0V499.2M1636.8 499.2V498.8H1643.4V499.2" fill="#4EBBFC" stroke="#101010" stroke-width="1.35"/>
<path d="M1954.6 1073.85V653.8H1962.6V1073.85M1943.8 1073.85V786.4H1951.8V1073.85M1932.9 1073.85V961.6H1940.9V1073.85M1922.1 1073.85V1037.1H1930.1V1073.85M1911.3 1073.85V1052.6H1919.3V1073.85M1900.4 1073.85V1060.8H1908.4V1073.85M1889.6 1073.85V1063.7H1897.6V1073.85M1878.8 1073.85V1065.6H1886.8V1073.85M1867.9 1073.85V1067.1H1875.9V1073.85M1857.1 1073.85V1068.5H1865.1V1073.85M1846.3 1073.85V1069.2H1854.3V1073.85M1835.5 1073.85V1070.0H1843.5V1073.85M1824.6 1073.85V1070.5H1832.6V1073.85M1813.8 1073.85V1070.9H1821.8V1073.85M1803.0 1073.85V1071.1H1811.0V1073.85M1792.1 1073.85V1071.4H1800.1V1073.85M1781.3 1073.85V1071.9H1789.3V1073.85M1770.5 1073.85V1072.1H1778.5V1073.85M1759.6 1073.85V1072.3H1767.6V1073.85M1748.8 1073.85V1072.4H1756.8V1073.85M1738.0 1073.85V1072.6H1746.0V1073.85M1727.2 1073.85V1072.7H1735.2V1073.85M1716.3 1073.85V1072.8H1724.3V1073.85M1705.5 1073.85V1072.9H1713.5V1073.85M1694.7 1073.85V1073.0H1702.7V1073.85M1683.8 1073.85V1073.1H1691.8V1073.85M1673.0 1073.85V1073.2H1681.0V1073.85M1662.2 1073.85V1073.2H1670.2V1073.85M1651.3 1073.85V1073.3H1659.3V1073.85M1640.5 1073.85V1073.4H1648.5V1073.85M1629.7 1073.85V1073.4H1637.7V1073.85M1618.9 1073.85V1073.4H1626.9V1073.85M1608.0 1073.85V1073.4H1616.0V1073.85M1597.2 1073.85V1073.4H1605.2V1073.85M1586.4 1073.85V1073.4H1594.4V1073.85M1575.5 1073.85V1073.4H1583.5V1073.85M1564.7 1073.85V1073.4H1572.7V1073.85M1553.9 1073.85V1073.4H1561.9V1073.85M1543.0 1073.85V1073.4H1551.0V1073.85M1532.2 1073.85V1073.4H1540.2V1073.85" fill="#4EBBFC" stroke="#101010" stroke-width="1.35"/>
<path d="M1954.6 1648.8V1313.4H1962.6V1648.8M1943.8 1648.8V1208.5H1951.8V1648.8M1932.9 1648.8V1416.6H1940.9V1648.8M1922.1 1648.8V1489.1H1930.1V1648.8M1911.3 1648.8V1544.0H1919.3V1648.8M1900.4 1648.8V1577.0H1908.4V1648.8M1889.6 1648.8V1603.6H1897.6V1648.8M1878.8 1648.8V1619.8H1886.8V1648.8M1867.9 1648.8V1630.3H1875.9V1648.8M1857.1 1648.8V1634.3H1865.1V1648.8M1846.3 1648.8V1635.1H1854.3V1648.8M1835.5 1648.8V1636.7H1843.5V1648.8M1824.6 1648.8V1637.5H1832.6V1648.8M1813.8 1648.8V1637.8H1821.8V1648.8M1803.0 1648.8V1639.1H1811.0V1648.8M1792.1 1648.8V1639.4H1800.1V1648.8M1781.3 1648.8V1639.9H1789.3V1648.8M1770.5 1648.8V1640.7H1778.5V1648.8M1759.6 1648.8V1642.3H1767.6V1648.8M1748.8 1648.8V1642.3H1756.8V1648.8M1738.0 1648.8V1643.2H1746.0V1648.8M1727.2 1648.8V1644.0H1735.2V1648.8M1716.3 1648.8V1644.8H1724.3V1648.8M1705.5 1648.8V1645.1H1713.5V1648.8M1694.7 1648.8V1645.3H1702.7V1648.8M1683.8 1648.8V1645.6H1691.8V1648.8M1673.0 1648.8V1645.8H1681.0V1648.8M1662.2 1648.8V1646.0H1670.2V1648.8M1651.3 1648.8V1646.2H1659.3V1648.8M1640.5 1648.8V1646.4H1648.5V1648.8M1629.7 1648.8V1646.5H1637.7V1648.8M1618.9 1648.8V1646.7H1626.9V1648.8M1608.0 1648.8V1646.8H1616.0V1648.8M1597.2 1648.8V1647.0H1605.2V1648.8M1586.4 1648.8V1647.1H1594.4V1648.8M1575.5 1648.8V1647.2H1583.5V1648.8M1564.7 1648.8V1647.3H1572.7V1648.8M1553.9 1648.8V1647.4H1561.9V1648.8M1543.0 1648.8V1647.5H1551.0V1648.8M1532.2 1648.8V1647.6H1540.2V1648.8M1521.4 1648.8V1647.7H1529.4V1648.8M1510.6 1648.8V1647.8H1518.6V1648.8M1499.7 1648.8V1647.9H1507.7V1648.8M1488.9 1648.8V1647.9H1496.9V1648.8M1478.1 1648.8V1648.0H1486.1V1648.8M1467.2 1648.8V1648.0H1475.2V1648.8M1456.4 1648.8V1648.1H1464.4V1648.8M1445.6 1648.8V1648.1H1453.6V1648.8M1434.7 1648.8V1648.2H1442.7V1648.8M1423.9 1648.8V1648.2H1431.9V1648.8" fill="#4EBBFC" stroke="#101010" stroke-width="1.35"/>
<rect x="1422.1" y="15.45" width="553.15" height="483.75" fill="none" stroke="#000" stroke-width="1.9"/>
<rect x="1422.1" y="589.9" width="553.15" height="483.95" fill="none" stroke="#000" stroke-width="1.9"/>
<rect x="1422.1" y="1165" width="553.15" height="483.8" fill="none" stroke="#000" stroke-width="1.9"/>
<path d="M1422.1 499.2v-9.0M1422.1 15.45v9.0M1528.24 499.2v-9.0M1528.24 15.45v9.0M1634.73 499.2v-9.0M1634.73 15.45v9.0M1741.22 499.2v-9.0M1741.22 15.45v9.0M1847.71 499.2v-9.0M1847.71 15.45v9.0M1954.2 499.2v-9.0M1954.2 15.45v9.0M1475 499.2v-4.6M1475 15.45v4.6M1581.49 499.2v-4.6M1581.49 15.45v4.6M1687.98 499.2v-4.6M1687.98 15.45v4.6M1794.47 499.2v-4.6M1794.47 15.45v4.6M1900.96 499.2v-4.6M1900.96 15.45v4.6M1422.1 499.2h9.0M1975.25 499.2h-9.0M1422.1 430.09h9.0M1975.25 430.09h-9.0M1422.1 360.99h9.0M1975.25 360.99h-9.0M1422.1 291.88h9.0M1975.25 291.88h-9.0M1422.1 222.77h9.0M1975.25 222.77h-9.0M1422.1 153.66h9.0M1975.25 153.66h-9.0M1422.1 84.56h9.0M1975.25 84.56h-9.0M1422.1 15.45h9.0M1975.25 15.45h-9.0M1422.1 464.65h4.6M1975.25 464.65h-4.6M1422.1 395.54h4.6M1975.25 395.54h-4.6M1422.1 326.43h4.6M1975.25 326.43h-4.6M1422.1 257.32h4.6M1975.25 257.32h-4.6M1422.1 188.22h4.6M1975.25 188.22h-4.6M1422.1 119.11h4.6M1975.25 119.11h-4.6M1422.1 50h4.6M1975.25 50h-4.6" stroke="#000" stroke-width="1.7" fill="none"/>
<text x="1422.1" y="531.2" font-size="28.6" text-anchor="middle">0.995</text>
<text x="1528.24" y="531.2" font-size="28.6" text-anchor="middle">0.996</text>
<text x="1634.73" y="531.2" font-size="28.6" text-anchor="middle">0.997</text>
<text x="1741.22" y="531.2" font-size="28.6" text-anchor="middle">0.998</text>
<text x="1847.71" y="531.2" font-size="28.6" text-anchor="middle">0.999</text>
<text x="1954.2" y="531.2" font-size="28.6" text-anchor="middle">1.000</text>
<text x="1412.6" y="508.2" font-size="28.6" text-anchor="end">0.0</text>
<text x="1412.6" y="439.09" font-size="28.6" text-anchor="end">0.1</text>
<text x="1412.6" y="369.99" font-size="28.6" text-anchor="end">0.2</text>
<text x="1412.6" y="300.88" font-size="28.6" text-anchor="end">0.3</text>
<text x="1412.6" y="231.77" font-size="28.6" text-anchor="end">0.4</text>
<text x="1412.6" y="162.66" font-size="28.6" text-anchor="end">0.5</text>
<text x="1412.6" y="93.56" font-size="28.6" text-anchor="end">0.6</text>
<text x="1412.6" y="24.45" font-size="28.6" text-anchor="end">0.7</text>
<path d="M1422.1 1073.85v-9.0M1422.1 589.9v9.0M1530.8 1073.85v-9.0M1530.8 589.9v9.0M1639.1 1073.85v-9.0M1639.1 589.9v9.0M1747.4 1073.85v-9.0M1747.4 589.9v9.0M1855.7 1073.85v-9.0M1855.7 589.9v9.0M1964 1073.85v-9.0M1964 589.9v9.0M1476.65 1073.85v-4.6M1476.65 589.9v4.6M1584.95 1073.85v-4.6M1584.95 589.9v4.6M1693.25 1073.85v-4.6M1693.25 589.9v4.6M1801.55 1073.85v-4.6M1801.55 589.9v4.6M1909.85 1073.85v-4.6M1909.85 589.9v4.6M1422.1 1073.85h9.0M1975.25 1073.85h-9.0M1422.1 977.06h9.0M1975.25 977.06h-9.0M1422.1 880.27h9.0M1975.25 880.27h-9.0M1422.1 783.48h9.0M1975.25 783.48h-9.0M1422.1 686.69h9.0M1975.25 686.69h-9.0M1422.1 589.9h9.0M1975.25 589.9h-9.0M1422.1 1025.45h4.6M1975.25 1025.45h-4.6M1422.1 928.66h4.6M1975.25 928.66h-4.6M1422.1 831.88h4.6M1975.25 831.88h-4.6M1422.1 735.09h4.6M1975.25 735.09h-4.6M1422.1 638.29h4.6M1975.25 638.29h-4.6" stroke="#000" stroke-width="1.7" fill="none"/>
<text x="1422.1" y="1105.85" font-size="28.6" text-anchor="middle">0.995</text>
<text x="1530.8" y="1105.85" font-size="28.6" text-anchor="middle">0.996</text>
<text x="1639.1" y="1105.85" font-size="28.6" text-anchor="middle">0.997</text>
<text x="1747.4" y="1105.85" font-size="28.6" text-anchor="middle">0.998</text>
<text x="1855.7" y="1105.85" font-size="28.6" text-anchor="middle">0.999</text>
<text x="1964" y="1105.85" font-size="28.6" text-anchor="middle">1.000</text>
<text x="1412.6" y="1082.85" font-size="28.6" text-anchor="end">0.0</text>
<text x="1412.6" y="986.06" font-size="28.6" text-anchor="end">0.1</text>
<text x="1412.6" y="889.27" font-size="28.6" text-anchor="end">0.2</text>
<text x="1412.6" y="792.48" font-size="28.6" text-anchor="end">0.3</text>
<text x="1412.6" y="695.69" font-size="28.6" text-anchor="end">0.4</text>
<text x="1412.6" y="598.9" font-size="28.6" text-anchor="end">0.5</text>
<path d="M1422.1 1648.8v-9.0M1422.1 1165v9.0M1530.8 1648.8v-9.0M1530.8 1165v9.0M1639.1 1648.8v-9.0M1639.1 1165v9.0M1747.4 1648.8v-9.0M1747.4 1165v9.0M1855.7 1648.8v-9.0M1855.7 1165v9.0M1964 1648.8v-9.0M1964 1165v9.0M1476.65 1648.8v-4.6M1476.65 1165v4.6M1584.95 1648.8v-4.6M1584.95 1165v4.6M1693.25 1648.8v-4.6M1693.25 1165v4.6M1801.55 1648.8v-4.6M1801.55 1165v4.6M1909.85 1648.8v-4.6M1909.85 1165v4.6M1422.1 1648.8h9.0M1975.25 1648.8h-9.0M1422.1 1487.53h9.0M1975.25 1487.53h-9.0M1422.1 1326.27h9.0M1975.25 1326.27h-9.0M1422.1 1165h9.0M1975.25 1165h-9.0M1422.1 1568.17h4.6M1975.25 1568.17h-4.6M1422.1 1406.9h4.6M1975.25 1406.9h-4.6M1422.1 1245.63h4.6M1975.25 1245.63h-4.6" stroke="#000" stroke-width="1.7" fill="none"/>
<text x="1422.1" y="1680.8" font-size="28.6" text-anchor="middle">0.995</text>
<text x="1530.8" y="1680.8" font-size="28.6" text-anchor="middle">0.996</text>
<text x="1639.1" y="1680.8" font-size="28.6" text-anchor="middle">0.997</text>
<text x="1747.4" y="1680.8" font-size="28.6" text-anchor="middle">0.998</text>
<text x="1855.7" y="1680.8" font-size="28.6" text-anchor="middle">0.999</text>
<text x="1964" y="1680.8" font-size="28.6" text-anchor="middle">1.000</text>
<text x="1412.6" y="1657.8" font-size="28.6" text-anchor="end">0.0</text>
<text x="1412.6" y="1496.53" font-size="28.6" text-anchor="end">0.1</text>
<text x="1412.6" y="1335.27" font-size="28.6" text-anchor="end">0.2</text>
<text x="1412.6" y="1174" font-size="28.6" text-anchor="end">0.3</text>
<text x="1699.58" y="578.8" font-size="31.75" text-anchor="middle">Fidelity</text>
<text transform="translate(1363 257) rotate(-90)" font-size="31.75" text-anchor="middle">Probability distribution</text>
<text x="1699.58" y="1153.45" font-size="31.75" text-anchor="middle">Fidelity</text>
<text transform="translate(1363 832) rotate(-90)" font-size="31.75" text-anchor="middle">Probability distribution</text>
<text x="1699.58" y="1729" font-size="31.75" text-anchor="middle">Fidelity</text>
<text transform="translate(1363 1406) rotate(-90)" font-size="31.75" text-anchor="middle">Probability distribution</text>
<text x="1324.85" y="42.2" font-size="38.2">c)</text>
<text x="1325.6" y="616.9" font-size="38.2">f)</text>
<text x="1328.6" y="1191.75" font-size="38.2">i)</text>
</svg>
</body></html>
